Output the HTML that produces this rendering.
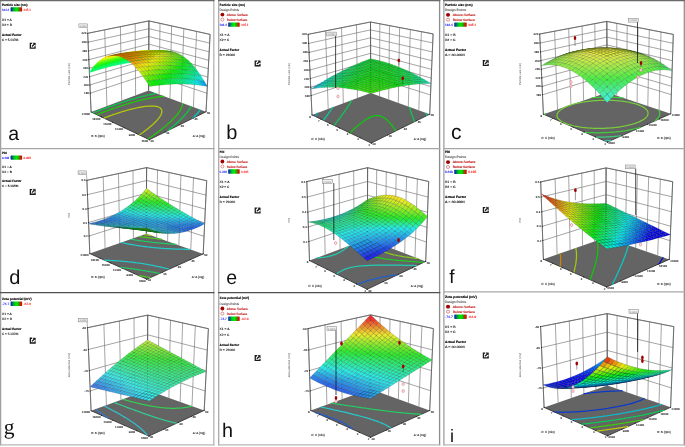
<!DOCTYPE html><html><head><meta charset="utf-8"><style>
html,body{margin:0;padding:0;background:#fff;}
body{width:685px;height:447px;overflow:hidden;font-family:"Liberation Sans",sans-serif;}
svg{display:block;font-family:"Liberation Sans",sans-serif;will-change:transform;text-rendering:geometricPrecision;}
</style></head><body>
<svg width="685" height="447" viewBox="0 0 685 447" font-family="Liberation Sans, sans-serif"><g><g stroke="#747474" stroke-width=".65" fill="none"><line x1="91.1" y1="112.0" x2="87.7" y2="33.3"/><line x1="106.9" y1="106.1" x2="104.7" y2="29.9"/><line x1="121.7" y1="100.6" x2="120.4" y2="26.7"/><line x1="135.6" y1="95.4" x2="135.2" y2="23.7"/><line x1="148.6" y1="90.6" x2="148.9" y2="20.9"/><line x1="206.0" y1="111.8" x2="210.1" y2="34.4"/><line x1="193.4" y1="107.2" x2="196.6" y2="31.4"/><line x1="181.4" y1="102.7" x2="183.8" y2="28.6"/><line x1="170.0" y1="98.5" x2="171.6" y2="25.9"/><line x1="159.1" y1="94.4" x2="160.0" y2="23.3"/><line x1="148.6" y1="90.6" x2="148.9" y2="20.9"/><line x1="90.3" y1="93.2" x2="148.7" y2="73.9"/><line x1="148.7" y1="73.9" x2="207.0" y2="93.3"/><line x1="89.9" y1="85.0" x2="148.7" y2="66.6"/><line x1="148.7" y1="66.6" x2="207.4" y2="85.3"/><line x1="89.6" y1="76.7" x2="148.7" y2="59.2"/><line x1="148.7" y1="59.2" x2="207.8" y2="77.1"/><line x1="89.2" y1="68.2" x2="148.8" y2="51.7"/><line x1="148.8" y1="51.7" x2="208.3" y2="68.7"/><line x1="88.8" y1="59.7" x2="148.8" y2="44.1"/><line x1="148.8" y1="44.1" x2="208.7" y2="60.3"/><line x1="88.5" y1="51.0" x2="148.9" y2="36.5"/><line x1="148.9" y1="36.5" x2="209.2" y2="51.8"/><line x1="88.1" y1="42.2" x2="148.9" y2="28.7"/><line x1="148.9" y1="28.7" x2="209.6" y2="43.1"/><line x1="87.7" y1="33.3" x2="148.9" y2="20.9"/><line x1="148.9" y1="20.9" x2="210.1" y2="34.4"/></g>
<polyline points="91.1,112.0 87.7,33.3 148.9,20.9 210.1,34.4 206.0,111.8" stroke="#555" stroke-width=".7" fill="none"/>
<line x1="148.6" y1="90.6" x2="148.9" y2="20.9" stroke="#555" stroke-width=".7"/>
<polygon points="91.1,112.0 149.4,139.7 206.0,111.8 148.6,90.6" fill="#646464"/>
<polyline points="91.1,112.0 149.4,139.7 206.0,111.8" stroke="#2a2a2a" stroke-width=".8" fill="none"/>
<polyline points="192.5,118.5 193.1,117.9 193.5,117.5 193.9,117.1 194.3,116.6 194.7,116.3 195.2,115.7 195.5,115.4 196.0,114.9 196.2,114.6 196.7,114.1 197.0,113.8 197.4,113.3 197.7,113.0 198.1,112.4 198.4,112.2 198.8,111.7 199.1,111.4 199.4,110.9 199.7,110.5 200.0,110.2 200.4,109.7 200.4,109.7" stroke="#06ccc9" stroke-width="1.25" stroke-linejoin="round" fill="none"/>
<polyline points="167.7,130.7 168.5,130.1 169.2,129.5 169.6,129.2 170.3,128.6 171.0,128.0 171.4,127.7 172.1,127.1 172.5,126.8 173.2,126.2 173.8,125.7 174.2,125.4 174.9,124.8 175.2,124.5 175.8,123.9 176.4,123.4 176.8,123.1 177.5,122.5 177.8,122.2 178.4,121.6 178.7,121.3 179.3,120.8 179.7,120.4 180.2,119.9 180.7,119.5 181.1,119.0 181.6,118.5 181.9,118.2 182.4,117.7 182.8,117.3 183.3,116.8 183.6,116.5 184.0,116.0 184.3,115.6 184.8,115.2 185.1,114.8 185.4,114.4 185.8,114.0 186.1,113.7 186.5,113.1 186.8,112.8 187.2,112.3 187.4,112.0 187.8,111.5 188.1,111.1 188.3,110.8 188.7,110.3 188.9,110.0 189.3,109.5 189.5,109.2 189.7,108.9 190.0,108.3 190.2,108.0 190.4,107.7 190.7,107.2 190.9,106.9 191.1,106.6 191.2,106.3" stroke="#06cc46" stroke-width="1.25" stroke-linejoin="round" fill="none"/>
<polyline points="156.2,93.4 155.4,93.5 154.5,93.7 153.6,93.9 152.8,94.0 151.7,94.3 151.1,94.4 150.0,94.6 149.5,94.7 148.4,95.0 147.5,95.2 146.8,95.4 145.7,95.6 145.2,95.8 144.1,96.0 143.1,96.3 142.5,96.4 141.5,96.7 140.4,97.0 139.8,97.1 138.8,97.4 137.8,97.7 136.8,98.0 136.2,98.1 135.2,98.4 134.1,98.7 133.2,99.0 132.6,99.1 131.6,99.4 130.5,99.7 129.5,100.1 129.0,100.2 127.9,100.5 126.9,100.8 125.9,101.2 124.8,101.5 123.9,101.8 123.3,102.0 122.3,102.3 121.2,102.6 120.2,103.0 119.2,103.3 118.1,103.7 117.1,104.0 116.6,104.2 115.5,104.5 114.5,104.9 113.5,105.3 112.4,105.6 111.4,106.0 110.3,106.4 109.3,106.7 108.3,107.1 107.2,107.5 106.2,107.9 105.1,108.2 104.1,108.6 103.0,109.0 102.0,109.4 100.9,109.8 99.9,110.2 98.8,110.6 97.8,111.0 96.7,111.4 95.7,111.8 94.6,112.2 93.5,112.7 93.0,112.9" stroke="#06cc46" stroke-width="1.25" stroke-linejoin="round" fill="none"/>
<polyline points="148.1,139.0 149.0,138.4 149.8,137.9 150.4,137.5 151.2,136.9 152.1,136.3 152.6,136.0 153.4,135.4 154.3,134.7 154.7,134.4 155.5,133.8 156.3,133.2 156.8,132.9 157.6,132.3 158.4,131.7 158.8,131.4 159.5,130.8 160.3,130.2 160.7,129.9 161.5,129.3 162.0,128.9 162.6,128.4 163.3,127.8 163.7,127.5 164.4,126.9 165.0,126.5 165.5,126.1 166.2,125.5 166.5,125.2 167.2,124.6 167.6,124.3 168.2,123.7 168.7,123.2 169.2,122.8 169.8,122.3 170.1,122.0 170.8,121.4 171.1,121.1 171.7,120.5 172.0,120.2 172.5,119.6 172.8,119.3 173.4,118.8 173.7,118.5 174.2,117.9 174.5,117.6 175.1,117.0 175.3,116.7 175.7,116.2 176.1,115.9 176.4,115.5 176.8,115.0 177.1,114.7 177.5,114.1 177.8,113.8 178.1,113.4 178.4,112.9 178.6,112.6 179.1,112.1 179.3,111.8 179.5,111.4 179.8,110.9 180.0,110.6 180.2,110.2 180.5,109.7 180.7,109.4 180.9,109.1 181.1,108.5 181.3,108.2 181.4,107.9 181.6,107.5 181.8,107.0 181.9,106.7 182.0,106.3 182.1,106.0 182.2,105.6 182.3,105.1 182.4,104.8 182.4,104.4 182.4,104.1 182.5,103.8 182.5,103.4 182.4,103.1" stroke="#1ccc06" stroke-width="1.25" stroke-linejoin="round" fill="none"/>
<polyline points="164.0,96.3 163.3,96.3 162.5,96.4 161.8,96.4 160.7,96.6 159.8,96.6 159.1,96.7 158.2,96.8 157.2,97.0 156.5,97.1 155.4,97.2 154.6,97.4 154.0,97.5 152.8,97.7 152.2,97.8 151.0,98.0 150.4,98.1 149.2,98.3 148.7,98.4 147.5,98.7 146.9,98.8 145.8,99.1 145.1,99.2 144.1,99.4 142.9,99.7 142.4,99.8 141.3,100.1 140.5,100.3 139.6,100.5 138.5,100.8 137.9,100.9 136.9,101.2 135.8,101.5 135.0,101.7 134.1,102.0 133.1,102.3 132.0,102.6 131.4,102.7 130.4,103.0 129.3,103.3 128.2,103.7 127.7,103.8 126.6,104.1 125.6,104.5 124.5,104.8 123.4,105.1 122.9,105.3 121.8,105.6 120.8,106.0 119.7,106.3 118.6,106.7 117.6,107.0 116.5,107.4 116.0,107.6 114.9,108.0 113.9,108.3 112.8,108.7 111.7,109.1 110.7,109.4 109.6,109.8 108.6,110.2 107.5,110.6 106.4,111.0 105.4,111.4 104.3,111.8 103.2,112.2 102.2,112.6 101.1,113.0 100.0,113.4 98.9,113.8 97.9,114.3 96.8,114.7 96.8,114.7" stroke="#1ccc06" stroke-width="1.25" stroke-linejoin="round" fill="none"/>
<polyline points="139.4,134.9 140.3,134.3 140.7,134.0 141.6,133.4 142.4,132.8 142.9,132.5 143.7,131.9 144.5,131.2 144.9,130.9 145.7,130.3 146.2,130.0 146.9,129.4 147.7,128.8 148.1,128.5 148.8,127.9 149.2,127.6 149.9,127.0 150.4,126.6 151.0,126.1 151.6,125.6 152.0,125.2 152.7,124.6 153.0,124.2 153.7,123.7 154.0,123.3 154.6,122.8 155.0,122.4 155.4,122.0 155.9,121.5 156.2,121.1 156.7,120.6 157.0,120.3 157.6,119.6 157.8,119.3 158.2,118.9 158.6,118.4 158.8,118.1 159.2,117.5 159.5,117.1 159.7,116.8 160.1,116.3 160.3,115.8 160.5,115.5 160.7,115.1 161.0,114.6 161.2,114.2 161.3,113.8 161.5,113.5 161.6,113.0 161.7,112.6 161.8,112.1 161.8,111.7 161.9,111.3 161.8,110.9 161.8,110.5 161.7,110.1 161.6,109.7 161.4,109.4 161.2,109.1 160.9,108.6 160.5,108.2 160.2,107.9 159.4,107.5 158.5,107.0 157.5,106.7 156.3,106.4 155.7,106.3 154.7,106.2 153.5,106.1 152.6,106.0 151.7,106.0 150.8,106.0 149.8,106.0 148.9,106.1 148.1,106.1 147.4,106.2 146.4,106.3 145.1,106.4 144.4,106.5 143.7,106.6 142.4,106.8 141.7,106.9 140.7,107.1 139.7,107.3 139.0,107.4 137.8,107.7 137.1,107.8 135.9,108.0 135.0,108.3 134.1,108.5 132.9,108.8 132.3,108.9 131.1,109.2 130.2,109.4 129.3,109.7 128.1,110.0 127.3,110.2 126.4,110.5 125.2,110.8 124.1,111.1 123.5,111.3 122.4,111.7 121.2,112.0 120.1,112.4 119.4,112.6 118.4,112.9 117.3,113.3 116.2,113.6 115.1,114.0 113.9,114.4 113.1,114.7 112.3,115.0 111.2,115.4 110.0,115.8 108.9,116.2 107.8,116.6 106.7,117.0 105.6,117.4 104.5,117.9 104.0,118.1" stroke="#b6cc06" stroke-width="1.25" stroke-linejoin="round" fill="none"/>
<g transform="scale(.1)" stroke="#000" stroke-opacity="0.2" stroke-width="5.5" stroke-linejoin="round"><path d="M1488 585l26-1-27 25-26 1z" fill="#07f7cd" stroke="#07f7cd" stroke-opacity="1"/><path d="M1462 586l26-1-27 25-26 1z" fill="#07f7c0" stroke="#07f7c0" stroke-opacity="1"/><path d="M1515 563l26 0-27 21-26 1z" fill="#07f793" stroke="#07f793" stroke-opacity="1"/><path d="M1435 587l27-1-27 25-27 2z" fill="#07f7b5" stroke="#07f7b5" stroke-opacity="1"/><path d="M1488 564l27-1-27 22-26 1z" fill="#07f787" stroke="#07f787" stroke-opacity="1"/><path d="M1542 545l26 0-27 18-26 0z" fill="#07f761" stroke="#07f761" stroke-opacity="1"/><path d="M1408 589l27-2-27 26-27 3z" fill="#07f7aa" stroke="#07f7aa" stroke-opacity="1"/><path d="M1462 565l26-1-26 22-27 1z" fill="#07f77a" stroke="#07f77a" stroke-opacity="1"/><path d="M1516 545l26 0-27 18-27 1z" fill="#07f754" stroke="#07f754" stroke-opacity="1"/><path d="M1570 531l26 1-28 13-26 0z" fill="#07f736" stroke="#07f736" stroke-opacity="1"/><path d="M1380 592l28-3-27 27-27 3z" fill="#07f7a0" stroke="#07f7a0" stroke-opacity="1"/><path d="M1434 566l28-1-27 22-27 2z" fill="#07f76f" stroke="#07f76f" stroke-opacity="1"/><path d="M1489 546l27-1-28 19-26 1z" fill="#07f747" stroke="#07f747" stroke-opacity="1"/><path d="M1544 530l26 1-28 14-26 0z" fill="#07f728" stroke="#07f728" stroke-opacity="1"/><path d="M1598 520l26 1-28 11-26-1z" fill="#07f712" stroke="#07f712" stroke-opacity="1"/><path d="M1352 595l28-3-26 27-28 3z" fill="#07f797" stroke="#07f797" stroke-opacity="1"/><path d="M1407 568l27-2-26 23-28 3z" fill="#07f764" stroke="#07f764" stroke-opacity="1"/><path d="M1462 547l27-1-27 19-28 1z" fill="#07f73b" stroke="#07f73b" stroke-opacity="1"/><path d="M1517 531l27-1-28 15-27 1z" fill="#07f71b" stroke="#07f71b" stroke-opacity="1"/><path d="M1627 513l26 2-29 6-26-1z" fill="#20f707" stroke="#20f707" stroke-opacity="1"/><path d="M1572 519l26 1-28 11-26-1z" fill="#0df707" stroke="#0df707" stroke-opacity="1"/><path d="M1324 598l28-3-26 27-28 4z" fill="#07f78f" stroke="#07f78f" stroke-opacity="1"/><path d="M1379 571l28-3-27 24-28 3z" fill="#07f75b" stroke="#07f75b" stroke-opacity="1"/><path d="M1434 548l28-1-28 19-27 2z" fill="#07f730" stroke="#07f730" stroke-opacity="1"/><path d="M1489 531l28 0-28 15-27 1z" fill="#07f70e" stroke="#07f70e" stroke-opacity="1"/><path d="M1655 511l26 2-28 2-26-2z" fill="#3ef707" stroke="#3ef707" stroke-opacity="1"/><path d="M1545 519l27 0-28 11-27 1z" fill="#20f707" stroke="#20f707" stroke-opacity="1"/><path d="M1600 512l27 1-29 7-26-1z" fill="#35f707" stroke="#35f707" stroke-opacity="1"/><path d="M1295 602l29-4-26 28-29 4z" fill="#07f787" stroke="#07f787" stroke-opacity="1"/><path d="M1351 573l28-2-27 24-28 3z" fill="#07f752" stroke="#07f752" stroke-opacity="1"/><path d="M1406 550l28-2-27 20-28 3z" fill="#07f725" stroke="#07f725" stroke-opacity="1"/><path d="M1684 512l26 2-29-1-26-2z" fill="#52f707" stroke="#52f707" stroke-opacity="1"/><path d="M1462 532l27-1-27 16-28 1z" fill="#0ff707" stroke="#0ff707" stroke-opacity="1"/><path d="M1629 509l26 2-28 2-27-1z" fill="#54f707" stroke="#54f707" stroke-opacity="1"/><path d="M1518 519l27 0-28 12-28 0z" fill="#32f707" stroke="#32f707" stroke-opacity="1"/><path d="M1573 511l27 1-28 7-27 0z" fill="#49f707" stroke="#49f707" stroke-opacity="1"/><path d="M1266 606l29-4-26 28-29 5z" fill="#07f780" stroke="#07f780" stroke-opacity="1"/><path d="M1322 577l29-4-27 25-29 4z" fill="#07f749" stroke="#07f749" stroke-opacity="1"/><path d="M1714 517l26 3-30-6-26-2z" fill="#58eb07"/><path d="M1378 553l28-3-27 21-28 2z" fill="#07f71c" stroke="#07f71c" stroke-opacity="1"/><path d="M1658 510l26 2-29-1-26-2z" fill="#69f707" stroke="#69f707" stroke-opacity="1"/><path d="M1434 533l28-1-28 16-28 2z" fill="#1ef707" stroke="#1ef707" stroke-opacity="1"/><path d="M1602 508l27 1-29 3-27-1z" fill="#69f707" stroke="#69f707" stroke-opacity="1"/><path d="M1490 520l28-1-29 12-27 1z" fill="#43f707" stroke="#43f707" stroke-opacity="1"/><path d="M1546 511l27 0-28 8-27 0z" fill="#5cf707" stroke="#5cf707" stroke-opacity="1"/><path d="M1237 611l29-5-26 29-29 6z" fill="#07f77a" stroke="#07f77a" stroke-opacity="1"/><path d="M1293 581l29-4-27 25-29 4z" fill="#07f742" stroke="#07f742" stroke-opacity="1"/><path d="M1743 526l26 4-29-10-26-3z" fill="#5aeb07"/><path d="M1349 555l29-2-27 20-29 4z" fill="#07f713" stroke="#07f713" stroke-opacity="1"/><path d="M1688 515l26 2-30-5-26-2z" fill="#6feb07"/><path d="M1405 535l29-2-28 17-28 3z" fill="#2cf707" stroke="#2cf707" stroke-opacity="1"/><path d="M1631 508l27 2-29-1-27-1z" fill="#7ff707" stroke="#7ff707" stroke-opacity="1"/><path d="M1462 521l28-1-28 12-28 1z" fill="#53f707" stroke="#53f707" stroke-opacity="1"/><path d="M1575 507l27 1-29 3-27 0z" fill="#7cf707" stroke="#7cf707" stroke-opacity="1"/><path d="M1519 511l27 0-28 8-28 1z" fill="#6ef707" stroke="#6ef707" stroke-opacity="1"/><path d="M1207 616l30-5-26 30-30 6z" fill="#07f775" stroke="#07f775" stroke-opacity="1"/><path d="M1773 540l26 3-30-13-26-4z" fill="#52eb07"/><path d="M1263 585l30-4-27 25-29 5z" fill="#07f73b" stroke="#07f73b" stroke-opacity="1"/><path d="M1717 524l26 2-29-9-26-2z" fill="#71eb07"/><path d="M1320 559l29-4-27 22-29 4z" fill="#07f70b" stroke="#07f70b" stroke-opacity="1"/><path d="M1661 513l27 2-30-5-27-2z" fill="#84eb07"/><path d="M1377 538l28-3-27 18-29 2z" fill="#39f707" stroke="#39f707" stroke-opacity="1"/><path d="M1604 507l27 1-29 0-27-1z" fill="#93f707" stroke="#93f707" stroke-opacity="1"/><path d="M1434 522l28-1-28 12-29 2z" fill="#62f707" stroke="#62f707" stroke-opacity="1"/><path d="M1547 507l28 0-29 4-27 0z" fill="#8ff707" stroke="#8ff707" stroke-opacity="1"/><path d="M1491 512l28-1-29 9-28 1z" fill="#7ef707" stroke="#7ef707" stroke-opacity="1"/><path d="M1804 558l25 4-30-19-26-3z" fill="#41eb07"/><path d="M1177 622l30-6-26 31-30 6z" fill="#07f770" stroke="#07f770" stroke-opacity="1"/><path d="M1747 537l26 3-30-14-26-2z" fill="#6aeb07"/><path d="M1233 590l30-5-26 26-30 5z" fill="#07f735" stroke="#07f735" stroke-opacity="1"/><path d="M1691 522l26 2-29-9-27-2z" fill="#87eb07"/><path d="M1290 563l30-4-27 22-30 4z" fill="#0df707" stroke="#0df707" stroke-opacity="1"/><path d="M1834 580l25 4-30-22-25-4z" fill="#27eb07"/><path d="M1634 511l27 2-30-5-27-1z" fill="#98eb07"/><path d="M1347 541l30-3-28 17-29 4z" fill="#44f707" stroke="#44f707" stroke-opacity="1"/><path d="M1577 506l27 1-29 0-28 0z" fill="#a7f707" stroke="#a7f707" stroke-opacity="1"/><path d="M1405 524l29-2-29 13-28 3z" fill="#6ff707" stroke="#6ff707" stroke-opacity="1"/><path d="M1519 507l28 0-28 4-28 1z" fill="#a1f707" stroke="#a1f707" stroke-opacity="1"/><path d="M1462 513l29-1-29 9-28 1z" fill="#8ef707" stroke="#8ef707" stroke-opacity="1"/><path d="M1778 555l26 3-31-18-26-3z" fill="#5aeb07"/><path d="M1146 629l31-7-26 31-31 7z" fill="#07f76c" stroke="#07f76c" stroke-opacity="1"/><path d="M1721 535l26 2-30-13-26-2z" fill="#81eb07"/><path d="M1203 595l30-5-26 26-30 6z" fill="#07f730" stroke="#07f730" stroke-opacity="1"/><path d="M1864 607l26 4-31-27-25-4z" fill="#07eb09"/><path d="M1664 520l27 2-30-9-27-2z" fill="#9ceb07"/><path d="M1260 567l30-4-27 22-30 5z" fill="#16f707" stroke="#16f707" stroke-opacity="1"/><path d="M1606 510l28 1-30-4-27-1z" fill="#aceb07"/><path d="M1318 544l29-3-27 18-30 4z" fill="#4ff707" stroke="#4ff707" stroke-opacity="1"/><path d="M1808 577l26 3-30-22-26-3z" fill="#41eb07"/><path d="M1549 506l28 0-30 1-28 0z" fill="#b9f707" stroke="#b9f707" stroke-opacity="1"/><path d="M1375 526l30-2-28 14-30 3z" fill="#7cf707" stroke="#7cf707" stroke-opacity="1"/><path d="M1491 507l28 0-28 5-29 1z" fill="#b1f707" stroke="#b1f707" stroke-opacity="1"/><path d="M1433 514l29-1-28 9-29 2z" fill="#9df707" stroke="#9df707" stroke-opacity="1"/><path d="M1895 638l25 4-30-31-26-4z" fill="#07eb2a"/><path d="M1115 636l31-7-26 31-31 8z" fill="#07f769" stroke="#07f769" stroke-opacity="1"/><path d="M1751 552l27 3-31-18-26-2z" fill="#71eb07"/><path d="M1172 601l31-6-26 27-31 7z" fill="#07f72b" stroke="#07f72b" stroke-opacity="1"/><path d="M1694 533l27 2-30-13-27-2z" fill="#97eb07"/><path d="M1839 603l25 4-30-27-26-3z" fill="#1feb07"/><path d="M1230 572l30-5-27 23-30 5z" fill="#1ef707" stroke="#1ef707" stroke-opacity="1"/><path d="M1926 674l25 4-31-36-25-4z" fill="#07eb51"/><path d="M1636 518l28 2-30-9-28-1z" fill="#b0eb07"/><path d="M1288 548l30-4-28 19-30 4z" fill="#59f707" stroke="#59f707" stroke-opacity="1"/><path d="M1578 510l28 0-29-4-28 0z" fill="#beeb07"/><path d="M1782 574l26 3-30-22-27-3z" fill="#59eb07"/><path d="M1346 529l29-3-28 15-29 3z" fill="#88f707" stroke="#88f707" stroke-opacity="1"/><path d="M1520 506l29 0-30 1-28 0z" fill="#cbf707" stroke="#cbf707" stroke-opacity="1"/><path d="M1404 516l29-2-28 10-30 2z" fill="#aaf707" stroke="#aaf707" stroke-opacity="1"/><path d="M1462 509l29-2-29 6-29 1z" fill="#c1f707" stroke="#c1f707" stroke-opacity="1"/><path d="M1083 643l32-7-26 32-31 8z" fill="#07f767" stroke="#07f767" stroke-opacity="1"/><path d="M1869 634l26 4-31-31-25-4z" fill="#07eb15"/><path d="M1957 714l24 4-30-40-25-4z" fill="#07eb7e"/><path d="M1724 550l27 2-30-17-27-2z" fill="#88eb07"/><path d="M1141 608l31-7-26 28-31 7z" fill="#07f728" stroke="#07f728" stroke-opacity="1"/><path d="M1667 531l27 2-30-13-28-2z" fill="#aceb07"/><path d="M1812 600l27 3-31-26-26-3z" fill="#38eb07"/><path d="M1199 577l31-5-27 23-31 6z" fill="#25f707" stroke="#25f707" stroke-opacity="1"/><path d="M1987 758l25 5-31-45-24-4z" fill="#07ebb3"/><path d="M1608 517l28 1-30-8-28 0z" fill="#c3eb07"/><path d="M1900 670l26 4-31-36-26-4z" fill="#07eb3c"/><path d="M1257 552l31-4-28 19-30 5z" fill="#62f707" stroke="#62f707" stroke-opacity="1"/><path d="M1550 510l28 0-29-4-29 0z" fill="#cfeb07"/><path d="M1316 533l30-4-28 15-30 4z" fill="#93f707" stroke="#93f707" stroke-opacity="1"/><path d="M1755 571l27 3-31-22-27-2z" fill="#71eb07"/><path d="M1492 507l28-1-29 1-29 2z" fill="#dbf707" stroke="#dbf707" stroke-opacity="1"/><path d="M1051 652l32-9-25 33-32 8z" fill="#07f765" stroke="#07f765" stroke-opacity="1"/><path d="M1374 519l30-3-29 10-29 3z" fill="#b7f707" stroke="#b7f707" stroke-opacity="1"/><path d="M1433 510l29-1-29 5-29 2z" fill="#cff707" stroke="#cff707" stroke-opacity="1"/><path d="M2018 807l25 5-31-49-25-5z" fill="#07e7eb"/><path d="M1843 631l26 3-30-31-27-3z" fill="#0eeb07"/><path d="M1931 710l26 4-31-40-26-4z" fill="#07eb69"/><path d="M1697 548l27 2-30-17-27-2z" fill="#9eeb07"/><path d="M1109 615l32-7-26 28-32 7z" fill="#07f725" stroke="#07f725" stroke-opacity="1"/><path d="M2049 861l24 4-30-53-25-5z" fill="#079beb"/><path d="M1639 530l28 1-31-13-28-1z" fill="#c0eb07"/><path d="M1167 583l32-6-27 24-31 7z" fill="#2bf707" stroke="#2bf707" stroke-opacity="1"/><path d="M1786 597l26 3-30-26-27-3z" fill="#50eb07"/><path d="M1580 517l28 0-30-7-28 0z" fill="#d5eb07"/><path d="M1226 557l31-5-27 20-31 5z" fill="#6af707" stroke="#6af707" stroke-opacity="1"/><path d="M1962 754l25 4-30-44-26-4z" fill="#07eb9d"/><path d="M1874 666l26 4-31-36-26-3z" fill="#07eb28"/><path d="M1521 510l29 0-30-4-28 1z" fill="#e0eb07"/><path d="M1285 537l31-4-28 15-31 4z" fill="#9cf707" stroke="#9cf707" stroke-opacity="1"/><path d="M1019 660l32-8-25 32-33 10z" fill="#07f765" stroke="#07f765" stroke-opacity="1"/><path d="M1462 508l30-1-30 2-29 1z" fill="#eaf707" stroke="#eaf707" stroke-opacity="1"/><path d="M1344 522l30-3-28 10-30 4z" fill="#c3f707" stroke="#c3f707" stroke-opacity="1"/><path d="M1728 569l27 2-31-21-27-2z" fill="#87eb07"/><path d="M1403 512l30-2-29 6-30 3z" fill="#ddf707" stroke="#ddf707" stroke-opacity="1"/><path d="M1993 803l25 4-31-49-25-4z" fill="#07ebd7"/><path d="M1077 622l32-7-26 28-32 9z" fill="#07f723" stroke="#07f723" stroke-opacity="1"/><path d="M1817 628l26 3-31-31-26-3z" fill="#27eb07"/><path d="M1669 546l28 2-30-17-28-1z" fill="#b3eb07"/><path d="M1906 706l25 4-31-40-26-4z" fill="#07eb54"/><path d="M1136 590l31-7-26 25-32 7z" fill="#30f707" stroke="#30f707" stroke-opacity="1"/><path d="M1611 529l28 1-31-13-28 0z" fill="#d3eb07"/><path d="M2024 857l25 4-31-54-25-4z" fill="#07b6eb"/><path d="M1759 595l27 2-31-26-27-2z" fill="#68eb07"/><path d="M1195 563l31-6-27 20-32 6z" fill="#70f707" stroke="#70f707" stroke-opacity="1"/><path d="M1551 517l29 0-30-7-29 0z" fill="#e7eb07"/><path d="M1937 751l25 3-31-44-25-4z" fill="#07eb88"/><path d="M1848 663l26 3-31-35-26-3z" fill="#07eb15"/><path d="M986 670l33-10-26 34-32 9z" fill="#07f765" stroke="#07f765" stroke-opacity="1"/><path d="M1254 541l31-4-28 15-31 5z" fill="#a5f707" stroke="#a5f707" stroke-opacity="1"/><path d="M1492 511l29-1-29-3-30 1z" fill="#ebe607"/><path d="M1313 525l31-3-28 11-31 4z" fill="#cdf707" stroke="#cdf707" stroke-opacity="1"/><path d="M1433 510l29-2-29 2-30 2z" fill="#f7f607" stroke="#f7f607" stroke-opacity="1"/><path d="M1373 515l30-3-29 7-30 3z" fill="#e9f707" stroke="#e9f707" stroke-opacity="1"/><path d="M1700 567l28 2-31-21-28-2z" fill="#9deb07"/><path d="M1044 631l33-9-26 30-32 8z" fill="#07f721" stroke="#07f721" stroke-opacity="1"/><path d="M1968 800l25 3-31-49-25-3z" fill="#07ebc2"/><path d="M1790 626l27 2-31-31-27-2z" fill="#3feb07"/><path d="M1641 545l28 1-30-16-28-1z" fill="#c7eb07"/><path d="M1879 703l27 3-32-40-26-3z" fill="#07eb41"/><path d="M1103 597l33-7-27 25-32 7z" fill="#33f707" stroke="#33f707" stroke-opacity="1"/><path d="M1582 529l29 0-31-12-29 0z" fill="#e5eb07"/><path d="M1163 569l32-6-28 20-31 7z" fill="#76f707" stroke="#76f707" stroke-opacity="1"/><path d="M1999 853l25 4-31-54-25-3z" fill="#07d0eb"/><path d="M1731 593l28 2-31-26-28-2z" fill="#7eeb07"/><path d="M1522 517l29 0-30-7-29 1z" fill="#ebde07"/><path d="M952 679l34-9-25 33-33 11z" fill="#07f766" stroke="#07f766" stroke-opacity="1"/><path d="M1222 546l32-5-28 16-31 6z" fill="#acf707" stroke="#acf707" stroke-opacity="1"/><path d="M1462 512l30-1-30-3-29 2z" fill="#ebd807"/><path d="M1911 747l26 4-31-45-27-3z" fill="#07eb73"/><path d="M1821 661l27 2-31-35-27-2z" fill="#0eeb07"/><path d="M1282 529l31-4-28 12-31 4z" fill="#d7f707" stroke="#d7f707" stroke-opacity="1"/><path d="M1402 512l31-2-30 2-30 3z" fill="#f7e907" stroke="#f7e907" stroke-opacity="1"/><path d="M1342 518l31-3-29 7-31 3z" fill="#f4f707" stroke="#f4f707" stroke-opacity="1"/><path d="M1672 566l28 1-31-21-28-1z" fill="#b2eb07"/><path d="M1011 639l33-8-25 29-33 10z" fill="#07f721" stroke="#07f721" stroke-opacity="1"/><path d="M1942 796l26 4-31-49-26-4z" fill="#07ebac"/><path d="M1613 545l28 0-30-16-29 0z" fill="#daeb07"/><path d="M1763 623l27 3-31-31-28-2z" fill="#57eb07"/><path d="M1071 605l32-8-26 25-33 9z" fill="#36f707" stroke="#36f707" stroke-opacity="1"/><path d="M1853 700l26 3-31-40-27-2z" fill="#07eb2d"/><path d="M1553 529l29 0-31-12-29 0z" fill="#ebe007"/><path d="M1130 575l33-6-27 21-33 7z" fill="#7bf707" stroke="#7bf707" stroke-opacity="1"/><path d="M918 690l34-11-24 35-34 11z" fill="#07f767" stroke="#07f767" stroke-opacity="1"/><path d="M1703 592l28 1-31-26-28-1z" fill="#94eb07"/><path d="M1974 850l25 3-31-53-26-4z" fill="#07e9eb"/><path d="M1493 518l29-1-30-6-30 1z" fill="#ebcf07"/><path d="M1191 552l31-6-27 17-32 6z" fill="#b3f707" stroke="#b3f707" stroke-opacity="1"/><path d="M1432 514l30-2-29-2-31 2z" fill="#ebca07"/><path d="M1251 534l31-5-28 12-32 5z" fill="#dff707" stroke="#dff707" stroke-opacity="1"/><path d="M1372 515l30-3-29 3-31 3z" fill="#f7dc07" stroke="#f7dc07" stroke-opacity="1"/><path d="M1311 521l31-3-29 7-31 4z" fill="#f7f007" stroke="#f7f007" stroke-opacity="1"/><path d="M1794 658l27 3-31-35-27-3z" fill="#26eb07"/><path d="M1884 745l27 2-32-44-26-3z" fill="#07eb5f"/><path d="M978 649l33-10-25 31-34 9z" fill="#07f721" stroke="#07f721" stroke-opacity="1"/><path d="M1644 565l28 1-31-21-28 0z" fill="#c5eb07"/><path d="M1037 613l34-8-27 26-33 8z" fill="#38f707" stroke="#38f707" stroke-opacity="1"/><path d="M1584 545l29 0-31-16-29 0z" fill="#ebea07"/><path d="M1735 622l28 1-32-30-28-1z" fill="#6deb07"/><path d="M1916 794l26 2-31-49-27-2z" fill="#07eb98"/><path d="M1826 698l27 2-32-39-27-3z" fill="#07eb1b"/><path d="M1098 583l32-8-27 22-32 8z" fill="#7ef707" stroke="#7ef707" stroke-opacity="1"/><path d="M1523 529l30 0-31-12-29 1z" fill="#ebd007"/><path d="M1158 558l33-6-28 17-33 6z" fill="#b8f707" stroke="#b8f707" stroke-opacity="1"/><path d="M1462 520l31-2-31-6-30 2z" fill="#ebc107"/><path d="M1675 591l28 1-31-26-28-1z" fill="#a8eb07"/><path d="M1948 847l26 3-32-54-26-2z" fill="#07ebd7"/><path d="M1219 539l32-5-29 12-31 6z" fill="#e6f707" stroke="#e6f707" stroke-opacity="1"/><path d="M1402 516l30-2-30-2-30 3z" fill="#ebbe07"/><path d="M1280 526l31-5-29 8-31 5z" fill="#f7e707" stroke="#f7e707" stroke-opacity="1"/><path d="M1341 518l31-3-30 3-31 3z" fill="#f7d107" stroke="#f7d107" stroke-opacity="1"/><path d="M944 659l34-10-26 30-34 11z" fill="#07f722" stroke="#07f722" stroke-opacity="1"/><path d="M1767 657l27 1-31-35-28-1z" fill="#3deb07"/><path d="M1858 742l26 3-31-45-27-2z" fill="#07eb4c"/><path d="M1615 565l29 0-31-20-29 0z" fill="#d8eb07"/><path d="M1004 622l33-9-26 26-33 10z" fill="#38f707" stroke="#38f707" stroke-opacity="1"/><path d="M1554 545l30 0-31-16-30 0z" fill="#ebd907"/><path d="M1707 621l28 1-32-30-28-1z" fill="#82eb07"/><path d="M1889 791l27 3-32-49-26-3z" fill="#07eb84"/><path d="M1064 590l34-7-27 22-34 8z" fill="#81f707" stroke="#81f707" stroke-opacity="1"/><path d="M1798 696l28 2-32-40-27-1z" fill="#07eb09"/><path d="M1493 530l30-1-30-11-31 2z" fill="#ebc007"/><path d="M1125 565l33-7-28 17-32 8z" fill="#bdf707" stroke="#bdf707" stroke-opacity="1"/><path d="M1432 522l30-2-30-6-30 2z" fill="#ebb407"/><path d="M1646 590l29 1-31-26-29 0z" fill="#bceb07"/><path d="M1186 545l33-6-28 13-33 6z" fill="#edf707" stroke="#edf707" stroke-opacity="1"/><path d="M1370 519l32-3-30-1-31 3z" fill="#ebb207"/><path d="M1248 530l32-4-29 8-32 5z" fill="#f7de07" stroke="#f7de07" stroke-opacity="1"/><path d="M1921 845l27 2-32-53-27-3z" fill="#07ebc3"/><path d="M1309 522l32-4-30 3-31 5z" fill="#f7c707" stroke="#f7c707" stroke-opacity="1"/><path d="M1738 655l29 2-32-35-28-1z" fill="#53eb07"/><path d="M1830 740l28 2-32-44-28-2z" fill="#07eb3a"/><path d="M1585 565l30 0-31-20-30 0z" fill="#eaeb07"/><path d="M970 631l34-9-26 27-34 10z" fill="#38f707" stroke="#38f707" stroke-opacity="1"/><path d="M1524 546l30-1-31-16-30 1z" fill="#ebc907"/><path d="M1031 599l33-9-27 23-33 9z" fill="#82f707" stroke="#82f707" stroke-opacity="1"/><path d="M1678 620l29 1-32-30-29-1z" fill="#97eb07"/><path d="M1862 790l27 1-31-49-28-2z" fill="#07eb71"/><path d="M1770 695l28 1-31-39-29-2z" fill="#1beb07"/><path d="M1463 532l30-2-31-10-30 2z" fill="#ebb207"/><path d="M1092 572l33-7-27 18-34 7z" fill="#c0f707" stroke="#c0f707" stroke-opacity="1"/><path d="M1401 524l31-2-30-6-32 3z" fill="#eba707"/><path d="M1153 551l33-6-28 13-33 7z" fill="#f2f707" stroke="#f2f707" stroke-opacity="1"/><path d="M1617 590l29 0-31-25-30 0z" fill="#ceeb07"/><path d="M1339 522l31-3-29-1-32 4z" fill="#eba807"/><path d="M1215 535l33-5-29 9-33 6z" fill="#f7d707" stroke="#f7d707" stroke-opacity="1"/><path d="M1277 526l32-4-29 4-32 4z" fill="#ebb407"/><path d="M1894 843l27 2-32-54-27-1z" fill="#07ebb0"/><path d="M1710 655l28 0-31-34-29-1z" fill="#68eb07"/><path d="M1802 739l28 1-32-44-28-1z" fill="#07eb28"/><path d="M1555 566l30-1-31-20-30 1z" fill="#ebdb07"/><path d="M996 608l35-9-27 23-34 9z" fill="#83f707" stroke="#83f707" stroke-opacity="1"/><path d="M1494 547l30-1-31-16-30 2z" fill="#ebba07"/><path d="M1649 620l29 0-32-30-29 0z" fill="#aaeb07"/><path d="M1058 580l34-8-28 18-33 9z" fill="#c3f707" stroke="#c3f707" stroke-opacity="1"/><path d="M1835 788l27 2-32-50-28-1z" fill="#07eb5f"/><path d="M1431 534l32-2-31-10-31 2z" fill="#eba507"/><path d="M1742 694l28 1-32-40-28 0z" fill="#31eb07"/><path d="M1120 558l33-7-28 14-33 7z" fill="#f6f707" stroke="#f6f707" stroke-opacity="1"/><path d="M1369 527l32-3-31-5-31 3z" fill="#eb9c07"/><path d="M1182 541l33-6-29 10-33 6z" fill="#f7d107" stroke="#f7d107" stroke-opacity="1"/><path d="M1307 526l32-4-30 0-32 4z" fill="#eb9e07"/><path d="M1244 531l33-5-29 4-33 5z" fill="#ebac07"/><path d="M1587 590l30 0-32-25-30 1z" fill="#e0eb07"/><path d="M1867 842l27 1-32-53-27-2z" fill="#07eb9d"/><path d="M1681 654l29 1-32-35-29 0z" fill="#7ceb07"/><path d="M1525 567l30-1-31-20-30 1z" fill="#ebcb07"/><path d="M1774 738l28 1-32-44-28-1z" fill="#07eb18"/><path d="M1463 549l31-2-31-15-32 2z" fill="#ebac07"/><path d="M1619 620l30 0-32-30-30 0z" fill="#bceb07"/><path d="M1023 588l35-8-27 19-35 9z" fill="#c4f707" stroke="#c4f707" stroke-opacity="1"/><path d="M1400 537l31-3-30-10-32 3z" fill="#eb9907"/><path d="M1807 787l28 1-33-49-28-1z" fill="#07eb4e"/><path d="M1713 693l29 1-32-39-29-1z" fill="#46eb07"/><path d="M1086 565l34-7-28 14-34 8z" fill="#f7f507" stroke="#f7f507" stroke-opacity="1"/><path d="M1337 531l32-4-30-5-32 4z" fill="#eb9207"/><path d="M1148 548l34-7-29 10-33 7z" fill="#f7cc07" stroke="#f7cc07" stroke-opacity="1"/><path d="M1274 531l33-5-30 0-33 5z" fill="#eb9607"/><path d="M1211 536l33-5-29 4-33 6z" fill="#eba607"/><path d="M1557 591l30-1-32-24-30 1z" fill="#ebe507"/><path d="M1839 841l28 1-32-54-28-1z" fill="#07eb8b"/><path d="M1651 654l30 0-32-34-30 0z" fill="#90eb07"/><path d="M1494 569l31-2-31-20-31 2z" fill="#ebbc07"/><path d="M1745 738l29 0-32-44-29-1z" fill="#07eb08"/><path d="M1431 551l32-2-32-15-31 3z" fill="#eb9f07"/><path d="M1589 621l30-1-32-30-30 1z" fill="#ceeb07"/><path d="M1368 540l32-3-31-10-32 4z" fill="#eb8e07"/><path d="M1051 573l35-8-28 15-35 8z" fill="#f7f307" stroke="#f7f307" stroke-opacity="1"/><path d="M1778 787l29 0-33-49-29 0z" fill="#07eb3d"/><path d="M1304 535l33-4-30-5-33 5z" fill="#eb8807"/><path d="M1684 694l29-1-32-39-30 0z" fill="#5aeb07"/><path d="M1114 555l34-7-28 10-34 7z" fill="#f7c807" stroke="#f7c807" stroke-opacity="1"/><path d="M1241 536l33-5-30 0-33 5z" fill="#eb8e07"/><path d="M1178 542l33-6-29 5-34 7z" fill="#eba007"/><path d="M1526 593l31-2-32-24-31 2z" fill="#ebd507"/><path d="M1811 841l28 0-32-54-29 0z" fill="#07eb79"/><path d="M1621 655l30-1-32-34-30 1z" fill="#a2eb07"/><path d="M1463 571l31-2-31-20-32 2z" fill="#ebae07"/><path d="M1716 738l29 0-32-45-29 1z" fill="#1beb07"/><path d="M1399 554l32-3-31-14-32 3z" fill="#eb9307"/><path d="M1558 622l31-1-32-30-31 2z" fill="#deeb07"/><path d="M1335 544l33-4-31-9-33 4z" fill="#eb8407"/><path d="M1080 562l34-7-28 10-35 8z" fill="#f7c507" stroke="#f7c507" stroke-opacity="1"/><path d="M1271 540l33-5-30-4-33 5z" fill="#eb8007"/><path d="M1749 787l29 0-33-49-29 0z" fill="#07eb2d"/><path d="M1144 549l34-7-30 6-34 7z" fill="#eb9b07"/><path d="M1654 694l30 0-33-40-30 1z" fill="#6deb07"/><path d="M1207 541l34-5-30 0-33 6z" fill="#eb8807"/><path d="M1495 595l31-2-32-24-31 2z" fill="#ebc707"/><path d="M1431 573l32-2-32-20-32 3z" fill="#eba207"/><path d="M1782 841l29 0-33-54-29 0z" fill="#07eb69"/><path d="M1590 656l31-1-32-34-31 1z" fill="#b3eb07"/><path d="M1686 738l30 0-32-44-30 0z" fill="#2feb07"/><path d="M1367 558l32-4-31-14-33 4z" fill="#eb8807"/><path d="M1302 548l33-4-31-9-33 5z" fill="#eb7b07"/><path d="M1527 624l31-2-32-29-31 2z" fill="#ebe807"/><path d="M1238 545l33-5-30-4-34 5z" fill="#eb7907"/><path d="M1109 556l35-7-30 6-34 7z" fill="#eb9807"/><path d="M1173 547l34-6-29 1-34 7z" fill="#eb8207"/><path d="M1623 695l31-1-33-39-31 1z" fill="#7feb07"/><path d="M1719 787l30 0-33-49-30 0z" fill="#07eb1e"/><path d="M1463 597l32-2-32-24-32 2z" fill="#ebb907"/><path d="M1398 577l33-4-32-19-32 4z" fill="#eb9607"/><path d="M1559 658l31-2-32-34-31 2z" fill="#c3eb07"/><path d="M1752 841l30 0-33-54-30 0z" fill="#07eb59"/><path d="M1656 739l30-1-32-44-31 1z" fill="#42eb07"/><path d="M1333 562l34-4-32-14-33 4z" fill="#eb7e07"/><path d="M1269 553l33-5-31-8-33 5z" fill="#eb7307"/><path d="M1495 626l32-2-32-29-32 2z" fill="#ebd907"/><path d="M1204 551l34-6-31-4-34 6z" fill="#eb7207"/><path d="M1139 554l34-7-29 2-35 7z" fill="#eb7e07"/><path d="M1592 697l31-2-33-39-31 2z" fill="#90eb07"/><path d="M1689 788l30-1-33-49-30 1z" fill="#07eb0f"/><path d="M1430 600l33-3-32-24-33 4z" fill="#ebac07"/><path d="M1365 581l33-4-31-19-34 4z" fill="#eb8b07"/><path d="M1528 660l31-2-32-34-32 2z" fill="#d2eb07"/><path d="M1722 842l30-1-33-54-30 1z" fill="#07eb4a"/><path d="M1625 741l31-2-33-44-31 2z" fill="#54eb07"/><path d="M1300 567l33-5-31-14-33 5z" fill="#eb7507"/><path d="M1234 559l35-6-31-8-34 6z" fill="#eb6b07"/><path d="M1463 629l32-3-32-29-33 3z" fill="#ebcc07"/><path d="M1169 557l35-6-31-4-34 7z" fill="#eb6d07"/><path d="M1561 699l31-2-33-39-31 2z" fill="#a0eb07"/><path d="M1658 790l31-2-33-49-31 2z" fill="#0eeb07"/><path d="M1397 604l33-4-32-23-33 4z" fill="#eba107"/><path d="M1332 585l33-4-32-19-33 5z" fill="#eb8107"/><path d="M1495 663l33-3-33-34-32 3z" fill="#e1eb07"/><path d="M1692 844l30-2-33-54-31 2z" fill="#07eb3b"/><path d="M1266 572l34-5-31-14-35 6z" fill="#eb6d07"/><path d="M1594 743l31-2-33-44-31 2z" fill="#65eb07"/><path d="M1200 565l34-6-30-8-35 6z" fill="#eb6507"/><path d="M1430 632l33-3-33-29-33 4z" fill="#ebc007"/><path d="M1528 701l33-2-33-39-33 3z" fill="#afeb07"/><path d="M1627 792l31-2-33-49-31 2z" fill="#20eb07"/><path d="M1364 608l33-4-32-23-33 4z" fill="#eb9607"/><path d="M1297 590l35-5-32-18-34 5z" fill="#eb7807"/><path d="M1463 666l32-3-32-34-33 3z" fill="#ebe707"/><path d="M1231 578l35-6-32-13-34 6z" fill="#eb6607"/><path d="M1661 846l31-2-34-54-31 2z" fill="#07eb2e"/><path d="M1562 745l32-2-33-44-33 2z" fill="#74eb07"/><path d="M1396 636l34-4-33-28-33 4z" fill="#ebb407"/><path d="M1496 705l32-4-33-38-32 3z" fill="#bdeb07"/><path d="M1330 613l34-5-32-23-35 5z" fill="#eb8d07"/><path d="M1595 794l32-2-33-49-32 2z" fill="#31eb07"/><path d="M1263 596l34-6-31-18-35 6z" fill="#eb7107"/><path d="M1429 670l34-4-33-34-34 4z" fill="#ebdb07"/><path d="M1629 849l32-3-34-54-32 2z" fill="#07eb21"/><path d="M1529 749l33-4-34-44-32 4z" fill="#83eb07"/><path d="M1362 641l34-5-32-28-34 5z" fill="#ebaa07"/><path d="M1463 709l33-4-33-39-34 4z" fill="#caeb07"/><path d="M1295 618l35-5-33-23-34 6z" fill="#eb8407"/><path d="M1563 798l32-4-33-49-33 4z" fill="#41eb07"/><path d="M1395 674l34-4-33-34-34 5z" fill="#ebd007"/><path d="M1597 852l32-3-34-55-32 4z" fill="#07eb15"/><path d="M1496 752l33-3-33-44-33 4z" fill="#91eb07"/><path d="M1328 646l34-5-32-28-35 5z" fill="#eba007"/><path d="M1429 713l34-4-34-39-34 4z" fill="#d6eb07"/><path d="M1530 801l33-3-34-49-33 3z" fill="#4feb07"/><path d="M1361 680l34-6-33-33-34 5z" fill="#ebc507"/><path d="M1564 856l33-4-34-54-33 3z" fill="#07eb09"/><path d="M1463 757l33-5-33-43-34 4z" fill="#9eeb07"/><path d="M1395 718l34-5-34-39-34 6z" fill="#e1eb07"/><path d="M1497 806l33-5-34-49-33 5z" fill="#5deb07"/><path d="M1531 860l33-4-34-55-33 5z" fill="#13eb07"/><path d="M1428 762l35-5-34-44-34 5z" fill="#aaeb07"/><path d="M1463 811l34-5-34-49-35 5z" fill="#6aeb07"/><path d="M1497 865l34-5-34-54-34 5z" fill="#21eb07"/></g><text x="89.9" y="114.6" font-size="2.90" fill="#333" text-anchor="end" stroke="#333" stroke-width=".12">21000</text>
<text x="100.3" y="119.5" font-size="2.90" fill="#333" text-anchor="end" stroke="#333" stroke-width=".12">18100</text>
<text x="111.4" y="124.8" font-size="2.90" fill="#333" text-anchor="end" stroke="#333" stroke-width=".12">15200</text>
<text x="123.0" y="130.3" font-size="2.90" fill="#333" text-anchor="end" stroke="#333" stroke-width=".12">12300</text>
<text x="135.2" y="136.1" font-size="2.90" fill="#333" text-anchor="end" stroke="#333" stroke-width=".12">9400</text>
<text x="148.2" y="142.3" font-size="2.90" fill="#333" text-anchor="end" stroke="#333" stroke-width=".12">6500</text>
<text x="150.4" y="141.9" font-size="2.90" fill="#333" stroke="#333" stroke-width=".12">30</text>
<text x="166.2" y="134.1" font-size="2.90" fill="#333" stroke="#333" stroke-width=".12">35</text>
<text x="180.8" y="126.9" font-size="2.90" fill="#333" stroke="#333" stroke-width=".12">40</text>
<text x="194.4" y="120.2" font-size="2.90" fill="#333" stroke="#333" stroke-width=".12">45</text>
<text x="207.0" y="114.0" font-size="2.90" fill="#333" stroke="#333" stroke-width=".12">50</text>
<circle cx="91.1" cy="112.0" r=".55" fill="#222"/>
<circle cx="101.5" cy="116.9" r=".55" fill="#222"/>
<circle cx="112.6" cy="122.2" r=".55" fill="#222"/>
<circle cx="124.2" cy="127.7" r=".55" fill="#222"/>
<circle cx="136.4" cy="133.5" r=".55" fill="#222"/>
<circle cx="149.4" cy="139.7" r=".55" fill="#222"/>
<circle cx="149.4" cy="139.7" r=".55" fill="#222"/>
<circle cx="165.2" cy="131.9" r=".55" fill="#222"/>
<circle cx="179.8" cy="124.7" r=".55" fill="#222"/>
<circle cx="193.4" cy="118.0" r=".55" fill="#222"/>
<circle cx="206.0" cy="111.8" r=".55" fill="#222"/>
<text x="98.0" y="137.2" font-size="3.00" fill="#333" text-anchor="middle" stroke="#333" stroke-width=".12">B: B (rpm)</text>
<text x="199.0" y="136.6" font-size="3.00" fill="#333" text-anchor="middle" stroke="#333" stroke-width=".12">A: A (mg)</text>
<text x="88.9" y="94.2" font-size="2.90" fill="#333" text-anchor="end" stroke="#333" stroke-width=".12">180</text>
<circle cx="90.3" cy="93.2" r=".6" fill="#222"/>
<text x="88.5" y="86.0" font-size="2.90" fill="#333" text-anchor="end" stroke="#333" stroke-width=".12">200</text>
<circle cx="89.9" cy="85.0" r=".6" fill="#222"/>
<text x="88.2" y="77.7" font-size="2.90" fill="#333" text-anchor="end" stroke="#333" stroke-width=".12">220</text>
<circle cx="89.6" cy="76.7" r=".6" fill="#222"/>
<text x="87.8" y="69.2" font-size="2.90" fill="#333" text-anchor="end" stroke="#333" stroke-width=".12">240</text>
<circle cx="89.2" cy="68.2" r=".6" fill="#222"/>
<text x="87.4" y="60.7" font-size="2.90" fill="#333" text-anchor="end" stroke="#333" stroke-width=".12">260</text>
<circle cx="88.8" cy="59.7" r=".6" fill="#222"/>
<text x="87.1" y="52.0" font-size="2.90" fill="#333" text-anchor="end" stroke="#333" stroke-width=".12">280</text>
<circle cx="88.5" cy="51.0" r=".6" fill="#222"/>
<text x="86.7" y="43.2" font-size="2.90" fill="#333" text-anchor="end" stroke="#333" stroke-width=".12">300</text>
<circle cx="88.1" cy="42.2" r=".6" fill="#222"/>
<text x="86.3" y="34.3" font-size="2.90" fill="#333" text-anchor="end" stroke="#333" stroke-width=".12">320</text>
<circle cx="87.7" cy="33.3" r=".6" fill="#222"/>
<text x="69.5" y="74.0" font-size="2.9" fill="#555" text-anchor="middle" transform="rotate(-90 69.5 74.0)">Particle size (nm)</text>
<rect x="78.9" y="23.9" width="8.6" height="3.6" fill="#f2f2f2" stroke="#6a6a6a" stroke-width=".45"/>
<text x="83.2" y="26.9" font-size="2.30" fill="#777" text-anchor="middle" textLength="6.6" lengthAdjust="spacingAndGlyphs">0.0000</text>
<line x1="87.3" y1="27.5" x2="87.7" y2="33.3" stroke="#666" stroke-width=".5"/></g>
<text x="2.0" y="5.5" font-size="3.20" fill="#000" font-weight="bold" textLength="25.5" lengthAdjust="spacingAndGlyphs" stroke-width=".14" stroke="#000">Particle size (nm)</text>
<text x="2.0" y="10.5" font-size="3.20" fill="#3030ff" textLength="7.2" lengthAdjust="spacingAndGlyphs" stroke-width=".14" stroke="#3030ff">184.4</text>
<defs><linearGradient id="gra"><stop offset="0" stop-color="#0010c0"/><stop offset=".3" stop-color="#00c020"/><stop offset=".55" stop-color="#00f000"/><stop offset=".72" stop-color="#20a000"/><stop offset=".85" stop-color="#d02000"/><stop offset="1" stop-color="#c01000"/></linearGradient></defs>
<rect x="10.60" y="7.20" width="11.50" height="4.40" rx="0.60" fill="url(#gra)"/>
<text x="23.5" y="10.5" font-size="3.20" fill="#ff3030" textLength="7.4" lengthAdjust="spacingAndGlyphs" stroke-width=".14" stroke="#ff3030">335.1</text>
<text x="2.0" y="20.5" font-size="3.20" fill="#222" textLength="9.8" lengthAdjust="spacingAndGlyphs" stroke-width=".14" stroke="#222">X1 = A</text>
<text x="2.0" y="25.5" font-size="3.20" fill="#222" textLength="9.8" lengthAdjust="spacingAndGlyphs" stroke-width=".14" stroke="#222">X2 = B</text>
<text x="2.0" y="35.5" font-size="3.20" fill="#000" font-weight="bold" textLength="19.5" lengthAdjust="spacingAndGlyphs" stroke-width=".14" stroke="#000">Actual Factor</text>
<text x="2.0" y="40.5" font-size="3.20" fill="#222" textLength="16.8" lengthAdjust="spacingAndGlyphs" stroke-width=".14" stroke="#222">C = 5.13761</text>
<g transform="translate(29.60 42.60) scale(0.620)" stroke="#1a1a1a" stroke-width="2.1" fill="none"><path d="M4 1.2H1.2V8.8H8.8V6"/><path d="M3.8 6.2L7.6 2.4"/><path d="M5.2 0.6H9.4V4.8Z" fill="#1a1a1a" stroke-width=".6"/></g>
<g><g stroke="#747474" stroke-width=".65" fill="none"><line x1="312.0" y1="114.9" x2="308.2" y2="34.3"/><line x1="328.2" y1="108.9" x2="325.5" y2="30.9"/><line x1="343.3" y1="103.2" x2="341.6" y2="27.7"/><line x1="357.4" y1="98.0" x2="356.5" y2="24.7"/><line x1="370.7" y1="93.1" x2="370.5" y2="22.0"/><line x1="429.7" y1="114.2" x2="433.1" y2="33.9"/><line x1="418.8" y1="110.3" x2="421.4" y2="31.6"/><line x1="408.3" y1="106.5" x2="410.3" y2="29.5"/><line x1="398.3" y1="102.9" x2="399.6" y2="27.5"/><line x1="388.7" y1="99.5" x2="389.5" y2="25.6"/><line x1="379.5" y1="96.2" x2="379.8" y2="23.7"/><line x1="370.7" y1="93.1" x2="370.5" y2="22.0"/><line x1="311.1" y1="95.6" x2="370.6" y2="76.0"/><line x1="370.6" y1="76.0" x2="430.5" y2="95.0"/><line x1="310.7" y1="87.2" x2="370.6" y2="68.5"/><line x1="370.6" y1="68.5" x2="430.9" y2="86.6"/><line x1="310.3" y1="78.6" x2="370.6" y2="61.0"/><line x1="370.6" y1="61.0" x2="431.2" y2="78.1"/><line x1="309.9" y1="70.0" x2="370.6" y2="53.3"/><line x1="370.6" y1="53.3" x2="431.6" y2="69.4"/><line x1="309.5" y1="61.2" x2="370.6" y2="45.6"/><line x1="370.6" y1="45.6" x2="432.0" y2="60.7"/><line x1="309.1" y1="52.4" x2="370.5" y2="37.8"/><line x1="370.5" y1="37.8" x2="432.3" y2="51.9"/><line x1="308.6" y1="43.4" x2="370.5" y2="29.9"/><line x1="370.5" y1="29.9" x2="432.7" y2="42.9"/><line x1="308.2" y1="34.3" x2="370.5" y2="22.0"/><line x1="370.5" y1="22.0" x2="433.1" y2="33.9"/></g>
<polyline points="312.0,114.9 308.2,34.3 370.5,22.0 433.1,33.9 429.7,114.2" stroke="#555" stroke-width=".7" fill="none"/>
<line x1="370.7" y1="93.1" x2="370.5" y2="22.0" stroke="#555" stroke-width=".7"/>
<polygon points="312.0,114.9 371.3,143.1 429.7,114.2 370.7,93.1" fill="#646464"/>
<polyline points="312.0,114.9 371.3,143.1 429.7,114.2" stroke="#2a2a2a" stroke-width=".8" fill="none"/>
<polyline points="317.8,112.7 317.5,113.2 317.2,113.6 316.9,113.9 316.7,114.3 316.4,114.7 316.0,115.2 315.7,115.7 315.4,116.0 315.1,116.4 315.1,116.4" stroke="#0aa5cc" stroke-width="1.25" stroke-linejoin="round" fill="none"/>
<polyline points="426.9,115.6 426.8,115.2 426.6,114.8 426.5,114.4 426.4,114.0 426.2,113.6 426.1,113.1 426.0,112.9" stroke="#0acca5" stroke-width="1.25" stroke-linejoin="round" fill="none"/>
<polyline points="332.8,107.2 332.5,107.6 332.2,108.1 331.9,108.4 331.7,108.7 331.5,109.1 331.2,109.5 330.9,110.0 330.6,110.4 330.4,110.7 330.2,111.0 329.9,111.4 329.5,111.9 329.2,112.3 329.0,112.7 328.8,113.0 328.5,113.4 328.1,113.9 327.8,114.4 327.6,114.7 327.3,115.1 327.1,115.4 326.7,115.9 326.3,116.4 326.1,116.8 325.8,117.1 325.5,117.5 325.1,118.1 324.8,118.5 324.5,118.9 324.3,119.3 323.9,119.7 323.5,120.2 323.5,120.3" stroke="#0acca5" stroke-width="1.25" stroke-linejoin="round" fill="none"/>
<polyline points="414.5,121.7 414.4,121.3 414.2,120.8 414.0,120.4 413.9,119.9 413.7,119.4 413.5,119.0 413.3,118.5 413.2,118.1 413.0,117.6 412.8,117.2 412.7,116.8 412.6,116.4 412.4,116.0 412.3,115.6 412.1,115.2 412.0,114.8 411.8,114.4 411.7,114.0 411.6,113.6 411.4,113.3 411.3,112.9 411.2,112.5 411.1,112.1 410.9,111.7 410.8,111.3 410.7,110.9 410.5,110.5 410.4,110.1 410.3,109.7 410.2,109.3 410.0,108.9 409.9,108.5 409.8,108.1 409.7,107.7 409.6,107.3 409.5,106.9 409.5,106.9" stroke="#0acc58" stroke-width="1.25" stroke-linejoin="round" fill="none"/>
<polyline points="352.0,100.0 351.8,100.4 351.6,100.7 351.4,101.0 351.2,101.3 351.0,101.7 350.7,102.1 350.5,102.4 350.4,102.7 350.2,103.0 349.9,103.5 349.6,103.9 349.4,104.2 349.2,104.5 349.0,104.9 348.7,105.3 348.4,105.7 348.2,106.0 348.0,106.3 347.8,106.7 347.5,107.2 347.2,107.6 347.0,107.9 346.8,108.2 346.5,108.7 346.1,109.1 345.9,109.5 345.7,109.8 345.4,110.2 345.1,110.7 344.8,111.0 344.6,111.4 344.4,111.7 344.0,112.2 343.7,112.6 343.5,113.0 343.2,113.3 342.9,113.8 342.5,114.3 342.3,114.6 342.0,114.9 341.7,115.4 341.3,115.9 341.0,116.3 340.8,116.6 340.5,117.1 340.1,117.6 339.8,118.0 339.5,118.3 339.2,118.8 338.8,119.3 338.5,119.7 338.2,120.0 337.9,120.5 337.4,121.1 337.2,121.4 336.9,121.8 336.5,122.3 336.1,122.9 335.8,123.2 335.5,123.6 335.1,124.1 334.7,124.7 334.4,125.0 334.1,125.4 334.1,125.4" stroke="#0acc58" stroke-width="1.25" stroke-linejoin="round" fill="none"/>
<polyline points="396.0,130.9 395.7,130.4 395.2,129.8 394.9,129.3 394.7,128.9 394.3,128.5 393.8,127.8 393.5,127.5 393.3,127.1 392.8,126.5 392.4,126.0 392.1,125.6 391.8,125.2 391.3,124.6 391.0,124.2 390.7,123.9 390.1,123.2 389.8,122.9 389.5,122.5 388.9,121.9 388.6,121.6 388.1,121.1 387.6,120.6 387.3,120.3 386.6,119.7 386.3,119.4 385.5,118.9 385.2,118.6 384.4,118.0 384.0,117.8 383.2,117.3 382.3,116.8 381.3,116.4 380.2,116.0 378.9,115.7 378.2,115.6 377.3,115.6 376.3,115.6 375.1,115.7 374.2,115.8 373.1,116.1 372.3,116.3 371.3,116.7 370.3,117.1 369.3,117.6 368.4,118.1 367.9,118.3 367.1,118.8 366.3,119.3 365.5,119.8 365.1,120.1 364.3,120.6 363.8,121.0 363.1,121.5 362.3,122.0 362.0,122.3 361.2,122.9 360.8,123.2 360.1,123.8 359.7,124.1 359.0,124.7 358.6,125.0 357.9,125.6 357.5,125.9 356.8,126.6 356.4,126.9 355.7,127.5 355.3,127.8 354.6,128.5 354.2,128.8 353.5,129.5 353.1,129.8 352.4,130.5 352.1,130.8 351.5,131.4 351.0,131.8 350.5,132.3 349.9,132.9 349.9,132.9" stroke="#0acc0a" stroke-width="1.25" stroke-linejoin="round" fill="none"/>
<g transform="scale(.1)" stroke="#000" stroke-opacity=".26" stroke-width="5.5" stroke-linejoin="round"><path d="M3706 602l27-9-27-5-27 10z" fill="#0ceb31"/><path d="M3679 612l27-10-27-4-26 10z" fill="#0ceb36"/><path d="M3733 607l27-8-27-6-27 9z" fill="#0ceb2c"/><path d="M3652 622l27-10-26-4-28 10z" fill="#0ceb3b"/><path d="M3706 617l27-10-27-5-27 10z" fill="#0ceb2f"/><path d="M3761 613l26-8-27-6-27 8z" fill="#0ceb28"/><path d="M3625 633l27-11-27-4-27 11z" fill="#0ceb41"/><path d="M3679 626l27-9-27-5-27 10z" fill="#0ceb33"/><path d="M3788 620l27-7-28-8-26 8z" fill="#0ceb26"/><path d="M3734 622l27-9-28-6-27 10z" fill="#0ceb2a"/><path d="M3597 644l28-11-27-4-28 12z" fill="#0ceb48"/><path d="M3652 636l27-10-27-4-27 11z" fill="#0ceb38"/><path d="M3817 628l26-8-28-7-27 7z" fill="#0ceb25"/><path d="M3707 631l27-9-28-5-27 9z" fill="#0ceb2c"/><path d="M3762 628l26-8-27-7-27 9z" fill="#0ceb26"/><path d="M3568 656l29-12-27-3-28 12z" fill="#0ceb50"/><path d="M3624 647l28-11-27-3-28 11z" fill="#0ceb3e"/><path d="M3845 636l27-7-29-9-26 8z" fill="#0ceb25"/><path d="M3679 641l28-10-28-5-27 10z" fill="#0ceb30"/><path d="M3790 635l27-7-29-8-26 8z" fill="#0ceb24"/><path d="M3734 637l28-9-28-6-27 9z" fill="#0ceb27"/><path d="M3540 668l28-12-26-3-29 13z" fill="#0ceb59"/><path d="M3595 659l29-12-27-3-29 12z" fill="#0ceb44"/><path d="M3874 645l26-7-28-9-27 7z" fill="#0ceb27"/><path d="M3651 651l28-10-27-5-28 11z" fill="#0ceb34"/><path d="M3818 643l27-7-28-8-27 7z" fill="#0ceb23"/><path d="M3707 646l27-9-27-6-28 10z" fill="#0ceb2a"/><path d="M3763 643l27-8-28-7-28 9z" fill="#0ceb24"/><path d="M3511 681l29-13-27-2-29 14z" fill="#0ceb63"/><path d="M3567 670l28-11-27-3-28 12z" fill="#0ceb4c"/><path d="M3903 654l27-5-30-11-26 7z" fill="#0ceb2a"/><path d="M3623 662l28-11-27-4-29 12z" fill="#0ceb3a"/><path d="M3847 651l27-6-29-9-27 7z" fill="#0ceb23"/><path d="M3679 656l28-10-28-5-28 10z" fill="#0ceb2d"/><path d="M3791 651l27-8-28-8-27 8z" fill="#0ceb21"/><path d="M3735 652l28-9-29-6-27 9z" fill="#0ceb25"/><path d="M3482 695l29-14-27-1-29 14z" fill="#0ceb6e"/><path d="M3538 683l29-13-27-2-29 13z" fill="#0ceb55"/><path d="M3933 665l26-6-29-10-27 5z" fill="#0ceb2f"/><path d="M3594 674l29-12-28-3-28 11z" fill="#0ceb40"/><path d="M3877 661l26-7-29-9-27 6z" fill="#0ceb25"/><path d="M3651 666l28-10-28-5-28 11z" fill="#0ceb31"/><path d="M3820 659l27-8-29-8-27 8z" fill="#0ceb21"/><path d="M3707 662l28-10-28-6-28 10z" fill="#0ceb26"/><path d="M3764 659l27-8-28-8-28 9z" fill="#0ceb21"/><path d="M3452 709l30-14-27-1-30 14z" fill="#0ceb7a"/><path d="M3508 696l30-13-27-2-29 14z" fill="#0ceb5e"/><path d="M3963 676l26-5-30-12-26 6z" fill="#0ceb35"/><path d="M3565 685l29-11-27-4-29 13z" fill="#0ceb47"/><path d="M3906 670l27-5-30-11-26 7z" fill="#0ceb28"/><path d="M3622 677l29-11-28-4-29 12z" fill="#0ceb36"/><path d="M3849 667l28-6-30-10-27 8z" fill="#0ceb21"/><path d="M3679 671l28-9-28-6-28 10z" fill="#0ceb29"/><path d="M3793 666l27-7-29-8-27 8z" fill="#0ceb1f"/><path d="M3736 668l28-9-29-7-28 10z" fill="#0ceb22"/><path d="M3422 723l30-14-27-1-30 16z" fill="#0ceb87"/><path d="M3479 710l29-14-26-1-30 14z" fill="#0ceb69"/><path d="M3993 688l27-4-31-13-26 5z" fill="#0ceb3c"/><path d="M3536 698l29-13-27-2-30 13z" fill="#0ceb50"/><path d="M3936 681l27-5-30-11-27 5z" fill="#0ceb2d"/><path d="M3593 689l29-12-28-3-29 11z" fill="#0ceb3c"/><path d="M3879 677l27-7-29-9-28 6z" fill="#0ceb23"/><path d="M3650 682l29-11-28-5-29 11z" fill="#0ceb2d"/><path d="M3822 675l27-8-29-8-27 7z" fill="#0ceb1e"/><path d="M3707 677l29-9-29-6-28 9z" fill="#0ceb23"/><path d="M3765 675l28-9-29-7-28 9z" fill="#0ceb1e"/><path d="M3391 739l31-16-27 1-30 15z" fill="#0ceb94"/><path d="M3449 724l30-14-27-1-30 14z" fill="#0ceb74"/><path d="M4024 701l26-4-30-13-27 4z" fill="#0ceb45"/><path d="M3506 711l30-13-28-2-29 14z" fill="#0ceb59"/><path d="M3967 693l26-5-30-12-27 5z" fill="#0ceb34"/><path d="M3563 701l30-12-28-4-29 13z" fill="#0ceb43"/><path d="M3909 687l27-6-30-11-27 7z" fill="#0ceb27"/><path d="M3621 693l29-11-28-5-29 12z" fill="#0ceb32"/><path d="M3852 684l27-7-30-10-27 8z" fill="#0ceb1f"/><path d="M3679 687l28-10-28-6-29 11z" fill="#0ceb25"/><path d="M3794 682l28-7-29-9-28 9z" fill="#0ceb1c"/><path d="M3736 684l29-9-29-7-29 9z" fill="#0ceb1e"/><path d="M3360 755l31-16-26 0-31 17z" fill="#0ceba3"/><path d="M4055 715l26-4-31-14-26 4z" fill="#0ceb50"/><path d="M3418 739l31-15-27-1-31 16z" fill="#0ceb80"/><path d="M3998 705l26-4-31-13-26 5z" fill="#0ceb3b"/><path d="M3476 725l30-14-27-1-30 14z" fill="#0ceb63"/><path d="M3940 698l27-5-31-12-27 6z" fill="#0ceb2c"/><path d="M3534 714l29-13-27-3-30 13z" fill="#0ceb4b"/><path d="M3882 693l27-6-30-10-27 7z" fill="#0ceb21"/><path d="M3592 704l29-11-28-4-30 12z" fill="#0ceb37"/><path d="M3824 691l28-7-30-9-28 7z" fill="#0ceb1b"/><path d="M3650 697l29-10-29-5-29 11z" fill="#0ceb29"/><path d="M3766 691l28-9-29-7-29 9z" fill="#0ceb1b"/><path d="M3708 693l28-9-29-7-28 10z" fill="#0ceb1f"/><path d="M3329 771l31-16-26 1-31 17z" fill="#0cebb2"/><path d="M4087 729l26-3-32-15-26 4z" fill="#0ceb5c"/><path d="M3387 754l31-15-27 0-31 16z" fill="#0ceb8e"/><path d="M4029 718l26-3-31-14-26 4z" fill="#0ceb44"/><path d="M3445 739l31-14-27-1-31 15z" fill="#0ceb6e"/><path d="M3971 710l27-5-31-12-27 5z" fill="#0ceb32"/><path d="M3503 727l31-13-28-3-30 14z" fill="#0ceb53"/><path d="M3912 704l28-6-31-11-27 6z" fill="#0ceb25"/><path d="M3562 717l30-13-29-3-29 13z" fill="#0ceb3e"/><path d="M3854 700l28-7-30-9-28 7z" fill="#0ceb1c"/><path d="M3620 709l30-12-29-4-29 11z" fill="#0ceb2d"/><path d="M3796 699l28-8-30-9-28 9z" fill="#0ceb19"/><path d="M3679 703l29-10-29-6-29 10z" fill="#0ceb21"/><path d="M3737 700l29-9-30-7-28 9z" fill="#0ceb1b"/><path d="M3298 789l31-18-26 2-31 18z" fill="#0cebc3"/><path d="M4119 745l26-3-32-16-26 3z" fill="#0ceb69"/><path d="M3356 770l31-16-27 1-31 16z" fill="#0ceb9c"/><path d="M4061 732l26-3-32-14-26 3z" fill="#0ceb4f"/><path d="M3414 754l31-15-27 0-31 15z" fill="#0ceb7a"/><path d="M4002 723l27-5-31-13-27 5z" fill="#0ceb3a"/><path d="M3473 741l30-14-27-2-31 14z" fill="#0ceb5d"/><path d="M3943 715l28-5-31-12-28 6z" fill="#0ceb2a"/><path d="M3531 729l31-12-28-3-31 13z" fill="#0ceb45"/><path d="M3885 710l27-6-30-11-28 7z" fill="#0ceb1f"/><path d="M3590 720l30-11-28-5-30 13z" fill="#0ceb32"/><path d="M3826 708l28-8-30-9-28 8z" fill="#0ceb19"/><path d="M3649 714l30-11-29-6-30 12z" fill="#0ceb24"/><path d="M3767 707l29-8-30-8-29 9z" fill="#0ceb17"/><path d="M3708 709l29-9-29-7-29 10z" fill="#0ceb1b"/><path d="M3266 807l32-18-26 2-32 18z" fill="#0cebd4"/><path d="M4151 761l26-2-32-17-26 3z" fill="#0ceb78"/><path d="M3324 787l32-17-27 1-31 18z" fill="#0cebab"/><path d="M4093 747l26-2-32-16-26 3z" fill="#0ceb5b"/><path d="M3383 770l31-16-27 0-31 16z" fill="#0ceb87"/><path d="M4034 736l27-4-32-14-27 5z" fill="#0ceb43"/><path d="M3442 755l31-14-28-2-31 15z" fill="#0ceb68"/><path d="M3975 728l27-5-31-13-28 5z" fill="#0ceb30"/><path d="M3501 743l30-14-28-2-30 14z" fill="#0ceb4e"/><path d="M3916 721l27-6-31-11-27 6z" fill="#0ceb22"/><path d="M3560 733l30-13-28-3-31 12z" fill="#0ceb38"/><path d="M3856 717l29-7-31-10-28 8z" fill="#0ceb1a"/><path d="M3619 725l30-11-29-5-30 11z" fill="#0ceb28"/><path d="M3797 715l29-7-30-9-29 8z" fill="#0ceb16"/><path d="M3678 719l30-10-29-6-30 11z" fill="#0ceb1d"/><path d="M3738 716l29-9-30-7-29 9z" fill="#0ceb17"/><path d="M3233 825l33-18-26 2-33 20z" fill="#0cebe6"/><path d="M4184 778l26-1-33-18-26 2z" fill="#0ceb88"/><path d="M3292 805l32-18-26 2-32 18z" fill="#0cebbb"/><path d="M4125 763l26-2-32-16-26 2z" fill="#0ceb68"/><path d="M3351 786l32-16-27 0-32 17z" fill="#0ceb95"/><path d="M4066 751l27-4-32-15-27 4z" fill="#0ceb4e"/><path d="M3410 770l32-15-28-1-31 16z" fill="#0ceb73"/><path d="M4007 741l27-5-32-13-27 5z" fill="#0ceb38"/><path d="M3470 757l31-14-28-2-31 14z" fill="#0ceb57"/><path d="M3947 733l28-5-32-13-27 6z" fill="#0ceb28"/><path d="M3529 745l31-12-29-4-30 14z" fill="#0ceb3f"/><path d="M3887 728l29-7-31-11-29 7z" fill="#0ceb1c"/><path d="M3589 736l30-11-29-5-30 13z" fill="#0ceb2d"/><path d="M3828 725l28-8-30-9-29 7z" fill="#0ceb15"/><path d="M3648 730l30-11-29-5-30 11z" fill="#0ceb20"/><path d="M3768 724l29-9-30-8-29 9z" fill="#0ceb14"/><path d="M3708 726l30-10-30-7-30 10z" fill="#0ceb17"/><path d="M3200 845l33-20-26 4-33 19z" fill="#0cdbeb"/><path d="M4217 796l26-1-33-18-26 1z" fill="#0ceb99"/><path d="M3259 823l33-18-26 2-33 18z" fill="#0cebcc"/><path d="M4158 780l26-2-33-17-26 2z" fill="#0ceb77"/><path d="M3319 803l32-17-27 1-32 18z" fill="#0ceba3"/><path d="M4098 766l27-3-32-16-27 4z" fill="#0ceb5a"/><path d="M3378 786l32-16-27 0-32 16z" fill="#0ceb80"/><path d="M4039 755l27-4-32-15-27 5z" fill="#0ceb41"/><path d="M3438 771l32-14-28-2-32 15z" fill="#0ceb61"/><path d="M3979 745l28-4-32-13-28 5z" fill="#0ceb2e"/><path d="M3498 759l31-14-28-2-31 14z" fill="#0ceb47"/><path d="M3919 739l28-6-31-12-29 7z" fill="#0ceb20"/><path d="M3558 749l31-13-29-3-31 12z" fill="#0ceb33"/><path d="M3859 734l28-6-31-11-28 8z" fill="#0ceb16"/><path d="M3618 741l30-11-29-5-30 11z" fill="#0ceb23"/><path d="M3799 733l29-8-31-10-29 9z" fill="#0ceb12"/><path d="M3678 736l30-10-30-7-30 11z" fill="#0ceb18"/><path d="M3167 865l33-20-26 3-33 21z" fill="#0cc7eb"/><path d="M3739 733l29-9-30-8-30 10z" fill="#0ceb13"/><path d="M4251 815l25 0-33-20-26 1z" fill="#0cebac"/><path d="M3226 842l33-19-26 2-33 20z" fill="#0cebde"/><path d="M4191 797l26-1-33-18-26 2z" fill="#0ceb87"/><path d="M3286 821l33-18-27 2-33 18z" fill="#0cebb3"/><path d="M4131 782l27-2-33-17-27 3z" fill="#0ceb67"/><path d="M3346 803l32-17-27 0-32 17z" fill="#0ceb8d"/><path d="M4071 769l27-3-32-15-27 4z" fill="#0ceb4c"/><path d="M3406 787l32-16-28-1-32 16z" fill="#0ceb6c"/><path d="M4011 759l28-4-32-14-28 4z" fill="#0ceb36"/><path d="M3466 773l32-14-28-2-32 14z" fill="#0ceb50"/><path d="M3951 751l28-6-32-12-28 6z" fill="#0ceb25"/><path d="M3527 762l31-13-29-4-31 14z" fill="#0ceb3a"/><path d="M3133 886l34-21-26 4-33 21z" fill="#0cb2eb"/><path d="M3890 745l29-6-32-11-28 6z" fill="#0ceb19"/><path d="M4285 835l25 0-34-20-25 0z" fill="#0cebc1"/><path d="M3587 753l31-12-29-5-31 13z" fill="#0ceb28"/><path d="M3830 742l29-8-31-9-29 8z" fill="#0ceb12"/><path d="M3648 747l30-11-30-6-30 11z" fill="#0ceb1b"/><path d="M3769 741l30-8-31-9-29 9z" fill="#0ceb10"/><path d="M3709 743l30-10-31-7-30 10z" fill="#0ceb13"/><path d="M3193 861l33-19-26 3-33 20z" fill="#0ce4eb"/><path d="M4225 816l26-1-34-19-26 1z" fill="#0ceb99"/><path d="M3253 839l33-18-27 2-33 19z" fill="#0cebc4"/><path d="M4165 799l26-2-33-17-27 2z" fill="#0ceb76"/><path d="M3313 820l33-17-27 0-33 18z" fill="#0ceb9c"/><path d="M4105 785l26-3-33-16-27 3z" fill="#0ceb58"/><path d="M3374 803l32-16-28-1-32 17z" fill="#0ceb78"/><path d="M4044 773l27-4-32-14-28 4z" fill="#0ceb40"/><path d="M3434 788l32-15-28-2-32 16z" fill="#0ceb5a"/><path d="M3983 764l28-5-32-14-28 6z" fill="#0ceb2c"/><path d="M3495 776l32-14-29-3-32 14z" fill="#0ceb41"/><path d="M3922 757l29-6-32-12-29 6z" fill="#0ceb1d"/><path d="M3556 766l31-13-29-4-31 13z" fill="#0ceb2d"/><path d="M3861 752l29-7-31-11-29 8z" fill="#0ceb13"/><path d="M3617 758l31-11-30-6-31 12z" fill="#0ceb1e"/><path d="M3800 750l30-8-31-9-30 8z" fill="#0ceb0e"/><path d="M3678 753l31-10-31-7-30 11z" fill="#0ceb14"/><path d="M3739 750l30-9-30-8-30 10z" fill="#0ceb0f"/><path d="M3159 882l34-21-26 4-34 21z" fill="#0cd0eb"/><path d="M4259 835l26 0-34-20-26 1z" fill="#0cebac"/><path d="M3219 859l34-20-27 3-33 19z" fill="#0cebd5"/><path d="M4199 817l26-1-34-19-26 2z" fill="#0ceb87"/><path d="M3280 838l33-18-27 1-33 18z" fill="#0cebab"/><path d="M4138 802l27-3-34-17-26 3z" fill="#0ceb66"/><path d="M3341 819l33-16-28 0-33 17z" fill="#0ceb86"/><path d="M4077 789l28-4-34-16-27 4z" fill="#0ceb4b"/><path d="M3402 803l32-15-28-1-32 16z" fill="#0ceb65"/><path d="M4016 778l28-5-33-14-28 5z" fill="#0ceb34"/><path d="M3463 790l32-14-29-3-32 15z" fill="#0ceb4a"/><path d="M3955 769l28-5-32-13-29 6z" fill="#0ceb22"/><path d="M3524 779l32-13-29-4-32 14z" fill="#0ceb33"/><path d="M3893 763l29-6-32-12-29 7z" fill="#0ceb16"/><path d="M3586 770l31-12-30-5-31 13z" fill="#0ceb22"/><path d="M3832 760l29-8-31-10-30 8z" fill="#0ceb0e"/><path d="M3647 764l31-11-30-6-31 11z" fill="#0ceb16"/><path d="M3770 759l30-9-31-9-30 9z" fill="#0ceb0c"/><path d="M3709 760l30-10-30-7-31 10z" fill="#0ceb0e"/><path d="M3185 878l34-19-26 2-34 21z" fill="#0cebe8"/><path d="M4233 836l26-1-34-19-26 1z" fill="#0ceb98"/><path d="M3246 856l34-18-27 1-34 20z" fill="#0cebbb"/><path d="M4172 819l27-2-34-18-27 3z" fill="#0ceb75"/><path d="M3308 837l33-18-28 1-33 18z" fill="#0ceb94"/><path d="M4111 805l27-3-33-17-28 4z" fill="#0ceb57"/><path d="M3369 820l33-17-28 0-33 16z" fill="#0ceb71"/><path d="M4049 792l28-3-33-16-28 5z" fill="#0ceb3e"/><path d="M3431 805l32-15-29-2-32 15z" fill="#0ceb53"/><path d="M3988 783l28-5-33-14-28 5z" fill="#0ceb29"/><path d="M3492 793l32-14-29-3-32 14z" fill="#0ceb3b"/><path d="M3926 775l29-6-33-12-29 6z" fill="#0ceb1a"/><path d="M3554 783l32-13-30-4-32 13z" fill="#0ceb27"/><path d="M3864 770l29-7-32-11-29 8z" fill="#0ceb10"/><path d="M3616 775l31-11-30-6-31 12z" fill="#0ceb18"/><path d="M3802 768l30-8-32-10-30 9z" fill="#0deb0c"/><path d="M3678 770l31-10-31-7-31 11z" fill="#0ceb0f"/><path d="M3740 768l30-9-31-9-30 10z" fill="#0deb0c"/><path d="M4206 838l27-2-34-19-27 2z" fill="#0ceb86"/><path d="M3212 876l34-20-27 3-34 19z" fill="#0cebcc"/><path d="M4145 822l27-3-34-17-27 3z" fill="#0ceb65"/><path d="M3274 855l34-18-28 1-34 18z" fill="#0ceba3"/><path d="M4083 808l28-3-34-16-28 3z" fill="#0ceb49"/><path d="M3336 836l33-16-28-1-33 18z" fill="#0ceb7e"/><path d="M4021 797l28-5-33-14-28 5z" fill="#0ceb32"/><path d="M3397 821l34-16-29-2-33 17z" fill="#0ceb5e"/><path d="M3959 788l29-5-33-14-29 6z" fill="#0ceb1f"/><path d="M3460 807l32-14-29-3-32 15z" fill="#0ceb43"/><path d="M3897 782l29-7-33-12-29 7z" fill="#0ceb12"/><path d="M3522 796l32-13-30-4-32 14z" fill="#0ceb2d"/><path d="M3834 778l30-8-32-10-30 8z" fill="#0deb0c"/><path d="M3584 787l32-12-30-5-32 13z" fill="#0ceb1c"/><path d="M3772 777l30-9-32-9-30 9z" fill="#10eb0c"/><path d="M3647 781l31-11-31-6-31 11z" fill="#0ceb10"/><path d="M3709 778l31-10-31-8-31 10z" fill="#0eeb0c"/><path d="M4179 840l27-2-34-19-27 3z" fill="#0ceb74"/><path d="M3240 874l34-19-28 1-34 20z" fill="#0cebb2"/><path d="M4117 825l28-3-34-17-28 3z" fill="#0ceb55"/><path d="M3302 854l34-18-28 1-34 18z" fill="#0ceb8b"/><path d="M4055 812l28-4-34-16-28 5z" fill="#0ceb3b"/><path d="M3364 837l33-16-28-1-33 16z" fill="#0ceb69"/><path d="M3992 802l29-5-33-14-29 5z" fill="#0ceb26"/><path d="M3427 822l33-15-29-2-34 16z" fill="#0ceb4c"/><path d="M3930 794l29-6-33-13-29 7z" fill="#0ceb17"/><path d="M3489 810l33-14-30-3-32 14z" fill="#0ceb34"/><path d="M3867 789l30-7-33-12-30 8z" fill="#0ceb0c"/><path d="M3552 800l32-13-30-4-32 13z" fill="#0ceb21"/><path d="M3804 786l30-8-32-10-30 9z" fill="#11eb0c"/><path d="M3615 793l32-12-31-6-32 12z" fill="#0ceb12"/><path d="M3741 786l31-9-32-9-31 10z" fill="#12eb0c"/><path d="M3678 788l31-10-31-8-31 11z" fill="#0eeb0c"/><path d="M4152 842l27-2-34-18-28 3z" fill="#0ceb63"/><path d="M3267 872l35-18-28 1-34 19z" fill="#0ceb9a"/><path d="M4089 828l28-3-34-17-28 4z" fill="#0ceb46"/><path d="M3330 854l34-17-28-1-34 18z" fill="#0ceb75"/><path d="M4026 816l29-4-34-15-29 5z" fill="#0ceb2f"/><path d="M3393 838l34-16-30-1-33 16z" fill="#0ceb56"/><path d="M3963 807l29-5-33-14-29 6z" fill="#0ceb1c"/><path d="M3456 825l33-15-29-3-33 15z" fill="#0ceb3c"/><path d="M3900 801l30-7-33-12-30 7z" fill="#0ceb0f"/><path d="M3519 814l33-14-30-4-33 14z" fill="#0ceb26"/><path d="M3836 797l31-8-33-11-30 8z" fill="#11eb0c"/><path d="M3583 805l32-12-31-6-32 13z" fill="#0ceb16"/><path d="M3773 795l31-9-32-9-31 9z" fill="#15eb0c"/><path d="M3646 799l32-11-31-7-32 12z" fill="#0deb0c"/><path d="M3710 796l31-10-32-8-31 10z" fill="#13eb0c"/><path d="M4124 845l28-3-35-17-28 3z" fill="#0ceb53"/><path d="M3296 872l34-18-28 0-35 18z" fill="#0ceb83"/><path d="M4060 832l29-4-34-16-29 4z" fill="#0ceb39"/><path d="M3359 855l34-17-29-1-34 17z" fill="#0ceb61"/><path d="M3997 821l29-5-34-14-29 5z" fill="#0ceb23"/><path d="M3422 840l34-15-29-3-34 16z" fill="#0ceb44"/><path d="M3933 813l30-6-33-13-30 7z" fill="#0ceb13"/><path d="M3486 828l33-14-30-4-33 15z" fill="#0ceb2d"/><path d="M3869 808l31-7-33-12-31 8z" fill="#10eb0c"/><path d="M3550 818l33-13-31-5-33 14z" fill="#0ceb1a"/><path d="M3806 805l30-8-32-11-31 9z" fill="#16eb0c"/><path d="M3614 811l32-12-31-6-32 12z" fill="#0ceb0c"/><path d="M3742 804l31-9-32-9-31 10z" fill="#17eb0c"/><path d="M3678 806l32-10-32-8-32 11z" fill="#14eb0c"/><path d="M4095 849l29-4-35-17-29 4z" fill="#0ceb44"/><path d="M3324 872l35-17-29-1-34 18z" fill="#0ceb6d"/><path d="M4031 837l29-5-34-16-29 5z" fill="#0ceb2c"/><path d="M3388 856l34-16-29-2-34 17z" fill="#0ceb4e"/><path d="M3967 827l30-6-34-14-30 6z" fill="#0ceb19"/><path d="M3452 843l34-15-30-3-34 15z" fill="#0ceb34"/><path d="M3903 820l30-7-33-12-31 7z" fill="#0deb0c"/><path d="M3517 832l33-14-31-4-33 14z" fill="#0ceb1f"/><path d="M3839 816l30-8-33-11-30 8z" fill="#16eb0c"/><path d="M3581 823l33-12-31-6-33 13z" fill="#0ceb0f"/><path d="M3774 814l32-9-33-10-31 9z" fill="#1aeb0c"/><path d="M3645 818l33-12-32-7-32 12z" fill="#13eb0c"/><path d="M3710 814l32-10-32-8-32 10z" fill="#19eb0c"/><path d="M4066 853l29-4-35-17-29 5z" fill="#0ceb36"/><path d="M3354 873l34-17-29-1-35 17z" fill="#0ceb59"/><path d="M4002 842l29-5-34-16-30 6z" fill="#0ceb20"/><path d="M3418 858l34-15-30-3-34 16z" fill="#0ceb3d"/><path d="M3937 833l30-6-34-14-30 7z" fill="#0ceb0f"/><path d="M3483 846l34-14-31-4-34 15z" fill="#0ceb25"/><path d="M3872 827l31-7-34-12-30 8z" fill="#14eb0c"/><path d="M3548 836l33-13-31-5-33 14z" fill="#0ceb13"/><path d="M3807 824l32-8-33-11-32 9z" fill="#1beb0c"/><path d="M3613 829l32-11-31-7-33 12z" fill="#11eb0c"/><path d="M3743 823l31-9-32-10-32 10z" fill="#1deb0c"/><path d="M3678 825l32-11-32-8-33 12z" fill="#1aeb0c"/><path d="M4037 857l29-4-35-16-29 5z" fill="#0ceb29"/><path d="M3384 874l34-16-30-2-34 17z" fill="#0ceb46"/><path d="M3972 847l30-5-35-15-30 6z" fill="#0ceb15"/><path d="M3449 861l34-15-31-3-34 15z" fill="#0ceb2d"/><path d="M3906 840l31-7-34-13-31 7z" fill="#11eb0c"/><path d="M3514 850l34-14-31-4-34 14z" fill="#0ceb18"/><path d="M3841 835l31-8-33-11-32 8z" fill="#1aeb0c"/><path d="M3579 842l34-13-32-6-33 13z" fill="#0feb0c"/><path d="M3776 833l31-9-33-10-31 9z" fill="#1feb0c"/><path d="M3645 836l33-11-33-7-32 11z" fill="#19eb0c"/><path d="M3710 833l33-10-33-9-32 11z" fill="#1feb0c"/><path d="M4007 862l30-5-35-15-30 5z" fill="#0ceb1c"/><path d="M3414 877l35-16-31-3-34 16z" fill="#0ceb35"/><path d="M3941 854l31-7-35-14-31 7z" fill="#0ceb0c"/><path d="M3480 865l34-15-31-4-34 15z" fill="#0ceb1e"/><path d="M3875 847l31-7-34-13-31 8z" fill="#19eb0c"/><path d="M3545 855l34-13-31-6-34 14z" fill="#0ceb0c"/><path d="M3809 844l32-9-34-11-31 9z" fill="#20eb0c"/><path d="M3611 848l34-12-32-7-34 13z" fill="#18eb0c"/><path d="M3743 843l33-10-33-10-33 10z" fill="#22eb0c"/><path d="M3677 844l33-11-32-8-33 11z" fill="#20eb0c"/><path d="M3976 868l31-6-35-15-31 7z" fill="#0ceb11"/><path d="M3445 880l35-15-31-4-35 16z" fill="#0ceb25"/><path d="M3910 860l31-6-35-14-31 7z" fill="#15eb0c"/><path d="M3511 869l34-14-31-5-34 15z" fill="#0ceb11"/><path d="M3844 855l31-8-34-12-32 9z" fill="#1feb0c"/><path d="M3578 861l33-13-32-6-34 13z" fill="#16eb0c"/><path d="M3777 853l32-9-33-11-33 10z" fill="#24eb0c"/><path d="M3644 856l33-12-32-8-34 12z" fill="#20eb0c"/><path d="M3711 853l32-10-33-10-33 11z" fill="#25eb0c"/><path d="M3945 874l31-6-35-14-31 6z" fill="#11eb0c"/><path d="M3476 884l35-15-31-4-35 15z" fill="#0ceb16"/><path d="M3878 868l32-8-35-13-31 8z" fill="#1deb0c"/><path d="M3543 875l35-14-33-6-34 14z" fill="#13eb0c"/><path d="M3811 864l33-9-35-11-32 9z" fill="#25eb0c"/><path d="M3610 868l34-12-33-8-33 13z" fill="#1feb0c"/><path d="M3744 863l33-10-34-10-32 10z" fill="#28eb0c"/><path d="M3677 864l34-11-34-9-33 12z" fill="#26eb0c"/><path d="M3914 881l31-7-35-14-32 8z" fill="#1aeb0c"/><path d="M3846 876l32-8-34-13-33 9z" fill="#25eb0c"/><path d="M3508 889l35-14-32-6-35 15z" fill="#0feb0c"/><path d="M3779 873l32-9-34-11-33 10z" fill="#2aeb0c"/><path d="M3576 881l34-13-32-7-35 14z" fill="#1deb0c"/><path d="M3711 873l33-10-33-10-34 11z" fill="#2beb0c"/><path d="M3643 875l34-11-33-8-34 12z" fill="#26eb0c"/><path d="M3881 889l33-8-36-13-32 8z" fill="#23eb0c"/><path d="M3813 884l33-8-35-12-32 9z" fill="#2beb0c"/><path d="M3541 894l35-13-33-6-35 14z" fill="#1aeb0c"/><path d="M3745 883l34-10-35-10-33 10z" fill="#2eeb0c"/><path d="M3609 888l34-13-33-7-34 13z" fill="#26eb0c"/><path d="M3677 884l34-11-34-9-34 11z" fill="#2deb0c"/><path d="M3849 897l32-8-35-13-33 8z" fill="#2aeb0c"/><path d="M3780 894l33-10-34-11-34 10z" fill="#30eb0c"/><path d="M3574 901l35-13-33-7-35 13z" fill="#24eb0c"/><path d="M3711 893l34-10-34-10-34 11z" fill="#31eb0c"/><path d="M3643 896l34-12-34-9-34 13z" fill="#2deb0c"/><path d="M3816 906l33-9-36-13-33 10z" fill="#31eb0c"/><path d="M3746 904l34-10-35-11-34 10z" fill="#35eb0c"/><path d="M3608 908l35-12-34-8-35 13z" fill="#2deb0c"/><path d="M3677 905l34-12-34-9-34 12z" fill="#33eb0c"/><path d="M3782 915l34-9-36-12-34 10z" fill="#36eb0c"/><path d="M3712 915l34-11-35-11-34 12z" fill="#38eb0c"/><path d="M3642 917l35-12-34-9-35 12z" fill="#35eb0c"/><path d="M3747 925l35-10-36-11-34 11z" fill="#3beb0c"/><path d="M3677 926l35-11-35-10-35 12z" fill="#3aeb0c"/><path d="M3712 936l35-11-35-10-35 11z" fill="#3feb0c"/></g><text x="310.8" y="117.5" font-size="2.90" fill="#333" text-anchor="end" stroke="#333" stroke-width=".12">8</text>
<text x="319.5" y="121.6" font-size="2.90" fill="#333" text-anchor="end" stroke="#333" stroke-width=".12">7</text>
<text x="328.6" y="126.0" font-size="2.90" fill="#333" text-anchor="end" stroke="#333" stroke-width=".12">6</text>
<text x="338.2" y="130.5" font-size="2.90" fill="#333" text-anchor="end" stroke="#333" stroke-width=".12">5</text>
<text x="348.3" y="135.3" font-size="2.90" fill="#333" text-anchor="end" stroke="#333" stroke-width=".12">4</text>
<text x="358.9" y="140.3" font-size="2.90" fill="#333" text-anchor="end" stroke="#333" stroke-width=".12">3</text>
<text x="370.1" y="145.7" font-size="2.90" fill="#333" text-anchor="end" stroke="#333" stroke-width=".12">2</text>
<text x="372.3" y="145.3" font-size="2.90" fill="#333" stroke="#333" stroke-width=".12">30</text>
<text x="388.7" y="137.2" font-size="2.90" fill="#333" stroke="#333" stroke-width=".12">35</text>
<text x="403.8" y="129.7" font-size="2.90" fill="#333" stroke="#333" stroke-width=".12">40</text>
<text x="417.7" y="122.8" font-size="2.90" fill="#333" stroke="#333" stroke-width=".12">45</text>
<text x="430.7" y="116.4" font-size="2.90" fill="#333" stroke="#333" stroke-width=".12">50</text>
<circle cx="312.0" cy="114.9" r=".55" fill="#222"/>
<circle cx="320.7" cy="119.0" r=".55" fill="#222"/>
<circle cx="329.8" cy="123.4" r=".55" fill="#222"/>
<circle cx="339.4" cy="127.9" r=".55" fill="#222"/>
<circle cx="349.5" cy="132.7" r=".55" fill="#222"/>
<circle cx="360.1" cy="137.7" r=".55" fill="#222"/>
<circle cx="371.3" cy="143.1" r=".55" fill="#222"/>
<circle cx="371.3" cy="143.1" r=".55" fill="#222"/>
<circle cx="387.7" cy="135.0" r=".55" fill="#222"/>
<circle cx="402.8" cy="127.5" r=".55" fill="#222"/>
<circle cx="416.7" cy="120.6" r=".55" fill="#222"/>
<circle cx="429.7" cy="114.2" r=".55" fill="#222"/>
<text x="318.0" y="140.0" font-size="3.00" fill="#333" text-anchor="middle" stroke="#333" stroke-width=".12">C: C (min)</text>
<text x="420.0" y="140.0" font-size="3.00" fill="#333" text-anchor="middle" stroke="#333" stroke-width=".12">A: A (mg)</text>
<text x="309.7" y="96.6" font-size="2.90" fill="#333" text-anchor="end" stroke="#333" stroke-width=".12">180</text>
<circle cx="311.1" cy="95.6" r=".6" fill="#222"/>
<text x="309.3" y="88.2" font-size="2.90" fill="#333" text-anchor="end" stroke="#333" stroke-width=".12">200</text>
<circle cx="310.7" cy="87.2" r=".6" fill="#222"/>
<text x="308.9" y="79.6" font-size="2.90" fill="#333" text-anchor="end" stroke="#333" stroke-width=".12">220</text>
<circle cx="310.3" cy="78.6" r=".6" fill="#222"/>
<text x="308.5" y="71.0" font-size="2.90" fill="#333" text-anchor="end" stroke="#333" stroke-width=".12">240</text>
<circle cx="309.9" cy="70.0" r=".6" fill="#222"/>
<text x="308.1" y="62.2" font-size="2.90" fill="#333" text-anchor="end" stroke="#333" stroke-width=".12">260</text>
<circle cx="309.5" cy="61.2" r=".6" fill="#222"/>
<text x="307.7" y="53.4" font-size="2.90" fill="#333" text-anchor="end" stroke="#333" stroke-width=".12">280</text>
<circle cx="309.1" cy="52.4" r=".6" fill="#222"/>
<text x="307.2" y="44.4" font-size="2.90" fill="#333" text-anchor="end" stroke="#333" stroke-width=".12">300</text>
<circle cx="308.6" cy="43.4" r=".6" fill="#222"/>
<text x="306.8" y="35.3" font-size="2.90" fill="#333" text-anchor="end" stroke="#333" stroke-width=".12">320</text>
<circle cx="308.2" cy="34.3" r=".6" fill="#222"/>
<text x="289.5" y="74.0" font-size="2.9" fill="#555" text-anchor="middle" transform="rotate(-90 289.5 74.0)">Particle size (nm)</text><line x1="335.6" y1="35.7" x2="335.6" y2="88.0" stroke="#111" stroke-width=".75"/>
<rect x="326.8" y="32.1" width="9.6" height="3.8" fill="#f2f2f2" stroke="#6a6a6a" stroke-width=".45"/>
<text x="331.6" y="35.1" font-size="2.30" fill="#777" text-anchor="middle" textLength="7.6" lengthAdjust="spacingAndGlyphs">0.00000</text>
<ellipse cx="338.0" cy="88.2" rx="1.2" ry="1.5" fill="#fde" stroke="#d07070" stroke-width=".5"/>
<ellipse cx="338.0" cy="96.4" rx="1.2" ry="1.5" fill="#fde" stroke="#d07070" stroke-width=".5"/>
<line x1="398.8" y1="60.3" x2="398.8" y2="65.3" stroke="#333" stroke-width=".5"/>
<ellipse cx="398.8" cy="60.3" rx="1.3" ry="1.9" fill="#a00000"/>
<line x1="402.8" y1="78.2" x2="402.8" y2="84.2" stroke="#333" stroke-width=".5"/>
<ellipse cx="402.8" cy="78.2" rx="1.3" ry="1.9" fill="#a00000"/></g>
<text x="219.6" y="5.7" font-size="3.20" fill="#000" font-weight="bold" textLength="25.5" lengthAdjust="spacingAndGlyphs" stroke-width=".14" stroke="#000">Particle size (nm)</text>
<text x="219.6" y="10.7" font-size="3.20" fill="#666" textLength="19.5" lengthAdjust="spacingAndGlyphs" stroke-width=".14" stroke="#666">Design Points</text>
<ellipse cx="222.40" cy="14.60" rx="1.90" ry="1.90" fill="#a00000"/>
<text x="226.8" y="15.7" font-size="3.20" fill="#c02020" textLength="21.0" lengthAdjust="spacingAndGlyphs" stroke-width=".14" stroke="#c02020">Above Surface</text>
<ellipse cx="222.40" cy="19.60" rx="1.50" ry="1.50" fill="#fff" stroke="#d06060" stroke-width=".7"/>
<text x="226.8" y="20.7" font-size="3.20" fill="#c02020" textLength="20.5" lengthAdjust="spacingAndGlyphs" stroke-width=".14" stroke="#c02020">Below Surface</text>
<text x="219.6" y="25.7" font-size="3.20" fill="#3030ff" textLength="7.2" lengthAdjust="spacingAndGlyphs" stroke-width=".14" stroke="#3030ff">184.4</text>
<defs><linearGradient id="grb"><stop offset="0" stop-color="#0010c0"/><stop offset=".3" stop-color="#00c020"/><stop offset=".55" stop-color="#00f000"/><stop offset=".72" stop-color="#20a000"/><stop offset=".85" stop-color="#d02000"/><stop offset="1" stop-color="#c01000"/></linearGradient></defs>
<rect x="228.20" y="22.40" width="11.50" height="4.40" rx="0.60" fill="url(#grb)"/>
<text x="241.1" y="25.7" font-size="3.20" fill="#ff3030" textLength="7.4" lengthAdjust="spacingAndGlyphs" stroke-width=".14" stroke="#ff3030">335.1</text>
<text x="219.6" y="36.2" font-size="3.20" fill="#222" textLength="9.8" lengthAdjust="spacingAndGlyphs" stroke-width=".14" stroke="#222">X1 = A</text>
<text x="219.6" y="41.2" font-size="3.20" fill="#222" textLength="9.8" lengthAdjust="spacingAndGlyphs" stroke-width=".14" stroke="#222">X2 = C</text>
<text x="219.6" y="51.2" font-size="3.20" fill="#000" font-weight="bold" textLength="19.5" lengthAdjust="spacingAndGlyphs" stroke-width=".14" stroke="#000">Actual Factor</text>
<text x="219.6" y="56.2" font-size="3.20" fill="#222" textLength="15.5" lengthAdjust="spacingAndGlyphs" stroke-width=".14" stroke="#222">B = 21000</text>
<g transform="translate(254.50 60.30) scale(0.620)" stroke="#1a1a1a" stroke-width="2.1" fill="none"><path d="M4 1.2H1.2V8.8H8.8V6"/><path d="M3.8 6.2L7.6 2.4"/><path d="M5.2 0.6H9.4V4.8Z" fill="#1a1a1a" stroke-width=".6"/></g>
<g><g stroke="#747474" stroke-width=".65" fill="none"><line x1="543.4" y1="114.2" x2="539.7" y2="34.0"/><line x1="557.5" y1="109.3" x2="554.6" y2="31.2"/><line x1="570.9" y1="104.8" x2="568.7" y2="28.6"/><line x1="583.6" y1="100.4" x2="582.1" y2="26.1"/><line x1="595.7" y1="96.3" x2="594.8" y2="23.7"/><line x1="607.2" y1="92.4" x2="606.8" y2="21.4"/><line x1="670.7" y1="113.8" x2="673.3" y2="34.4"/><line x1="659.1" y1="109.9" x2="661.0" y2="32.0"/><line x1="647.8" y1="106.1" x2="649.3" y2="29.7"/><line x1="637.1" y1="102.5" x2="638.0" y2="27.5"/><line x1="626.7" y1="99.0" x2="627.2" y2="25.4"/><line x1="616.8" y1="95.6" x2="616.8" y2="23.4"/><line x1="607.2" y1="92.4" x2="606.8" y2="21.4"/><line x1="542.5" y1="94.8" x2="607.1" y2="75.2"/><line x1="607.1" y1="75.2" x2="671.4" y2="94.7"/><line x1="542.1" y1="86.4" x2="607.1" y2="67.7"/><line x1="607.1" y1="67.7" x2="671.6" y2="86.3"/><line x1="541.7" y1="77.9" x2="607.0" y2="60.2"/><line x1="607.0" y1="60.2" x2="671.9" y2="77.9"/><line x1="541.3" y1="69.3" x2="607.0" y2="52.6"/><line x1="607.0" y1="52.6" x2="672.2" y2="69.4"/><line x1="540.9" y1="60.6" x2="606.9" y2="44.9"/><line x1="606.9" y1="44.9" x2="672.5" y2="60.7"/><line x1="540.5" y1="51.9" x2="606.9" y2="37.1"/><line x1="606.9" y1="37.1" x2="672.8" y2="52.0"/><line x1="540.1" y1="43.0" x2="606.9" y2="29.3"/><line x1="606.9" y1="29.3" x2="673.1" y2="43.3"/><line x1="539.7" y1="34.0" x2="606.8" y2="21.4"/><line x1="606.8" y1="21.4" x2="673.3" y2="34.4"/></g>
<polyline points="543.4,114.2 539.7,34.0 606.8,21.4 673.3,34.4 670.7,113.8" stroke="#555" stroke-width=".7" fill="none"/>
<line x1="607.2" y1="92.4" x2="606.8" y2="21.4" stroke="#555" stroke-width=".7"/>
<polygon points="543.4,114.2 607.4,142.1 670.7,113.8 607.2,92.4" fill="#646464"/>
<polyline points="543.4,114.2 607.4,142.1 670.7,113.8" stroke="#2a2a2a" stroke-width=".8" fill="none"/>
<polyline points="604.5,140.9 605.6,140.8 606.9,140.8 608.2,140.7 609.6,140.6 611.0,140.6 611.0,140.6" stroke="#3dccb8" stroke-width="1.25" stroke-linejoin="round" fill="none"/>
<polyline points="595.9,137.1 597.1,137.1 598.3,137.1 599.5,137.1 600.7,137.1 601.8,137.1 603.0,137.0 604.1,137.0 605.2,137.0 606.3,136.9 607.4,136.9 608.7,136.8 610.1,136.7 611.4,136.6 612.7,136.6 613.7,136.5 614.7,136.4 615.7,136.3 617.2,136.2 618.6,136.0 619.6,135.9 620.5,135.8 621.8,135.7 621.8,135.7" stroke="#3dcc78" stroke-width="1.25" stroke-linejoin="round" fill="none"/>
<polyline points="613.0,94.4 612.0,94.3 611.1,94.3 610.2,94.3 609.2,94.3 608.3,94.3 607.4,94.3 606.4,94.3 605.5,94.3 604.5,94.3 603.5,94.3 602.5,94.3 601.6,94.4 601.5,94.4" stroke="#3dcc78" stroke-width="1.25" stroke-linejoin="round" fill="none"/>
<polyline points="584.9,132.3 586.3,132.4 587.4,132.5 588.4,132.5 589.4,132.6 590.5,132.6 591.6,132.7 592.9,132.7 594.2,132.7 595.4,132.8 596.6,132.8 597.8,132.8 599.0,132.8 600.1,132.8 601.3,132.7 602.4,132.7 603.5,132.7 604.6,132.7 605.7,132.6 606.9,132.6 608.2,132.5 609.5,132.4 610.8,132.3 611.8,132.3 612.8,132.2 613.8,132.1 615.2,132.0 616.7,131.8 617.6,131.7 618.5,131.6 619.8,131.5 621.2,131.3 622.1,131.2 623.1,131.0 624.6,130.8 625.5,130.7 626.7,130.5 627.9,130.2 628.7,130.1 630.3,129.8 631.1,129.6 632.6,129.3 633.3,129.2 634.8,128.8 635.5,128.7 636.9,128.3 637.6,128.1 638.9,127.8 640.2,127.4 640.7,127.3" stroke="#42cc3d" stroke-width="1.25" stroke-linejoin="round" fill="none"/>
<polyline points="654.8,121.0 655.4,120.5 656.1,120.0 656.4,119.7 657.0,119.1 657.3,118.9 657.8,118.3 658.1,118.0 658.5,117.4 658.7,117.1 658.9,116.7 659.2,116.1 659.4,115.8 659.5,115.5 659.6,115.0 659.7,114.5 659.8,114.1 659.8,113.7 659.8,113.4 659.8,113.0 659.7,112.6 659.6,112.2 659.5,111.8 659.4,111.4 659.2,111.0 659.0,110.6 658.7,110.1 658.4,109.7 658.4,109.7" stroke="#42cc3d" stroke-width="1.25" stroke-linejoin="round" fill="none"/>
<polyline points="623.7,98.0 622.3,97.8 621.4,97.8 620.6,97.7 619.8,97.6 618.6,97.5 617.4,97.5 616.6,97.4 615.8,97.4 614.9,97.3 614.0,97.3 612.9,97.2 611.8,97.2 610.8,97.2 609.7,97.2 608.7,97.2 607.7,97.1 606.8,97.1 605.8,97.1 604.9,97.2 603.9,97.2 603.0,97.2 602.1,97.2 601.2,97.2 600.3,97.3 599.4,97.3 598.6,97.3 597.4,97.4 596.3,97.4 595.2,97.5 594.4,97.6 593.5,97.6 592.7,97.7 591.5,97.8 591.5,97.8" stroke="#42cc3d" stroke-width="1.25" stroke-linejoin="round" fill="none"/>
<polyline points="545.5,113.4 545.3,113.8 545.1,114.3 545.0,114.7 545.0,114.9" stroke="#42cc3d" stroke-width="1.25" stroke-linejoin="round" fill="none"/>
<polyline points="573.5,104.2 572.3,104.5 571.2,104.9 570.1,105.3 569.0,105.6 567.9,106.0 566.9,106.4 566.3,106.7 565.4,107.1 564.5,107.5 563.7,107.9 563.1,108.2 562.3,108.7 561.9,109.0 561.1,109.5 560.7,109.8 560.1,110.2 559.6,110.7 559.3,111.0 558.9,111.4 558.4,111.9 558.1,112.2 557.9,112.6 557.7,112.9 557.5,113.3 557.3,113.7 557.2,114.1 557.1,114.6 557.0,114.9 557.0,115.4 557.0,115.9 557.1,116.4 557.2,116.8 557.3,117.1 557.5,117.5 557.8,118.1 558.0,118.4 558.3,118.8 558.8,119.3 559.1,119.6 559.7,120.1 560.3,120.6 560.8,120.9 561.6,121.5 562.5,122.0 563.1,122.3 563.9,122.7 564.9,123.1 565.9,123.6 566.5,123.8 567.6,124.2 568.8,124.6 570.0,124.9 570.8,125.1 572.0,125.5 573.4,125.8 574.1,126.0 575.5,126.3 576.3,126.4 577.8,126.7 578.6,126.8 579.6,127.0 581.0,127.2 581.9,127.3 583.0,127.5 584.5,127.6 585.4,127.7 586.3,127.8 587.6,127.9 589.0,128.0 590.1,128.1 591.1,128.2 592.1,128.2 593.1,128.3 594.3,128.3 595.5,128.4 596.7,128.4 597.9,128.4 599.1,128.4 600.2,128.4 601.3,128.4 602.4,128.4 603.5,128.3 604.6,128.3 605.7,128.2 606.9,128.2 608.3,128.1 609.6,128.0 610.6,127.9 611.6,127.9 612.5,127.8 613.9,127.6 615.2,127.5 616.1,127.4 617.0,127.3 618.7,127.1 619.6,126.9 620.4,126.8 622.0,126.5 622.8,126.4 624.2,126.1 625.1,126.0 626.3,125.7 627.3,125.5 628.6,125.2 629.4,125.0 630.8,124.6 631.4,124.5 632.7,124.1 634.0,123.7 635.2,123.3 635.7,123.1 636.9,122.7 638.0,122.3 639.0,121.8 640.0,121.4 641.0,120.9 641.8,120.4 642.3,120.2 643.1,119.7 643.9,119.2 644.3,118.9 645.0,118.4 645.4,118.0 645.9,117.5 646.3,117.1 646.7,116.6 646.9,116.3 647.3,115.8 647.5,115.4 647.6,115.1 647.8,114.7 647.9,114.2 648.0,113.7 648.0,113.3 648.0,112.9 648.0,112.6 647.9,112.2 647.8,111.7 647.6,111.3 647.4,110.9 647.2,110.6 646.9,110.2 646.7,109.9 646.3,109.4 645.8,109.0 645.5,108.7 645.0,108.3 644.5,107.9 644.1,107.6 643.3,107.1 642.7,106.8 642.0,106.4 641.1,106.0 640.5,105.7 639.7,105.3 638.7,104.9 637.7,104.6 636.6,104.2 635.5,103.9 634.3,103.5 633.6,103.3 632.6,103.1 631.4,102.8 630.3,102.6 629.5,102.4 628.2,102.1 627.5,102.0 626.1,101.8 625.4,101.7 624.2,101.5 623.3,101.3 622.5,101.2 621.1,101.1 620.4,101.0 619.6,100.9 618.2,100.8 617.2,100.7 616.4,100.6 615.6,100.6 614.4,100.5 613.3,100.4 612.2,100.4 611.3,100.3 610.4,100.3 609.5,100.3 608.6,100.3 607.7,100.3 606.7,100.3 605.7,100.3 604.7,100.3 603.7,100.3 602.7,100.3 601.6,100.3 600.6,100.4 599.4,100.4 598.5,100.4 597.6,100.5 596.8,100.5 595.9,100.6 594.7,100.7 593.5,100.8 592.7,100.9 591.9,100.9 590.7,101.1 589.6,101.2 588.8,101.3 587.7,101.4 586.6,101.6 585.9,101.7 584.5,101.9 583.8,102.0 582.4,102.2 581.7,102.3 580.4,102.6 579.7,102.7 578.4,103.0 577.6,103.2 576.5,103.4 575.3,103.7 574.1,104.0 573.5,104.2 573.5,104.2" stroke="#78cc3d" stroke-width="1.25" stroke-linejoin="round" fill="none"/>
<g transform="scale(.1)" stroke="#000" stroke-opacity="0.22" stroke-width="5.5" stroke-linejoin="round"><path d="M6070 555l29 14-29 14-29-14z" fill="#227351" stroke="#227351" stroke-opacity="1"/><path d="M6099 543l29 14-29 12-29-14z" fill="#227344" stroke="#227344" stroke-opacity="1"/><path d="M6041 543l29 12-29 14-29-12z" fill="#227344" stroke="#227344" stroke-opacity="1"/><path d="M6129 534l29 13-30 10-29-14z" fill="#227337" stroke="#227337" stroke-opacity="1"/><path d="M6070 532l29 11-29 12-29-12z" fill="#227336" stroke="#227336" stroke-opacity="1"/><path d="M6011 533l30 10-29 14-30-11z" fill="#227337" stroke="#227337" stroke-opacity="1"/><path d="M6159 526l29 13-30 8-29-13z" fill="#22732c" stroke="#22732c" stroke-opacity="1"/><path d="M6100 522l29 12-30 9-29-11z" fill="#22732a" stroke="#22732a" stroke-opacity="1"/><path d="M6040 522l30 10-29 11-30-10z" fill="#22732a" stroke="#22732a" stroke-opacity="1"/><path d="M5980 524l31 9-29 13-30-9z" fill="#22732c" stroke="#22732c" stroke-opacity="1"/><path d="M6190 520l28 13-30 6-29-13z" fill="#227323" stroke="#227323" stroke-opacity="1"/><path d="M6130 514l29 12-30 8-29-12z" fill="#257322" stroke="#257322" stroke-opacity="1"/><path d="M6070 512l30 10-30 10-30-10z" fill="#277322" stroke="#277322" stroke-opacity="1"/><path d="M6010 513l30 9-29 11-31-9z" fill="#267322" stroke="#267322" stroke-opacity="1"/><path d="M5950 517l30 7-28 13-31-7z" fill="#237322" stroke="#237322" stroke-opacity="1"/><path d="M6220 516l29 12-31 5-28-13z" fill="#2a7322" stroke="#2a7322" stroke-opacity="1"/><path d="M6160 509l30 11-31 6-29-12z" fill="#2e7322" stroke="#2e7322" stroke-opacity="1"/><path d="M6100 505l30 9-30 8-30-10z" fill="#317322" stroke="#317322" stroke-opacity="1"/><path d="M6039 504l31 8-30 10-30-9z" fill="#317322" stroke="#317322" stroke-opacity="1"/><path d="M5979 507l31 6-30 11-30-7z" fill="#307322" stroke="#307322" stroke-opacity="1"/><path d="M5919 512l31 5-29 13-31-5z" fill="#2c7322" stroke="#2c7322" stroke-opacity="1"/><path d="M6252 514l29 12-32 2-29-12z" fill="#317322" stroke="#317322" stroke-opacity="1"/><path d="M6191 505l29 11-30 4-30-11z" fill="#367322" stroke="#367322" stroke-opacity="1"/><path d="M6130 500l30 9-30 5-30-9z" fill="#3a7322" stroke="#3a7322" stroke-opacity="1"/><path d="M6070 497l30 8-30 7-31-8z" fill="#3b7322" stroke="#3b7322" stroke-opacity="1"/><path d="M6009 498l30 6-29 9-31-6z" fill="#3b7322" stroke="#3b7322" stroke-opacity="1"/><path d="M5887 509l32 3-29 13-32-4z" fill="#337322" stroke="#337322" stroke-opacity="1"/><path d="M5948 502l31 5-29 10-31-5z" fill="#387322" stroke="#387322" stroke-opacity="1"/><path d="M6283 515l29 12-31-1-29-12z" fill="#367322" stroke="#367322" stroke-opacity="1"/><path d="M6222 504l30 10-32 2-29-11z" fill="#3d7322" stroke="#3d7322" stroke-opacity="1"/><path d="M6161 497l30 8-31 4-30-9z" fill="#417322" stroke="#417322" stroke-opacity="1"/><path d="M6100 492l30 8-30 5-30-8z" fill="#447322" stroke="#447322" stroke-opacity="1"/><path d="M6039 491l31 6-31 7-30-6z" fill="#457322" stroke="#457322" stroke-opacity="1"/><path d="M5855 508l32 1-29 12-32-2z" fill="#3a7322" stroke="#3a7322" stroke-opacity="1"/><path d="M5978 493l31 5-30 9-31-5z" fill="#437322" stroke="#437322" stroke-opacity="1"/><path d="M5916 499l32 3-29 10-32-3z" fill="#3f7322" stroke="#3f7322" stroke-opacity="1"/><path d="M6316 518l28 11-32-2-29-12z" fill="#3a7322" stroke="#3a7322" stroke-opacity="1"/><path d="M6254 505l29 10-31-1-30-10z" fill="#427322" stroke="#427322" stroke-opacity="1"/><path d="M6193 496l29 8-31 1-30-8z" fill="#487322" stroke="#487322" stroke-opacity="1"/><path d="M6131 490l30 7-31 3-30-8z" fill="#4b7322" stroke="#4b7322" stroke-opacity="1"/><path d="M6069 487l31 5-30 5-31-6z" fill="#4d7322" stroke="#4d7322" stroke-opacity="1"/><path d="M5823 508l32 0-29 11-32 1z" fill="#3f7322" stroke="#3f7322" stroke-opacity="1"/><path d="M6008 487l31 4-30 7-31-5z" fill="#4d7322" stroke="#4d7322" stroke-opacity="1"/><path d="M5884 498l32 1-29 10-32-1z" fill="#467322" stroke="#467322" stroke-opacity="1"/><path d="M5946 491l32 2-30 9-32-3z" fill="#4a7322" stroke="#4a7322" stroke-opacity="1"/><path d="M6348 522l29 11-33-4-28-11z" fill="#3d7322" stroke="#3d7322" stroke-opacity="1"/><path d="M6286 508l30 10-33-3-29-10z" fill="#467322" stroke="#467322" stroke-opacity="1"/><path d="M6225 497l29 8-32-1-29-8z" fill="#4d7322" stroke="#4d7322" stroke-opacity="1"/><path d="M6163 489l30 7-32 1-30-7z" fill="#517322" stroke="#517322" stroke-opacity="1"/><path d="M6100 484l31 6-31 2-31-5z" fill="#547322" stroke="#547322" stroke-opacity="1"/><path d="M5790 511l33-3-29 12-33 2z" fill="#437322" stroke="#437322" stroke-opacity="1"/><path d="M6038 483l31 4-30 4-31-4z" fill="#557322" stroke="#557322" stroke-opacity="1"/><path d="M5852 499l32-1-29 10-32 0z" fill="#4b7322" stroke="#4b7322" stroke-opacity="1"/><path d="M5976 485l32 2-30 6-32-2z" fill="#537322" stroke="#537322" stroke-opacity="1"/><path d="M5914 490l32 1-30 8-32-1z" fill="#507322" stroke="#507322" stroke-opacity="1"/><path d="M6381 530l29 10-33-7-29-11z" fill="#3e7322" stroke="#3e7322" stroke-opacity="1"/><path d="M6319 513l29 9-32-4-30-10z" fill="#487322" stroke="#487322" stroke-opacity="1"/><path d="M6257 500l29 8-32-3-29-8z" fill="#507322" stroke="#507322" stroke-opacity="1"/><path d="M6194 491l31 6-32-1-30-7z" fill="#567322" stroke="#567322" stroke-opacity="1"/><path d="M6132 484l31 5-32 1-31-6z" fill="#5a7322" stroke="#5a7322" stroke-opacity="1"/><path d="M5757 515l33-4-29 11-33 4z" fill="#467322" stroke="#467322" stroke-opacity="1"/><path d="M6069 481l31 3-31 3-31-4z" fill="#5b7322" stroke="#5b7322" stroke-opacity="1"/><path d="M5819 502l33-3-29 9-33 3z" fill="#4e7322" stroke="#4e7322" stroke-opacity="1"/><path d="M6007 481l31 2-30 4-32-2z" fill="#5b7322" stroke="#5b7322" stroke-opacity="1"/><path d="M5882 492l32-2-30 8-32 1z" fill="#557322" stroke="#557322" stroke-opacity="1"/><path d="M5944 485l32 0-30 6-32-1z" fill="#597322" stroke="#597322" stroke-opacity="1"/><path d="M6414 539l29 10-33-9-29-10z" fill="#3e7322" stroke="#3e7322" stroke-opacity="1"/><path d="M6352 521l29 9-33-8-29-9z" fill="#497322" stroke="#497322" stroke-opacity="1"/><path d="M6289 506l30 7-33-5-29-8z" fill="#527322" stroke="#527322" stroke-opacity="1"/><path d="M6227 495l30 5-32-3-31-6z" fill="#597322" stroke="#597322" stroke-opacity="1"/><path d="M6164 486l30 5-31-2-31-5z" fill="#5e7322" stroke="#5e7322" stroke-opacity="1"/><path d="M5723 522l34-7-29 11-34 6z" fill="#477322" stroke="#477322" stroke-opacity="1"/><path d="M6101 481l31 3-32 0-31-3z" fill="#617322" stroke="#617322" stroke-opacity="1"/><path d="M5786 507l33-5-29 9-33 4z" fill="#517322" stroke="#517322" stroke-opacity="1"/><path d="M6038 480l31 1-31 2-31-2z" fill="#627322" stroke="#627322" stroke-opacity="1"/><path d="M5849 495l33-3-30 7-33 3z" fill="#587322" stroke="#587322" stroke-opacity="1"/><path d="M5975 482l32-1-31 4-32 0z" fill="#617322" stroke="#617322" stroke-opacity="1"/><path d="M6448 551l28 10-33-12-29-10z" fill="#7ceb46"/><path d="M5912 487l32-2-30 5-32 2z" fill="#5d7322" stroke="#5d7322" stroke-opacity="1"/><path d="M6385 531l29 8-33-9-29-9z" fill="#95eb46"/><path d="M6322 514l30 7-33-8-30-7z" fill="#aaeb46"/><path d="M6259 501l30 5-32-6-30-5z" fill="#5b7322" stroke="#5b7322" stroke-opacity="1"/><path d="M6196 491l31 4-33-4-30-5z" fill="#617322" stroke="#617322" stroke-opacity="1"/><path d="M5689 531l34-9-29 10-34 8z" fill="#487322" stroke="#487322" stroke-opacity="1"/><path d="M6133 484l31 2-32-2-31-3z" fill="#657322" stroke="#657322" stroke-opacity="1"/><path d="M6482 565l28 9-34-13-28-10z" fill="#77eb46"/><path d="M5752 514l34-7-29 8-34 7z" fill="#527322" stroke="#527322" stroke-opacity="1"/><path d="M6069 480l32 1-32 0-31-1z" fill="#677322" stroke="#677322" stroke-opacity="1"/><path d="M5815 500l34-5-30 7-33 5z" fill="#5a7322" stroke="#5a7322" stroke-opacity="1"/><path d="M6006 480l32 0-31 1-32 1z" fill="#677322" stroke="#677322" stroke-opacity="1"/><path d="M5879 490l33-3-30 5-33 3z" fill="#607322" stroke="#607322" stroke-opacity="1"/><path d="M5942 484l33-2-31 3-32 2z" fill="#657322" stroke="#657322" stroke-opacity="1"/><path d="M6419 543l29 8-34-12-29-8z" fill="#92eb46"/><path d="M6356 525l29 6-33-10-30-7z" fill="#a8eb46"/><path d="M6292 509l30 5-33-8-30-5z" fill="#bbeb46"/><path d="M6229 497l30 4-32-6-31-4z" fill="#caeb46"/><path d="M6516 582l29 9-35-17-28-9z" fill="#6eeb46"/><path d="M6165 489l31 2-32-5-31-2z" fill="#d4eb46"/><path d="M5655 541l34-10-29 9-34 11z" fill="#477322" stroke="#477322" stroke-opacity="1"/><path d="M6101 483l32 1-32-3-32-1z" fill="#daeb46"/><path d="M5718 523l34-9-29 8-34 9z" fill="#527322" stroke="#527322" stroke-opacity="1"/><path d="M6037 482l32-2-31 0-32 0z" fill="#dceb46"/><path d="M5782 508l33-8-29 7-34 7z" fill="#bbeb46"/><path d="M6453 558l29 7-34-14-29-8z" fill="#8beb46"/><path d="M5973 483l33-3-31 2-33 2z" fill="#daeb46"/><path d="M5845 496l34-6-30 5-34 5z" fill="#c9eb46"/><path d="M5909 488l33-4-30 3-33 3z" fill="#d4eb46"/><path d="M6390 538l29 5-34-12-29-6z" fill="#a4eb46"/><path d="M6326 520l30 5-34-11-30-5z" fill="#b9eb46"/><path d="M6551 601l28 8-34-18-29-9z" fill="#63eb46"/><path d="M6262 506l30 3-33-8-30-4z" fill="#caeb46"/><path d="M6198 496l31 1-33-6-31-2z" fill="#d7eb46"/><path d="M5620 554l35-13-29 10-35 12z" fill="#8deb46"/><path d="M6488 575l28 7-34-17-29-7z" fill="#82eb46"/><path d="M6134 489l31 0-32-5-32-1z" fill="#dfeb46"/><path d="M5684 534l34-11-29 8-34 10z" fill="#a6eb46"/><path d="M6069 485l32-2-32-3-32 2z" fill="#e3eb46"/><path d="M5748 518l34-10-30 6-34 9z" fill="#baeb46"/><path d="M6005 485l32-3-31-2-33 3z" fill="#e3eb46"/><path d="M5812 504l33-8-30 4-33 8z" fill="#cbeb46"/><path d="M5940 488l33-5-31 1-33 4z" fill="#dfeb46"/><path d="M5876 494l33-6-30 2-34 6z" fill="#d7eb46"/><path d="M6424 553l29 5-34-15-29-5z" fill="#9eeb46"/><path d="M6360 534l30 4-34-13-30-5z" fill="#b5eb46"/><path d="M6586 623l28 7-35-21-28-8z" fill="#55eb46"/><path d="M6295 518l31 2-34-11-30-3z" fill="#c8eb46"/><path d="M6231 506l31 0-33-9-31-1z" fill="#d7eb46"/><path d="M6523 595l28 6-35-19-28-7z" fill="#77eb46"/><path d="M5584 569l36-15-29 9-35 15z" fill="#86eb46"/><path d="M6166 497l32-1-33-7-31 0z" fill="#e1eb46"/><path d="M5649 548l35-14-29 7-35 13z" fill="#a1eb46"/><path d="M6102 491l32-2-33-6-32 2z" fill="#e8eb46"/><path d="M5713 529l35-11-30 5-34 11z" fill="#b8eb46"/><path d="M6458 571l30 4-35-17-29-5z" fill="#94eb46"/><path d="M6037 489l32-4-32-3-32 3z" fill="#eaeb46"/><path d="M5778 514l34-10-30 4-34 10z" fill="#caeb46"/><path d="M5972 490l33-5-32-2-33 5z" fill="#e8eb46"/><path d="M5842 503l34-9-31 2-33 8z" fill="#d8eb46"/><path d="M5907 495l33-7-31 0-33 6z" fill="#e2eb46"/><path d="M6394 550l30 3-34-15-30-4z" fill="#adeb46"/><path d="M6622 647l28 7-36-24-28-7z" fill="#46eb49"/><path d="M6329 532l31 2-34-14-31-2z" fill="#c3eb46"/><path d="M6558 617l28 6-35-22-28-6z" fill="#68eb46"/><path d="M6265 518l30 0-33-12-31 0z" fill="#d4eb46"/><path d="M5549 587l35-18-28 9-35 17z" fill="#7deb46"/><path d="M6200 507l31-1-33-10-32 1z" fill="#e1eb46"/><path d="M5613 563l36-15-29 6-36 15z" fill="#9aeb46"/><path d="M6493 591l30 4-35-20-30-4z" fill="#88eb46"/><path d="M6134 499l32-2-32-8-32 2z" fill="#e9eb46"/><path d="M5678 543l35-14-29 5-35 14z" fill="#b2eb46"/><path d="M6069 495l33-4-33-6-32 4z" fill="#ebe746"/><path d="M5743 527l35-13-30 4-35 11z" fill="#c7eb46"/><path d="M6004 495l33-6-32-4-33 5z" fill="#ebe746"/><path d="M6658 674l27 6-35-26-28-7z" fill="#46eb5c"/><path d="M5808 513l34-10-30 1-34 10z" fill="#d7eb46"/><path d="M5939 497l33-7-32-2-33 7z" fill="#ebeb46"/><path d="M5873 504l34-9-31-1-34 9z" fill="#e3eb46"/><path d="M6429 568l29 3-34-18-30-3z" fill="#a3eb46"/><path d="M6364 548l30 2-34-16-31-2z" fill="#bbeb46"/><path d="M6593 642l29 5-36-24-28-6z" fill="#56eb46"/><path d="M6299 532l30 0-34-14-30 0z" fill="#ceeb46"/><path d="M5513 607l36-20-28 8-36 19z" fill="#71eb46"/><path d="M6529 614l29 3-35-22-30-4z" fill="#78eb46"/><path d="M6233 519l32-1-34-12-31 1z" fill="#ddeb46"/><path d="M5578 581l35-18-29 6-35 18z" fill="#90eb46"/><path d="M6168 510l32-3-34-10-32 2z" fill="#e8eb46"/><path d="M6694 703l27 6-36-29-27-6z" fill="#46eb73"/><path d="M5643 560l35-17-29 5-36 15z" fill="#aaeb46"/><path d="M6102 504l32-5-32-8-33 4z" fill="#ebe646"/><path d="M6464 589l29 2-35-20-29-3z" fill="#96eb46"/><path d="M5708 541l35-14-30 2-35 14z" fill="#c1eb46"/><path d="M6036 501l33-6-32-6-33 6z" fill="#ebe446"/><path d="M5774 526l34-13-30 1-35 13z" fill="#d3eb46"/><path d="M5971 502l33-7-32-5-33 7z" fill="#ebe546"/><path d="M5839 515l34-11-31-1-34 10z" fill="#e1eb46"/><path d="M5905 507l34-10-32-2-34 9z" fill="#eaeb46"/><path d="M6629 670l29 4-36-27-29-5z" fill="#46eb4a"/><path d="M6399 567l30 1-35-18-30-2z" fill="#b0eb46"/><path d="M6333 549l31-1-35-16-30 0z" fill="#c5eb46"/><path d="M5476 629l37-22-28 7-37 21z" fill="#63eb46"/><path d="M6564 639l29 3-35-25-29-3z" fill="#66eb46"/><path d="M6267 534l32-2-34-14-32 1z" fill="#d7eb46"/><path d="M5542 602l36-21-29 6-36 20z" fill="#84eb46"/><path d="M6201 523l32-4-33-12-32 3z" fill="#e4eb46"/><path d="M6499 613l30 1-36-23-29-2z" fill="#87eb46"/><path d="M5607 578l36-18-30 3-35 18z" fill="#a0eb46"/><path d="M6135 515l33-5-34-11-32 5z" fill="#ebe846"/><path d="M5673 558l35-17-30 2-35 17z" fill="#b8eb46"/><path d="M6069 511l33-7-33-9-33 6z" fill="#ebe346"/><path d="M6666 700l28 3-36-29-29-4z" fill="#46eb61"/><path d="M5739 541l35-15-31 1-35 14z" fill="#cceb46"/><path d="M6003 510l33-9-32-6-33 7z" fill="#ebe246"/><path d="M6434 589l30 0-35-21-30-1z" fill="#a2eb46"/><path d="M5805 528l34-13-31-2-34 13z" fill="#dceb46"/><path d="M5937 513l34-11-32-5-34 10z" fill="#ebe646"/><path d="M5871 519l34-12-32-3-34 11z" fill="#e8eb46"/><path d="M6368 569l31-2-35-19-31 1z" fill="#baeb46"/><path d="M6600 668l29 2-36-28-29-3z" fill="#52eb46"/><path d="M5440 653l36-24-28 6-36 24z" fill="#53eb46"/><path d="M6302 552l31-3-34-17-32 2z" fill="#ceeb46"/><path d="M5505 624l37-22-29 5-37 22z" fill="#75eb46"/><path d="M6535 639l29 0-35-25-30-1z" fill="#74eb46"/><path d="M6235 539l32-5-34-15-32 4z" fill="#ddeb46"/><path d="M5571 599l36-21-29 3-36 21z" fill="#93eb46"/><path d="M6169 529l32-6-33-13-33 5z" fill="#e9eb46"/><path d="M5637 577l36-19-30 2-36 18z" fill="#aeeb46"/><path d="M6469 613l30 0-35-24-30 0z" fill="#92eb46"/><path d="M6103 523l32-8-33-11-33 7z" fill="#ebe546"/><path d="M5703 559l36-18-31 0-35 17z" fill="#c3eb46"/><path d="M6036 520l33-9-33-10-33 9z" fill="#ebe246"/><path d="M5770 544l35-16-31-2-35 15z" fill="#d5eb46"/><path d="M5969 521l34-11-32-8-34 11z" fill="#ebe446"/><path d="M5836 533l35-14-32-4-34 13z" fill="#e3eb46"/><path d="M5903 525l34-12-32-6-34 12z" fill="#ebe946"/><path d="M6637 698l29 2-37-30-29-2z" fill="#46eb53"/><path d="M6403 591l31-2-35-22-31 2z" fill="#aceb46"/><path d="M6337 572l31-3-35-20-31 3z" fill="#c2eb46"/><path d="M6571 667l29 1-36-29-29 0z" fill="#5feb46"/><path d="M5468 649l37-25-29 5-36 24z" fill="#64eb46"/><path d="M6270 557l32-5-35-18-32 5z" fill="#d4eb46"/><path d="M5534 622l37-23-29 3-37 22z" fill="#84eb46"/><path d="M6203 545l32-6-34-16-32 6z" fill="#e1eb46"/><path d="M6505 640l30-1-36-26-30 0z" fill="#7feb46"/><path d="M5601 599l36-22-30 1-36 21z" fill="#a0eb46"/><path d="M6136 537l33-8-34-14-32 8z" fill="#ebeb46"/><path d="M5667 579l36-20-30-1-36 19z" fill="#b8eb46"/><path d="M6069 532l34-9-34-12-33 9z" fill="#ebe546"/><path d="M5734 562l36-18-31-3-36 18z" fill="#cceb46"/><path d="M6439 616l30-3-35-24-31 2z" fill="#9beb46"/><path d="M6002 531l34-11-33-10-34 11z" fill="#ebe446"/><path d="M5801 549l35-16-31-5-35 16z" fill="#dbeb46"/><path d="M5935 534l34-13-32-8-34 12z" fill="#ebe746"/><path d="M5868 540l35-15-32-6-35 14z" fill="#e7eb46"/><path d="M6608 699l29-1-37-30-29-1z" fill="#47eb46"/><path d="M6372 595l31-4-35-22-31 3z" fill="#b3eb46"/><path d="M6305 578l32-6-35-20-32 5z" fill="#c7eb46"/><path d="M6541 669l30-2-36-28-30 1z" fill="#69eb46"/><path d="M5498 648l36-26-29 2-37 25z" fill="#73eb46"/><path d="M6238 564l32-7-35-18-32 6z" fill="#d7eb46"/><path d="M5564 623l37-24-30 0-37 23z" fill="#91eb46"/><path d="M6170 554l33-9-34-16-33 8z" fill="#e3eb46"/><path d="M6475 643l30-3-36-27-30 3z" fill="#88eb46"/><path d="M5631 601l36-22-30-2-36 22z" fill="#aaeb46"/><path d="M6103 547l33-10-33-14-34 9z" fill="#eaeb46"/><path d="M5698 582l36-20-31-3-36 20z" fill="#c0eb46"/><path d="M6036 544l33-12-33-12-34 11z" fill="#ebe846"/><path d="M5765 568l36-19-31-5-36 18z" fill="#d1eb46"/><path d="M5968 545l34-14-33-10-34 13z" fill="#ebe946"/><path d="M5833 557l35-17-32-7-35 16z" fill="#dfeb46"/><path d="M5900 549l35-15-32-9-35 15z" fill="#e8eb46"/><path d="M6408 621l31-5-36-25-31 4z" fill="#a2eb46"/><path d="M6340 601l32-6-35-23-32 6z" fill="#b8eb46"/><path d="M6578 702l30-3-37-32-30 2z" fill="#51eb46"/><path d="M6273 586l32-8-35-21-32 7z" fill="#caeb46"/><path d="M5527 649l37-26-30-1-36 26z" fill="#7eeb46"/><path d="M6511 674l30-5-36-29-30 3z" fill="#71eb46"/><path d="M6205 574l33-10-35-19-33 9z" fill="#d8eb46"/><path d="M5594 625l37-24-30-2-37 24z" fill="#9aeb46"/><path d="M6137 565l33-11-34-17-33 10z" fill="#e2eb46"/><path d="M5662 605l36-23-31-3-36 22z" fill="#b1eb46"/><path d="M6069 560l34-13-34-15-33 12z" fill="#e7eb46"/><path d="M6444 649l31-6-36-27-31 5z" fill="#8eeb46"/><path d="M5730 589l35-21-31-6-36 20z" fill="#c5eb46"/><path d="M6001 559l35-15-34-13-34 14z" fill="#e9eb46"/><path d="M5797 576l36-19-32-8-36 19z" fill="#d4eb46"/><path d="M5933 561l35-16-33-11-35 15z" fill="#e6eb46"/><path d="M5865 567l35-18-32-9-35 17z" fill="#dfeb46"/><path d="M6376 628l32-7-36-26-32 6z" fill="#a6eb46"/><path d="M6308 610l32-9-35-23-32 8z" fill="#baeb46"/><path d="M6548 706l30-4-37-33-30 5z" fill="#58eb46"/><path d="M6240 596l33-10-35-22-33 10z" fill="#cbeb46"/><path d="M5557 652l37-27-30-2-37 26z" fill="#87eb46"/><path d="M6172 585l33-11-35-20-33 11z" fill="#d6eb46"/><path d="M6480 680l31-6-36-31-31 6z" fill="#77eb46"/><path d="M5625 630l37-25-31-4-37 24z" fill="#a1eb46"/><path d="M6104 578l33-13-34-18-34 13z" fill="#deeb46"/><path d="M5693 612l37-23-32-7-36 23z" fill="#b6eb46"/><path d="M6035 575l34-15-33-16-35 15z" fill="#e2eb46"/><path d="M5761 598l36-22-32-8-35 21z" fill="#c7eb46"/><path d="M5967 575l34-16-33-14-35 16z" fill="#e1eb46"/><path d="M6412 657l32-8-36-28-32 7z" fill="#91eb46"/><path d="M5830 587l35-20-32-10-36 19z" fill="#d4eb46"/><path d="M5898 579l35-18-33-12-35 18z" fill="#ddeb46"/><path d="M6344 637l32-9-36-27-32 9z" fill="#a8eb46"/><path d="M6276 621l32-11-35-24-33 10z" fill="#baeb46"/><path d="M6517 714l31-8-37-32-31 6z" fill="#5deb46"/><path d="M6207 608l33-12-35-22-33 11z" fill="#c8eb46"/><path d="M5588 658l37-28-31-5-37 27z" fill="#8deb46"/><path d="M6138 599l34-14-35-20-33 13z" fill="#d2eb46"/><path d="M6449 688l31-8-36-31-32 8z" fill="#7aeb46"/><path d="M5657 638l36-26-31-7-37 25z" fill="#a4eb46"/><path d="M6069 594l35-16-35-18-34 15z" fill="#d8eb46"/><path d="M5725 622l36-24-31-9-37 23z" fill="#b7eb46"/><path d="M6001 592l34-17-34-16-34 16z" fill="#daeb46"/><path d="M5794 609l36-22-33-11-36 22z" fill="#c6eb46"/><path d="M5932 594l35-19-34-14-35 18z" fill="#d8eb46"/><path d="M5863 600l35-21-33-12-35 20z" fill="#d1eb46"/><path d="M6380 667l32-10-36-29-32 9z" fill="#93eb46"/><path d="M6312 649l32-12-36-27-32 11z" fill="#a7eb46"/><path d="M6243 634l33-13-36-25-33 12z" fill="#b8eb46"/><path d="M6486 723l31-9-37-34-31 8z" fill="#60eb46"/><path d="M6173 623l34-15-35-23-34 14z" fill="#c4eb46"/><path d="M5619 667l38-29-32-8-37 28z" fill="#91eb46"/><path d="M6104 616l34-17-34-21-35 16z" fill="#cceb46"/><path d="M5688 648l37-26-32-10-36 26z" fill="#a6eb46"/><path d="M6035 612l34-18-34-19-34 17z" fill="#d0eb46"/><path d="M6417 699l32-11-37-31-32 10z" fill="#7aeb46"/><path d="M5758 634l36-25-33-11-36 24z" fill="#b6eb46"/><path d="M5965 612l36-20-34-17-35 19z" fill="#d0eb46"/><path d="M5827 623l36-23-33-13-36 22z" fill="#c3eb46"/><path d="M5896 616l36-22-34-15-35 21z" fill="#cbeb46"/><path d="M6348 679l32-12-36-30-32 12z" fill="#91eb46"/><path d="M6279 663l33-14-36-28-33 13z" fill="#a4eb46"/><path d="M6209 650l34-16-36-26-34 15z" fill="#b2eb46"/><path d="M6139 640l34-17-35-24-34 17z" fill="#bdeb46"/><path d="M6454 735l32-12-37-35-32 11z" fill="#60eb46"/><path d="M6070 635l34-19-35-22-34 18z" fill="#c3eb46"/><path d="M5651 678l37-30-31-10-38 29z" fill="#91eb46"/><path d="M6000 633l35-21-34-20-36 20z" fill="#c5eb46"/><path d="M5721 661l37-27-33-12-37 26z" fill="#a4eb46"/><path d="M5930 634l35-22-33-18-36 22z" fill="#c3eb46"/><path d="M5790 649l37-26-33-14-36 25z" fill="#b2eb46"/><path d="M5860 640l36-24-33-16-36 23z" fill="#bdeb46"/><path d="M6384 712l33-13-37-32-32 12z" fill="#79eb46"/><path d="M6315 694l33-15-36-30-33 14z" fill="#8eeb46"/><path d="M6245 679l34-16-36-29-34 16z" fill="#9eeb46"/><path d="M6175 668l34-18-36-27-34 17z" fill="#abeb46"/><path d="M6105 660l34-20-35-24-34 19z" fill="#b3eb46"/><path d="M6035 656l35-21-35-23-35 21z" fill="#b8eb46"/><path d="M6421 749l33-14-37-36-33 13z" fill="#5deb46"/><path d="M5684 691l37-30-33-13-37 30z" fill="#8feb46"/><path d="M5964 656l36-23-35-21-35 22z" fill="#b8eb46"/><path d="M5754 677l36-28-32-15-37 27z" fill="#9feb46"/><path d="M5894 659l36-25-34-18-36 24z" fill="#b4eb46"/><path d="M5824 666l36-26-33-17-37 26z" fill="#aceb46"/><path d="M6352 728l32-16-36-33-33 15z" fill="#74eb46"/><path d="M6281 711l34-17-36-31-34 16z" fill="#87eb46"/><path d="M6211 698l34-19-36-29-34 18z" fill="#96eb46"/><path d="M6141 688l34-20-36-28-34 20z" fill="#a1eb46"/><path d="M6070 682l35-22-35-25-35 21z" fill="#a7eb46"/><path d="M5999 680l36-24-35-23-36 23z" fill="#aaeb46"/><path d="M5716 708l38-31-33-16-37 30z" fill="#8aeb46"/><path d="M5928 681l36-25-34-22-36 25z" fill="#a8eb46"/><path d="M5787 695l37-29-34-17-36 28z" fill="#98eb46"/><path d="M5858 686l36-27-34-19-36 26z" fill="#a2eb46"/><path d="M6389 765l32-16-37-37-32 16z" fill="#58eb46"/><path d="M6318 746l34-18-37-34-34 17z" fill="#6eeb46"/><path d="M6247 731l34-20-36-32-34 19z" fill="#7feb46"/><path d="M6177 719l34-21-36-30-34 20z" fill="#8beb46"/><path d="M6106 711l35-23-36-28-35 22z" fill="#94eb46"/><path d="M6034 707l36-25-35-26-36 24z" fill="#99eb46"/><path d="M5963 706l36-26-35-24-36 25z" fill="#99eb46"/><path d="M5750 727l37-32-33-18-38 31z" fill="#82eb46"/><path d="M5892 709l36-28-34-22-36 27z" fill="#96eb46"/><path d="M5821 716l37-30-34-20-37 29z" fill="#8eeb46"/><path d="M6355 784l34-19-37-37-34 18z" fill="#51eb46"/><path d="M6284 766l34-20-37-35-34 20z" fill="#64eb46"/><path d="M6213 753l34-22-36-33-34 21z" fill="#73eb46"/><path d="M6142 743l35-24-36-31-35 23z" fill="#7eeb46"/><path d="M6070 736l36-25-36-29-36 25z" fill="#85eb46"/><path d="M5998 734l36-27-35-27-36 26z" fill="#88eb46"/><path d="M5927 735l36-29-35-25-36 28z" fill="#86eb46"/><path d="M5784 748l37-32-34-21-37 32z" fill="#77eb46"/><path d="M5855 740l37-31-34-23-37 30z" fill="#81eb46"/><path d="M6322 805l33-21-37-38-34 20z" fill="#47eb46"/><path d="M6250 789l34-23-37-35-34 22z" fill="#58eb46"/><path d="M6178 777l35-24-36-34-35 24z" fill="#66eb46"/><path d="M6106 769l36-26-36-32-36 25z" fill="#6feb46"/><path d="M6034 764l36-28-36-29-36 27z" fill="#74eb46"/><path d="M5962 763l36-29-35-28-36 29z" fill="#75eb46"/><path d="M5890 766l37-31-35-26-37 31z" fill="#71eb46"/><path d="M5818 773l37-33-34-24-37 32z" fill="#6aeb46"/><path d="M6287 829l35-24-38-39-34 23z" fill="#46eb52"/><path d="M6215 815l35-26-37-36-35 24z" fill="#4aeb46"/><path d="M6143 804l35-27-36-34-36 26z" fill="#56eb46"/><path d="M6070 798l36-29-36-33-36 28z" fill="#5deb46"/><path d="M5998 795l36-31-36-30-36 29z" fill="#60eb46"/><path d="M5925 796l37-33-35-28-37 31z" fill="#5feb46"/><path d="M5853 801l37-35-35-26-37 33z" fill="#59eb46"/><path d="M6253 855l34-26-37-40-35 26z" fill="#46eb61"/><path d="M6180 843l35-28-37-38-35 27z" fill="#46eb53"/><path d="M6107 834l36-30-37-35-36 29z" fill="#46eb4a"/><path d="M6034 829l36-31-36-34-36 31z" fill="#48eb46"/><path d="M5961 828l37-33-36-32-37 33z" fill="#49eb46"/><path d="M5888 831l37-35-35-30-37 35z" fill="#46eb46"/><path d="M6217 884l36-29-38-40-35 28z" fill="#46eb72"/><path d="M6144 874l36-31-37-39-36 30z" fill="#46eb66"/><path d="M6071 867l36-33-37-36-36 31z" fill="#46eb5f"/><path d="M5997 864l37-35-36-34-37 33z" fill="#46eb5b"/><path d="M5924 864l37-36-36-32-37 35z" fill="#46eb5c"/><path d="M6182 916l35-32-37-41-36 31z" fill="#46eb86"/><path d="M6108 907l36-33-37-40-36 33z" fill="#46eb7c"/><path d="M6034 902l37-35-37-38-37 35z" fill="#46eb76"/><path d="M5960 901l37-37-36-36-37 36z" fill="#46eb75"/><path d="M6145 951l37-35-38-42-36 33z" fill="#46eb9c"/><path d="M6071 943l37-36-37-40-37 35z" fill="#46eb94"/><path d="M5997 940l37-38-37-38-37 37z" fill="#46eb90"/><path d="M6109 988l36-37-37-44-37 36z" fill="#46ebb5"/><path d="M6034 982l37-39-37-41-37 38z" fill="#46ebaf"/><path d="M6072 1028l37-40-38-45-37 39z" fill="#46ebd0"/></g><text x="542.2" y="116.8" font-size="2.90" fill="#333" text-anchor="end" stroke="#333" stroke-width=".12">8</text>
<text x="551.7" y="120.9" font-size="2.90" fill="#333" text-anchor="end" stroke="#333" stroke-width=".12">7</text>
<text x="561.6" y="125.3" font-size="2.90" fill="#333" text-anchor="end" stroke="#333" stroke-width=".12">6</text>
<text x="572.0" y="129.8" font-size="2.90" fill="#333" text-anchor="end" stroke="#333" stroke-width=".12">5</text>
<text x="582.8" y="134.5" font-size="2.90" fill="#333" text-anchor="end" stroke="#333" stroke-width=".12">4</text>
<text x="594.2" y="139.5" font-size="2.90" fill="#333" text-anchor="end" stroke="#333" stroke-width=".12">3</text>
<text x="606.2" y="144.7" font-size="2.90" fill="#333" text-anchor="end" stroke="#333" stroke-width=".12">2</text>
<text x="608.4" y="144.3" font-size="2.90" fill="#333" stroke="#333" stroke-width=".12">6500</text>
<text x="622.6" y="138.0" font-size="2.90" fill="#333" stroke="#333" stroke-width=".12">9400</text>
<text x="636.0" y="132.0" font-size="2.90" fill="#333" stroke="#333" stroke-width=".12">12300</text>
<text x="648.6" y="126.4" font-size="2.90" fill="#333" stroke="#333" stroke-width=".12">15200</text>
<text x="660.5" y="121.1" font-size="2.90" fill="#333" stroke="#333" stroke-width=".12">18100</text>
<text x="671.7" y="116.0" font-size="2.90" fill="#333" stroke="#333" stroke-width=".12">21000</text>
<circle cx="543.4" cy="114.2" r=".55" fill="#222"/>
<circle cx="552.9" cy="118.3" r=".55" fill="#222"/>
<circle cx="562.8" cy="122.7" r=".55" fill="#222"/>
<circle cx="573.2" cy="127.2" r=".55" fill="#222"/>
<circle cx="584.0" cy="131.9" r=".55" fill="#222"/>
<circle cx="595.4" cy="136.9" r=".55" fill="#222"/>
<circle cx="607.4" cy="142.1" r=".55" fill="#222"/>
<circle cx="607.4" cy="142.1" r=".55" fill="#222"/>
<circle cx="621.6" cy="135.8" r=".55" fill="#222"/>
<circle cx="635.0" cy="129.8" r=".55" fill="#222"/>
<circle cx="647.6" cy="124.2" r=".55" fill="#222"/>
<circle cx="659.5" cy="118.9" r=".55" fill="#222"/>
<circle cx="670.7" cy="113.8" r=".55" fill="#222"/>
<text x="548.0" y="139.0" font-size="3.00" fill="#333" text-anchor="middle" stroke="#333" stroke-width=".12">C: C (min)</text>
<text x="664.0" y="139.0" font-size="3.00" fill="#333" text-anchor="middle" stroke="#333" stroke-width=".12">B: B (rpm)</text>
<text x="541.1" y="95.8" font-size="2.90" fill="#333" text-anchor="end" stroke="#333" stroke-width=".12">180</text>
<circle cx="542.5" cy="94.8" r=".6" fill="#222"/>
<text x="540.7" y="87.4" font-size="2.90" fill="#333" text-anchor="end" stroke="#333" stroke-width=".12">200</text>
<circle cx="542.1" cy="86.4" r=".6" fill="#222"/>
<text x="540.3" y="78.9" font-size="2.90" fill="#333" text-anchor="end" stroke="#333" stroke-width=".12">220</text>
<circle cx="541.7" cy="77.9" r=".6" fill="#222"/>
<text x="539.9" y="70.3" font-size="2.90" fill="#333" text-anchor="end" stroke="#333" stroke-width=".12">240</text>
<circle cx="541.3" cy="69.3" r=".6" fill="#222"/>
<text x="539.5" y="61.6" font-size="2.90" fill="#333" text-anchor="end" stroke="#333" stroke-width=".12">260</text>
<circle cx="540.9" cy="60.6" r=".6" fill="#222"/>
<text x="539.1" y="52.9" font-size="2.90" fill="#333" text-anchor="end" stroke="#333" stroke-width=".12">280</text>
<circle cx="540.5" cy="51.9" r=".6" fill="#222"/>
<text x="538.7" y="44.0" font-size="2.90" fill="#333" text-anchor="end" stroke="#333" stroke-width=".12">300</text>
<circle cx="540.1" cy="43.0" r=".6" fill="#222"/>
<text x="538.3" y="35.0" font-size="2.90" fill="#333" text-anchor="end" stroke="#333" stroke-width=".12">320</text>
<circle cx="539.7" cy="34.0" r=".6" fill="#222"/>
<text x="521.0" y="74.0" font-size="2.9" fill="#555" text-anchor="middle" transform="rotate(-90 521.0 74.0)">Particle size (nm)</text><line x1="637.5" y1="21.9" x2="637.5" y2="63.0" stroke="#111" stroke-width=".75"/>
<rect x="628.6" y="18.3" width="9.6" height="3.8" fill="#f2f2f2" stroke="#6a6a6a" stroke-width=".45"/>
<text x="633.4" y="21.3" font-size="2.30" fill="#777" text-anchor="middle" textLength="7.6" lengthAdjust="spacingAndGlyphs">0.00000</text>
<line x1="575.0" y1="38.0" x2="575.0" y2="46.0" stroke="#333" stroke-width=".5"/>
<ellipse cx="575.0" cy="38.0" rx="1.3" ry="1.9" fill="#a00000"/>
<line x1="641.0" y1="63.0" x2="641.0" y2="67.0" stroke="#333" stroke-width=".5"/>
<ellipse cx="641.0" cy="63.0" rx="1.3" ry="1.9" fill="#a00000"/>
<ellipse cx="641.0" cy="70.0" rx="1.2" ry="1.5" fill="#fde" stroke="#d07070" stroke-width=".5"/>
<ellipse cx="638.0" cy="77.0" rx="1.2" ry="1.5" fill="#fde" stroke="#d07070" stroke-width=".5"/>
<ellipse cx="571.0" cy="82.0" rx="1.2" ry="1.5" fill="#fde" stroke="#d07070" stroke-width=".5"/>
<ellipse cx="571.0" cy="86.0" rx="1.2" ry="1.5" fill="#fde" stroke="#d07070" stroke-width=".5"/></g>
<text x="445.0" y="5.9" font-size="3.17" fill="#000" font-weight="bold" textLength="27.5" lengthAdjust="spacingAndGlyphs" stroke-width=".14" stroke="#000">Particle size (nm)</text>
<text x="445.0" y="10.9" font-size="3.17" fill="#666" textLength="21.1" lengthAdjust="spacingAndGlyphs" stroke-width=".14" stroke="#666">Design Points</text>
<ellipse cx="448.02" cy="14.76" rx="2.05" ry="1.88" fill="#a00000"/>
<text x="452.8" y="15.8" font-size="3.17" fill="#c02020" textLength="22.7" lengthAdjust="spacingAndGlyphs" stroke-width=".14" stroke="#c02020">Above Surface</text>
<ellipse cx="448.02" cy="19.71" rx="1.62" ry="1.48" fill="#fff" stroke="#d06060" stroke-width=".7"/>
<text x="452.8" y="20.8" font-size="3.17" fill="#c02020" textLength="22.1" lengthAdjust="spacingAndGlyphs" stroke-width=".14" stroke="#c02020">Below Surface</text>
<text x="445.0" y="25.7" font-size="3.17" fill="#3030ff" textLength="7.8" lengthAdjust="spacingAndGlyphs" stroke-width=".14" stroke="#3030ff">184.4</text>
<defs><linearGradient id="grc"><stop offset="0" stop-color="#0010c0"/><stop offset=".3" stop-color="#00c020"/><stop offset=".55" stop-color="#00f000"/><stop offset=".72" stop-color="#20a000"/><stop offset=".85" stop-color="#d02000"/><stop offset="1" stop-color="#c01000"/></linearGradient></defs>
<rect x="454.29" y="22.48" width="12.42" height="4.36" rx="0.60" fill="url(#grc)"/>
<text x="468.2" y="25.7" font-size="3.17" fill="#ff3030" textLength="8.0" lengthAdjust="spacingAndGlyphs" stroke-width=".14" stroke="#ff3030">335.1</text>
<text x="445.0" y="36.1" font-size="3.17" fill="#222" textLength="10.6" lengthAdjust="spacingAndGlyphs" stroke-width=".14" stroke="#222">X1 = B</text>
<text x="445.0" y="41.1" font-size="3.17" fill="#222" textLength="10.6" lengthAdjust="spacingAndGlyphs" stroke-width=".14" stroke="#222">X2 = C</text>
<text x="445.0" y="51.0" font-size="3.17" fill="#000" font-weight="bold" textLength="21.1" lengthAdjust="spacingAndGlyphs" stroke-width=".14" stroke="#000">Actual Factor</text>
<text x="445.0" y="55.9" font-size="3.17" fill="#222" textLength="20.0" lengthAdjust="spacingAndGlyphs" stroke-width=".14" stroke="#222">A = 30.0001</text>
<g transform="translate(482.69 60.00) scale(0.620)" stroke="#1a1a1a" stroke-width="2.1" fill="none"><path d="M4 1.2H1.2V8.8H8.8V6"/><path d="M3.8 6.2L7.6 2.4"/><path d="M5.2 0.6H9.4V4.8Z" fill="#1a1a1a" stroke-width=".6"/></g>
<g><g stroke="#747474" stroke-width=".65" fill="none"><line x1="89.8" y1="253.6" x2="86.9" y2="180.3"/><line x1="105.1" y1="248.2" x2="103.2" y2="176.8"/><line x1="119.7" y1="243.1" x2="118.5" y2="173.6"/><line x1="133.4" y1="238.3" x2="133.0" y2="170.5"/><line x1="146.3" y1="233.7" x2="146.6" y2="167.6"/><line x1="203.2" y1="253.9" x2="206.7" y2="180.7"/><line x1="190.8" y1="249.5" x2="193.5" y2="177.8"/><line x1="178.9" y1="245.3" x2="180.9" y2="175.1"/><line x1="167.6" y1="241.3" x2="169.0" y2="172.5"/><line x1="156.7" y1="237.4" x2="157.5" y2="170.0"/><line x1="146.3" y1="233.7" x2="146.6" y2="167.6"/><line x1="89.1" y1="236.0" x2="146.4" y2="217.8"/><line x1="146.4" y1="217.8" x2="204.0" y2="236.3"/><line x1="88.5" y1="222.5" x2="146.5" y2="205.6"/><line x1="146.5" y1="205.6" x2="204.7" y2="222.9"/><line x1="88.0" y1="208.7" x2="146.5" y2="193.2"/><line x1="146.5" y1="193.2" x2="205.3" y2="209.1"/><line x1="87.4" y1="194.7" x2="146.6" y2="180.5"/><line x1="146.6" y1="180.5" x2="206.0" y2="195.1"/><line x1="86.9" y1="180.3" x2="146.6" y2="167.6"/><line x1="146.6" y1="167.6" x2="206.7" y2="180.7"/></g>
<polyline points="89.8,253.6 86.9,180.3 146.6,167.6 206.7,180.7 203.2,253.9" stroke="#555" stroke-width=".7" fill="none"/>
<line x1="146.3" y1="233.7" x2="146.6" y2="167.6" stroke="#555" stroke-width=".7"/>
<polygon points="89.8,253.6 146.8,279.2 203.2,253.9 146.3,233.7" fill="#646464"/>
<polyline points="89.8,253.6 146.8,279.2 203.2,253.9" stroke="#2a2a2a" stroke-width=".8" fill="none"/>
<polyline points="169.3,269.1 168.6,269.0 167.3,268.6 166.2,268.4 165.3,268.2 163.9,267.8 163.3,267.7 161.9,267.4 161.3,267.2 159.9,266.9 159.2,266.8 157.9,266.5 157.2,266.4 155.8,266.1 155.2,265.9 153.8,265.7 153.1,265.5 151.7,265.2 151.0,265.1 149.6,264.9 148.9,264.7 147.9,264.5 146.8,264.3 146.1,264.2 144.7,264.0 144.0,263.9 142.9,263.7 141.8,263.5 141.1,263.4 139.8,263.2 138.9,263.1 138.2,263.0 136.8,262.8 135.9,262.7 135.2,262.6 134.0,262.4 132.9,262.3 132.1,262.2 131.2,262.1 129.9,262.0 129.0,261.9 128.2,261.8 127.3,261.7 126.0,261.6 125.1,261.5 124.3,261.4 123.4,261.3 122.3,261.2 121.1,261.1 120.2,261.1 119.3,261.0 118.5,260.9 117.6,260.9 116.4,260.8 115.3,260.7 114.3,260.7 113.4,260.6 112.6,260.6 111.7,260.5 110.8,260.5 109.7,260.4 108.6,260.4 107.6,260.3 106.5,260.3 105.6,260.2 104.7,260.2 104.3,260.2" stroke="#1fccca" stroke-width="1.25" stroke-linejoin="round" fill="none"/>
<polyline points="121.4,242.5 122.0,242.6 123.1,242.9 123.8,243.0 124.8,243.2 125.6,243.4 126.5,243.6 127.4,243.8 128.3,243.9 129.2,244.1 130.0,244.3 130.9,244.4 131.9,244.6 132.6,244.7 133.7,244.9 134.3,245.0 135.5,245.2 136.2,245.3 137.4,245.5 138.1,245.6 138.9,245.8 140.0,245.9 140.7,246.0 141.8,246.2 142.7,246.3 143.3,246.4 144.6,246.6 145.4,246.7 146.0,246.7 147.3,246.9 148.1,247.0 148.8,247.1 149.9,247.2 151.0,247.3 151.7,247.4 152.4,247.5 153.6,247.6 154.6,247.7 155.4,247.8 156.1,247.8 157.2,247.9 158.4,248.0 159.1,248.1 159.9,248.1 160.7,248.2 161.8,248.3 162.9,248.4 163.8,248.4 164.6,248.5 165.4,248.5 166.2,248.6 167.3,248.6 168.4,248.7 169.5,248.7 170.3,248.8 171.1,248.8 171.9,248.9 172.8,248.9 173.6,248.9 174.7,249.0 175.7,249.0 176.7,249.0 177.7,249.1 178.7,249.1 179.6,249.1 180.5,249.2 181.3,249.2 182.2,249.2 183.1,249.2 183.9,249.2 184.8,249.3 185.7,249.3 186.6,249.3 187.5,249.3 188.5,249.3 189.4,249.3 190.4,249.4 190.4,249.4" stroke="#1fccca" stroke-width="1.25" stroke-linejoin="round" fill="none"/>
<polyline points="159.6,273.4 158.2,273.2 157.4,273.0 156.3,272.8 155.3,272.6 154.4,272.4 153.1,272.2 152.3,272.0 150.9,271.8 150.1,271.6 149.0,271.4 147.9,271.3 147.2,271.1 145.7,270.9 144.9,270.7 143.9,270.6 142.7,270.4 142.0,270.3 140.7,270.1 139.7,269.9 138.9,269.8 137.5,269.6 136.7,269.4 135.9,269.3 134.5,269.1 133.6,269.0 132.8,268.9 131.5,268.7 130.5,268.6 129.8,268.5 128.6,268.3 127.4,268.2 126.6,268.1 125.8,268.0 124.4,267.8 123.5,267.7 122.7,267.6 121.6,267.5 120.3,267.3 120.3,267.3" stroke="#1fcc61" stroke-width="1.25" stroke-linejoin="round" fill="none"/>
<polyline points="130.7,239.3 131.3,239.4 132.2,239.5 133.1,239.6 133.7,239.7 134.9,239.9 135.6,240.0 136.7,240.2 137.4,240.3 138.1,240.4 139.3,240.6 139.9,240.7 140.9,240.8 141.9,240.9 142.5,241.0 143.7,241.2 144.5,241.3 145.1,241.4 146.4,241.5 147.1,241.6 147.8,241.7 149.0,241.9 149.8,242.0 150.4,242.0 151.6,242.2 152.5,242.3 153.2,242.4 154.2,242.5 155.3,242.6 156.0,242.7 156.7,242.7 157.9,242.9 158.8,242.9 159.5,243.0 160.3,243.1 161.5,243.2 162.4,243.3 163.1,243.4 163.9,243.4 165.1,243.5 166.0,243.6 166.7,243.7 167.5,243.7 168.5,243.8 169.7,243.9 170.5,244.0 171.2,244.0 172.0,244.1 173.1,244.2 174.2,244.2 175.0,244.3 175.8,244.4 176.4,244.4" stroke="#1fcc61" stroke-width="1.25" stroke-linejoin="round" fill="none"/>
<polyline points="150.4,277.6 148.9,277.3 148.1,277.2 147.2,277.0 145.8,276.8 145.0,276.6 143.8,276.4 142.7,276.3 141.9,276.1 140.4,275.9 139.6,275.8 138.8,275.6 138.8,275.6" stroke="#4fcc1f" stroke-width="1.25" stroke-linejoin="round" fill="none"/>
<polyline points="138.8,236.4 139.8,236.6 140.6,236.7 141.2,236.8 142.5,236.9 143.1,237.0 143.8,237.1 145.0,237.3 145.7,237.3 146.5,237.4 147.6,237.6 148.3,237.7 149.1,237.8 150.2,237.9 150.9,238.0 151.7,238.1 152.9,238.2 153.5,238.3 154.2,238.4 155.5,238.5 156.2,238.6 156.9,238.7 158.0,238.8 158.9,238.9 159.6,239.0 160.4,239.0 161.6,239.2 161.6,239.2" stroke="#4fcc1f" stroke-width="1.25" stroke-linejoin="round" fill="none"/>
<polyline points="144.0,234.6 144.8,234.7 145.8,234.8 146.5,234.9 147.4,235.0 148.4,235.1 149.0,235.2 150.0,235.3 150.9,235.5 151.3,235.5" stroke="#a1cc1f" stroke-width="1.25" stroke-linejoin="round" fill="none"/>
<g transform="scale(.1)" stroke="#000" stroke-opacity=".26" stroke-width="5.5" stroke-linejoin="round"><path d="M1465 1933l27-31-27-19-26 32z" fill="#c3eb23"/><path d="M1439 1962l26-29-26-18-27 30z" fill="#94eb23"/><path d="M1492 1952l26-30-26-20-27 31z" fill="#aceb23"/><path d="M1412 1989l27-27-27-17-26 28z" fill="#66eb23"/><path d="M1465 1979l27-27-27-19-26 29z" fill="#7eeb23"/><path d="M1519 1970l26-29-27-19-26 30z" fill="#95eb23"/><path d="M1385 2014l27-25-26-16-27 26z" fill="#39eb23"/><path d="M1439 2005l26-26-26-17-27 27z" fill="#51eb23"/><path d="M1492 1996l27-26-27-18-27 27z" fill="#67eb23"/><path d="M1546 1987l26-27-27-19-26 29z" fill="#7deb23"/><path d="M1358 2037l27-23-26-15-27 24z" fill="#23eb39"/><path d="M1412 2029l27-24-27-16-27 25z" fill="#25eb23"/><path d="M1465 2021l27-25-27-17-26 26z" fill="#3ceb23"/><path d="M1519 2013l27-26-27-17-27 26z" fill="#51eb23"/><path d="M1573 2005l27-26-28-19-26 27z" fill="#66eb23"/><path d="M1330 2059l28-22-26-14-28 22z" fill="#23eb63"/><path d="M1384 2051l28-22-27-15-27 23z" fill="#23eb4b"/><path d="M1438 2044l27-23-26-16-27 24z" fill="#23eb35"/><path d="M1493 2037l26-24-27-17-27 25z" fill="#26eb23"/><path d="M1547 2029l26-24-27-18-27 26z" fill="#3beb23"/><path d="M1601 2022l26-25-27-18-27 26z" fill="#4eeb23"/><path d="M1303 2079l27-20-26-14-28 22z" fill="#23eb8a"/><path d="M1357 2072l27-21-26-14-28 22z" fill="#23eb73"/><path d="M1411 2065l27-21-26-15-28 22z" fill="#23eb5d"/><path d="M1466 2059l27-22-28-16-27 23z" fill="#23eb49"/><path d="M1520 2052l27-23-28-16-26 24z" fill="#23eb35"/><path d="M1574 2046l27-24-28-17-26 24z" fill="#24eb23"/><path d="M1629 2039l26-24-28-18-26 25z" fill="#36eb23"/><path d="M1275 2098l28-19-27-12-28 19z" fill="#23ebaf"/><path d="M1329 2092l28-20-27-13-27 20z" fill="#23eb99"/><path d="M1384 2085l27-20-27-14-27 21z" fill="#23eb83"/><path d="M1438 2079l28-20-28-15-27 21z" fill="#23eb6f"/><path d="M1493 2073l27-21-27-15-27 22z" fill="#23eb5c"/><path d="M1548 2068l26-22-27-17-27 23z" fill="#23eb4a"/><path d="M1602 2062l27-23-28-17-27 24z" fill="#23eb39"/><path d="M1657 2056l26-23-28-18-26 24z" fill="#23eb29"/><path d="M1246 2116l29-18-27-12-28 19z" fill="#23ebd1"/><path d="M1301 2110l28-18-26-13-28 19z" fill="#23ebbb"/><path d="M1356 2104l28-19-27-13-28 20z" fill="#23eba7"/><path d="M1411 2099l27-20-27-14-27 20z" fill="#23eb94"/><path d="M1466 2093l27-20-27-14-28 20z" fill="#23eb81"/><path d="M1521 2088l27-20-28-16-27 21z" fill="#23eb70"/><path d="M1576 2083l26-21-28-16-26 22z" fill="#23eb5f"/><path d="M1631 2078l26-22-28-17-27 23z" fill="#23eb50"/><path d="M1686 2073l26-22-29-18-26 23z" fill="#23eb41"/><path d="M1218 2132l28-16-26-11-28 17z" fill="#23e5eb"/><path d="M1273 2127l28-17-26-12-29 18z" fill="#23ebdb"/><path d="M1328 2122l28-18-27-12-28 18z" fill="#23ebc8"/><path d="M1383 2117l28-18-27-14-28 19z" fill="#23ebb5"/><path d="M1438 2112l28-19-28-14-27 20z" fill="#23eba3"/><path d="M1493 2107l28-19-28-15-27 20z" fill="#23eb93"/><path d="M1549 2103l27-20-28-15-27 20z" fill="#23eb83"/><path d="M1604 2098l27-20-29-16-26 21z" fill="#23eb74"/><path d="M1659 2094l27-21-29-17-26 22z" fill="#23eb66"/><path d="M1714 2090l27-21-29-18-26 22z" fill="#23eb59"/><path d="M1189 2148l29-16-26-10-29 16z" fill="#23caeb"/><path d="M1244 2143l29-16-27-11-28 16z" fill="#23ddeb"/><path d="M1299 2138l29-16-27-12-28 17z" fill="#23ebe5"/><path d="M1355 2134l28-17-27-13-28 18z" fill="#23ebd4"/><path d="M1410 2129l28-17-27-13-28 18z" fill="#23ebc3"/><path d="M1466 2125l27-18-27-14-28 19z" fill="#23ebb3"/><path d="M1521 2121l28-18-28-15-28 19z" fill="#23eba4"/><path d="M1577 2117l27-19-28-15-27 20z" fill="#23eb96"/><path d="M1632 2113l27-19-28-16-27 20z" fill="#23eb89"/><path d="M1688 2110l26-20-28-17-27 21z" fill="#23eb7d"/><path d="M1744 2107l26-21-29-17-27 21z" fill="#23eb71"/><path d="M1159 2162l30-14-26-10-30 15z" fill="#23b2eb"/><path d="M1215 2158l29-15-26-11-29 16z" fill="#23c4eb"/><path d="M1271 2154l28-16-26-11-29 16z" fill="#23d6eb"/><path d="M1327 2149l28-15-27-12-29 16z" fill="#23e6eb"/><path d="M1382 2145l28-16-27-12-28 17z" fill="#23ebdf"/><path d="M1438 2142l28-17-28-13-28 17z" fill="#23ebd0"/><path d="M1494 2138l27-17-28-14-27 18z" fill="#23ebc2"/><path d="M1550 2135l27-18-28-14-28 18z" fill="#23ebb5"/><path d="M1605 2132l27-19-28-15-27 19z" fill="#23eba9"/><path d="M1661 2129l27-19-29-16-27 19z" fill="#23eb9e"/><path d="M1717 2126l27-19-30-17-26 20z" fill="#23eb93"/><path d="M1773 2123l26-19-29-18-26 21z" fill="#23eb8a"/><path d="M1130 2176l29-14-26-9-29 14z" fill="#239deb"/><path d="M1186 2172l29-14-26-10-30 14z" fill="#23afeb"/><path d="M1242 2168l29-14-27-11-29 15z" fill="#23bfeb"/><path d="M1298 2164l29-15-28-11-28 16z" fill="#23cfeb"/><path d="M1354 2161l28-16-27-11-28 15z" fill="#23ddeb"/><path d="M1410 2157l28-15-28-13-28 16z" fill="#23ebea"/><path d="M1466 2154l28-16-28-13-28 17z" fill="#23ebde"/><path d="M1522 2151l28-16-29-14-27 17z" fill="#23ebd2"/><path d="M1578 2148l27-16-28-15-27 18z" fill="#23ebc6"/><path d="M1634 2146l27-17-29-16-27 19z" fill="#23ebbc"/><path d="M1691 2144l26-18-29-16-27 19z" fill="#23ebb3"/><path d="M1747 2141l26-18-29-16-27 19z" fill="#23ebaa"/><path d="M1803 2140l26-19-30-17-26 19z" fill="#23eba2"/><path d="M1100 2188l30-12-26-9-30 13z" fill="#238ceb"/><path d="M1156 2184l30-12-27-10-29 14z" fill="#239deb"/><path d="M1212 2181l30-13-27-10-29 14z" fill="#23aceb"/><path d="M1269 2178l29-14-27-10-29 14z" fill="#23baeb"/><path d="M1325 2175l29-14-27-12-29 15z" fill="#23c8eb"/><path d="M1382 2172l28-15-28-12-28 16z" fill="#23d4eb"/><path d="M1438 2169l28-15-28-12-28 15z" fill="#23e0eb"/><path d="M1494 2166l28-15-28-13-28 16z" fill="#23ebea"/><path d="M1551 2164l27-16-28-13-28 16z" fill="#23ebe0"/><path d="M1607 2162l27-16-29-14-27 16z" fill="#23ebd7"/><path d="M1664 2160l27-16-30-15-27 17z" fill="#23ebcf"/><path d="M1720 2159l27-18-30-15-26 18z" fill="#23ebc7"/><path d="M1776 2157l27-17-30-17-26 18z" fill="#23ebc1"/><path d="M1833 2156l26-18-30-17-26 19z" fill="#23ebbb"/><path d="M1069 2200l31-12-26-8-31 12z" fill="#2380eb"/><path d="M1126 2196l30-12-26-8-30 12z" fill="#238feb"/><path d="M1183 2193l29-12-26-9-30 12z" fill="#239deb"/><path d="M1239 2190l30-12-27-10-30 13z" fill="#23aaeb"/><path d="M1296 2188l29-13-27-11-29 14z" fill="#23b6eb"/><path d="M1353 2185l29-13-28-11-29 14z" fill="#23c1eb"/><path d="M1409 2183l29-14-28-12-28 15z" fill="#23cceb"/><path d="M1466 2181l28-15-28-12-28 15z" fill="#23d5eb"/><path d="M1523 2179l28-15-29-13-28 15z" fill="#23deeb"/><path d="M1580 2177l27-15-29-14-27 16z" fill="#23e6eb"/><path d="M1636 2176l28-16-30-14-27 16z" fill="#23ebe8"/><path d="M1863 2172l26-17-30-17-26 18z" fill="#23ebd3"/><path d="M1693 2174l27-15-29-15-27 16z" fill="#23ebe1"/><path d="M1807 2173l26-17-30-16-27 17z" fill="#23ebd7"/><path d="M1750 2173l26-16-29-16-27 18z" fill="#23ebdc"/><path d="M1039 2210l30-10-26-8-30 11z" fill="#2377eb"/><path d="M1096 2207l30-11-26-8-31 12z" fill="#2385eb"/><path d="M1153 2204l30-11-27-9-30 12z" fill="#2392eb"/><path d="M1210 2202l29-12-27-9-29 12z" fill="#239deb"/><path d="M1267 2200l29-12-27-10-30 12z" fill="#23a8eb"/><path d="M1324 2197l29-12-28-10-29 13z" fill="#23b2eb"/><path d="M1894 2188l26-16-31-17-26 17z" fill="#23eaeb"/><path d="M1381 2196l28-13-27-11-29 13z" fill="#23bceb"/><path d="M1837 2188l26-16-30-16-26 17z" fill="#23e8eb"/><path d="M1438 2194l28-13-28-12-29 14z" fill="#23c4eb"/><path d="M1495 2192l28-13-29-13-28 15z" fill="#23cbeb"/><path d="M1780 2188l27-15-31-16-26 16z" fill="#23e5eb"/><path d="M1552 2191l28-14-29-13-28 15z" fill="#23d2eb"/><path d="M1723 2189l27-16-30-14-27 15z" fill="#23e1eb"/><path d="M1609 2190l27-14-29-14-27 15z" fill="#23d8eb"/><path d="M1666 2189l27-15-29-14-28 16z" fill="#23ddeb"/><path d="M1007 2220l32-10-26-7-31 10z" fill="#2373eb"/><path d="M1925 2204l26-15-31-17-26 16z" fill="#23d1eb"/><path d="M1065 2217l31-10-27-7-30 10z" fill="#237feb"/><path d="M1122 2215l31-11-27-8-30 11z" fill="#238beb"/><path d="M1868 2204l26-16-31-16-26 16z" fill="#23d1eb"/><path d="M1180 2213l30-11-27-9-30 11z" fill="#2395eb"/><path d="M1811 2203l26-15-30-15-27 15z" fill="#23d1eb"/><path d="M1237 2211l30-11-28-10-29 12z" fill="#239feb"/><path d="M1753 2203l27-15-30-15-27 16z" fill="#23cfeb"/><path d="M1294 2209l30-12-28-9-29 12z" fill="#23a7eb"/><path d="M1696 2203l27-14-30-15-27 15z" fill="#23cdeb"/><path d="M1352 2207l29-11-28-11-29 12z" fill="#23afeb"/><path d="M1639 2203l27-14-30-13-27 14z" fill="#23caeb"/><path d="M1409 2206l29-12-29-11-28 13z" fill="#23b6eb"/><path d="M1581 2203l28-13-29-13-28 14z" fill="#23c6eb"/><path d="M1466 2205l29-13-29-11-28 13z" fill="#23bceb"/><path d="M1524 2204l28-13-29-12-28 13z" fill="#23c2eb"/><path d="M1956 2220l26-15-31-16-26 15z" fill="#23b9eb"/><path d="M1899 2219l26-15-31-16-26 16z" fill="#23bbeb"/><path d="M1841 2218l27-14-31-16-26 15z" fill="#23bdeb"/><path d="M1784 2217l27-14-31-15-27 15z" fill="#23bdeb"/><path d="M976 2228l31-8-25-7-32 9z" fill="#2373eb"/><path d="M1726 2216l27-13-30-14-27 14z" fill="#23bdeb"/><path d="M1034 2226l31-9-26-7-32 10z" fill="#237eeb"/><path d="M1668 2216l28-13-30-14-27 14z" fill="#23bceb"/><path d="M1091 2224l31-9-26-8-31 10z" fill="#2388eb"/><path d="M1611 2216l28-13-30-13-28 13z" fill="#23bbeb"/><path d="M1149 2222l31-9-27-9-31 11z" fill="#2391eb"/><path d="M1553 2216l28-13-29-12-28 13z" fill="#23b8eb"/><path d="M1207 2221l30-10-27-9-30 11z" fill="#2399eb"/><path d="M1495 2216l29-12-29-12-29 13z" fill="#23b5eb"/><path d="M1264 2219l30-10-27-9-30 11z" fill="#23a0eb"/><path d="M1438 2217l28-12-28-11-29 12z" fill="#23b1eb"/><path d="M1322 2218l30-11-28-10-30 12z" fill="#23a7eb"/><path d="M1380 2217l29-11-28-10-29 11z" fill="#23aceb"/><path d="M1988 2236l26-14-32-17-26 15z" fill="#23a1eb"/><path d="M1930 2234l26-14-31-16-26 15z" fill="#23a5eb"/><path d="M1873 2233l26-14-31-15-27 14z" fill="#23a9eb"/><path d="M1815 2231l26-13-30-15-27 14z" fill="#23aceb"/><path d="M1757 2230l27-13-31-14-27 13z" fill="#23aeeb"/><path d="M1699 2229l27-13-30-13-28 13z" fill="#23afeb"/><path d="M1641 2228l27-12-29-13-28 13z" fill="#23b0eb"/><path d="M1583 2227l28-11-30-13-28 13z" fill="#23afeb"/><path d="M1525 2227l28-11-29-12-29 12z" fill="#23aeeb"/><path d="M944 2236l32-8-26-6-32 8z" fill="#2377eb"/><path d="M1467 2227l28-11-29-11-28 12z" fill="#23aceb"/><path d="M1002 2234l32-8-27-6-31 8z" fill="#2381eb"/><path d="M1409 2227l29-10-29-11-29 11z" fill="#23aaeb"/><path d="M1060 2232l31-8-26-7-31 9z" fill="#2389eb"/><path d="M1350 2227l30-10-28-10-30 11z" fill="#23a6eb"/><path d="M1118 2231l31-9-27-7-31 9z" fill="#2391eb"/><path d="M1292 2228l30-10-28-9-30 10z" fill="#23a2eb"/><path d="M1176 2230l31-9-27-8-31 9z" fill="#2397eb"/><path d="M1234 2229l30-10-27-8-30 10z" fill="#239deb"/><path d="M2020 2252l26-14-32-16-26 14z" fill="#2388eb"/><path d="M1962 2250l26-14-32-16-26 14z" fill="#238feb"/><path d="M1904 2247l26-13-31-15-26 14z" fill="#2395eb"/><path d="M1846 2245l27-12-32-15-26 13z" fill="#239aeb"/><path d="M1788 2243l27-12-31-14-27 13z" fill="#239feb"/><path d="M1729 2242l28-12-31-14-27 13z" fill="#23a2eb"/><path d="M1671 2240l28-11-31-13-27 12z" fill="#23a5eb"/><path d="M1613 2239l28-11-30-12-28 11z" fill="#23a7eb"/><path d="M1554 2238l29-11-30-11-28 11z" fill="#23a8eb"/><path d="M1496 2237l29-10-30-11-28 11z" fill="#23a8eb"/><path d="M1438 2237l29-10-29-10-29 10z" fill="#23a8eb"/><path d="M1379 2237l30-10-29-10-30 10z" fill="#23a7eb"/><path d="M1321 2236l29-9-28-9-30 10z" fill="#23a5eb"/><path d="M911 2242l33-6-26-6-32 8z" fill="#2380eb"/><path d="M1262 2237l30-9-28-9-30 10z" fill="#23a2eb"/><path d="M970 2241l32-7-26-6-32 8z" fill="#2387eb"/><path d="M1204 2237l30-8-27-8-31 9z" fill="#239eeb"/><path d="M1028 2239l32-7-26-6-32 8z" fill="#238eeb"/><path d="M1145 2237l31-7-27-8-31 9z" fill="#239aeb"/><path d="M1087 2238l31-7-27-7-31 8z" fill="#2394eb"/><path d="M1995 2265l25-13-32-16-26 14z" fill="#2379eb"/><path d="M1936 2262l26-12-32-16-26 13z" fill="#2382eb"/><path d="M1878 2259l26-12-31-14-27 12z" fill="#2389eb"/><path d="M1819 2257l27-12-31-14-27 12z" fill="#2390eb"/><path d="M1760 2255l28-12-31-13-28 12z" fill="#2396eb"/><path d="M1702 2253l27-11-30-13-28 11z" fill="#239beb"/><path d="M1643 2251l28-11-30-12-28 11z" fill="#239feb"/><path d="M1584 2249l29-10-30-12-29 11z" fill="#23a2eb"/><path d="M1526 2248l28-10-29-11-29 10z" fill="#23a5eb"/><path d="M1467 2247l29-10-29-10-29 10z" fill="#23a6eb"/><path d="M1408 2246l30-9-29-10-30 10z" fill="#23a7eb"/><path d="M1349 2245l30-8-29-10-29 9z" fill="#23a8eb"/><path d="M1290 2244l31-8-29-8-30 9z" fill="#23a7eb"/><path d="M1232 2244l30-7-28-8-30 8z" fill="#23a6eb"/><path d="M1173 2244l31-7-28-7-31 7z" fill="#23a3eb"/><path d="M1114 2244l31-7-27-6-31 7z" fill="#23a0eb"/><path d="M1055 2245l32-7-27-6-32 7z" fill="#239deb"/><path d="M996 2245l32-6-26-5-32 7z" fill="#2398eb"/><path d="M937 2246l33-5-26-5-33 6z" fill="#2392eb"/><path d="M1968 2277l27-12-33-15-26 12z" fill="#236eeb"/><path d="M1910 2274l26-12-32-15-26 12z" fill="#2378eb"/><path d="M1851 2271l27-12-32-14-27 12z" fill="#2381eb"/><path d="M1792 2268l27-11-31-14-28 12z" fill="#2389eb"/><path d="M1733 2265l27-10-31-13-27 11z" fill="#2391eb"/><path d="M1674 2263l28-10-31-13-28 11z" fill="#2397eb"/><path d="M1615 2260l28-9-30-12-29 10z" fill="#239deb"/><path d="M1556 2258l28-9-30-11-28 10z" fill="#23a1eb"/><path d="M1497 2256l29-8-30-11-29 10z" fill="#23a5eb"/><path d="M1437 2255l30-8-29-10-30 9z" fill="#23a9eb"/><path d="M1378 2254l30-8-29-9-30 8z" fill="#23abeb"/><path d="M1319 2252l30-7-28-9-31 8z" fill="#23adeb"/><path d="M1260 2251l30-7-28-7-30 7z" fill="#23adeb"/><path d="M1201 2251l31-7-28-7-31 7z" fill="#23adeb"/><path d="M1141 2250l32-6-28-7-31 7z" fill="#23adeb"/><path d="M1082 2250l32-6-27-6-32 7z" fill="#23abeb"/><path d="M1023 2250l32-5-27-6-32 6z" fill="#23a9eb"/><path d="M964 2250l32-5-26-4-33 5z" fill="#23a5eb"/><path d="M1942 2288l26-11-32-15-26 12z" fill="#2368eb"/><path d="M1883 2284l27-10-32-15-27 12z" fill="#2373eb"/><path d="M1823 2281l28-10-32-14-27 11z" fill="#237deb"/><path d="M1764 2277l28-9-32-13-27 10z" fill="#2387eb"/><path d="M1705 2274l28-9-31-12-28 10z" fill="#2390eb"/><path d="M1645 2271l29-8-31-12-28 9z" fill="#2398eb"/><path d="M1586 2269l29-9-31-11-28 9z" fill="#239feb"/><path d="M1527 2266l29-8-30-10-29 8z" fill="#23a5eb"/><path d="M1467 2264l30-8-30-9-30 8z" fill="#23aaeb"/><path d="M1408 2262l29-7-29-9-30 8z" fill="#23afeb"/><path d="M1348 2260l30-6-29-9-30 7z" fill="#23b3eb"/><path d="M1288 2259l31-7-29-8-30 7z" fill="#23b6eb"/><path d="M1229 2257l31-6-28-7-31 7z" fill="#23b8eb"/><path d="M1169 2256l32-5-28-7-32 6z" fill="#23b9eb"/><path d="M1110 2255l31-5-27-6-32 6z" fill="#23baeb"/><path d="M1050 2255l32-5-27-5-32 5z" fill="#23baeb"/><path d="M990 2254l33-4-27-5-32 5z" fill="#23b9eb"/><path d="M1915 2298l27-10-32-14-27 10z" fill="#2365eb"/><path d="M1856 2293l27-9-32-13-28 10z" fill="#2372eb"/><path d="M1796 2290l27-9-31-13-28 9z" fill="#237eeb"/><path d="M1736 2286l28-9-31-12-28 9z" fill="#2389eb"/><path d="M1677 2282l28-8-31-11-29 8z" fill="#2393eb"/><path d="M1617 2279l28-8-30-11-29 9z" fill="#239ceb"/><path d="M1557 2276l29-7-30-11-29 8z" fill="#23a5eb"/><path d="M1497 2273l30-7-30-10-30 8z" fill="#23aceb"/><path d="M1437 2270l30-6-30-9-29 7z" fill="#23b3eb"/><path d="M1377 2268l31-6-30-8-30 6z" fill="#23b9eb"/><path d="M1317 2266l31-6-29-8-31 7z" fill="#23beeb"/><path d="M1257 2264l31-5-28-8-31 6z" fill="#23c3eb"/><path d="M1197 2262l32-5-28-6-32 5z" fill="#23c6eb"/><path d="M1137 2260l32-4-28-6-31 5z" fill="#23c9eb"/><path d="M1077 2259l33-4-28-5-32 5z" fill="#23cbeb"/><path d="M1017 2258l33-3-27-5-33 4z" fill="#23cceb"/><path d="M1888 2306l27-8-32-14-27 9z" fill="#2367eb"/><path d="M1828 2302l28-9-33-12-27 9z" fill="#2375eb"/><path d="M1768 2298l28-8-32-13-28 9z" fill="#2383eb"/><path d="M1708 2294l28-8-31-12-28 8z" fill="#238feb"/><path d="M1648 2290l29-8-32-11-28 8z" fill="#239beb"/><path d="M1588 2286l29-7-31-10-29 7z" fill="#23a5eb"/><path d="M1528 2282l29-6-30-10-30 7z" fill="#23afeb"/><path d="M1467 2279l30-6-30-9-30 6z" fill="#23b8eb"/><path d="M1407 2276l30-6-29-8-31 6z" fill="#23c0eb"/><path d="M1347 2273l30-5-29-8-31 6z" fill="#23c7eb"/><path d="M1286 2270l31-4-29-7-31 5z" fill="#23ceeb"/><path d="M1226 2268l31-4-28-7-32 5z" fill="#23d3eb"/><path d="M1166 2265l31-3-28-6-32 4z" fill="#23d8eb"/><path d="M1105 2263l32-3-27-5-33 4z" fill="#23dceb"/><path d="M1045 2262l32-3-27-4-33 3z" fill="#23e0eb"/><path d="M1861 2314l27-8-32-13-28 9z" fill="#236deb"/><path d="M1800 2309l28-7-32-12-28 8z" fill="#237deb"/><path d="M1740 2305l28-7-32-12-28 8z" fill="#238beb"/><path d="M1680 2300l28-6-31-12-29 8z" fill="#2399eb"/><path d="M1619 2296l29-6-31-11-29 7z" fill="#23a6eb"/><path d="M1558 2291l30-5-31-10-29 6z" fill="#23b2eb"/><path d="M1498 2287l30-5-31-9-30 6z" fill="#23bdeb"/><path d="M1437 2283l30-4-30-9-30 6z" fill="#23c7eb"/><path d="M1376 2280l31-4-30-8-30 5z" fill="#23d1eb"/><path d="M1316 2276l31-3-30-7-31 4z" fill="#23d9eb"/><path d="M1255 2273l31-3-29-6-31 4z" fill="#23e1eb"/><path d="M1194 2270l32-2-29-6-31 3z" fill="#23e8eb"/><path d="M1133 2268l33-3-29-5-32 3z" fill="#23ebe7"/><path d="M1072 2265l33-2-28-4-32 3z" fill="#23ebe2"/><path d="M1833 2321l28-7-33-12-28 7z" fill="#2377eb"/><path d="M1772 2316l28-7-32-11-28 7z" fill="#2388eb"/><path d="M1712 2310l28-5-32-11-28 6z" fill="#2398eb"/><path d="M1651 2305l29-5-32-10-29 6z" fill="#23a7eb"/><path d="M1590 2300l29-4-31-10-30 5z" fill="#23b6eb"/><path d="M1529 2296l29-5-30-9-30 5z" fill="#23c3eb"/><path d="M1468 2291l30-4-31-8-30 4z" fill="#23cfeb"/><path d="M1407 2287l30-4-30-7-31 4z" fill="#23dbeb"/><path d="M1345 2283l31-3-29-7-31 3z" fill="#23e5eb"/><path d="M1284 2279l32-3-30-6-31 3z" fill="#23ebe6"/><path d="M1223 2275l32-2-29-5-32 2z" fill="#23ebdd"/><path d="M1162 2271l32-1-28-5-33 3z" fill="#23ebd5"/><path d="M1100 2268l33 0-28-5-33 2z" fill="#23ebce"/><path d="M1805 2327l28-6-33-12-28 7z" fill="#2386eb"/><path d="M1744 2321l28-5-32-11-28 5z" fill="#2398eb"/><path d="M1683 2315l29-5-32-10-29 5z" fill="#23a9eb"/><path d="M1621 2309l30-4-32-9-29 4z" fill="#23b9eb"/><path d="M1560 2304l30-4-32-9-29 5z" fill="#23c9eb"/><path d="M1499 2299l30-3-31-9-30 4z" fill="#23d7eb"/><path d="M1437 2294l31-3-31-8-30 4z" fill="#23e5eb"/><path d="M1376 2289l31-2-31-7-31 3z" fill="#23ebe4"/><path d="M1314 2284l31-1-29-7-32 3z" fill="#23ebd8"/><path d="M1252 2280l32-1-29-6-32 2z" fill="#23ebcd"/><path d="M1190 2275l33 0-29-5-32 1z" fill="#23ebc3"/><path d="M1129 2271l33 0-29-3-33 0z" fill="#23ebba"/><path d="M1777 2331l28-4-33-11-28 5z" fill="#2398eb"/><path d="M1715 2325l29-4-32-11-29 5z" fill="#23abeb"/><path d="M1653 2318l30-3-32-10-30 4z" fill="#23beeb"/><path d="M1592 2312l29-3-31-9-30 4z" fill="#23cfeb"/><path d="M1530 2306l30-2-31-8-30 3z" fill="#23e0eb"/><path d="M1468 2300l31-1-31-8-31 3z" fill="#23ebe6"/><path d="M1406 2295l31-1-30-7-31 2z" fill="#23ebd7"/><path d="M1344 2289l32 0-31-6-31 1z" fill="#23ebca"/><path d="M1282 2284l32 0-30-5-32 1z" fill="#23ebbd"/><path d="M1220 2279l32 1-29-5-33 0z" fill="#23ebb1"/><path d="M1158 2274l32 1-28-4-33 0z" fill="#23eba6"/><path d="M1748 2334l29-3-33-10-29 4z" fill="#23aeeb"/><path d="M1686 2327l29-2-32-10-30 3z" fill="#23c3eb"/><path d="M1624 2320l29-2-32-9-29 3z" fill="#23d6eb"/><path d="M1562 2314l30-2-32-8-30 2z" fill="#23e9eb"/><path d="M1499 2307l31-1-31-7-31 1z" fill="#23ebdb"/><path d="M1437 2300l31 0-31-6-31 1z" fill="#23ebca"/><path d="M1375 2294l31 1-30-6-32 0z" fill="#23ebbb"/><path d="M1312 2288l32 1-30-5-32 0z" fill="#23ebac"/><path d="M1249 2282l33 2-30-4-32-1z" fill="#23eb9e"/><path d="M1187 2276l33 3-30-4-32-1z" fill="#23eb91"/><path d="M1719 2336l29-2-33-9-29 2z" fill="#23c8eb"/><path d="M1656 2329l30-2-33-9-29 2z" fill="#23deeb"/><path d="M1594 2321l30-1-32-8-30 2z" fill="#23ebe3"/><path d="M1531 2314l31 0-32-8-31 1z" fill="#23ebd0"/><path d="M1468 2306l31 1-31-7-31 0z" fill="#23ebbd"/><path d="M1405 2299l32 1-31-5-31-1z" fill="#23ebac"/><path d="M1343 2292l32 2-31-5-32-1z" fill="#23eb9b"/><path d="M1280 2285l32 3-30-4-33-2z" fill="#23eb8c"/><path d="M1216 2279l33 3-29-3-33-3z" fill="#23eb7d"/><path d="M1689 2337l30-1-33-9-30 2z" fill="#23e5eb"/><path d="M1626 2328l30 1-32-9-30 1z" fill="#23ebd9"/><path d="M1563 2320l31 1-32-7-31 0z" fill="#23ebc4"/><path d="M1500 2312l31 2-32-7-31-1z" fill="#23ebb0"/><path d="M1437 2304l31 2-31-6-32-1z" fill="#23eb9c"/><path d="M1373 2296l32 3-30-5-32-2z" fill="#23eb8a"/><path d="M1310 2288l33 4-31-4-32-3z" fill="#23eb79"/><path d="M1247 2280l33 5-31-3-33-3z" fill="#117333" stroke="#117333" stroke-opacity="1"/><path d="M1659 2335l30 2-33-8-30-1z" fill="#23ebcf"/><path d="M1596 2326l30 2-32-7-31-1z" fill="#23ebb8"/><path d="M1532 2317l31 3-32-6-31-2z" fill="#23eba2"/><path d="M1469 2308l31 4-32-6-31-2z" fill="#23eb8d"/><path d="M1405 2299l32 5-32-5-32-3z" fill="#23eb79"/><path d="M1341 2291l32 5-30-4-33-4z" fill="#117332" stroke="#117332" stroke-opacity="1"/><path d="M1277 2282l33 6-30-3-33-5z" fill="#117329" stroke="#117329" stroke-opacity="1"/><path d="M1629 2332l30 3-33-7-30-2z" fill="#23ebac"/><path d="M1565 2322l31 4-33-6-31-3z" fill="#23eb94"/><path d="M1501 2313l31 4-32-5-31-4z" fill="#23eb7d"/><path d="M1437 2303l32 5-32-4-32-5z" fill="#117333" stroke="#117333" stroke-opacity="1"/><path d="M1372 2293l33 6-32-3-32-5z" fill="#117328" stroke="#117328" stroke-opacity="1"/><path d="M1308 2283l33 8-31-3-33-6z" fill="#11731f" stroke="#11731f" stroke-opacity="1"/><path d="M1598 2328l31 4-33-6-31-4z" fill="#23eb86"/><path d="M1534 2317l31 5-33-5-31-4z" fill="#117335" stroke="#117335" stroke-opacity="1"/><path d="M1469 2306l32 7-32-5-32-5z" fill="#11732a" stroke="#11732a" stroke-opacity="1"/><path d="M1404 2295l33 8-32-4-33-6z" fill="#11731f" stroke="#11731f" stroke-opacity="1"/><path d="M1339 2284l33 9-31-2-33-8z" fill="#117315" stroke="#117315" stroke-opacity="1"/><path d="M1567 2321l31 7-33-6-31-5z" fill="#11732d" stroke="#11732d" stroke-opacity="1"/><path d="M1502 2309l32 8-33-4-32-7z" fill="#117321" stroke="#117321" stroke-opacity="1"/><path d="M1437 2297l32 9-32-3-33-8z" fill="#117316" stroke="#117316" stroke-opacity="1"/><path d="M1371 2285l33 10-32-2-33-9z" fill="#187311" stroke="#187311" stroke-opacity="1"/><path d="M1535 2311l32 10-33-4-32-8z" fill="#117319" stroke="#117319" stroke-opacity="1"/><path d="M1470 2298l32 11-33-3-32-9z" fill="#167311" stroke="#167311" stroke-opacity="1"/><path d="M1404 2285l33 12-33-2-33-10z" fill="#227311" stroke="#227311" stroke-opacity="1"/><path d="M1503 2299l32 12-33-2-32-11z" fill="#207311" stroke="#207311" stroke-opacity="1"/><path d="M1437 2285l33 13-33-1-33-12z" fill="#2c7311" stroke="#2c7311" stroke-opacity="1"/><path d="M1470 2284l33 15-33-1-33-13z" fill="#367311" stroke="#367311" stroke-opacity="1"/></g><text x="88.6" y="256.2" font-size="2.90" fill="#333" text-anchor="end" stroke="#333" stroke-width=".12">21000</text>
<text x="98.9" y="260.9" font-size="2.90" fill="#333" text-anchor="end" stroke="#333" stroke-width=".12">18100</text>
<text x="109.7" y="265.7" font-size="2.90" fill="#333" text-anchor="end" stroke="#333" stroke-width=".12">15200</text>
<text x="121.0" y="270.8" font-size="2.90" fill="#333" text-anchor="end" stroke="#333" stroke-width=".12">12300</text>
<text x="133.0" y="276.2" font-size="2.90" fill="#333" text-anchor="end" stroke="#333" stroke-width=".12">9400</text>
<text x="145.6" y="281.8" font-size="2.90" fill="#333" text-anchor="end" stroke="#333" stroke-width=".12">6500</text>
<text x="147.8" y="281.4" font-size="2.90" fill="#333" stroke="#333" stroke-width=".12">30</text>
<text x="163.3" y="274.5" font-size="2.90" fill="#333" stroke="#333" stroke-width=".12">35</text>
<text x="177.8" y="267.9" font-size="2.90" fill="#333" stroke="#333" stroke-width=".12">40</text>
<text x="191.4" y="261.8" font-size="2.90" fill="#333" stroke="#333" stroke-width=".12">45</text>
<text x="204.2" y="256.1" font-size="2.90" fill="#333" stroke="#333" stroke-width=".12">50</text>
<circle cx="89.8" cy="253.6" r=".55" fill="#222"/>
<circle cx="100.1" cy="258.3" r=".55" fill="#222"/>
<circle cx="110.9" cy="263.1" r=".55" fill="#222"/>
<circle cx="122.2" cy="268.2" r=".55" fill="#222"/>
<circle cx="134.2" cy="273.6" r=".55" fill="#222"/>
<circle cx="146.8" cy="279.2" r=".55" fill="#222"/>
<circle cx="146.8" cy="279.2" r=".55" fill="#222"/>
<circle cx="162.3" cy="272.3" r=".55" fill="#222"/>
<circle cx="176.8" cy="265.7" r=".55" fill="#222"/>
<circle cx="190.4" cy="259.6" r=".55" fill="#222"/>
<circle cx="203.2" cy="253.9" r=".55" fill="#222"/>
<text x="98.0" y="278.0" font-size="3.00" fill="#333" text-anchor="middle" stroke="#333" stroke-width=".12">B: B (rpm)</text>
<text x="198.0" y="278.0" font-size="3.00" fill="#333" text-anchor="middle" stroke="#333" stroke-width=".12">A: A (mg)</text>
<text x="87.7" y="237.0" font-size="2.90" fill="#333" text-anchor="end" stroke="#333" stroke-width=".12">0.2</text>
<circle cx="89.1" cy="236.0" r=".6" fill="#222"/>
<text x="87.1" y="223.5" font-size="2.90" fill="#333" text-anchor="end" stroke="#333" stroke-width=".12">0.3</text>
<circle cx="88.5" cy="222.5" r=".6" fill="#222"/>
<text x="86.6" y="209.7" font-size="2.90" fill="#333" text-anchor="end" stroke="#333" stroke-width=".12">0.4</text>
<circle cx="88.0" cy="208.7" r=".6" fill="#222"/>
<text x="86.0" y="195.7" font-size="2.90" fill="#333" text-anchor="end" stroke="#333" stroke-width=".12">0.5</text>
<circle cx="87.4" cy="194.7" r=".6" fill="#222"/>
<text x="85.5" y="181.3" font-size="2.90" fill="#333" text-anchor="end" stroke="#333" stroke-width=".12">0.6</text>
<circle cx="86.9" cy="180.3" r=".6" fill="#222"/>
<text x="69.5" y="215.0" font-size="2.9" fill="#555" text-anchor="middle" transform="rotate(-90 69.5 215.0)">PDI</text>
<rect x="78.1" y="170.9" width="8.6" height="3.6" fill="#f2f2f2" stroke="#6a6a6a" stroke-width=".45"/>
<text x="82.4" y="173.9" font-size="2.30" fill="#777" text-anchor="middle" textLength="6.6" lengthAdjust="spacingAndGlyphs">0.0000</text>
<line x1="86.5" y1="174.5" x2="86.9" y2="180.3" stroke="#666" stroke-width=".5"/></g>
<text x="2.0" y="153.9" font-size="3.01" fill="#000" font-weight="bold" textLength="4.8" lengthAdjust="spacingAndGlyphs" stroke-width=".14" stroke="#000">PDI</text>
<text x="2.0" y="158.6" font-size="3.01" fill="#3030ff" textLength="7.2" lengthAdjust="spacingAndGlyphs" stroke-width=".14" stroke="#3030ff">0.248</text>
<defs><linearGradient id="grd"><stop offset="0" stop-color="#0010c0"/><stop offset=".3" stop-color="#00c020"/><stop offset=".55" stop-color="#00f000"/><stop offset=".72" stop-color="#20a000"/><stop offset=".85" stop-color="#d02000"/><stop offset="1" stop-color="#c01000"/></linearGradient></defs>
<rect x="10.60" y="155.53" width="11.50" height="4.14" rx="0.60" fill="url(#grd)"/>
<text x="23.5" y="158.6" font-size="3.01" fill="#ff3030" textLength="7.4" lengthAdjust="spacingAndGlyphs" stroke-width=".14" stroke="#ff3030">0.495</text>
<text x="2.0" y="168.0" font-size="3.01" fill="#222" textLength="9.8" lengthAdjust="spacingAndGlyphs" stroke-width=".14" stroke="#222">X1 = A</text>
<text x="2.0" y="172.7" font-size="3.01" fill="#222" textLength="9.8" lengthAdjust="spacingAndGlyphs" stroke-width=".14" stroke="#222">X2 = B</text>
<text x="2.0" y="182.1" font-size="3.01" fill="#000" font-weight="bold" textLength="19.5" lengthAdjust="spacingAndGlyphs" stroke-width=".14" stroke="#000">Actual Factor</text>
<text x="2.0" y="186.8" font-size="3.01" fill="#222" textLength="16.8" lengthAdjust="spacingAndGlyphs" stroke-width=".14" stroke="#222">C = 5.13761</text>
<g transform="translate(29.60 188.80) scale(0.620)" stroke="#1a1a1a" stroke-width="2.1" fill="none"><path d="M4 1.2H1.2V8.8H8.8V6"/><path d="M3.8 6.2L7.6 2.4"/><path d="M5.2 0.6H9.4V4.8Z" fill="#1a1a1a" stroke-width=".6"/></g>
<g><g stroke="#747474" stroke-width=".65" fill="none"><line x1="309.5" y1="260.6" x2="306.8" y2="181.6"/><line x1="325.2" y1="254.7" x2="323.4" y2="177.8"/><line x1="340.1" y1="249.2" x2="339.0" y2="174.2"/><line x1="354.1" y1="243.9" x2="353.7" y2="170.9"/><line x1="367.4" y1="239.0" x2="367.6" y2="167.7"/><line x1="425.7" y1="261.4" x2="428.7" y2="181.5"/><line x1="415.0" y1="257.2" x2="417.4" y2="179.0"/><line x1="404.7" y1="253.3" x2="406.6" y2="176.5"/><line x1="394.8" y1="249.5" x2="396.2" y2="174.2"/><line x1="385.3" y1="245.8" x2="386.3" y2="171.9"/><line x1="376.2" y1="242.3" x2="376.7" y2="169.8"/><line x1="367.4" y1="239.0" x2="367.6" y2="167.7"/><line x1="308.8" y1="241.6" x2="367.4" y2="221.7"/><line x1="367.4" y1="221.7" x2="426.5" y2="242.1"/><line x1="308.3" y1="227.0" x2="367.5" y2="208.5"/><line x1="367.5" y1="208.5" x2="427.0" y2="227.4"/><line x1="307.8" y1="212.1" x2="367.5" y2="195.1"/><line x1="367.5" y1="195.1" x2="427.6" y2="212.4"/><line x1="307.3" y1="197.0" x2="367.5" y2="181.5"/><line x1="367.5" y1="181.5" x2="428.2" y2="197.1"/><line x1="306.8" y1="181.6" x2="367.6" y2="167.7"/><line x1="367.6" y1="167.7" x2="428.7" y2="181.5"/></g>
<polyline points="309.5,260.6 306.8,181.6 367.6,167.7 428.7,181.5 425.7,261.4" stroke="#555" stroke-width=".7" fill="none"/>
<line x1="367.4" y1="239.0" x2="367.6" y2="167.7" stroke="#555" stroke-width=".7"/>
<polygon points="309.5,260.6 367.2,289.3 425.7,261.4 367.4,239.0" fill="#646464"/>
<polyline points="309.5,260.6 367.2,289.3 425.7,261.4" stroke="#2a2a2a" stroke-width=".8" fill="none"/>
<polyline points="357.5,284.5 358.6,284.0 359.8,283.5 361.0,283.1 362.2,282.6 363.4,282.2 364.0,282.0 365.2,281.6 366.5,281.1 367.7,280.7 368.4,280.6 369.7,280.2 370.8,279.9 371.6,279.6 372.9,279.3 373.6,279.1 375.0,278.7 375.7,278.6 377.0,278.3 377.9,278.1 379.1,277.8 379.9,277.6 381.2,277.3 381.9,277.2 383.4,276.9 384.1,276.8 385.4,276.6 386.3,276.4 387.1,276.3 388.6,276.0 389.3,275.9 390.2,275.8 391.7,275.6 392.4,275.4 393.3,275.3 394.8,275.1 395.6,275.0 396.4,274.9 397.6,274.8 397.6,274.8" stroke="#1f5ecc" stroke-width="1.25" stroke-linejoin="round" fill="none"/>
<polyline points="336.3,274.0 337.2,273.4 338.0,272.8 338.5,272.6 339.4,272.0 340.3,271.5 340.8,271.2 341.7,270.7 342.7,270.2 343.7,269.8 344.8,269.3 345.9,268.9 347.1,268.5 348.1,268.2 348.8,268.0 350.1,267.6 350.9,267.5 352.1,267.2 352.9,267.0 354.2,266.8 354.9,266.7 356.3,266.5 357.1,266.4 357.9,266.3 359.2,266.1 360.2,266.0 361.0,265.9 361.9,265.8 363.0,265.8 364.2,265.7 365.2,265.6 366.1,265.5 366.9,265.5 367.8,265.5 368.9,265.4 370.0,265.4 371.1,265.3 372.2,265.3 373.2,265.3 374.1,265.2 375.1,265.2 376.0,265.2 376.9,265.2 377.9,265.2 378.8,265.1 379.8,265.1 380.7,265.1 381.7,265.1 382.6,265.1 383.6,265.1 384.6,265.1 385.7,265.1 386.7,265.1 387.7,265.1 388.7,265.1 389.7,265.1 390.7,265.1 391.7,265.1 392.6,265.1 393.6,265.1 394.6,265.1 395.6,265.2 396.6,265.2 397.6,265.2 398.6,265.2 399.5,265.2 400.5,265.2 401.5,265.2 402.5,265.2 403.5,265.3 404.5,265.3 405.5,265.3 406.6,265.3 407.6,265.3 408.6,265.3 409.6,265.4 410.7,265.4 411.7,265.4 412.7,265.4 413.7,265.4 414.8,265.5 415.8,265.5 416.8,265.5 417.1,265.5" stroke="#1fccb3" stroke-width="1.25" stroke-linejoin="round" fill="none"/>
<polyline points="348.6,246.0 348.3,246.3 347.9,246.6 347.4,247.0 347.1,247.2 346.5,247.7 346.2,248.0 345.5,248.5 345.2,248.7 344.6,249.2 344.2,249.4 343.5,249.9 343.2,250.2 342.5,250.6 342.1,250.9 341.4,251.3 340.6,251.8 340.2,252.0 339.4,252.5 338.6,252.9 338.1,253.1 337.3,253.5 336.3,254.0 335.4,254.4 334.4,254.7 333.3,255.1 332.3,255.4 331.1,255.8 330.5,255.9 329.3,256.2 328.2,256.5 327.4,256.6 326.2,256.9 325.4,257.0 324.5,257.2 323.3,257.3 322.6,257.4 321.6,257.5 320.3,257.7 319.5,257.8 318.8,257.8 317.7,257.9 316.5,258.0 316.5,258.0" stroke="#1fccb3" stroke-width="1.25" stroke-linejoin="round" fill="none"/>
<polyline points="365.1,239.8 365.0,240.2 364.8,240.6 364.7,240.9 364.5,241.2 364.4,241.5 364.3,241.8 364.1,242.2 364.0,242.6 363.8,242.9 363.7,243.2 363.6,243.6 363.6,243.9 363.5,244.2 363.4,244.5 363.3,244.9 363.2,245.3 363.1,245.6 363.1,246.0 363.0,246.4 363.0,246.7 363.0,247.1 363.0,247.4 363.0,247.8 363.0,248.1 363.1,248.5 363.1,248.8 363.2,249.2 363.3,249.5 363.4,249.9 363.6,250.4 363.8,250.7 364.0,251.0 364.2,251.4 364.6,251.9 364.8,252.2 365.2,252.5 365.7,253.0 366.0,253.3 366.7,253.7 367.4,254.2 367.8,254.4 368.7,254.8 369.6,255.3 370.5,255.6 371.6,256.0 372.1,256.2 373.2,256.5 374.4,256.8 375.0,257.0 376.2,257.3 376.9,257.4 378.1,257.7 378.8,257.8 380.1,258.1 380.8,258.2 382.1,258.4 382.9,258.5 383.6,258.7 385.1,258.9 385.8,259.0 386.5,259.1 387.9,259.3 388.8,259.4 389.5,259.5 390.6,259.6 391.9,259.7 392.6,259.8 393.4,259.9 394.6,260.0 395.8,260.2 396.6,260.2 397.4,260.3 398.3,260.4 399.6,260.5 400.7,260.6 401.5,260.7 402.3,260.8 403.3,260.8 404.5,260.9 405.7,261.0 406.5,261.1 407.4,261.2 408.2,261.2 409.3,261.3 410.4,261.4 411.6,261.5 412.5,261.6 413.3,261.6 414.2,261.7 415.1,261.7 416.3,261.8 417.5,261.9 418.5,262.0 419.4,262.0 420.3,262.1 421.1,262.1 422.1,262.2 423.3,262.3 423.8,262.3" stroke="#21cc1f" stroke-width="1.25" stroke-linejoin="round" fill="none"/>
<polyline points="374.1,241.5 374.2,241.9 374.2,242.2 374.3,242.6 374.4,243.0 374.5,243.3 374.6,243.6 374.7,243.9 374.9,244.2 375.0,244.6 375.2,245.0 375.5,245.4 375.7,245.7 375.8,246.0 376.2,246.4 376.5,246.8 376.7,247.1 377.1,247.5 377.5,247.9 377.8,248.1 378.4,248.6 378.7,248.9 379.4,249.3 379.8,249.6 380.5,250.0 381.2,250.5 381.9,250.8 382.5,251.1 383.4,251.5 384.3,251.9 385.3,252.3 386.3,252.7 387.3,253.0 387.9,253.2 389.0,253.5 390.1,253.8 391.1,254.1 391.9,254.3 393.1,254.6 393.7,254.8 394.9,255.0 395.7,255.2 396.9,255.4 397.7,255.6 398.8,255.8 399.5,256.0 400.9,256.2 401.6,256.3 402.8,256.5 403.7,256.7 404.4,256.8 405.8,257.0 406.6,257.1 407.5,257.2 408.8,257.4 409.5,257.5 410.4,257.7 411.8,257.8 412.5,257.9 413.3,258.0 414.6,258.2 415.6,258.3 416.4,258.4 417.3,258.5 418.7,258.7 418.7,258.7" stroke="#85cc1f" stroke-width="1.25" stroke-linejoin="round" fill="none"/>
<g transform="scale(.1)" stroke="#000" stroke-opacity=".26" stroke-width="5.5" stroke-linejoin="round"><path d="M3675 2006l27-21-27 9-27 20z" fill="#44eb23"/><path d="M3648 2026l27-20-27 8-27 19z" fill="#28eb23"/><path d="M3702 1999l27-23-27 9-27 21z" fill="#68eb23"/><path d="M3621 2045l27-19-27 7-27 18z" fill="#23eb40"/><path d="M3675 2020l27-21-27 7-27 20z" fill="#4beb23"/><path d="M3729 1992l27-25-27 9-27 23z" fill="#87eb23"/><path d="M3593 2062l28-17-27 6-27 16z" fill="#23eb61"/><path d="M3647 2040l28-20-27 6-27 19z" fill="#30eb23"/><path d="M3702 2015l27-23-27 7-27 21z" fill="#69eb23"/><path d="M3565 2079l28-17-26 5-28 15z" fill="#23eb7e"/><path d="M3757 1987l27-27-28 7-27 25z" fill="#a3eb23"/><path d="M3620 2059l27-19-26 5-28 17z" fill="#23eb33"/><path d="M3675 2036l27-21-27 5-28 20z" fill="#4deb23"/><path d="M3537 2094l28-15-26 3-28 15z" fill="#23eb98"/><path d="M3730 2011l27-24-28 5-27 23z" fill="#84eb23"/><path d="M3592 2076l28-17-27 3-28 17z" fill="#23eb52"/><path d="M3785 1983l27-28-28 5-27 27z" fill="#bbeb23"/><path d="M3647 2056l28-20-28 4-27 19z" fill="#34eb23"/><path d="M3702 2034l28-23-28 4-27 21z" fill="#67eb23"/><path d="M3509 2109l28-15-26 3-28 14z" fill="#23ebae"/><path d="M3564 2092l28-16-27 3-28 15z" fill="#23eb6e"/><path d="M3758 2009l27-26-28 4-27 24z" fill="#9aeb23"/><path d="M3619 2074l28-18-27 3-28 17z" fill="#23eb2c"/><path d="M3813 1981l27-30-28 4-27 28z" fill="#cfeb23"/><path d="M3675 2055l27-21-27 2-28 20z" fill="#4ceb23"/><path d="M3480 2122l29-13-26 2-29 12z" fill="#23ebc1"/><path d="M3730 2033l28-24-28 2-28 23z" fill="#7ceb23"/><path d="M3535 2108l29-16-27 2-28 15z" fill="#23eb86"/><path d="M3591 2092l28-18-27 2-28 16z" fill="#23eb49"/><path d="M3786 2009l27-28-28 2-27 26z" fill="#adeb23"/><path d="M3647 2074l28-19-28 1-28 18z" fill="#34eb23"/><path d="M3451 2135l29-13-26 1-29 13z" fill="#23ebd1"/><path d="M3842 1981l27-31-29 1-27 30z" fill="#dfeb23"/><path d="M3702 2055l28-22-28 1-27 21z" fill="#60eb23"/><path d="M3507 2122l28-14-26 1-29 13z" fill="#23eb9b"/><path d="M3759 2034l27-25-28 0-28 24z" fill="#8deb23"/><path d="M3562 2108l29-16-27 0-29 16z" fill="#23eb63"/><path d="M3618 2092l29-18-28 0-28 18z" fill="#23eb2b"/><path d="M3815 2010l27-29-29 0-27 28z" fill="#bceb23"/><path d="M3422 2147l29-12-26 1-29 11z" fill="#23ebdd"/><path d="M3674 2075l28-20-27 0-28 19z" fill="#47eb23"/><path d="M3478 2135l29-13-27 0-29 13z" fill="#23ebac"/><path d="M3871 1984l28-33-30-1-27 31z" fill="#ebeb23"/><path d="M3731 2057l28-23-29-1-28 22z" fill="#70eb23"/><path d="M3534 2123l28-15-27 0-28 14z" fill="#23eb7a"/><path d="M3787 2036l28-26-29-1-27 25z" fill="#9beb23"/><path d="M3590 2109l28-17-27 0-29 16z" fill="#23eb46"/><path d="M3646 2094l28-19-27-1-29 18z" fill="#30eb23"/><path d="M3392 2158l30-11-26 0-30 11z" fill="#23ebe6"/><path d="M3844 2014l27-30-29-3-27 29z" fill="#c6eb23"/><path d="M3448 2148l30-13-27 0-29 12z" fill="#23ebba"/><path d="M3703 2078l28-21-29-2-28 20z" fill="#56eb23"/><path d="M3901 1988l27-34-29-3-28 33z" fill="#ebe323"/><path d="M3505 2137l29-14-27-1-29 13z" fill="#23eb8d"/><path d="M3759 2061l28-25-28-2-28 23z" fill="#7deb23"/><path d="M3561 2125l29-16-28-1-28 15z" fill="#23eb5e"/><path d="M3816 2041l28-27-29-4-28 26z" fill="#a5eb23"/><path d="M3618 2112l28-18-28-2-28 17z" fill="#23eb2f"/><path d="M3362 2169l30-11-26 0-30 10z" fill="#23eaeb"/><path d="M3674 2098l29-20-29-3-28 19z" fill="#3eeb23"/><path d="M3873 2020l28-32-30-4-27 30z" fill="#cdeb23"/><path d="M3418 2160l30-12-26-1-30 11z" fill="#23ebc5"/><path d="M3475 2150l30-13-27-2-30 13z" fill="#23eb9c"/><path d="M3731 2083l28-22-28-4-28 21z" fill="#61eb23"/><path d="M3931 1996l27-36-30-6-27 34z" fill="#ebde23"/><path d="M3532 2140l29-15-27-2-29 14z" fill="#23eb73"/><path d="M3788 2066l28-25-29-5-28 25z" fill="#85eb23"/><path d="M3589 2129l29-17-28-3-29 16z" fill="#23eb49"/><path d="M3846 2048l27-28-29-6-28 27z" fill="#aaeb23"/><path d="M3332 2178l30-9-26-1-30 9z" fill="#23e9eb"/><path d="M3646 2117l28-19-28-4-28 18z" fill="#28eb23"/><path d="M3388 2171l30-11-26-2-30 11z" fill="#23ebcc"/><path d="M3703 2104l28-21-28-5-29 20z" fill="#47eb23"/><path d="M3903 2028l28-32-30-8-28 32z" fill="#d0eb23"/><path d="M3445 2163l30-13-27-2-30 12z" fill="#23eba9"/><path d="M3760 2090l28-24-29-5-28 22z" fill="#68eb23"/><path d="M3502 2154l30-14-27-3-30 13z" fill="#23eb84"/><path d="M3961 2006l27-37-30-9-27 36z" fill="#ebde23"/><path d="M3560 2145l29-16-28-4-29 15z" fill="#23eb5f"/><path d="M3818 2074l28-26-30-7-28 25z" fill="#8aeb23"/><path d="M3617 2135l29-18-28-5-29 17z" fill="#23eb38"/><path d="M3301 2187l31-9-26-1-31 8z" fill="#23eaeb"/><path d="M3875 2057l28-29-30-8-27 28z" fill="#aceb23"/><path d="M3674 2123l29-19-29-6-28 19z" fill="#30eb23"/><path d="M3358 2181l30-10-26-2-30 9z" fill="#23ebd0"/><path d="M3415 2175l30-12-27-3-30 11z" fill="#23ebb2"/><path d="M3933 2039l28-33-30-10-28 32z" fill="#cfeb23"/><path d="M3732 2112l28-22-29-7-28 21z" fill="#4eeb23"/><path d="M3473 2167l29-13-27-4-30 13z" fill="#23eb92"/><path d="M3790 2099l28-25-30-8-28 24z" fill="#6beb23"/><path d="M3991 2019l28-38-31-12-27 37z" fill="#ebe223"/><path d="M3530 2159l30-14-28-5-30 14z" fill="#23eb72"/><path d="M3847 2084l28-27-29-9-28 26z" fill="#8aeb23"/><path d="M3588 2151l29-16-28-6-29 16z" fill="#23eb50"/><path d="M3270 2196l31-9-26-2-31 8z" fill="#23ebe8"/><path d="M3645 2142l29-19-28-6-29 18z" fill="#23eb2e"/><path d="M3905 2069l28-30-30-11-28 29z" fill="#aaeb23"/><path d="M3327 2191l31-10-26-3-31 9z" fill="#23ebd0"/><path d="M3703 2132l29-20-29-8-29 19z" fill="#35eb23"/><path d="M3385 2185l30-10-27-4-30 10z" fill="#23ebb7"/><path d="M3964 2052l27-33-30-13-28 33z" fill="#caeb23"/><path d="M3442 2180l31-13-28-4-30 12z" fill="#23eb9d"/><path d="M3761 2121l29-22-30-9-28 22z" fill="#50eb23"/><path d="M3500 2173l30-14-28-5-29 13z" fill="#23eb82"/><path d="M3819 2109l28-25-29-10-28 25z" fill="#6beb23"/><path d="M4022 2034l28-38-31-15-28 38z" fill="#ebea23"/><path d="M3558 2166l30-15-28-6-30 14z" fill="#23eb65"/><path d="M3877 2097l28-28-30-12-28 27z" fill="#87eb23"/><path d="M3616 2159l29-17-28-7-29 16z" fill="#23eb47"/><path d="M3238 2203l32-7-26-3-32 7z" fill="#23ebe0"/><path d="M3674 2151l29-19-29-9-29 19z" fill="#23eb29"/><path d="M3296 2200l31-9-26-4-31 9z" fill="#23ebcd"/><path d="M3936 2083l28-31-31-13-28 30z" fill="#a4eb23"/><path d="M3354 2195l31-10-27-4-31 10z" fill="#23ebb9"/><path d="M3732 2142l29-21-29-9-29 20z" fill="#36eb23"/><path d="M3994 2068l28-34-31-15-27 33z" fill="#c1eb23"/><path d="M3412 2191l30-11-27-5-30 10z" fill="#23eba4"/><path d="M3791 2133l28-24-29-10-29 22z" fill="#4eeb23"/><path d="M3470 2186l30-13-27-6-31 13z" fill="#23eb8e"/><path d="M4053 2052l28-38-31-18-28 38z" fill="#e0eb23"/><path d="M3528 2181l30-15-28-7-30 14z" fill="#23eb77"/><path d="M3849 2122l28-25-30-13-28 25z" fill="#66eb23"/><path d="M3586 2175l30-16-28-8-30 15z" fill="#23eb5e"/><path d="M3908 2111l28-28-31-14-28 28z" fill="#7feb23"/><path d="M3206 2210l32-7-26-3-32 6z" fill="#23ebd5"/><path d="M3645 2169l29-18-29-9-29 17z" fill="#23eb44"/><path d="M3264 2207l32-7-26-4-32 7z" fill="#23ebc7"/><path d="M3967 2099l27-31-30-16-28 31z" fill="#9aeb23"/><path d="M3703 2162l29-20-29-10-29 19z" fill="#23eb29"/><path d="M3322 2205l32-10-27-4-31 9z" fill="#23ebb8"/><path d="M3762 2154l29-21-30-12-29 21z" fill="#33eb23"/><path d="M3381 2202l31-11-27-6-31 10z" fill="#23eba8"/><path d="M4026 2086l27-34-31-18-28 34z" fill="#b4eb23"/><path d="M3439 2198l31-12-28-6-30 11z" fill="#23eb97"/><path d="M3821 2146l28-24-30-13-28 24z" fill="#48eb23"/><path d="M4085 2072l27-38-31-20-28 38z" fill="#d0eb23"/><path d="M3498 2194l30-13-28-8-30 13z" fill="#23eb85"/><path d="M3880 2137l28-26-31-14-28 25z" fill="#5eeb23"/><path d="M3556 2190l30-15-28-9-30 15z" fill="#23eb71"/><path d="M3615 2185l30-16-29-10-30 16z" fill="#23eb5c"/><path d="M3939 2128l28-29-31-16-28 28z" fill="#74eb23"/><path d="M3174 2215l32-5-26-4-32 6z" fill="#23ebc6"/><path d="M3674 2180l29-18-29-11-29 18z" fill="#23eb46"/><path d="M3232 2214l32-7-26-4-32 7z" fill="#23ebbe"/><path d="M3998 2118l28-32-32-18-27 31z" fill="#8beb23"/><path d="M3733 2175l29-21-30-12-29 20z" fill="#23eb2f"/><path d="M3291 2213l31-8-26-5-32 7z" fill="#23ebb4"/><path d="M4057 2106l28-34-32-20-27 34z" fill="#a4eb23"/><path d="M3350 2211l31-9-27-7-32 10z" fill="#23eba9"/><path d="M3792 2169l29-23-30-13-29 21z" fill="#2ceb23"/><path d="M3408 2209l31-11-27-7-31 11z" fill="#23eb9d"/><path d="M3851 2162l29-25-31-15-28 24z" fill="#3eeb23"/><path d="M4116 2094l28-38-32-22-27 38z" fill="#bdeb23"/><path d="M3467 2207l31-13-28-8-31 12z" fill="#23eb8f"/><path d="M3526 2204l30-14-28-9-30 13z" fill="#23eb81"/><path d="M3910 2155l29-27-31-17-28 26z" fill="#51eb23"/><path d="M3585 2201l30-16-29-10-30 15z" fill="#23eb71"/><path d="M3970 2147l28-29-31-19-28 29z" fill="#65eb23"/><path d="M3644 2198l30-18-29-11-30 16z" fill="#23eb60"/><path d="M3141 2220l33-5-26-3-33 4z" fill="#23ebb4"/><path d="M4029 2138l28-32-31-20-28 32z" fill="#7aeb23"/><path d="M3704 2194l29-19-30-13-29 18z" fill="#23eb4e"/><path d="M3200 2221l32-7-26-4-32 5z" fill="#23ebb1"/><path d="M3259 2221l32-8-27-6-32 7z" fill="#23ebac"/><path d="M3763 2189l29-20-30-15-29 21z" fill="#23eb3b"/><path d="M4089 2129l27-35-31-22-28 34z" fill="#8feb23"/><path d="M3318 2220l32-9-28-6-31 8z" fill="#23eba6"/><path d="M3822 2185l29-23-30-16-29 23z" fill="#23eb26"/><path d="M3377 2220l31-11-27-7-31 9z" fill="#23eb9f"/><path d="M4149 2118l27-37-32-25-28 38z" fill="#a5eb23"/><path d="M3436 2219l31-12-28-9-31 11z" fill="#23eb96"/><path d="M3882 2179l28-24-30-18-29 25z" fill="#31eb23"/><path d="M3496 2218l30-14-28-10-31 13z" fill="#23eb8d"/><path d="M3941 2173l29-26-31-19-29 27z" fill="#41eb23"/><path d="M3555 2216l30-15-29-11-30 14z" fill="#23eb82"/><path d="M4001 2167l28-29-31-20-28 29z" fill="#52eb23"/><path d="M3614 2214l30-16-29-13-30 16z" fill="#23eb76"/><path d="M3674 2212l30-18-30-14-30 18z" fill="#23eb69"/><path d="M4061 2160l28-31-32-23-28 32z" fill="#64eb23"/><path d="M3107 2224l34-4-26-4-33 3z" fill="#23eb9f"/><path d="M3733 2209l30-20-30-14-29 19z" fill="#23eb5b"/><path d="M3167 2226l33-5-26-6-33 5z" fill="#23eba0"/><path d="M4121 2153l28-35-33-24-27 35z" fill="#76eb23"/><path d="M3226 2227l33-6-27-7-32 7z" fill="#23eba1"/><path d="M3793 2206l29-21-30-16-29 20z" fill="#23eb4c"/><path d="M3286 2229l32-9-27-7-32 8z" fill="#23eba0"/><path d="M3853 2202l29-23-31-17-29 23z" fill="#23eb3b"/><path d="M4181 2144l28-37-33-26-27 37z" fill="#8aeb23"/><path d="M3345 2229l32-9-27-9-32 9z" fill="#23eb9e"/><path d="M3405 2230l31-11-28-10-31 11z" fill="#23eb9a"/><path d="M3913 2198l28-25-31-18-28 24z" fill="#23eb29"/><path d="M3465 2230l31-12-29-11-31 12z" fill="#23eb96"/><path d="M3973 2194l28-27-31-20-29 26z" fill="#2ceb23"/><path d="M3524 2230l31-14-29-12-30 14z" fill="#23eb90"/><path d="M3584 2230l30-16-29-13-30 15z" fill="#23eb89"/><path d="M4033 2189l28-29-32-22-28 29z" fill="#3beb23"/><path d="M3644 2229l30-17-30-14-30 16z" fill="#23eb81"/><path d="M4093 2184l28-31-32-24-28 31z" fill="#4aeb23"/><path d="M3704 2228l29-19-29-15-30 18z" fill="#23eb78"/><path d="M3764 2226l29-20-30-17-30 20z" fill="#23eb6e"/><path d="M4153 2178l28-34-32-26-28 35z" fill="#5aeb23"/><path d="M3133 2230l34-4-26-6-34 4z" fill="#23eb8c"/><path d="M3824 2224l29-22-31-17-29 21z" fill="#23eb62"/><path d="M3193 2233l33-6-26-6-33 5z" fill="#23eb92"/><path d="M4214 2171l27-36-32-28-28 37z" fill="#6beb23"/><path d="M3253 2236l33-7-27-8-33 6z" fill="#23eb96"/><path d="M3884 2222l29-24-31-19-29 23z" fill="#23eb56"/><path d="M3313 2238l32-9-27-9-32 9z" fill="#23eb99"/><path d="M3373 2240l32-10-28-10-32 9z" fill="#23eb9b"/><path d="M3944 2219l29-25-32-21-28 25z" fill="#23eb48"/><path d="M3433 2242l32-12-29-11-31 11z" fill="#23eb9b"/><path d="M4005 2216l28-27-32-22-28 27z" fill="#23eb39"/><path d="M3493 2243l31-13-28-12-31 12z" fill="#23eb9b"/><path d="M3553 2244l31-14-29-14-31 14z" fill="#23eb99"/><path d="M4065 2213l28-29-32-24-28 29z" fill="#23eb28"/><path d="M3613 2245l31-16-30-15-30 16z" fill="#23eb96"/><path d="M4125 2209l28-31-32-25-28 31z" fill="#2ceb23"/><path d="M3674 2245l30-17-30-16-30 17z" fill="#23eb92"/><path d="M3734 2245l30-19-31-17-29 19z" fill="#23eb8d"/><path d="M4186 2205l28-34-33-27-28 34z" fill="#39eb23"/><path d="M3794 2245l30-21-31-18-29 20z" fill="#23eb86"/><path d="M4247 2200l27-36-33-29-27 36z" fill="#47eb23"/><path d="M3855 2244l29-22-31-20-29 22z" fill="#23eb7f"/><path d="M3160 2238l33-5-26-7-34 4z" fill="#23eb80"/><path d="M3915 2243l29-24-31-21-29 24z" fill="#23eb76"/><path d="M3220 2242l33-6-27-9-33 6z" fill="#23eb89"/><path d="M3281 2246l32-8-27-9-33 7z" fill="#23eb91"/><path d="M3976 2242l29-26-32-22-29 25z" fill="#23eb6c"/><path d="M3341 2250l32-10-28-11-32 9z" fill="#23eb98"/><path d="M3401 2253l32-11-28-12-32 10z" fill="#23eb9e"/><path d="M4037 2240l28-27-32-24-28 27z" fill="#23eb60"/><path d="M3462 2255l31-12-28-13-32 12z" fill="#23eba2"/><path d="M3522 2258l31-14-29-14-31 13z" fill="#23eba5"/><path d="M4097 2238l28-29-32-25-28 29z" fill="#23eb54"/><path d="M3583 2260l30-15-29-15-31 14z" fill="#23eba7"/><path d="M4158 2235l28-30-33-27-28 31z" fill="#23eb46"/><path d="M3643 2262l31-17-30-16-31 16z" fill="#23eba8"/><path d="M3704 2263l30-18-30-17-30 17z" fill="#23eba8"/><path d="M4219 2232l28-32-33-29-28 34z" fill="#23eb38"/><path d="M3765 2264l29-19-30-19-30 19z" fill="#23eba7"/><path d="M3825 2265l30-21-31-20-30 21z" fill="#23eba4"/><path d="M3886 2265l29-22-31-21-29 22z" fill="#23eba0"/><path d="M3947 2265l29-23-32-23-29 24z" fill="#23eb9b"/><path d="M3187 2247l33-5-27-9-33 5z" fill="#23eb79"/><path d="M4008 2265l29-25-32-24-29 26z" fill="#23eb95"/><path d="M3248 2253l33-7-28-10-33 6z" fill="#23eb86"/><path d="M3308 2258l33-8-28-12-32 8z" fill="#23eb92"/><path d="M4069 2265l28-27-32-25-28 27z" fill="#23eb8e"/><path d="M3369 2263l32-10-28-13-32 10z" fill="#23eb9c"/><path d="M3430 2267l32-12-29-13-32 11z" fill="#23eba6"/><path d="M4130 2264l28-29-33-26-28 29z" fill="#23eb85"/><path d="M3491 2271l31-13-29-15-31 12z" fill="#23ebae"/><path d="M3552 2274l31-14-30-16-31 14z" fill="#23ebb5"/><path d="M4191 2262l28-30-33-27-28 30z" fill="#23eb7c"/><path d="M3613 2277l30-15-30-17-30 15z" fill="#23ebbb"/><path d="M3674 2280l30-17-30-18-31 17z" fill="#23ebc0"/><path d="M3735 2282l30-18-31-19-30 18z" fill="#23ebc4"/><path d="M3796 2285l29-20-31-20-29 19z" fill="#23ebc6"/><path d="M3857 2286l29-21-31-21-30 21z" fill="#23ebc8"/><path d="M3918 2288l29-23-32-22-29 22z" fill="#23ebc8"/><path d="M3979 2289l29-24-32-23-29 23z" fill="#23ebc7"/><path d="M4041 2290l28-25-32-25-29 25z" fill="#23ebc4"/><path d="M4102 2290l28-26-33-26-28 27z" fill="#23ebc1"/><path d="M3214 2259l34-6-28-11-33 5z" fill="#23eb77"/><path d="M3275 2266l33-8-27-12-33 7z" fill="#23eb88"/><path d="M3336 2272l33-9-28-13-33 8z" fill="#23eb98"/><path d="M4163 2290l28-28-33-27-28 29z" fill="#23ebbc"/><path d="M3398 2277l32-10-29-14-32 10z" fill="#23eba6"/><path d="M3459 2283l32-12-29-16-32 12z" fill="#23ebb4"/><path d="M3520 2288l32-14-30-16-31 13z" fill="#23ebc0"/><path d="M3581 2292l32-15-30-17-31 14z" fill="#23ebcb"/><path d="M3643 2296l31-16-31-18-30 15z" fill="#23ebd5"/><path d="M3704 2300l31-18-31-19-30 17z" fill="#23ebde"/><path d="M3766 2303l30-18-31-21-30 18z" fill="#23ebe5"/><path d="M3827 2306l30-20-32-21-29 20z" fill="#23eaeb"/><path d="M3889 2309l29-21-32-23-29 21z" fill="#23e8eb"/><path d="M3950 2312l29-23-32-24-29 23z" fill="#23e7eb"/><path d="M4012 2314l29-24-33-25-29 24z" fill="#23e6eb"/><path d="M4073 2315l29-25-33-25-28 25z" fill="#23e5eb"/><path d="M4135 2317l28-27-33-26-28 26z" fill="#23e5eb"/><path d="M3242 2272l33-6-27-13-34 6z" fill="#23eb7b"/><path d="M3303 2280l33-8-28-14-33 8z" fill="#23eb90"/><path d="M3365 2287l33-10-29-14-33 9z" fill="#23eba4"/><path d="M3427 2294l32-11-29-16-32 10z" fill="#23ebb6"/><path d="M3488 2300l32-12-29-17-32 12z" fill="#23ebc7"/><path d="M3550 2306l31-14-29-18-32 14z" fill="#23ebd7"/><path d="M3612 2312l31-16-30-19-32 15z" fill="#23ebe6"/><path d="M3673 2317l31-17-30-20-31 16z" fill="#23e7eb"/><path d="M3735 2321l31-18-31-21-31 18z" fill="#23e2eb"/><path d="M3797 2326l30-20-31-21-30 18z" fill="#23deeb"/><path d="M3859 2329l30-20-32-23-30 20z" fill="#23daeb"/><path d="M3921 2333l29-21-32-24-29 21z" fill="#23d7eb"/><path d="M3983 2336l29-22-33-25-29 23z" fill="#23d4eb"/><path d="M4045 2339l28-24-32-25-29 24z" fill="#23d1eb"/><path d="M4107 2342l28-25-33-27-29 25z" fill="#23cfeb"/><path d="M3270 2287l33-7-28-14-33 6z" fill="#23eb85"/><path d="M3332 2296l33-9-29-15-33 8z" fill="#23eb9d"/><path d="M3394 2305l33-11-29-17-33 10z" fill="#23ebb5"/><path d="M3456 2312l32-12-29-17-32 11z" fill="#23ebcb"/><path d="M3518 2320l32-14-30-18-32 12z" fill="#23ebe0"/><path d="M3580 2326l32-14-31-20-31 14z" fill="#23e7eb"/><path d="M3642 2333l31-16-30-21-31 16z" fill="#23e0eb"/><path d="M3704 2338l31-17-31-21-31 17z" fill="#23d9eb"/><path d="M3767 2344l30-18-31-23-31 18z" fill="#23d3eb"/><path d="M3829 2349l30-20-32-23-30 20z" fill="#23cdeb"/><path d="M3891 2353l30-20-32-24-30 20z" fill="#23c8eb"/><path d="M3953 2358l30-22-33-24-29 21z" fill="#23c3eb"/><path d="M4016 2362l29-23-33-25-29 22z" fill="#23bfeb"/><path d="M4078 2365l29-23-34-27-28 24z" fill="#23bbeb"/><path d="M3298 2304l34-8-29-16-33 7z" fill="#23eb94"/><path d="M3361 2314l33-9-29-18-33 9z" fill="#23ebb0"/><path d="M3423 2323l33-11-29-18-33 11z" fill="#23ebcc"/><path d="M3486 2332l32-12-30-20-32 12z" fill="#23ebe6"/><path d="M3548 2340l32-14-30-20-32 14z" fill="#23e3eb"/><path d="M3611 2348l31-15-30-21-32 14z" fill="#23daeb"/><path d="M3673 2355l31-17-31-21-31 16z" fill="#23d1eb"/><path d="M3736 2361l31-17-32-23-31 17z" fill="#23c9eb"/><path d="M3798 2367l31-18-32-23-30 18z" fill="#23c2eb"/><path d="M3861 2373l30-20-32-24-30 20z" fill="#23baeb"/><path d="M3924 2378l29-20-32-25-30 20z" fill="#23b4eb"/><path d="M3986 2383l30-21-33-26-30 22z" fill="#23adeb"/><path d="M4049 2388l29-23-33-26-29 23z" fill="#23a7eb"/><path d="M3390 2334l33-11-29-18-33 9z" fill="#23ebc9"/><path d="M3327 2323l34-9-29-18-34 8z" fill="#23eba8"/><path d="M3453 2344l33-12-30-20-33 11z" fill="#23ebe8"/><path d="M3516 2353l32-13-30-20-32 12z" fill="#23e0eb"/><path d="M3579 2362l32-14-31-22-32 14z" fill="#23d5eb"/><path d="M3642 2370l31-15-31-22-31 15z" fill="#23cbeb"/><path d="M3705 2378l31-17-32-23-31 17z" fill="#23c1eb"/><path d="M3768 2385l30-18-31-23-31 17z" fill="#23b7eb"/><path d="M3830 2392l31-19-32-24-31 18z" fill="#23aeeb"/><path d="M3893 2398l31-20-33-25-30 20z" fill="#23a5eb"/><path d="M3956 2404l30-21-33-25-29 20z" fill="#239deb"/><path d="M4019 2410l30-22-33-26-30 21z" fill="#2395eb"/><path d="M3483 2366l33-13-30-21-33 12z" fill="#23dfeb"/><path d="M3420 2355l33-11-30-21-33 11z" fill="#23ebe7"/><path d="M3547 2376l32-14-31-22-32 13z" fill="#23d2eb"/><path d="M3357 2343l33-9-29-20-34 9z" fill="#23ebc2"/><path d="M3610 2385l32-15-31-22-32 14z" fill="#23c6eb"/><path d="M3673 2394l32-16-32-23-31 15z" fill="#23baeb"/><path d="M3736 2402l32-17-32-24-31 17z" fill="#23aeeb"/><path d="M3800 2410l30-18-32-25-30 18z" fill="#23a3eb"/><path d="M3863 2417l30-19-32-25-31 19z" fill="#2398eb"/><path d="M3926 2424l30-20-32-26-31 20z" fill="#238eeb"/><path d="M3990 2430l29-20-33-27-30 21z" fill="#2385eb"/><path d="M3577 2399l33-14-31-23-32 14z" fill="#23c2eb"/><path d="M3514 2389l33-13-31-23-33 13z" fill="#23d0eb"/><path d="M3641 2409l32-15-31-24-32 15z" fill="#23b4eb"/><path d="M3450 2377l33-11-30-22-33 11z" fill="#23dfeb"/><path d="M3705 2419l31-17-31-24-32 16z" fill="#23a6eb"/><path d="M3386 2365l34-10-30-21-33 9z" fill="#23ebe2"/><path d="M3769 2427l31-17-32-25-32 17z" fill="#2399eb"/><path d="M3832 2436l31-19-33-25-30 18z" fill="#238deb"/><path d="M3896 2443l30-19-33-26-30 19z" fill="#2381eb"/><path d="M3960 2450l30-20-34-26-30 20z" fill="#2375eb"/><path d="M3673 2435l32-16-32-25-32 15z" fill="#23a0eb"/><path d="M3609 2424l32-15-31-24-33 14z" fill="#23afeb"/><path d="M3737 2444l32-17-33-25-31 17z" fill="#2391eb"/><path d="M3545 2413l32-14-30-23-33 13z" fill="#23bfeb"/><path d="M3801 2453l31-17-32-26-31 17z" fill="#2382eb"/><path d="M3481 2401l33-12-31-23-33 11z" fill="#23cfeb"/><path d="M3865 2462l31-19-33-26-31 19z" fill="#2374eb"/><path d="M3416 2388l34-11-30-22-34 10z" fill="#23e0eb"/><path d="M3929 2470l31-20-34-26-30 19z" fill="#2367eb"/><path d="M3705 2460l32-16-32-25-32 16z" fill="#238aeb"/><path d="M3770 2470l31-17-32-26-32 17z" fill="#2379eb"/><path d="M3641 2450l32-15-32-26-32 15z" fill="#239aeb"/><path d="M3834 2480l31-18-33-26-31 17z" fill="#2369eb"/><path d="M3576 2438l33-14-32-25-32 14z" fill="#23aceb"/><path d="M3899 2489l30-19-33-27-31 19z" fill="#235aeb"/><path d="M3512 2426l33-13-31-24-33 12z" fill="#23bdeb"/><path d="M3447 2413l34-12-31-24-34 11z" fill="#23cfeb"/><path d="M3738 2487l32-17-33-26-32 16z" fill="#2371eb"/><path d="M3803 2497l31-17-33-27-31 17z" fill="#2360eb"/><path d="M3673 2476l32-16-32-25-32 15z" fill="#2384eb"/><path d="M3867 2507l32-18-34-27-31 18z" fill="#234eeb"/><path d="M3608 2464l33-14-32-26-33 14z" fill="#2396eb"/><path d="M3543 2452l33-14-31-25-33 13z" fill="#23aaeb"/><path d="M3478 2438l34-12-31-25-34 12z" fill="#23bdeb"/><path d="M3836 2524l31-17-33-27-31 17z" fill="#2344eb"/><path d="M3771 2514l32-17-33-27-32 17z" fill="#2357eb"/><path d="M3705 2503l33-16-33-27-32 16z" fill="#236beb"/><path d="M3640 2491l33-15-32-26-33 14z" fill="#237feb"/><path d="M3575 2479l33-15-32-26-33 14z" fill="#2394eb"/><path d="M3509 2465l34-13-31-26-34 12z" fill="#23a9eb"/><path d="M3804 2542l32-18-33-27-32 17z" fill="#233beb"/><path d="M3738 2531l33-17-33-27-33 16z" fill="#2350eb"/><path d="M3673 2519l32-16-32-27-33 15z" fill="#2366eb"/><path d="M3607 2506l33-15-32-27-33 15z" fill="#237ceb"/><path d="M3541 2492l34-13-32-27-34 13z" fill="#2392eb"/><path d="M3772 2559l32-17-33-28-33 17z" fill="#2333eb"/><path d="M3706 2547l32-16-33-28-32 16z" fill="#234aeb"/><path d="M3639 2534l34-15-33-28-33 15z" fill="#2362eb"/><path d="M3573 2520l34-14-32-27-34 13z" fill="#237aeb"/><path d="M3739 2575l33-16-34-28-32 16z" fill="#232ceb"/><path d="M3672 2562l34-15-33-28-34 15z" fill="#2345eb"/><path d="M3606 2549l33-15-32-28-34 14z" fill="#235feb"/><path d="M3706 2591l33-16-33-28-34 15z" fill="#2327eb"/><path d="M3639 2578l33-16-33-28-33 15z" fill="#2342eb"/><path d="M3672 2607l34-16-34-29-33 16z" fill="#2323eb"/></g><text x="308.3" y="263.2" font-size="2.90" fill="#333" text-anchor="end" stroke="#333" stroke-width=".12">8</text>
<text x="316.8" y="267.5" font-size="2.90" fill="#333" text-anchor="end" stroke="#333" stroke-width=".12">7</text>
<text x="325.8" y="271.9" font-size="2.90" fill="#333" text-anchor="end" stroke="#333" stroke-width=".12">6</text>
<text x="335.1" y="276.6" font-size="2.90" fill="#333" text-anchor="end" stroke="#333" stroke-width=".12">5</text>
<text x="344.9" y="281.4" font-size="2.90" fill="#333" text-anchor="end" stroke="#333" stroke-width=".12">4</text>
<text x="355.2" y="286.5" font-size="2.90" fill="#333" text-anchor="end" stroke="#333" stroke-width=".12">3</text>
<text x="366.0" y="291.9" font-size="2.90" fill="#333" text-anchor="end" stroke="#333" stroke-width=".12">2</text>
<text x="368.2" y="291.5" font-size="2.90" fill="#333" stroke="#333" stroke-width=".12">30</text>
<text x="384.3" y="283.8" font-size="2.90" fill="#333" stroke="#333" stroke-width=".12">35</text>
<text x="399.3" y="276.6" font-size="2.90" fill="#333" stroke="#333" stroke-width=".12">40</text>
<text x="413.5" y="269.9" font-size="2.90" fill="#333" stroke="#333" stroke-width=".12">45</text>
<text x="426.7" y="263.6" font-size="2.90" fill="#333" stroke="#333" stroke-width=".12">50</text>
<circle cx="309.5" cy="260.6" r=".55" fill="#222"/>
<circle cx="318.0" cy="264.9" r=".55" fill="#222"/>
<circle cx="327.0" cy="269.3" r=".55" fill="#222"/>
<circle cx="336.3" cy="274.0" r=".55" fill="#222"/>
<circle cx="346.1" cy="278.8" r=".55" fill="#222"/>
<circle cx="356.4" cy="283.9" r=".55" fill="#222"/>
<circle cx="367.2" cy="289.3" r=".55" fill="#222"/>
<circle cx="367.2" cy="289.3" r=".55" fill="#222"/>
<circle cx="383.3" cy="281.6" r=".55" fill="#222"/>
<circle cx="398.3" cy="274.4" r=".55" fill="#222"/>
<circle cx="412.5" cy="267.7" r=".55" fill="#222"/>
<circle cx="425.7" cy="261.4" r=".55" fill="#222"/>
<text x="315.0" y="287.0" font-size="3.00" fill="#333" text-anchor="middle" stroke="#333" stroke-width=".12">C: C (min)</text>
<text x="417.0" y="287.0" font-size="3.00" fill="#333" text-anchor="middle" stroke="#333" stroke-width=".12">A: A (mg)</text>
<text x="307.4" y="242.6" font-size="2.90" fill="#333" text-anchor="end" stroke="#333" stroke-width=".12">0.2</text>
<circle cx="308.8" cy="241.6" r=".6" fill="#222"/>
<text x="306.9" y="228.0" font-size="2.90" fill="#333" text-anchor="end" stroke="#333" stroke-width=".12">0.3</text>
<circle cx="308.3" cy="227.0" r=".6" fill="#222"/>
<text x="306.4" y="213.1" font-size="2.90" fill="#333" text-anchor="end" stroke="#333" stroke-width=".12">0.4</text>
<circle cx="307.8" cy="212.1" r=".6" fill="#222"/>
<text x="305.9" y="198.0" font-size="2.90" fill="#333" text-anchor="end" stroke="#333" stroke-width=".12">0.5</text>
<circle cx="307.3" cy="197.0" r=".6" fill="#222"/>
<text x="305.4" y="182.6" font-size="2.90" fill="#333" text-anchor="end" stroke="#333" stroke-width=".12">0.6</text>
<circle cx="306.8" cy="181.6" r=".6" fill="#222"/>
<text x="289.5" y="220.0" font-size="2.9" fill="#555" text-anchor="middle" transform="rotate(-90 289.5 220.0)">PDI</text><line x1="333.8" y1="183.1" x2="333.8" y2="240.0" stroke="#111" stroke-width=".75"/>
<rect x="322.6" y="179.5" width="9.6" height="3.8" fill="#f2f2f2" stroke="#6a6a6a" stroke-width=".45"/>
<text x="327.4" y="182.5" font-size="2.30" fill="#777" text-anchor="middle" textLength="7.6" lengthAdjust="spacingAndGlyphs">0.00000</text>
<ellipse cx="335.6" cy="243.0" rx="1.2" ry="1.5" fill="#fde" stroke="#d07070" stroke-width=".5"/>
<line x1="398.6" y1="240.0" x2="398.6" y2="243.0" stroke="#333" stroke-width=".5"/>
<ellipse cx="398.6" cy="240.0" rx="1.3" ry="1.9" fill="#a00000"/></g>
<text x="219.6" y="152.5" font-size="3.22" fill="#000" font-weight="bold" textLength="4.8" lengthAdjust="spacingAndGlyphs" stroke-width=".14" stroke="#000">PDI</text>
<text x="219.6" y="157.6" font-size="3.22" fill="#666" textLength="19.5" lengthAdjust="spacingAndGlyphs" stroke-width=".14" stroke="#666">Design Points</text>
<ellipse cx="222.40" cy="161.49" rx="1.90" ry="1.91" fill="#a00000"/>
<text x="226.8" y="162.6" font-size="3.22" fill="#c02020" textLength="21.0" lengthAdjust="spacingAndGlyphs" stroke-width=".14" stroke="#c02020">Above Surface</text>
<ellipse cx="222.40" cy="166.52" rx="1.50" ry="1.51" fill="#fff" stroke="#d06060" stroke-width=".7"/>
<text x="226.8" y="167.6" font-size="3.22" fill="#c02020" textLength="20.5" lengthAdjust="spacingAndGlyphs" stroke-width=".14" stroke="#c02020">Below Surface</text>
<text x="219.6" y="172.7" font-size="3.22" fill="#3030ff" textLength="7.2" lengthAdjust="spacingAndGlyphs" stroke-width=".14" stroke="#3030ff">0.248</text>
<defs><linearGradient id="gre"><stop offset="0" stop-color="#0010c0"/><stop offset=".3" stop-color="#00c020"/><stop offset=".55" stop-color="#00f000"/><stop offset=".72" stop-color="#20a000"/><stop offset=".85" stop-color="#d02000"/><stop offset="1" stop-color="#c01000"/></linearGradient></defs>
<rect x="228.20" y="169.33" width="11.50" height="4.43" rx="0.60" fill="url(#gre)"/>
<text x="241.1" y="172.7" font-size="3.22" fill="#ff3030" textLength="7.4" lengthAdjust="spacingAndGlyphs" stroke-width=".14" stroke="#ff3030">0.495</text>
<text x="219.6" y="183.2" font-size="3.22" fill="#222" textLength="9.8" lengthAdjust="spacingAndGlyphs" stroke-width=".14" stroke="#222">X1 = A</text>
<text x="219.6" y="188.2" font-size="3.22" fill="#222" textLength="9.8" lengthAdjust="spacingAndGlyphs" stroke-width=".14" stroke="#222">X2 = C</text>
<text x="219.6" y="198.3" font-size="3.22" fill="#000" font-weight="bold" textLength="19.5" lengthAdjust="spacingAndGlyphs" stroke-width=".14" stroke="#000">Actual Factor</text>
<text x="219.6" y="203.3" font-size="3.22" fill="#222" textLength="15.5" lengthAdjust="spacingAndGlyphs" stroke-width=".14" stroke="#222">B = 21000</text>
<g transform="translate(254.50 207.46) scale(0.620)" stroke="#1a1a1a" stroke-width="2.1" fill="none"><path d="M4 1.2H1.2V8.8H8.8V6"/><path d="M3.8 6.2L7.6 2.4"/><path d="M5.2 0.6H9.4V4.8Z" fill="#1a1a1a" stroke-width=".6"/></g>
<g><g stroke="#747474" stroke-width=".65" fill="none"><line x1="543.4" y1="259.2" x2="540.7" y2="181.9"/><line x1="557.1" y1="254.5" x2="555.1" y2="178.9"/><line x1="570.1" y1="250.0" x2="568.7" y2="175.9"/><line x1="582.5" y1="245.7" x2="581.8" y2="173.1"/><line x1="594.4" y1="241.5" x2="594.2" y2="170.5"/><line x1="605.9" y1="237.6" x2="606.1" y2="167.9"/><line x1="669.3" y1="259.4" x2="672.7" y2="181.7"/><line x1="657.7" y1="255.4" x2="660.4" y2="179.1"/><line x1="646.5" y1="251.6" x2="648.7" y2="176.7"/><line x1="635.7" y1="247.9" x2="637.4" y2="174.4"/><line x1="625.4" y1="244.3" x2="626.6" y2="172.1"/><line x1="615.4" y1="240.9" x2="616.1" y2="170.0"/><line x1="605.9" y1="237.6" x2="606.1" y2="167.9"/><line x1="542.8" y1="240.5" x2="605.9" y2="220.7"/><line x1="605.9" y1="220.7" x2="670.1" y2="240.7"/><line x1="542.3" y1="226.3" x2="606.0" y2="207.8"/><line x1="606.0" y1="207.8" x2="670.8" y2="226.3"/><line x1="541.8" y1="211.8" x2="606.0" y2="194.7"/><line x1="606.0" y1="194.7" x2="671.4" y2="211.7"/><line x1="541.2" y1="197.0" x2="606.1" y2="181.4"/><line x1="606.1" y1="181.4" x2="672.1" y2="196.8"/><line x1="540.7" y1="181.9" x2="606.1" y2="167.9"/><line x1="606.1" y1="167.9" x2="672.7" y2="181.7"/></g>
<polyline points="543.4,259.2 540.7,181.9 606.1,167.9 672.7,181.7 669.3,259.4" stroke="#555" stroke-width=".7" fill="none"/>
<line x1="605.9" y1="237.6" x2="606.1" y2="167.9" stroke="#555" stroke-width=".7"/>
<polygon points="543.4,259.2 606.6,287.0 669.3,259.4 605.9,237.6" fill="#646464"/>
<polyline points="543.4,259.2 606.6,287.0 669.3,259.4" stroke="#2a2a2a" stroke-width=".8" fill="none"/>
<polyline points="659.0,264.0 659.4,263.4 659.6,263.1 659.9,262.6 660.2,262.1 660.4,261.8 660.7,261.3 661.0,260.9 661.2,260.6 661.5,260.0 661.7,259.7 661.9,259.4 662.3,258.8 662.5,258.5 662.8,258.1 663.1,257.6 663.3,257.4 663.3,257.4" stroke="#0606cc" stroke-width="1.25" stroke-linejoin="round" fill="none"/>
<polyline points="612.2,284.5 612.5,284.0 612.7,283.5 612.9,283.1 613.2,282.5 613.5,281.9 613.7,281.5 613.9,281.1 614.2,280.6 614.5,279.9 614.7,279.5 614.9,279.1 615.1,278.7 615.4,278.0 615.7,277.5 615.9,277.1 616.0,276.7 616.3,276.2 616.6,275.6 616.8,275.2 617.0,274.8 617.1,274.4 617.4,273.8 617.7,273.2 617.8,272.9 618.0,272.5 618.2,272.0 618.5,271.4 618.7,271.0 618.9,270.6 619.0,270.2 619.3,269.7 619.5,269.1 619.7,268.8 619.9,268.4 620.1,268.0 620.3,267.4 620.5,266.9 620.7,266.6 620.8,266.2 621.0,265.8 621.3,265.2 621.4,264.8 621.6,264.4 621.7,264.1 621.9,263.6 622.2,263.1 622.3,262.7 622.5,262.3 622.6,262.0 622.8,261.5 623.0,261.0 623.2,260.6 623.3,260.3 623.5,259.9 623.6,259.5 623.8,259.0 624.0,258.6 624.1,258.2 624.3,257.9 624.4,257.5 624.6,257.0 624.8,256.5 624.9,256.2 625.0,255.9 625.2,255.5 625.3,255.1 625.5,254.6 625.6,254.2 625.7,253.9 625.9,253.6 626.0,253.2 626.1,252.8 626.3,252.3 626.4,252.0 626.5,251.6 626.6,251.3 626.8,250.9 626.9,250.5 627.0,250.1 627.1,249.7 627.2,249.4 627.3,249.1 627.4,248.8 627.6,248.3 627.7,247.9 627.8,247.5 627.9,247.2 628.0,246.9 628.1,246.6 628.2,246.2 628.3,245.8 628.4,245.4 628.4,245.3" stroke="#06ccc8" stroke-width="1.25" stroke-linejoin="round" fill="none"/>
<polyline points="590.0,279.7 590.2,279.3 590.3,278.8 590.5,278.3 590.8,277.7 591.0,277.2 591.2,276.7 591.3,276.3 591.5,275.9 591.6,275.5 591.8,275.0 592.0,274.4 592.2,273.9 592.4,273.4 592.5,273.0 592.7,272.6 592.8,272.2 593.0,271.8 593.1,271.3 593.3,270.7 593.5,270.2 593.7,269.7 593.8,269.3 593.9,268.9 594.0,268.5 594.2,268.1 594.3,267.7 594.5,267.2 594.6,266.7 594.8,266.2 594.9,265.8 595.0,265.4 595.1,265.0 595.2,264.6 595.3,264.2 595.5,263.8 595.6,263.4 595.7,262.9 595.8,262.5 595.9,262.0 596.0,261.6 596.2,261.1 596.2,260.7 596.3,260.4 596.4,260.0 596.5,259.6 596.6,259.2 596.7,258.8 596.7,258.5 596.8,258.1 596.9,257.6 597.0,257.2 597.1,256.8 597.1,256.4 597.2,255.9 597.3,255.5 597.3,255.1 597.4,254.7 597.5,254.4 597.5,254.0 597.6,253.6 597.6,253.3 597.6,252.9 597.7,252.5 597.7,252.1 597.8,251.8 597.8,251.4 597.8,251.0 597.8,250.7 597.9,250.3 597.9,249.9 597.9,249.6 597.9,249.2 597.9,248.9 597.9,248.5 597.9,248.1 597.9,247.8 597.9,247.4 597.9,247.0 597.9,246.7 597.9,246.3 597.9,245.9 597.9,245.6 597.8,245.2 597.8,244.8 597.8,244.5 597.7,244.1 597.7,243.8 597.7,243.4 597.6,243.1 597.6,242.8 597.5,242.5 597.5,242.2 597.4,241.8 597.4,241.5 597.3,241.2 597.2,240.8 597.1,240.6" stroke="#0bcc06" stroke-width="1.25" stroke-linejoin="round" fill="none"/>
<polyline points="573.8,272.6 573.9,272.1 574.0,271.7 574.2,271.3 574.3,270.8 574.4,270.3 574.5,269.8 574.6,269.4 574.7,268.9 574.8,268.4 575.0,268.0 575.1,267.5 575.1,267.1 575.2,266.6 575.3,266.2 575.4,265.7 575.5,265.3 575.6,264.9 575.7,264.4 575.7,264.0 575.8,263.6 575.9,263.2 575.9,262.8 576.0,262.4 576.0,261.9 576.1,261.5 576.1,261.1 576.2,260.7 576.2,260.3 576.3,259.9 576.3,259.5 576.3,259.0 576.4,258.6 576.4,258.3 576.4,257.9 576.5,257.5 576.5,257.1 576.5,256.7 576.5,256.3 576.5,256.0 576.5,255.6 576.5,255.2 576.5,254.8 576.5,254.5 576.5,254.1 576.5,253.7 576.5,253.3 576.4,252.9 576.4,252.5 576.4,252.1 576.3,251.6 576.3,251.3 576.3,251.0 576.2,250.6 576.2,250.3 576.1,249.9 576.1,249.6 576.0,249.2 576.0,248.8 575.9,248.4 575.8,248.0 575.8,248.0" stroke="#a1cc06" stroke-width="1.25" stroke-linejoin="round" fill="none"/>
<polyline points="560.2,266.6 560.3,266.1 560.3,265.7 560.4,265.3 560.4,264.9 560.4,264.5 560.5,264.1 560.5,263.7 560.5,263.3 560.6,262.9 560.6,262.5 560.6,262.1 560.6,261.7 560.6,261.2 560.7,260.8 560.7,260.3 560.7,259.9 560.7,259.4 560.6,259.0 560.6,258.7 560.6,258.3 560.6,257.9 560.6,257.6 560.6,257.2 560.5,256.8 560.5,256.3 560.5,255.9 560.4,255.4 560.4,255.1 560.3,254.8 560.3,254.4 560.2,254.1 560.2,253.6 560.1,253.4" stroke="#cc8306" stroke-width="1.25" stroke-linejoin="round" fill="none"/>
<g transform="scale(.1)" stroke="#000" stroke-opacity=".26" stroke-width="5.5" stroke-linejoin="round"><path d="M6060 2049l29-2-29-13-29 2z" fill="#07eb41"/><path d="M6090 2063l28-2-29-14-29 2z" fill="#07eb54"/><path d="M6031 2051l29-2-29-13-29 1z" fill="#07eb2c"/><path d="M6119 2078l29-3-30-14-28 2z" fill="#07eb68"/><path d="M6061 2065l29-2-30-14-29 2z" fill="#07eb3f"/><path d="M6002 2052l29-1-29-14-29 1z" fill="#07eb17"/><path d="M6149 2092l29-3-30-14-29 3z" fill="#07eb7c"/><path d="M6090 2080l29-2-29-15-29 2z" fill="#07eb53"/><path d="M6031 2067l30-2-30-14-29 1z" fill="#07eb2a"/><path d="M5972 2053l30-1-29-14-30 0z" fill="#0eeb07"/><path d="M6179 2107l29-3-30-15-29 3z" fill="#07eb92"/><path d="M6120 2095l29-3-30-14-29 2z" fill="#07eb68"/><path d="M6061 2082l29-2-29-15-30 2z" fill="#07eb3e"/><path d="M6002 2068l29-1-29-15-30 1z" fill="#07eb14"/><path d="M5942 2053l30 0-29-15-30 0z" fill="#24eb07"/><path d="M6210 2122l28-3-30-15-29 3z" fill="#07eba8"/><path d="M6150 2110l29-3-30-15-29 3z" fill="#07eb7e"/><path d="M6091 2097l29-2-30-15-29 2z" fill="#07eb53"/><path d="M6031 2084l30-2-30-15-29 1z" fill="#07eb28"/><path d="M5972 2069l30-1-30-15-30 0z" fill="#11eb07"/><path d="M5912 2053l30 0-29-15-30 0z" fill="#3beb07"/><path d="M6241 2138l28-4-31-15-28 3z" fill="#07ebc0"/><path d="M6181 2126l29-4-31-15-29 3z" fill="#07eb95"/><path d="M6121 2113l29-3-30-15-29 2z" fill="#07eb69"/><path d="M6061 2099l30-2-30-15-30 2z" fill="#07eb3e"/><path d="M6001 2085l30-1-29-16-30 1z" fill="#07eb12"/><path d="M5941 2069l31 0-30-16-30 0z" fill="#27eb07"/><path d="M5881 2053l31 0-29-15-31-1z" fill="#53eb07"/><path d="M6272 2153l29-4-32-15-28 4z" fill="#07ebd8"/><path d="M6212 2141l29-3-31-16-29 4z" fill="#07ebac"/><path d="M6152 2129l29-3-31-16-29 3z" fill="#07eb80"/><path d="M6092 2115l29-2-30-16-30 2z" fill="#07eb54"/><path d="M6031 2101l30-2-30-15-30 1z" fill="#07eb28"/><path d="M5971 2086l30-1-29-16-31 0z" fill="#13eb07"/><path d="M5910 2069l31 0-29-16-31 0z" fill="#3feb07"/><path d="M5850 2052l31 1-29-16-31-2z" fill="#6beb07"/><path d="M6304 2169l28-4-31-16-29 4z" fill="#07e3eb"/><path d="M6243 2157l29-4-31-15-29 3z" fill="#07ebc5"/><path d="M6183 2145l29-4-31-15-29 3z" fill="#07eb98"/><path d="M6122 2132l30-3-31-16-29 2z" fill="#07eb6b"/><path d="M6062 2117l30-2-31-16-30 2z" fill="#07eb3e"/><path d="M6001 2102l30-1-30-16-30 1z" fill="#07eb11"/><path d="M5940 2086l31 0-30-17-31 0z" fill="#2aeb07"/><path d="M5879 2069l31 0-29-16-31-1z" fill="#57eb07"/><path d="M5818 2050l32 2-29-17-32-2z" fill="#84eb07"/><path d="M6336 2185l28-5-32-15-28 4z" fill="#07c9eb"/><path d="M6275 2174l29-5-32-16-29 4z" fill="#07ebdf"/><path d="M6214 2161l29-4-31-16-29 4z" fill="#07ebb1"/><path d="M6153 2148l30-3-31-16-30 3z" fill="#07eb83"/><path d="M6092 2134l30-2-30-17-30 2z" fill="#07eb56"/><path d="M6031 2119l31-2-31-16-30 1z" fill="#07eb28"/><path d="M5970 2103l31-1-30-16-31 0z" fill="#14eb07"/><path d="M5909 2086l31 0-30-17-31 0z" fill="#42eb07"/><path d="M5848 2067l31 2-29-17-32-2z" fill="#6feb07"/><path d="M5786 2048l32 2-29-17-32-3z" fill="#9deb07"/><path d="M6368 2201l28-5-32-16-28 5z" fill="#07aeeb"/><path d="M6307 2190l29-5-32-16-29 5z" fill="#07dceb"/><path d="M6246 2178l29-4-32-17-29 4z" fill="#07ebcb"/><path d="M6184 2165l30-4-31-16-30 3z" fill="#07eb9d"/><path d="M6123 2151l30-3-31-16-30 2z" fill="#07eb6e"/><path d="M6062 2136l30-2-30-17-31 2z" fill="#07eb40"/><path d="M6001 2120l30-1-30-17-31 1z" fill="#07eb11"/><path d="M5939 2103l31 0-30-17-31 0z" fill="#2beb07"/><path d="M5878 2085l31 1-30-17-31-2z" fill="#5aeb07"/><path d="M5816 2066l32 1-30-17-32-2z" fill="#88eb07"/><path d="M6401 2218l28-6-33-16-28 5z" fill="#0791eb"/><path d="M6339 2206l29-5-32-16-29 5z" fill="#07c0eb"/><path d="M5754 2044l32 4-29-18-32-4z" fill="#b7eb07"/><path d="M6278 2194l29-4-32-16-29 4z" fill="#07ebe6"/><path d="M6216 2182l30-4-32-17-30 4z" fill="#07ebb7"/><path d="M6155 2168l29-3-31-17-30 3z" fill="#07eb88"/><path d="M6093 2153l30-2-31-17-30 2z" fill="#07eb59"/><path d="M6031 2138l31-2-31-17-30 1z" fill="#07eb29"/><path d="M5969 2121l32-1-31-17-31 0z" fill="#14eb07"/><path d="M5908 2103l31 0-30-17-31-1z" fill="#43eb07"/><path d="M5846 2084l32 1-30-18-32-1z" fill="#73eb07"/><path d="M6434 2234l28-6-33-16-28 6z" fill="#0774eb"/><path d="M6372 2223l29-5-33-17-29 5z" fill="#07a4eb"/><path d="M5783 2063l33 3-30-18-32-4z" fill="#a2eb07"/><path d="M6310 2211l29-5-32-16-29 4z" fill="#07d3eb"/><path d="M6248 2199l30-5-32-16-30 4z" fill="#07ebd2"/><path d="M5721 2040l33 4-29-18-33-5z" fill="#d1eb07"/><path d="M6186 2185l30-3-32-17-29 3z" fill="#07eba2"/><path d="M6124 2171l31-3-32-17-30 2z" fill="#07eb72"/><path d="M6062 2156l31-3-31-17-31 2z" fill="#07eb42"/><path d="M6000 2139l31-1-30-18-32 1z" fill="#07eb12"/><path d="M5938 2122l31-1-30-18-31 0z" fill="#2ceb07"/><path d="M5876 2103l32 0-30-18-32-1z" fill="#5ceb07"/><path d="M6467 2251l28-6-33-17-28 6z" fill="#0756eb"/><path d="M5813 2082l33 2-30-18-33-3z" fill="#8ceb07"/><path d="M6405 2240l29-6-33-16-29 5z" fill="#0786eb"/><path d="M6343 2228l29-5-33-17-29 5z" fill="#07b7eb"/><path d="M6281 2216l29-5-32-17-30 5z" fill="#07e7eb"/><path d="M5751 2060l32 3-29-19-33-4z" fill="#bceb07"/><path d="M6218 2203l30-4-32-17-30 3z" fill="#07ebbd"/><path d="M6156 2189l30-4-31-17-31 3z" fill="#07eb8d"/><path d="M5688 2035l33 5-29-19-33-5z" fill="#ebe907"/><path d="M6094 2174l30-3-31-18-31 3z" fill="#07eb5c"/><path d="M6031 2157l31-1-31-18-31 1z" fill="#07eb2b"/><path d="M5969 2140l31-1-31-18-31 1z" fill="#13eb07"/><path d="M5906 2121l32 1-30-19-32 0z" fill="#44eb07"/><path d="M6501 2268l28-7-34-16-28 6z" fill="#0736eb"/><path d="M5843 2101l33 2-30-19-33-2z" fill="#75eb07"/><path d="M6438 2257l29-6-33-17-29 6z" fill="#0768eb"/><path d="M6376 2246l29-6-33-17-29 5z" fill="#0799eb"/><path d="M5780 2079l33 3-30-19-32-3z" fill="#a6eb07"/><path d="M6313 2233l30-5-33-17-29 5z" fill="#07caeb"/><path d="M6251 2220l30-4-33-17-30 4z" fill="#07ebda"/><path d="M6188 2207l30-4-32-18-30 4z" fill="#07eba8"/><path d="M5717 2056l34 4-30-20-33-5z" fill="#d7eb07"/><path d="M6125 2192l31-3-32-18-30 3z" fill="#07eb77"/><path d="M6063 2176l31-2-32-18-31 1z" fill="#07eb46"/><path d="M5654 2030l34 5-29-19-34-7z" fill="#ebce07"/><path d="M6000 2159l31-2-31-18-31 1z" fill="#07eb14"/><path d="M5937 2141l32-1-31-18-32-1z" fill="#2beb07"/><path d="M5874 2121l32 0-30-18-33-2z" fill="#5deb07"/><path d="M6535 2285l28-7-34-17-28 7z" fill="#0716eb"/><path d="M6472 2274l29-6-34-17-29 6z" fill="#0748eb"/><path d="M6409 2263l29-6-33-17-29 6z" fill="#077aeb"/><path d="M5811 2099l32 2-30-19-33-3z" fill="#8feb07"/><path d="M6346 2251l30-5-33-18-30 5z" fill="#07aceb"/><path d="M6283 2238l30-5-32-17-30 4z" fill="#07deeb"/><path d="M5747 2076l33 3-29-19-34-4z" fill="#c0eb07"/><path d="M6221 2225l30-5-33-17-30 4z" fill="#07ebc5"/><path d="M6157 2210l31-3-32-18-31 3z" fill="#07eb93"/><path d="M5684 2050l33 6-29-21-34-5z" fill="#ebe307"/><path d="M6094 2195l31-3-31-18-31 2z" fill="#07eb61"/><path d="M6031 2178l32-2-32-19-31 2z" fill="#07eb2e"/><path d="M5620 2022l34 8-29-21-34-8z" fill="#ebb207"/><path d="M5968 2160l32-1-31-19-32 1z" fill="#12eb07"/><path d="M5905 2140l32 1-31-20-32 0z" fill="#44eb07"/><path d="M6570 2302l28-7-35-17-28 7z" fill="#0707eb"/><path d="M6506 2292l29-7-34-17-29 6z" fill="#0728eb"/><path d="M5841 2119l33 2-31-20-32-2z" fill="#76eb07"/><path d="M6443 2281l29-7-34-17-29 6z" fill="#075aeb"/><path d="M6380 2269l29-6-33-17-30 5z" fill="#078deb"/><path d="M6317 2256l29-5-33-18-30 5z" fill="#07c0eb"/><path d="M5777 2096l34 3-31-20-33-3z" fill="#a9eb07"/><path d="M6253 2243l30-5-32-18-30 5z" fill="#07ebe2"/><path d="M6190 2229l31-4-33-18-31 3z" fill="#07ebb0"/><path d="M5714 2072l33 4-30-20-33-6z" fill="#dbeb07"/><path d="M6126 2213l31-3-32-18-31 3z" fill="#07eb7d"/><path d="M6063 2197l31-2-31-19-32 2z" fill="#07eb4a"/><path d="M5650 2044l34 6-30-20-34-8z" fill="#ebc807"/><path d="M5999 2179l32-1-31-19-32 1z" fill="#07eb17"/><path d="M5936 2160l32 0-31-19-32-1z" fill="#2aeb07"/><path d="M5585 2014l35 8-29-21-35-9z" fill="#eb9507"/><path d="M6605 2319l28-7-35-17-28 7z" fill="#0707eb"/><path d="M6541 2309l29-7-35-17-29 7z" fill="#0707eb"/><path d="M5872 2140l33 0-31-19-33-2z" fill="#5deb07"/><path d="M6478 2298l28-6-34-18-29 7z" fill="#073aeb"/><path d="M6414 2287l29-6-34-18-29 6z" fill="#076deb"/><path d="M5808 2117l33 2-30-20-34-3z" fill="#90eb07"/><path d="M6350 2274l30-5-34-18-29 5z" fill="#07a1eb"/><path d="M6287 2261l30-5-34-18-30 5z" fill="#07d4eb"/><path d="M6223 2247l30-4-32-18-31 4z" fill="#07ebcd"/><path d="M5744 2093l33 3-30-20-33-4z" fill="#c3eb07"/><path d="M6159 2232l31-3-33-19-31 3z" fill="#07eb9a"/><path d="M6095 2216l31-3-32-18-31 2z" fill="#07eb66"/><path d="M5679 2066l35 6-30-22-34-6z" fill="#ebdf07"/><path d="M6031 2199l32-2-32-19-32 1z" fill="#07eb32"/><path d="M5967 2180l32-1-31-19-32 0z" fill="#0feb07"/><path d="M5615 2037l35 7-30-22-35-8z" fill="#ebab07"/><path d="M6640 2337l28-8-35-17-28 7z" fill="#0707eb"/><path d="M5903 2160l33 0-31-20-33 0z" fill="#43eb07"/><path d="M6576 2327l29-8-35-17-29 7z" fill="#0707eb"/><path d="M6512 2316l29-7-35-17-28 6z" fill="#0718eb"/><path d="M5550 2004l35 10-29-22-35-11z" fill="#eb7807"/><path d="M6448 2305l30-7-35-17-29 6z" fill="#074ceb"/><path d="M5839 2138l33 2-31-21-33-2z" fill="#77eb07"/><path d="M6384 2293l30-6-34-18-30 5z" fill="#0781eb"/><path d="M6320 2280l30-6-33-18-30 5z" fill="#07b5eb"/><path d="M5774 2114l34 3-31-21-33-3z" fill="#abeb07"/><path d="M6256 2266l31-5-34-18-30 4z" fill="#07e9eb"/><path d="M6192 2251l31-4-33-18-31 3z" fill="#07ebb8"/><path d="M5710 2088l34 5-30-21-35-6z" fill="#dfeb07"/><path d="M6128 2236l31-4-33-19-31 3z" fill="#07eb83"/><path d="M6063 2219l32-3-32-19-32 2z" fill="#07eb4f"/><path d="M5645 2060l34 6-29-22-35-7z" fill="#ebc307"/><path d="M5999 2201l32-2-32-20-32 1z" fill="#07eb1b"/><path d="M5934 2181l33-1-31-20-33 0z" fill="#28eb07"/><path d="M6676 2354l28-8-36-17-28 8z" fill="#0707eb"/><path d="M6612 2344l28-7-35-18-29 8z" fill="#0707eb"/><path d="M5580 2028l35 9-30-23-35-10z" fill="#eb8f07"/><path d="M6547 2334l29-7-35-18-29 7z" fill="#0707eb"/><path d="M5870 2160l33 0-31-20-33-2z" fill="#5deb07"/><path d="M6483 2323l29-7-34-18-30 7z" fill="#072beb"/><path d="M6419 2311l29-6-34-18-30 6z" fill="#075feb"/><path d="M6354 2298l30-5-34-19-30 6z" fill="#0794eb"/><path d="M5805 2136l34 2-31-21-34-3z" fill="#91eb07"/><path d="M5514 1993l36 11-29-23-36-13z" fill="#eb5b07"/><path d="M6290 2285l30-5-33-19-31 5z" fill="#07c9eb"/><path d="M6225 2271l31-5-33-19-31 4z" fill="#07ebd7"/><path d="M5740 2111l34 3-30-21-34-5z" fill="#c6eb07"/><path d="M6161 2255l31-4-33-19-31 4z" fill="#07eba2"/><path d="M6096 2239l32-3-33-20-32 3z" fill="#07eb6c"/><path d="M5675 2083l35 5-31-22-34-6z" fill="#ebdb07"/><path d="M6031 2221l32-2-32-20-32 2z" fill="#07eb37"/><path d="M5966 2202l33-1-32-21-33 1z" fill="#0ceb07"/><path d="M5610 2052l35 8-30-23-35-9z" fill="#eba607"/><path d="M6648 2362l28-8-36-17-28 7z" fill="#0707eb"/><path d="M6583 2352l29-8-36-17-29 7z" fill="#0707eb"/><path d="M5901 2181l33 0-31-21-33 0z" fill="#41eb07"/><path d="M6518 2341l29-7-35-18-29 7z" fill="#0708eb"/><path d="M6453 2330l30-7-35-18-29 6z" fill="#073deb"/><path d="M5836 2158l34 2-31-22-34-2z" fill="#77eb07"/><path d="M5544 2018l36 10-30-24-36-11z" fill="#eb7107"/><path d="M6389 2317l30-6-35-18-30 5z" fill="#0773eb"/><path d="M6324 2304l30-6-34-18-30 5z" fill="#07a9eb"/><path d="M6259 2290l31-5-34-19-31 5z" fill="#07dfeb"/><path d="M5771 2133l34 3-31-22-34-3z" fill="#aceb07"/><path d="M6194 2275l31-4-33-20-31 4z" fill="#07ebc1"/><path d="M5478 1980l36 13-29-25-37-14z" fill="#eb3d07"/><path d="M6129 2259l32-4-33-19-32 3z" fill="#07eb8b"/><path d="M5705 2106l35 5-30-23-35-5z" fill="#e1eb07"/><path d="M6064 2242l32-3-33-20-32 2z" fill="#07eb55"/><path d="M5998 2223l33-2-32-20-33 1z" fill="#07eb1f"/><path d="M5640 2076l35 7-30-23-35-8z" fill="#ebbf07"/><path d="M5933 2202l33 0-32-21-33 0z" fill="#25eb07"/><path d="M6619 2370l29-8-36-18-29 8z" fill="#0707eb"/><path d="M6554 2360l29-8-36-18-29 7z" fill="#0707eb"/><path d="M5574 2043l36 9-30-24-36-10z" fill="#eb8907"/><path d="M6489 2348l29-7-35-18-30 7z" fill="#071aeb"/><path d="M5868 2180l33 1-31-21-34-2z" fill="#5beb07"/><path d="M6423 2336l30-6-34-19-30 6z" fill="#0751eb"/><path d="M6358 2323l31-6-35-19-30 6z" fill="#0787eb"/><path d="M5802 2156l34 2-31-22-34-3z" fill="#91eb07"/><path d="M6293 2310l31-6-34-19-31 5z" fill="#07beeb"/><path d="M5507 2006l37 12-30-25-36-13z" fill="#eb5407"/><path d="M6227 2295l32-5-34-19-31 4z" fill="#07ebe1"/><path d="M5736 2130l35 3-31-22-35-5z" fill="#c7eb07"/><path d="M6162 2279l32-4-33-20-32 4z" fill="#07ebaa"/><path d="M6097 2262l32-3-33-20-32 3z" fill="#07eb74"/><path d="M5670 2100l35 6-30-23-35-7z" fill="#ebd807"/><path d="M5441 1965l37 15-30-26-37-17z" fill="#eb1e07"/><path d="M6031 2244l33-2-33-21-33 2z" fill="#07eb3d"/><path d="M5965 2224l33-1-32-21-33 0z" fill="#08eb07"/><path d="M5604 2068l36 8-30-24-36-9z" fill="#eba207"/><path d="M6590 2378l29-8-36-18-29 8z" fill="#0707eb"/><path d="M5900 2202l33 0-32-21-33-1z" fill="#3eeb07"/><path d="M6524 2367l30-7-36-19-29 7z" fill="#0707eb"/><path d="M6459 2355l30-7-36-18-30 6z" fill="#072eeb"/><path d="M6393 2343l30-7-34-19-31 6z" fill="#0765eb"/><path d="M5834 2179l34 1-32-22-34-2z" fill="#75eb07"/><path d="M5538 2032l36 11-30-25-37-12z" fill="#eb6c07"/><path d="M6327 2329l31-6-34-19-31 6z" fill="#079ceb"/><path d="M6262 2315l31-5-34-20-32 5z" fill="#07d3eb"/><path d="M5768 2153l34 3-31-23-35-3z" fill="#aceb07"/><path d="M6196 2300l31-5-33-20-32 4z" fill="#07ebcb"/><path d="M6130 2283l32-4-33-20-32 3z" fill="#07eb93"/><path d="M5471 1992l36 14-29-26-37-15z" fill="#eb3507"/><path d="M5701 2125l35 5-31-24-35-6z" fill="#e3eb07"/><path d="M6064 2265l33-3-33-20-33 2z" fill="#07eb5c"/><path d="M5998 2246l33-2-33-21-33 1z" fill="#07eb25"/><path d="M5635 2094l35 6-30-24-36-8z" fill="#ebbb07"/><path d="M5932 2225l33-1-32-22-33 0z" fill="#21eb07"/><path d="M6560 2386l30-8-36-18-30 7z" fill="#0707eb"/><path d="M6494 2375l30-8-35-19-30 7z" fill="#0709eb"/><path d="M5866 2202l34 0-32-22-34-1z" fill="#59eb07"/><path d="M5568 2059l36 9-30-25-36-11z" fill="#eb8407"/><path d="M6428 2362l31-7-36-19-30 7z" fill="#0741eb"/><path d="M6362 2349l31-6-35-20-31 6z" fill="#0779eb"/><path d="M6296 2335l31-6-34-19-31 5z" fill="#07b1eb"/><path d="M5799 2177l35 2-32-23-34-3z" fill="#90eb07"/><path d="M6230 2320l32-5-35-20-31 5z" fill="#07e9eb"/><path d="M5501 2020l37 12-31-26-36-14z" fill="#eb4d07"/><path d="M6164 2304l32-4-34-21-32 4z" fill="#07ebb4"/><path d="M5733 2149l35 4-32-23-35-5z" fill="#c8eb07"/><path d="M6097 2286l33-3-33-21-33 3z" fill="#07eb7c"/><path d="M6031 2268l33-3-33-21-33 2z" fill="#07eb44"/><path d="M5666 2119l35 6-31-25-35-6z" fill="#ebd607"/><path d="M5965 2247l33-1-33-22-33 1z" fill="#07eb0b"/><path d="M5599 2085l36 9-31-26-36-9z" fill="#eb9e07"/><path d="M5898 2225l34 0-32-23-34 0z" fill="#3beb07"/><path d="M6530 2394l30-8-36-19-30 8z" fill="#0707eb"/><path d="M6464 2382l30-7-35-20-31 7z" fill="#071deb"/><path d="M6397 2369l31-7-35-19-31 6z" fill="#0755eb"/><path d="M5831 2201l35 1-32-23-35-2z" fill="#73eb07"/><path d="M6331 2355l31-6-35-20-31 6z" fill="#078eeb"/><path d="M5531 2048l37 11-30-27-37-12z" fill="#eb6707"/><path d="M6264 2341l32-6-34-20-32 5z" fill="#07c7eb"/><path d="M5764 2174l35 3-31-24-35-4z" fill="#abeb07"/><path d="M6198 2325l32-5-34-20-32 4z" fill="#07ebd6"/><path d="M6131 2308l33-4-34-21-33 3z" fill="#07eb9d"/><path d="M5697 2144l36 5-32-24-35-6z" fill="#e4eb07"/><path d="M6064 2289l33-3-33-21-33 3z" fill="#07eb64"/><path d="M5998 2270l33-2-33-22-33 1z" fill="#07eb2b"/><path d="M5630 2112l36 7-31-25-36-9z" fill="#ebb907"/><path d="M5931 2248l34-1-33-22-34 0z" fill="#1ceb07"/><path d="M6500 2402l30-8-36-19-30 7z" fill="#0707eb"/><path d="M5863 2224l35 1-32-23-35-1z" fill="#55eb07"/><path d="M6433 2389l31-7-36-20-31 7z" fill="#0731eb"/><path d="M5562 2076l37 9-31-26-37-11z" fill="#eb8107"/><path d="M6366 2376l31-7-35-20-31 6z" fill="#076aeb"/><path d="M6299 2361l32-6-35-20-32 6z" fill="#07a4eb"/><path d="M5796 2198l35 3-32-24-35-3z" fill="#8eeb07"/><path d="M6232 2346l32-5-34-21-32 5z" fill="#07ddeb"/><path d="M6165 2329l33-4-34-21-33 4z" fill="#07ebbe"/><path d="M5729 2170l35 4-31-25-36-5z" fill="#c7eb07"/><path d="M6098 2311l33-3-34-22-33 3z" fill="#07eb85"/><path d="M6031 2292l33-3-33-21-33 2z" fill="#07eb4b"/><path d="M5661 2138l36 6-31-25-36-7z" fill="#ebd507"/><path d="M5964 2271l34-1-33-23-34 1z" fill="#07eb12"/><path d="M5896 2248l35 0-33-23-35-1z" fill="#36eb07"/><path d="M5593 2103l37 9-31-27-37-9z" fill="#eb9c07"/><path d="M6469 2409l31-7-36-20-31 7z" fill="#070beb"/><path d="M6402 2396l31-7-36-20-31 7z" fill="#0745eb"/><path d="M5829 2223l34 1-32-23-35-3z" fill="#70eb07"/><path d="M6335 2382l31-6-35-21-32 6z" fill="#077feb"/><path d="M6267 2367l32-6-35-20-32 5z" fill="#07baeb"/><path d="M6200 2351l32-5-34-21-33 4z" fill="#07ebe1"/><path d="M5761 2196l35 2-32-24-35-4z" fill="#aaeb07"/><path d="M6132 2334l33-5-34-21-33 3z" fill="#07eba7"/><path d="M5693 2165l36 5-32-26-36-6z" fill="#e4eb07"/><path d="M6065 2315l33-4-34-22-33 3z" fill="#07eb6d"/><path d="M5997 2294l34-2-33-22-34 1z" fill="#07eb32"/><path d="M5624 2131l37 7-31-26-37-9z" fill="#ebb807"/><path d="M5929 2272l35-1-33-23-35 0z" fill="#16eb07"/><path d="M6438 2417l31-8-36-20-31 7z" fill="#071feb"/><path d="M5861 2248l35 0-33-24-34-1z" fill="#51eb07"/><path d="M6371 2403l31-7-36-20-31 6z" fill="#075aeb"/><path d="M6303 2388l32-6-36-21-32 6z" fill="#0795eb"/><path d="M5793 2221l36 2-33-25-35-2z" fill="#8beb07"/><path d="M6235 2373l32-6-35-21-32 5z" fill="#07d0eb"/><path d="M6167 2356l33-5-35-22-33 5z" fill="#07ebca"/><path d="M5725 2192l36 4-32-26-36-5z" fill="#c6eb07"/><path d="M6099 2337l33-3-34-23-33 4z" fill="#07eb8f"/><path d="M6031 2318l34-3-34-23-34 2z" fill="#07eb54"/><path d="M5656 2159l37 6-32-27-37-7z" fill="#ebd507"/><path d="M5963 2296l34-2-33-23-35 1z" fill="#07eb19"/><path d="M5894 2273l35-1-33-24-35 0z" fill="#31eb07"/><path d="M6407 2424l31-7-36-21-31 7z" fill="#0734eb"/><path d="M6339 2410l32-7-36-21-32 6z" fill="#0770eb"/><path d="M5826 2247l35 1-32-25-36-2z" fill="#6ceb07"/><path d="M6270 2394l33-6-36-21-32 6z" fill="#07aceb"/><path d="M6202 2378l33-5-35-22-33 5z" fill="#07e7eb"/><path d="M5757 2218l36 3-32-25-36-4z" fill="#a7eb07"/><path d="M6134 2360l33-4-35-22-33 3z" fill="#07ebb2"/><path d="M6065 2341l34-4-34-22-34 3z" fill="#07eb76"/><path d="M5688 2187l37 5-32-27-37-6z" fill="#e3eb07"/><path d="M5997 2320l34-2-34-24-34 2z" fill="#07eb3a"/><path d="M5928 2297l35-1-34-24-35 1z" fill="#10eb07"/><path d="M5859 2272l35 1-33-25-35-1z" fill="#4ceb07"/><path d="M6375 2431l32-7-36-21-32 7z" fill="#0749eb"/><path d="M6306 2416l33-6-36-22-33 6z" fill="#0786eb"/><path d="M5790 2245l36 2-33-26-36-3z" fill="#88eb07"/><path d="M6238 2400l32-6-35-21-33 5z" fill="#07c2eb"/><path d="M6169 2383l33-5-35-22-33 4z" fill="#07ebd6"/><path d="M5721 2214l36 4-32-26-37-5z" fill="#c4eb07"/><path d="M6100 2364l34-4-35-23-34 4z" fill="#07eb9a"/><path d="M6031 2344l34-3-34-23-34 2z" fill="#07eb5d"/><path d="M5962 2322l35-2-34-24-35 1z" fill="#07eb20"/><path d="M5893 2298l35-1-34-24-35-1z" fill="#2aeb07"/><path d="M6343 2438l32-7-36-21-33 6z" fill="#075feb"/><path d="M5823 2271l36 1-33-25-36-2z" fill="#67eb07"/><path d="M6274 2423l32-7-36-22-32 6z" fill="#079deb"/><path d="M6204 2406l34-6-36-22-33 5z" fill="#07daeb"/><path d="M5753 2242l37 3-33-27-36-4z" fill="#a4eb07"/><path d="M6135 2388l34-5-35-23-34 4z" fill="#07ebbe"/><path d="M6066 2368l34-4-35-23-34 3z" fill="#07eb81"/><path d="M5996 2347l35-3-34-24-35 2z" fill="#07eb43"/><path d="M5927 2323l35-1-34-25-35 1z" fill="#08eb07"/><path d="M5857 2298l36 0-34-26-36-1z" fill="#46eb07"/><path d="M6310 2445l33-7-37-22-32 7z" fill="#0776eb"/><path d="M5787 2270l36 1-33-26-37-3z" fill="#83eb07"/><path d="M6240 2429l34-6-36-23-34 6z" fill="#07b4eb"/><path d="M6171 2411l33-5-35-23-34 5z" fill="#07ebe4"/><path d="M6101 2392l34-4-35-24-34 4z" fill="#07eba5"/><path d="M6031 2372l35-4-35-24-35 3z" fill="#07eb67"/><path d="M5961 2349l35-2-34-25-35 1z" fill="#07eb29"/><path d="M5891 2324l36-1-34-25-36 0z" fill="#23eb07"/><path d="M5820 2297l37 1-34-27-36-1z" fill="#61eb07"/><path d="M6277 2452l33-7-36-22-34 6z" fill="#078deb"/><path d="M6207 2435l33-6-36-23-33 5z" fill="#07cbeb"/><path d="M6136 2416l35-5-36-23-34 4z" fill="#07ebcb"/><path d="M6066 2396l35-4-35-24-35 4z" fill="#07eb8c"/><path d="M5996 2374l35-2-35-25-35 2z" fill="#07eb4d"/><path d="M5925 2351l36-2-34-26-36 1z" fill="#07eb0e"/><path d="M5854 2324l37 0-34-26-37-1z" fill="#3feb07"/><path d="M6243 2458l34-6-37-23-33 6z" fill="#07a4eb"/><path d="M6172 2440l35-5-36-24-35 5z" fill="#07e4eb"/><path d="M6102 2421l34-5-35-24-35 4z" fill="#07ebb2"/><path d="M6031 2400l35-4-35-24-35 2z" fill="#07eb72"/><path d="M5960 2377l36-3-35-25-36 2z" fill="#07eb33"/><path d="M5889 2352l36-1-34-27-37 0z" fill="#1beb07"/><path d="M6209 2465l34-7-36-23-35 5z" fill="#07bceb"/><path d="M6138 2446l34-6-36-24-34 5z" fill="#07ebd9"/><path d="M6067 2425l35-4-36-25-35 4z" fill="#07eb99"/><path d="M5995 2403l36-3-35-26-36 3z" fill="#07eb58"/><path d="M5924 2379l36-2-35-26-36 1z" fill="#07eb18"/><path d="M6174 2471l35-6-37-25-34 6z" fill="#07d4eb"/><path d="M6103 2451l35-5-36-25-35 4z" fill="#07ebc0"/><path d="M6031 2429l36-4-36-25-36 3z" fill="#07eb7f"/><path d="M5959 2406l36-3-35-26-36 2z" fill="#07eb3d"/><path d="M6139 2476l35-5-36-25-35 5z" fill="#07ebe8"/><path d="M6067 2456l36-5-36-26-36 4z" fill="#07eba6"/><path d="M5995 2433l36-4-36-26-36 3z" fill="#07eb64"/><path d="M6104 2482l35-6-36-25-36 5z" fill="#07ebce"/><path d="M6031 2460l36-4-36-27-36 4z" fill="#07eb8c"/><path d="M6067 2487l37-5-37-26-36 4z" fill="#07ebb4"/></g><text x="542.2" y="261.8" font-size="2.90" fill="#333" text-anchor="end" stroke="#333" stroke-width=".12">8</text>
<text x="551.6" y="265.9" font-size="2.90" fill="#333" text-anchor="end" stroke="#333" stroke-width=".12">7</text>
<text x="561.5" y="270.3" font-size="2.90" fill="#333" text-anchor="end" stroke="#333" stroke-width=".12">6</text>
<text x="571.7" y="274.8" font-size="2.90" fill="#333" text-anchor="end" stroke="#333" stroke-width=".12">5</text>
<text x="582.4" y="279.5" font-size="2.90" fill="#333" text-anchor="end" stroke="#333" stroke-width=".12">4</text>
<text x="593.6" y="284.4" font-size="2.90" fill="#333" text-anchor="end" stroke="#333" stroke-width=".12">3</text>
<text x="605.4" y="289.6" font-size="2.90" fill="#333" text-anchor="end" stroke="#333" stroke-width=".12">2</text>
<text x="607.6" y="289.2" font-size="2.90" fill="#333" stroke="#333" stroke-width=".12">6500</text>
<text x="621.4" y="283.1" font-size="2.90" fill="#333" stroke="#333" stroke-width=".12">9400</text>
<text x="634.6" y="277.3" font-size="2.90" fill="#333" stroke="#333" stroke-width=".12">12300</text>
<text x="647.1" y="271.8" font-size="2.90" fill="#333" stroke="#333" stroke-width=".12">15200</text>
<text x="659.0" y="266.6" font-size="2.90" fill="#333" stroke="#333" stroke-width=".12">18100</text>
<text x="670.3" y="261.6" font-size="2.90" fill="#333" stroke="#333" stroke-width=".12">21000</text>
<circle cx="543.4" cy="259.2" r=".55" fill="#222"/>
<circle cx="552.8" cy="263.3" r=".55" fill="#222"/>
<circle cx="562.7" cy="267.7" r=".55" fill="#222"/>
<circle cx="572.9" cy="272.2" r=".55" fill="#222"/>
<circle cx="583.6" cy="276.9" r=".55" fill="#222"/>
<circle cx="594.8" cy="281.8" r=".55" fill="#222"/>
<circle cx="606.6" cy="287.0" r=".55" fill="#222"/>
<circle cx="606.6" cy="287.0" r=".55" fill="#222"/>
<circle cx="620.4" cy="280.9" r=".55" fill="#222"/>
<circle cx="633.6" cy="275.1" r=".55" fill="#222"/>
<circle cx="646.1" cy="269.6" r=".55" fill="#222"/>
<circle cx="658.0" cy="264.4" r=".55" fill="#222"/>
<circle cx="669.3" cy="259.4" r=".55" fill="#222"/>
<text x="548.0" y="285.0" font-size="3.00" fill="#333" text-anchor="middle" stroke="#333" stroke-width=".12">C: C (min)</text>
<text x="664.0" y="285.0" font-size="3.00" fill="#333" text-anchor="middle" stroke="#333" stroke-width=".12">B: B (rpm)</text>
<text x="541.4" y="241.5" font-size="2.90" fill="#333" text-anchor="end" stroke="#333" stroke-width=".12">0.2</text>
<circle cx="542.8" cy="240.5" r=".6" fill="#222"/>
<text x="540.9" y="227.3" font-size="2.90" fill="#333" text-anchor="end" stroke="#333" stroke-width=".12">0.3</text>
<circle cx="542.3" cy="226.3" r=".6" fill="#222"/>
<text x="540.4" y="212.8" font-size="2.90" fill="#333" text-anchor="end" stroke="#333" stroke-width=".12">0.4</text>
<circle cx="541.8" cy="211.8" r=".6" fill="#222"/>
<text x="539.8" y="198.0" font-size="2.90" fill="#333" text-anchor="end" stroke="#333" stroke-width=".12">0.5</text>
<circle cx="541.2" cy="197.0" r=".6" fill="#222"/>
<text x="539.3" y="182.9" font-size="2.90" fill="#333" text-anchor="end" stroke="#333" stroke-width=".12">0.6</text>
<circle cx="540.7" cy="181.9" r=".6" fill="#222"/>
<text x="521.0" y="220.0" font-size="2.9" fill="#555" text-anchor="middle" transform="rotate(-90 521.0 220.0)">PDI</text><line x1="635.7" y1="168.6" x2="635.7" y2="215.0" stroke="#111" stroke-width=".75"/>
<rect x="625.5" y="165.0" width="9.6" height="3.8" fill="#f2f2f2" stroke="#6a6a6a" stroke-width=".45"/>
<text x="630.3" y="168.0" font-size="2.30" fill="#777" text-anchor="middle" textLength="7.6" lengthAdjust="spacingAndGlyphs">0.00000</text>
<line x1="575.4" y1="190.2" x2="575.4" y2="200.2" stroke="#333" stroke-width=".5"/>
<ellipse cx="575.4" cy="190.2" rx="1.3" ry="1.9" fill="#a00000"/>
<ellipse cx="571.6" cy="225.0" rx="1.2" ry="1.5" fill="#fde" stroke="#d07070" stroke-width=".5"/>
<ellipse cx="640.5" cy="244.5" rx="1.2" ry="1.5" fill="#fde" stroke="#d07070" stroke-width=".5"/></g>
<text x="445.0" y="153.4" font-size="3.14" fill="#000" font-weight="bold" textLength="5.2" lengthAdjust="spacingAndGlyphs" stroke-width=".14" stroke="#000">PDI</text>
<text x="445.0" y="158.3" font-size="3.14" fill="#666" textLength="21.1" lengthAdjust="spacingAndGlyphs" stroke-width=".14" stroke="#666">Design Points</text>
<ellipse cx="448.02" cy="162.11" rx="2.05" ry="1.86" fill="#a00000"/>
<text x="452.8" y="163.2" font-size="3.14" fill="#c02020" textLength="22.7" lengthAdjust="spacingAndGlyphs" stroke-width=".14" stroke="#c02020">Above Surface</text>
<ellipse cx="448.02" cy="167.01" rx="1.62" ry="1.47" fill="#fff" stroke="#d06060" stroke-width=".7"/>
<text x="452.8" y="168.1" font-size="3.14" fill="#c02020" textLength="22.1" lengthAdjust="spacingAndGlyphs" stroke-width=".14" stroke="#c02020">Below Surface</text>
<text x="445.0" y="173.0" font-size="3.14" fill="#3030ff" textLength="7.8" lengthAdjust="spacingAndGlyphs" stroke-width=".14" stroke="#3030ff">0.248</text>
<defs><linearGradient id="grf"><stop offset="0" stop-color="#0010c0"/><stop offset=".3" stop-color="#00c020"/><stop offset=".55" stop-color="#00f000"/><stop offset=".72" stop-color="#20a000"/><stop offset=".85" stop-color="#d02000"/><stop offset="1" stop-color="#c01000"/></linearGradient></defs>
<rect x="454.29" y="169.76" width="12.42" height="4.31" rx="0.60" fill="url(#grf)"/>
<text x="468.2" y="173.0" font-size="3.14" fill="#ff3030" textLength="8.0" lengthAdjust="spacingAndGlyphs" stroke-width=".14" stroke="#ff3030">0.495</text>
<text x="445.0" y="183.3" font-size="3.14" fill="#222" textLength="10.6" lengthAdjust="spacingAndGlyphs" stroke-width=".14" stroke="#222">X1 = B</text>
<text x="445.0" y="188.2" font-size="3.14" fill="#222" textLength="10.6" lengthAdjust="spacingAndGlyphs" stroke-width=".14" stroke="#222">X2 = C</text>
<text x="445.0" y="198.0" font-size="3.14" fill="#000" font-weight="bold" textLength="21.1" lengthAdjust="spacingAndGlyphs" stroke-width=".14" stroke="#000">Actual Factor</text>
<text x="445.0" y="202.9" font-size="3.14" fill="#222" textLength="20.0" lengthAdjust="spacingAndGlyphs" stroke-width=".14" stroke="#222">A = 30.0001</text>
<g transform="translate(482.69 206.90) scale(0.620)" stroke="#1a1a1a" stroke-width="2.1" fill="none"><path d="M4 1.2H1.2V8.8H8.8V6"/><path d="M3.8 6.2L7.6 2.4"/><path d="M5.2 0.6H9.4V4.8Z" fill="#1a1a1a" stroke-width=".6"/></g>
<g><g stroke="#747474" stroke-width=".65" fill="none"><line x1="91.1" y1="410.8" x2="87.5" y2="327.7"/><line x1="106.4" y1="405.2" x2="103.9" y2="324.2"/><line x1="120.9" y1="399.9" x2="119.4" y2="321.0"/><line x1="134.5" y1="394.9" x2="134.0" y2="318.0"/><line x1="147.4" y1="390.2" x2="147.7" y2="315.1"/><line x1="204.2" y1="410.4" x2="208.4" y2="328.7"/><line x1="192.0" y1="406.0" x2="195.3" y2="325.7"/><line x1="180.2" y1="401.8" x2="182.6" y2="322.9"/><line x1="168.9" y1="397.8" x2="170.5" y2="320.2"/><line x1="158.0" y1="393.9" x2="158.9" y2="317.6"/><line x1="147.4" y1="390.2" x2="147.7" y2="315.1"/><line x1="90.2" y1="391.0" x2="147.5" y2="372.2"/><line x1="147.5" y1="372.2" x2="205.2" y2="391.0"/><line x1="89.3" y1="370.6" x2="147.6" y2="353.8"/><line x1="147.6" y1="353.8" x2="206.3" y2="370.9"/><line x1="88.4" y1="349.5" x2="147.6" y2="334.8"/><line x1="147.6" y1="334.8" x2="207.3" y2="350.1"/><line x1="87.5" y1="327.7" x2="147.7" y2="315.1"/><line x1="147.7" y1="315.1" x2="208.4" y2="328.7"/></g>
<polyline points="91.1,410.8 87.5,327.7 147.7,315.1 208.4,328.7 204.2,410.4" stroke="#555" stroke-width=".7" fill="none"/>
<line x1="147.4" y1="390.2" x2="147.7" y2="315.1" stroke="#555" stroke-width=".7"/>
<polygon points="91.1,410.8 149.0,436.1 204.2,410.4 147.4,390.2" fill="#646464"/>
<polyline points="91.1,410.8 149.0,436.1 204.2,410.4" stroke="#2a2a2a" stroke-width=".8" fill="none"/>
<polyline points="95.4,409.2 95.9,409.5 96.4,409.9 97.1,410.3 97.8,410.8 98.2,411.0 98.8,411.4 99.5,411.9 99.9,412.1 100.5,412.6 101.2,413.0 101.6,413.3 102.2,413.8 102.9,414.2 103.3,414.5 103.9,414.9 104.5,415.3 104.9,415.7 105.6,416.2 105.9,416.4 106.6,416.9 107.3,417.4 107.6,417.7 108.2,418.2 108.6,418.4" stroke="#337ccc" stroke-width="1.25" stroke-linejoin="round" fill="none"/>
<polyline points="104.2,406.0 105.0,406.4 105.7,406.8 106.4,407.1 106.9,407.4 107.7,407.8 108.5,408.2 109.3,408.6 110.0,409.0 110.4,409.2 111.2,409.6 112.0,410.0 112.8,410.5 113.6,410.9 114.0,411.1 114.8,411.5 115.5,411.9 116.3,412.4 117.1,412.8 117.5,413.0 118.3,413.5 119.1,413.9 119.9,414.3 120.3,414.6 121.0,415.0 121.8,415.5 122.6,415.9 123.0,416.2 123.8,416.6 124.6,417.1 125.1,417.4 125.7,417.8 126.5,418.3 127.3,418.7 127.7,419.0 128.4,419.5 129.2,420.0 129.6,420.2 130.3,420.7 131.1,421.2 131.5,421.5 132.2,422.0 132.8,422.4 133.4,422.7 134.1,423.3 134.5,423.5 135.2,424.1 135.8,424.5 136.3,424.9 137.0,425.4 137.4,425.7 138.1,426.3 138.5,426.5 139.2,427.1 139.6,427.4 140.2,428.0 140.6,428.3 141.2,428.9 141.6,429.2 142.2,429.8 142.6,430.1 143.2,430.7 143.5,431.0 144.2,431.7 144.5,432.0 144.9,432.5 145.4,433.0 145.7,433.3 146.2,434.0 146.6,434.3 146.8,434.7 147.4,435.4 147.4,435.4" stroke="#33bfcc" stroke-width="1.25" stroke-linejoin="round" fill="none"/>
<polyline points="114.0,402.4 114.9,402.8 115.8,403.1 116.6,403.4 117.6,403.8 118.5,404.1 119.4,404.5 120.3,404.8 121.2,405.2 122.1,405.5 122.8,405.8 123.5,406.0 124.4,406.4 125.4,406.7 126.3,407.1 127.2,407.4 128.2,407.8 129.1,408.1 130.1,408.5 131.0,408.8 132.0,409.2 133.0,409.5 133.9,409.9 134.9,410.3 135.4,410.4 136.4,410.8 137.4,411.2 138.4,411.5 139.4,411.9 140.4,412.2 141.4,412.6 142.4,413.0 143.4,413.3 144.3,413.6 144.9,413.9 146.0,414.2 147.0,414.6 148.0,414.9 149.1,415.3 150.2,415.7 151.2,416.0 151.8,416.2 152.8,416.6 153.9,416.9 155.0,417.3 156.1,417.6 156.8,417.8 157.8,418.2 158.9,418.5 160.0,418.9 161.2,419.2 161.7,419.4 162.9,419.7 164.1,420.1 165.0,420.3 165.9,420.6 167.1,420.9 168.2,421.2 168.9,421.4 170.2,421.7 170.9,421.9 172.1,422.2 173.3,422.4 174.1,422.6 175.4,422.9 176.1,423.0 176.9,423.1" stroke="#33cc90" stroke-width="1.25" stroke-linejoin="round" fill="none"/>
<polyline points="122.7,399.2 123.2,399.4 124.2,399.6 125.2,399.9 126.1,400.2 126.8,400.4 127.8,400.6 128.8,400.9 129.4,401.1 130.4,401.3 131.5,401.6 132.0,401.8 133.1,402.0 134.2,402.3 134.8,402.5 135.8,402.7 136.9,403.0 137.4,403.1 138.6,403.4 139.7,403.7 140.3,403.8 141.4,404.1 142.0,404.2 143.1,404.5 144.1,404.7 144.9,404.8 146.1,405.1 146.7,405.2 147.9,405.5 148.5,405.6 149.8,405.8 150.4,405.9 151.6,406.2 152.3,406.3 153.5,406.5 154.2,406.6 155.1,406.7 156.2,406.9 156.9,407.0 158.1,407.2 158.9,407.3 159.6,407.4 160.9,407.5 161.8,407.6 162.5,407.7 163.5,407.8 164.7,407.9 165.5,408.0 166.3,408.0 167.1,408.1 168.2,408.2 169.3,408.2 170.3,408.3 171.3,408.3 172.2,408.3 173.1,408.3 174.0,408.3 174.9,408.3 175.9,408.3 176.8,408.2 177.7,408.2 178.5,408.2 179.3,408.1 180.0,408.1 181.2,408.0 182.3,407.9 183.0,407.8 183.7,407.7 185.0,407.5 185.7,407.4 186.4,407.3 187.6,407.1 188.2,407.0 189.4,406.7 189.9,406.6 191.1,406.4 191.6,406.2 192.1,406.1" stroke="#33cc52" stroke-width="1.25" stroke-linejoin="round" fill="none"/>
<g transform="scale(.1)" stroke="#000" stroke-opacity=".26" stroke-width="5.5" stroke-linejoin="round"><path d="M1477 3431l26-17-27-15-26 18z" fill="#bfeb3b"/><path d="M1504 3446l26-17-27-15-26 17z" fill="#b4eb3b"/><path d="M1450 3449l27-18-27-14-27 19z" fill="#aeeb3b"/><path d="M1531 3460l27-17-28-14-26 17z" fill="#a9eb3b"/><path d="M1477 3463l27-17-27-15-27 18z" fill="#a4eb3b"/><path d="M1423 3468l27-19-27-13-27 19z" fill="#9deb3b"/><path d="M1559 3474l26-16-27-15-27 17z" fill="#9eeb3b"/><path d="M1505 3477l26-17-27-14-27 17z" fill="#9aeb3b"/><path d="M1451 3481l26-18-27-14-27 19z" fill="#93eb3b"/><path d="M1396 3487l27-19-27-13-27 19z" fill="#8aeb3b"/><path d="M1587 3489l26-16-28-15-26 16z" fill="#93eb3b"/><path d="M1533 3491l26-17-28-14-26 17z" fill="#90eb3b"/><path d="M1478 3495l27-18-28-14-26 18z" fill="#8aeb3b"/><path d="M1423 3500l28-19-28-13-27 19z" fill="#82eb3b"/><path d="M1369 3507l27-20-27-13-27 20z" fill="#78eb3b"/><path d="M1615 3504l26-16-28-15-26 16z" fill="#88eb3b"/><path d="M1561 3505l26-16-28-15-26 17z" fill="#86eb3b"/><path d="M1506 3508l27-17-28-14-27 18z" fill="#81eb3b"/><path d="M1451 3513l27-18-27-14-28 19z" fill="#7aeb3b"/><path d="M1396 3519l27-19-27-13-27 20z" fill="#70eb3b"/><path d="M1341 3527l28-20-27-13-28 21z" fill="#65eb3b"/><path d="M1644 3519l26-15-29-16-26 16z" fill="#7deb3b"/><path d="M1589 3520l26-16-28-15-26 16z" fill="#7ceb3b"/><path d="M1534 3522l27-17-28-14-27 17z" fill="#78eb3b"/><path d="M1479 3526l27-18-28-13-27 18z" fill="#72eb3b"/><path d="M1424 3532l27-19-28-13-27 19z" fill="#69eb3b"/><path d="M1369 3539l27-20-27-12-28 20z" fill="#5eeb3b"/><path d="M1313 3548l28-21-27-12-28 21z" fill="#51eb3b"/><path d="M1672 3534l26-15-28-15-26 15z" fill="#73eb3b"/><path d="M1617 3534l27-15-29-15-26 16z" fill="#72eb3b"/><path d="M1562 3536l27-16-28-15-27 17z" fill="#6feb3b"/><path d="M1507 3540l27-18-28-14-27 18z" fill="#69eb3b"/><path d="M1451 3545l28-19-28-13-27 19z" fill="#61eb3b"/><path d="M1396 3551l28-19-28-13-27 20z" fill="#57eb3b"/><path d="M1341 3559l28-20-28-12-28 21z" fill="#4beb3b"/><path d="M1285 3569l28-21-27-12-28 22z" fill="#3ceb3b"/><path d="M1701 3549l26-14-29-16-26 15z" fill="#68eb3b"/><path d="M1646 3549l26-15-28-15-27 15z" fill="#68eb3b"/><path d="M1590 3550l27-16-28-14-27 16z" fill="#65eb3b"/><path d="M1535 3553l27-17-28-14-27 18z" fill="#61eb3b"/><path d="M1479 3557l28-17-28-14-28 19z" fill="#5aeb3b"/><path d="M1424 3564l27-19-27-13-28 19z" fill="#51eb3b"/><path d="M1257 3591l28-22-27-11-28 22z" fill="#3beb4e"/><path d="M1368 3571l28-20-27-12-28 20z" fill="#45eb3b"/><path d="M1312 3580l29-21-28-11-28 21z" fill="#3beb3e"/><path d="M1730 3564l26-14-29-15-26 14z" fill="#5deb3b"/><path d="M1675 3563l26-14-29-15-26 15z" fill="#5eeb3b"/><path d="M1619 3564l27-15-29-15-27 16z" fill="#5ceb3b"/><path d="M1563 3567l27-17-28-14-27 17z" fill="#59eb3b"/><path d="M1508 3570l27-17-28-13-28 17z" fill="#53eb3b"/><path d="M1452 3576l27-19-28-12-27 19z" fill="#4aeb3b"/><path d="M1228 3614l29-23-27-11-29 23z" fill="#3beb64"/><path d="M1396 3583l28-19-28-13-28 20z" fill="#40eb3b"/><path d="M1284 3602l28-22-27-11-28 22z" fill="#3beb52"/><path d="M1340 3592l28-21-27-12-29 21z" fill="#3beb43"/><path d="M1760 3579l26-13-30-16-26 14z" fill="#52eb3b"/><path d="M1704 3578l26-14-29-15-26 14z" fill="#54eb3b"/><path d="M1648 3578l27-15-29-14-27 15z" fill="#53eb3b"/><path d="M1592 3580l27-16-29-14-27 17z" fill="#50eb3b"/><path d="M1536 3584l27-17-28-14-27 17z" fill="#4beb3b"/><path d="M1480 3589l28-19-29-13-27 19z" fill="#44eb3b"/><path d="M1199 3637l29-23-27-11-29 24z" fill="#3beb7a"/><path d="M1424 3595l28-19-28-12-28 19z" fill="#3beb3b"/><path d="M1255 3624l29-22-27-11-29 23z" fill="#3beb67"/><path d="M1368 3603l28-20-28-12-28 21z" fill="#3beb48"/><path d="M1312 3613l28-21-28-12-28 22z" fill="#3beb56"/><path d="M1790 3595l25-13-29-16-26 13z" fill="#47eb3b"/><path d="M1734 3593l26-14-30-15-26 14z" fill="#4aeb3b"/><path d="M1677 3593l27-15-29-15-27 15z" fill="#4aeb3b"/><path d="M1621 3594l27-16-29-14-27 16z" fill="#48eb3b"/><path d="M1565 3597l27-17-29-13-27 17z" fill="#44eb3b"/><path d="M1509 3601l27-17-28-14-28 19z" fill="#3deb3b"/><path d="M1170 3661l29-24-27-10-29 24z" fill="#3beb91"/><path d="M1452 3607l28-18-28-13-28 19z" fill="#3beb41"/><path d="M1226 3647l29-23-27-10-29 23z" fill="#3beb7c"/><path d="M1396 3615l28-20-28-12-28 20z" fill="#3beb4c"/><path d="M1283 3635l29-22-28-11-29 22z" fill="#3beb6a"/><path d="M1339 3624l29-21-28-11-28 21z" fill="#3beb5a"/><path d="M1820 3610l25-12-30-16-25 13z" fill="#3ceb3b"/><path d="M1763 3608l27-13-30-16-26 14z" fill="#40eb3b"/><path d="M1707 3607l27-14-30-15-27 15z" fill="#41eb3b"/><path d="M1651 3608l26-15-29-15-27 16z" fill="#40eb3b"/><path d="M1594 3610l27-16-29-14-27 17z" fill="#3ceb3b"/><path d="M1141 3685l29-24-27-10-29 25z" fill="#3beba8"/><path d="M1537 3614l28-17-29-13-27 17z" fill="#3beb3f"/><path d="M1197 3670l29-23-27-10-29 24z" fill="#3beb92"/><path d="M1481 3620l28-19-29-12-28 18z" fill="#3beb47"/><path d="M1254 3657l29-22-28-11-29 23z" fill="#3beb7e"/><path d="M1424 3627l28-20-28-12-28 20z" fill="#3beb51"/><path d="M1311 3645l28-21-27-11-29 22z" fill="#3beb6d"/><path d="M1367 3635l29-20-28-12-29 21z" fill="#3beb5e"/><path d="M1850 3626l25-12-30-16-25 12z" fill="#3beb44"/><path d="M1793 3623l27-13-30-15-27 13z" fill="#3beb40"/><path d="M1737 3622l26-14-29-15-27 14z" fill="#3beb3e"/><path d="M1680 3622l27-15-30-14-26 15z" fill="#3beb3e"/><path d="M1623 3624l28-16-30-14-27 16z" fill="#3beb40"/><path d="M1111 3710l30-25-27-9-30 26z" fill="#3bebc0"/><path d="M1567 3627l27-17-29-13-28 17z" fill="#3beb45"/><path d="M1168 3694l29-24-27-9-29 24z" fill="#3beba9"/><path d="M1510 3632l27-18-28-13-28 19z" fill="#3beb4d"/><path d="M1880 3642l26-11-31-17-25 12z" fill="#3beb4f"/><path d="M1225 3680l29-23-28-10-29 23z" fill="#3beb94"/><path d="M1453 3638l28-18-29-13-28 20z" fill="#3beb56"/><path d="M1282 3667l29-22-28-10-29 22z" fill="#3beb81"/><path d="M1396 3647l28-20-28-12-29 20z" fill="#3beb62"/><path d="M1339 3656l28-21-28-11-28 21z" fill="#3beb70"/><path d="M1824 3639l26-13-30-16-27 13z" fill="#3beb4a"/><path d="M1767 3637l26-14-30-15-26 14z" fill="#3beb47"/><path d="M1710 3636l27-14-30-15-27 15z" fill="#3beb46"/><path d="M1653 3637l27-15-29-14-28 16z" fill="#3beb48"/><path d="M1081 3736l30-26-27-8-30 26z" fill="#3bebd9"/><path d="M1596 3640l27-16-29-14-27 17z" fill="#3beb4c"/><path d="M1138 3719l30-25-27-9-30 25z" fill="#3bebc0"/><path d="M1911 3658l26-11-31-16-26 11z" fill="#3beb5a"/><path d="M1539 3645l28-18-30-13-27 18z" fill="#3beb52"/><path d="M1195 3704l30-24-28-10-29 24z" fill="#3beba9"/><path d="M1481 3650l29-18-29-12-28 18z" fill="#3beb5b"/><path d="M1252 3690l30-23-28-10-29 23z" fill="#3beb95"/><path d="M1424 3658l29-20-29-11-28 20z" fill="#3beb66"/><path d="M1310 3678l29-22-28-11-29 22z" fill="#3beb83"/><path d="M1367 3667l29-20-29-12-28 21z" fill="#3beb73"/><path d="M1854 3654l26-12-30-16-26 13z" fill="#3beb54"/><path d="M1797 3652l27-13-31-16-26 14z" fill="#3beb50"/><path d="M1740 3651l27-14-30-15-27 14z" fill="#3beb4f"/><path d="M1683 3651l27-15-30-14-27 15z" fill="#3beb4f"/><path d="M1051 3762l30-26-27-8-30 26z" fill="#3be3eb"/><path d="M1626 3653l27-16-30-13-27 16z" fill="#3beb53"/><path d="M1942 3675l26-11-31-17-26 11z" fill="#3beb65"/><path d="M1108 3744l30-25-27-9-30 26z" fill="#3bebd8"/><path d="M1568 3657l28-17-29-13-28 18z" fill="#3beb58"/><path d="M1165 3728l30-24-27-10-30 25z" fill="#3bebc0"/><path d="M1511 3663l28-18-29-13-29 18z" fill="#3beb60"/><path d="M1223 3713l29-23-27-10-30 24z" fill="#3bebaa"/><path d="M1453 3669l28-19-28-12-29 20z" fill="#3beb6a"/><path d="M1280 3700l30-22-28-11-30 23z" fill="#3beb96"/><path d="M1885 3670l26-12-31-16-26 12z" fill="#3beb5e"/><path d="M1395 3678l29-20-28-11-29 20z" fill="#3beb76"/><path d="M1338 3688l29-21-28-11-29 22z" fill="#3beb85"/><path d="M1828 3667l26-13-30-15-27 13z" fill="#3beb59"/><path d="M1771 3665l26-13-30-15-27 14z" fill="#3beb57"/><path d="M1020 3789l31-27-27-8-30 28z" fill="#3bc9eb"/><path d="M1713 3665l27-14-30-15-27 15z" fill="#3beb57"/><path d="M1974 3691l25-10-31-17-26 11z" fill="#3beb70"/><path d="M1078 3770l30-26-27-8-30 26z" fill="#3be5eb"/><path d="M1656 3667l27-16-30-14-27 16z" fill="#3beb59"/><path d="M1135 3753l30-25-27-9-30 25z" fill="#3bebd6"/><path d="M1598 3670l28-17-30-13-28 17z" fill="#3beb5e"/><path d="M1193 3737l30-24-28-9-30 24z" fill="#3bebbf"/><path d="M1540 3675l28-18-29-12-28 18z" fill="#3beb65"/><path d="M1916 3686l26-11-31-17-26 12z" fill="#3beb68"/><path d="M1251 3723l29-23-28-10-29 23z" fill="#3bebaa"/><path d="M1482 3681l29-18-30-13-28 19z" fill="#3beb6e"/><path d="M1309 3710l29-22-28-10-30 22z" fill="#3beb98"/><path d="M1424 3689l29-20-29-11-29 20z" fill="#3beb7a"/><path d="M1366 3699l29-21-28-11-29 21z" fill="#3beb87"/><path d="M1859 3682l26-12-31-16-26 13z" fill="#3beb62"/><path d="M1801 3680l27-13-31-15-26 13z" fill="#3beb5f"/><path d="M989 3817l31-28-26-7-31 28z" fill="#3bafeb"/><path d="M1744 3679l27-14-31-14-27 14z" fill="#3beb5e"/><path d="M2005 3707l26-9-32-17-25 10z" fill="#3beb7b"/><path d="M1047 3797l31-27-27-8-31 27z" fill="#3bcceb"/><path d="M1686 3680l27-15-30-14-27 16z" fill="#3beb60"/><path d="M1105 3778l30-25-27-9-30 26z" fill="#3be7eb"/><path d="M1628 3683l28-16-30-14-28 17z" fill="#3beb63"/><path d="M1948 3702l26-11-32-16-26 11z" fill="#3beb72"/><path d="M1163 3761l30-24-28-9-30 25z" fill="#3bebd5"/><path d="M1570 3687l28-17-30-13-28 18z" fill="#3beb6a"/><path d="M1221 3746l30-23-28-10-30 24z" fill="#3bebbf"/><path d="M1512 3693l28-18-29-12-29 18z" fill="#3beb72"/><path d="M1279 3732l30-22-29-10-29 23z" fill="#3bebab"/><path d="M1453 3700l29-19-29-12-29 20z" fill="#3beb7d"/><path d="M1337 3720l29-21-28-11-29 22z" fill="#3beb99"/><path d="M1395 3709l29-20-29-11-29 21z" fill="#3beb8a"/><path d="M1890 3697l26-11-31-16-26 12z" fill="#3beb6c"/><path d="M1832 3694l27-12-31-15-27 13z" fill="#3beb67"/><path d="M958 3845l31-28-26-7-31 29z" fill="#3b94eb"/><path d="M1774 3693l27-13-30-15-27 14z" fill="#3beb66"/><path d="M2037 3724l25-9-31-17-26 9z" fill="#3beb86"/><path d="M1016 3824l31-27-27-8-31 28z" fill="#3bb3eb"/><path d="M1716 3694l28-15-31-14-27 15z" fill="#3beb66"/><path d="M1074 3805l31-27-27-8-31 27z" fill="#3bcfeb"/><path d="M1658 3696l28-16-30-13-28 16z" fill="#3beb69"/><path d="M1980 3718l25-11-31-16-26 11z" fill="#3beb7c"/><path d="M1132 3787l31-26-28-8-30 25z" fill="#3be9eb"/><path d="M1600 3700l28-17-30-13-28 17z" fill="#3beb6e"/><path d="M1191 3770l30-24-28-9-30 24z" fill="#3bebd4"/><path d="M1541 3705l29-18-30-12-28 18z" fill="#3beb76"/><path d="M1249 3755l30-23-28-9-30 23z" fill="#3bebbf"/><path d="M1483 3712l29-19-30-12-29 19z" fill="#3beb80"/><path d="M1922 3713l26-11-32-16-26 11z" fill="#3beb75"/><path d="M1308 3742l29-22-28-10-30 22z" fill="#3bebab"/><path d="M1424 3720l29-20-29-11-29 20z" fill="#3beb8c"/><path d="M1366 3730l29-21-29-10-29 21z" fill="#3beb9a"/><path d="M1864 3709l26-12-31-15-27 12z" fill="#3beb70"/><path d="M927 3874l31-29-26-6-31 29z" fill="#3b78eb"/><path d="M1806 3708l26-14-31-14-27 13z" fill="#3beb6d"/><path d="M985 3852l31-28-27-7-31 28z" fill="#3b99eb"/><path d="M1747 3708l27-15-30-14-28 15z" fill="#3beb6d"/><path d="M1043 3831l31-26-27-8-31 27z" fill="#3bb7eb"/><path d="M2012 3734l25-10-32-17-25 11z" fill="#3beb86"/><path d="M1689 3709l27-15-30-14-28 16z" fill="#3beb6f"/><path d="M1102 3812l30-25-27-9-31 27z" fill="#3bd2eb"/><path d="M1630 3712l28-16-30-13-28 17z" fill="#3beb73"/><path d="M1160 3795l31-25-28-9-31 26z" fill="#3bebea"/><path d="M1571 3717l29-17-30-13-29 18z" fill="#3beb7a"/><path d="M1954 3728l26-10-32-16-26 11z" fill="#3beb7e"/><path d="M1219 3779l30-24-28-9-30 24z" fill="#3bebd3"/><path d="M1513 3723l28-18-29-12-29 19z" fill="#3beb83"/><path d="M1278 3765l30-23-29-10-30 23z" fill="#3bebbe"/><path d="M1454 3731l29-19-30-12-29 20z" fill="#3beb8e"/><path d="M1336 3752l30-22-29-10-29 22z" fill="#3bebac"/><path d="M1395 3741l29-21-29-11-29 21z" fill="#3beb9c"/><path d="M1895 3724l27-11-32-16-26 12z" fill="#3beb78"/><path d="M954 3881l31-29-27-7-31 29z" fill="#3b7eeb"/><path d="M1837 3722l27-13-32-15-26 14z" fill="#3beb75"/><path d="M1012 3859l31-28-27-7-31 28z" fill="#3b9deb"/><path d="M1778 3721l28-13-32-15-27 15z" fill="#3beb73"/><path d="M1071 3839l31-27-28-7-31 26z" fill="#3bbaeb"/><path d="M1720 3722l27-14-31-14-27 15z" fill="#3beb75"/><path d="M1130 3820l30-25-28-8-30 25z" fill="#3bd5eb"/><path d="M1661 3725l28-16-31-13-28 16z" fill="#3beb78"/><path d="M1986 3744l26-10-32-16-26 10z" fill="#3beb87"/><path d="M1188 3803l31-24-28-9-31 25z" fill="#3bebe8"/><path d="M1602 3729l28-17-30-12-29 17z" fill="#3beb7e"/><path d="M1247 3788l31-23-29-10-30 24z" fill="#3bebd2"/><path d="M1543 3735l28-18-30-12-28 18z" fill="#3beb86"/><path d="M1306 3774l30-22-28-10-30 23z" fill="#3bebbe"/><path d="M1484 3742l29-19-30-11-29 19z" fill="#3beb90"/><path d="M1366 3762l29-21-29-11-30 22z" fill="#3bebac"/><path d="M1425 3751l29-20-30-11-29 21z" fill="#3beb9d"/><path d="M1927 3740l27-12-32-15-27 11z" fill="#3beb80"/><path d="M1869 3737l26-13-31-15-27 13z" fill="#3beb7c"/><path d="M981 3887l31-28-27-7-31 29z" fill="#3b83eb"/><path d="M1810 3735l27-13-31-14-28 13z" fill="#3beb7a"/><path d="M1040 3866l31-27-28-8-31 28z" fill="#3ba2eb"/><path d="M1751 3736l27-15-31-13-27 14z" fill="#3beb7a"/><path d="M1099 3846l31-26-28-8-31 27z" fill="#3bbeeb"/><path d="M1692 3738l28-16-31-13-28 16z" fill="#3beb7d"/><path d="M1158 3828l30-25-28-8-30 25z" fill="#3bd8eb"/><path d="M1632 3741l29-16-31-13-28 17z" fill="#3beb82"/><path d="M1217 3812l30-24-28-9-31 24z" fill="#3bebe6"/><path d="M1573 3746l29-17-31-12-28 18z" fill="#3beb89"/><path d="M1276 3797l30-23-28-9-31 23z" fill="#3bebd0"/><path d="M1960 3755l26-11-32-16-27 12z" fill="#3beb89"/><path d="M1514 3753l29-18-30-12-29 19z" fill="#3beb93"/><path d="M1336 3783l30-21-30-10-30 22z" fill="#3bebbd"/><path d="M1454 3762l30-20-30-11-29 20z" fill="#3beb9f"/><path d="M1395 3772l30-21-30-10-29 21z" fill="#3bebad"/><path d="M1901 3751l26-11-32-16-26 13z" fill="#3beb83"/><path d="M1842 3750l27-13-32-15-27 13z" fill="#3beb81"/><path d="M1008 3894l32-28-28-7-31 28z" fill="#3b89eb"/><path d="M1782 3749l28-14-32-14-27 15z" fill="#3beb80"/><path d="M1067 3873l32-27-28-7-31 27z" fill="#3ba7eb"/><path d="M1723 3751l28-15-31-14-28 16z" fill="#3beb82"/><path d="M1127 3854l31-26-28-8-31 26z" fill="#3bc2eb"/><path d="M1663 3754l29-16-31-13-29 16z" fill="#3beb86"/><path d="M1186 3836l31-24-29-9-30 25z" fill="#3bdbeb"/><path d="M1604 3758l28-17-30-12-29 17z" fill="#3beb8c"/><path d="M1246 3820l30-23-29-9-30 24z" fill="#3bebe4"/><path d="M1544 3764l29-18-30-11-29 18z" fill="#3beb95"/><path d="M1305 3806l31-23-30-9-30 23z" fill="#3bebcf"/><path d="M1485 3772l29-19-30-11-30 20z" fill="#3beba0"/><path d="M1365 3793l30-21-29-10-30 21z" fill="#3bebbd"/><path d="M1425 3782l29-20-29-11-30 21z" fill="#3bebad"/><path d="M1933 3766l27-11-33-15-26 11z" fill="#3beb8b"/><path d="M1874 3764l27-13-32-14-27 13z" fill="#3beb87"/><path d="M1814 3763l28-13-32-15-28 14z" fill="#3beb86"/><path d="M1036 3900l31-27-27-7-32 28z" fill="#3b8eeb"/><path d="M1755 3764l27-15-31-13-28 15z" fill="#3beb87"/><path d="M1095 3880l32-26-28-8-32 27z" fill="#3babeb"/><path d="M1695 3766l28-15-31-13-29 16z" fill="#3beb8a"/><path d="M1155 3861l31-25-28-8-31 26z" fill="#3bc6eb"/><path d="M1635 3770l28-16-31-13-28 17z" fill="#3beb8f"/><path d="M1215 3844l31-24-29-8-31 24z" fill="#3bdeeb"/><path d="M1575 3776l29-18-31-12-29 18z" fill="#3beb97"/><path d="M1275 3829l30-23-29-9-30 23z" fill="#3bebe1"/><path d="M1515 3783l29-19-30-11-29 19z" fill="#3beba1"/><path d="M1335 3815l30-22-29-10-31 23z" fill="#3bebce"/><path d="M1455 3792l30-20-31-10-29 20z" fill="#3bebae"/><path d="M1395 3803l30-21-30-10-30 21z" fill="#3bebbd"/><path d="M1906 3778l27-12-32-15-27 13z" fill="#3beb8e"/><path d="M1846 3777l28-13-32-14-28 13z" fill="#3beb8b"/><path d="M1064 3907l31-27-28-7-31 27z" fill="#3b94eb"/><path d="M1786 3777l28-14-32-14-27 15z" fill="#3beb8b"/><path d="M1124 3887l31-26-28-7-32 26z" fill="#3bb0eb"/><path d="M1726 3779l29-15-32-13-28 15z" fill="#3beb8e"/><path d="M1184 3869l31-25-29-8-31 25z" fill="#3bcaeb"/><path d="M1666 3782l29-16-32-12-28 16z" fill="#3beb92"/><path d="M1244 3852l31-23-29-9-31 24z" fill="#3be1eb"/><path d="M1606 3787l29-17-31-12-29 18z" fill="#3beb99"/><path d="M1304 3838l31-23-30-9-30 23z" fill="#3bebdf"/><path d="M1546 3794l29-18-31-12-29 19z" fill="#3beba3"/><path d="M1365 3824l30-21-30-10-30 22z" fill="#3bebcd"/><path d="M1485 3802l30-19-30-11-30 20z" fill="#3bebae"/><path d="M1425 3812l30-20-30-10-30 21z" fill="#3bebbc"/><path d="M1879 3791l27-13-32-14-28 13z" fill="#3beb91"/><path d="M1819 3790l27-13-32-14-28 14z" fill="#3beb90"/><path d="M1092 3914l32-27-29-7-31 27z" fill="#3b9aeb"/><path d="M1758 3792l28-15-31-13-29 15z" fill="#3beb92"/><path d="M1152 3894l32-25-29-8-31 26z" fill="#3bb5eb"/><path d="M1698 3794l28-15-31-13-29 16z" fill="#3beb96"/><path d="M1213 3877l31-25-29-8-31 25z" fill="#3bcdeb"/><path d="M1637 3799l29-17-31-12-29 17z" fill="#3beb9c"/><path d="M1273 3861l31-23-29-9-31 23z" fill="#3be4eb"/><path d="M1577 3805l29-18-31-11-29 18z" fill="#3beba4"/><path d="M1334 3846l31-22-30-9-31 23z" fill="#3bebdd"/><path d="M1516 3813l30-19-31-11-30 19z" fill="#3bebaf"/><path d="M1395 3834l30-22-30-9-30 21z" fill="#3bebcc"/><path d="M1455 3822l30-20-30-10-30 20z" fill="#3bebbc"/><path d="M1851 3804l28-13-33-14-27 13z" fill="#3beb95"/><path d="M1791 3804l28-14-33-13-28 15z" fill="#3beb96"/><path d="M1120 3921l32-27-28-7-32 27z" fill="#3b9feb"/><path d="M1730 3807l28-15-32-13-28 15z" fill="#3beb99"/><path d="M1181 3902l32-25-29-8-32 25z" fill="#3bb9eb"/><path d="M1669 3811l29-17-32-12-29 17z" fill="#3beb9e"/><path d="M1242 3885l31-24-29-9-31 25z" fill="#3bd1eb"/><path d="M1608 3816l29-17-31-12-29 18z" fill="#3beba6"/><path d="M1303 3869l31-23-30-8-31 23z" fill="#3be7eb"/><path d="M1547 3823l30-18-31-11-30 19z" fill="#3bebb0"/><path d="M1364 3855l31-21-30-10-31 22z" fill="#3bebdb"/><path d="M1486 3832l30-19-31-11-30 20z" fill="#3bebbc"/><path d="M1425 3843l30-21-30-10-30 22z" fill="#3bebca"/><path d="M1823 3817l28-13-32-14-28 14z" fill="#3beb9a"/><path d="M1762 3819l29-15-33-12-28 15z" fill="#3beb9c"/><path d="M1149 3928l32-26-29-8-32 27z" fill="#3ba5eb"/><path d="M1701 3822l29-15-32-13-29 17z" fill="#3beba0"/><path d="M1211 3909l31-24-29-8-32 25z" fill="#3bbeeb"/><path d="M1640 3828l29-17-32-12-29 17z" fill="#3beba7"/><path d="M1272 3893l31-24-30-8-31 24z" fill="#3bd5eb"/><path d="M1579 3834l29-18-31-11-30 18z" fill="#3bebb0"/><path d="M1333 3878l31-23-30-9-31 23z" fill="#3beaeb"/><path d="M1517 3843l30-20-31-10-30 19z" fill="#3bebbb"/><path d="M1394 3864l31-21-30-9-31 21z" fill="#3bebd9"/><path d="M1456 3853l30-21-31-10-30 21z" fill="#3bebc9"/><path d="M1795 3832l28-15-32-13-29 15z" fill="#3beb9f"/><path d="M1179 3935l32-26-30-7-32 26z" fill="#3baaeb"/><path d="M1734 3834l28-15-32-12-29 15z" fill="#3beba2"/><path d="M1240 3917l32-24-30-8-31 24z" fill="#3bc3eb"/><path d="M1672 3839l29-17-32-11-29 17z" fill="#3beba8"/><path d="M1302 3901l31-23-30-9-31 24z" fill="#3bd9eb"/><path d="M1610 3845l30-17-32-12-29 18z" fill="#3bebb1"/><path d="M1364 3886l30-22-30-9-31 23z" fill="#3bebe9"/><path d="M1549 3853l30-19-32-11-30 20z" fill="#3bebbb"/><path d="M1425 3873l31-20-31-10-31 21z" fill="#3bebd7"/><path d="M1487 3862l30-19-31-11-30 21z" fill="#3bebc8"/><path d="M1766 3847l29-15-33-13-28 15z" fill="#3beba5"/><path d="M1208 3942l32-25-29-8-32 26z" fill="#3bb0eb"/><path d="M1705 3850l29-16-33-12-29 17z" fill="#3bebaa"/><path d="M1270 3924l32-23-30-8-32 24z" fill="#3bc7eb"/><path d="M1643 3856l29-17-32-11-30 17z" fill="#3bebb1"/><path d="M1332 3909l32-23-31-8-31 23z" fill="#3bddeb"/><path d="M1581 3863l29-18-31-11-30 19z" fill="#3bebbb"/><path d="M1394 3895l31-22-31-9-30 22z" fill="#3bebe6"/><path d="M1518 3872l31-19-32-10-30 19z" fill="#3bebc7"/><path d="M1456 3883l31-21-31-9-31 20z" fill="#3bebd5"/><path d="M1737 3862l29-15-32-13-29 16z" fill="#3bebab"/><path d="M1238 3949l32-25-30-7-32 25z" fill="#3bb5eb"/><path d="M1675 3867l30-17-33-11-29 17z" fill="#3bebb2"/><path d="M1301 3932l31-23-30-8-32 23z" fill="#3bcceb"/><path d="M1613 3874l30-18-33-11-29 18z" fill="#3bebba"/><path d="M1363 3917l31-22-30-9-32 23z" fill="#3be0eb"/><path d="M1550 3882l31-19-32-10-31 19z" fill="#3bebc6"/><path d="M1425 3904l31-21-31-10-31 22z" fill="#3bebe3"/><path d="M1488 3892l30-20-31-10-31 21z" fill="#3bebd3"/><path d="M1708 3878l29-16-32-12-30 17z" fill="#3bebb2"/><path d="M1269 3956l32-24-31-8-32 25z" fill="#3bbbeb"/><path d="M1645 3884l30-17-32-11-30 18z" fill="#3bebba"/><path d="M1331 3940l32-23-31-8-31 23z" fill="#3bd1eb"/><path d="M1583 3892l30-18-32-11-31 19z" fill="#3bebc4"/><path d="M1394 3925l31-21-31-9-31 22z" fill="#3be4eb"/><path d="M1520 3901l30-19-32-10-30 20z" fill="#3bebd1"/><path d="M1457 3913l31-21-32-9-31 21z" fill="#3bebe0"/><path d="M1299 3963l32-23-30-8-32 24z" fill="#3bc0eb"/><path d="M1678 3895l30-17-33-11-30 17z" fill="#3bebba"/><path d="M1362 3948l32-23-31-8-32 23z" fill="#3bd5eb"/><path d="M1615 3902l30-18-32-10-30 18z" fill="#3bebc3"/><path d="M1426 3934l31-21-32-9-31 21z" fill="#3be8eb"/><path d="M1552 3911l31-19-33-10-30 19z" fill="#3bebcf"/><path d="M1489 3921l31-20-32-9-31 21z" fill="#3bebdd"/><path d="M1330 3971l32-23-31-8-32 23z" fill="#3bc6eb"/><path d="M1648 3912l30-17-33-11-30 18z" fill="#3bebc2"/><path d="M1394 3956l32-22-32-9-32 23z" fill="#3bdaeb"/><path d="M1585 3921l30-19-32-10-31 19z" fill="#3bebcd"/><path d="M1457 3942l32-21-32-8-31 21z" fill="#3bebe9"/><path d="M1521 3931l31-20-32-10-31 20z" fill="#3bebda"/><path d="M1362 3978l32-22-32-8-32 23z" fill="#3bcbeb"/><path d="M1618 3930l30-18-33-10-30 19z" fill="#3bebcb"/><path d="M1426 3964l31-22-31-8-32 22z" fill="#3bdfeb"/><path d="M1554 3940l31-19-33-10-31 20z" fill="#3bebd7"/><path d="M1490 3951l31-20-32-10-32 21z" fill="#3bebe6"/><path d="M1394 3986l32-22-32-8-32 22z" fill="#3bd1eb"/><path d="M1458 3972l32-21-33-9-31 22z" fill="#3be3eb"/><path d="M1587 3949l31-19-33-9-31 19z" fill="#3bebd4"/><path d="M1522 3960l32-20-33-9-31 20z" fill="#3bebe2"/><path d="M1426 3994l32-22-32-8-32 22z" fill="#3bd6eb"/><path d="M1491 3980l31-20-32-9-32 21z" fill="#3be8eb"/><path d="M1555 3968l32-19-33-9-32 20z" fill="#3bebde"/><path d="M1459 4001l32-21-33-8-32 22z" fill="#3bdceb"/><path d="M1524 3989l31-21-33-8-31 20z" fill="#3bebe9"/><path d="M1492 4009l32-20-33-9-32 21z" fill="#3be1eb"/></g><text x="89.9" y="413.4" font-size="2.90" fill="#333" text-anchor="end" stroke="#333" stroke-width=".12">21000</text>
<text x="100.5" y="418.0" font-size="2.90" fill="#333" text-anchor="end" stroke="#333" stroke-width=".12">18100</text>
<text x="111.6" y="422.9" font-size="2.90" fill="#333" text-anchor="end" stroke="#333" stroke-width=".12">15200</text>
<text x="123.1" y="427.9" font-size="2.90" fill="#333" text-anchor="end" stroke="#333" stroke-width=".12">12300</text>
<text x="135.2" y="433.2" font-size="2.90" fill="#333" text-anchor="end" stroke="#333" stroke-width=".12">9400</text>
<text x="147.8" y="438.7" font-size="2.90" fill="#333" text-anchor="end" stroke="#333" stroke-width=".12">6500</text>
<text x="150.0" y="438.3" font-size="2.90" fill="#333" stroke="#333" stroke-width=".12">30</text>
<text x="165.1" y="431.2" font-size="2.90" fill="#333" stroke="#333" stroke-width=".12">35</text>
<text x="179.3" y="424.6" font-size="2.90" fill="#333" stroke="#333" stroke-width=".12">40</text>
<text x="192.7" y="418.4" font-size="2.90" fill="#333" stroke="#333" stroke-width=".12">45</text>
<text x="205.2" y="412.6" font-size="2.90" fill="#333" stroke="#333" stroke-width=".12">50</text>
<circle cx="91.1" cy="410.8" r=".55" fill="#222"/>
<circle cx="101.7" cy="415.4" r=".55" fill="#222"/>
<circle cx="112.8" cy="420.3" r=".55" fill="#222"/>
<circle cx="124.3" cy="425.3" r=".55" fill="#222"/>
<circle cx="136.4" cy="430.6" r=".55" fill="#222"/>
<circle cx="149.0" cy="436.1" r=".55" fill="#222"/>
<circle cx="149.0" cy="436.1" r=".55" fill="#222"/>
<circle cx="164.1" cy="429.0" r=".55" fill="#222"/>
<circle cx="178.3" cy="422.4" r=".55" fill="#222"/>
<circle cx="191.7" cy="416.2" r=".55" fill="#222"/>
<circle cx="204.2" cy="410.4" r=".55" fill="#222"/>
<text x="98.0" y="434.0" font-size="3.00" fill="#333" text-anchor="middle" stroke="#333" stroke-width=".12">B: B (rpm)</text>
<text x="199.0" y="434.0" font-size="3.00" fill="#333" text-anchor="middle" stroke="#333" stroke-width=".12">A: A (mg)</text>
<text x="88.8" y="392.0" font-size="2.90" fill="#333" text-anchor="end" stroke="#333" stroke-width=".12">-75</text>
<circle cx="90.2" cy="391.0" r=".6" fill="#222"/>
<text x="87.9" y="371.6" font-size="2.90" fill="#333" text-anchor="end" stroke="#333" stroke-width=".12">-70</text>
<circle cx="89.3" cy="370.6" r=".6" fill="#222"/>
<text x="87.0" y="350.5" font-size="2.90" fill="#333" text-anchor="end" stroke="#333" stroke-width=".12">-65</text>
<circle cx="88.4" cy="349.5" r=".6" fill="#222"/>
<text x="86.1" y="328.7" font-size="2.90" fill="#333" text-anchor="end" stroke="#333" stroke-width=".12">-60</text>
<circle cx="87.5" cy="327.7" r=".6" fill="#222"/>
<text x="69.5" y="365.0" font-size="2.9" fill="#555" text-anchor="middle" transform="rotate(-90 69.5 365.0)">Zeta potential (mV)</text>
<rect x="78.7" y="318.3" width="8.6" height="3.6" fill="#f2f2f2" stroke="#6a6a6a" stroke-width=".45"/>
<text x="83.0" y="321.3" font-size="2.30" fill="#777" text-anchor="middle" textLength="6.6" lengthAdjust="spacingAndGlyphs">0.0000</text>
<line x1="87.1" y1="321.9" x2="87.5" y2="327.7" stroke="#666" stroke-width=".5"/></g>
<text x="2.0" y="299.8" font-size="3.25" fill="#000" font-weight="bold" textLength="29.5" lengthAdjust="spacingAndGlyphs" stroke-width=".14" stroke="#000">Zeta potential (mV)</text>
<text x="2.0" y="304.9" font-size="3.25" fill="#3030ff" textLength="7.2" lengthAdjust="spacingAndGlyphs" stroke-width=".14" stroke="#3030ff">-74.7</text>
<defs><linearGradient id="grg"><stop offset="0" stop-color="#0010c0"/><stop offset=".3" stop-color="#00c020"/><stop offset=".55" stop-color="#00f000"/><stop offset=".72" stop-color="#20a000"/><stop offset=".85" stop-color="#d02000"/><stop offset="1" stop-color="#c01000"/></linearGradient></defs>
<rect x="10.60" y="301.52" width="11.50" height="4.47" rx="0.60" fill="url(#grg)"/>
<text x="23.5" y="304.9" font-size="3.25" fill="#ff3030" textLength="7.4" lengthAdjust="spacingAndGlyphs" stroke-width=".14" stroke="#ff3030">-62.9</text>
<text x="2.0" y="315.0" font-size="3.25" fill="#222" textLength="9.8" lengthAdjust="spacingAndGlyphs" stroke-width=".14" stroke="#222">X1 = A</text>
<text x="2.0" y="320.1" font-size="3.25" fill="#222" textLength="9.8" lengthAdjust="spacingAndGlyphs" stroke-width=".14" stroke="#222">X2 = B</text>
<text x="2.0" y="330.3" font-size="3.25" fill="#000" font-weight="bold" textLength="19.5" lengthAdjust="spacingAndGlyphs" stroke-width=".14" stroke="#000">Actual Factor</text>
<text x="2.0" y="335.4" font-size="3.25" fill="#222" textLength="16.8" lengthAdjust="spacingAndGlyphs" stroke-width=".14" stroke="#222">C = 5.13761</text>
<g transform="translate(29.60 337.52) scale(0.620)" stroke="#1a1a1a" stroke-width="2.1" fill="none"><path d="M4 1.2H1.2V8.8H8.8V6"/><path d="M3.8 6.2L7.6 2.4"/><path d="M5.2 0.6H9.4V4.8Z" fill="#1a1a1a" stroke-width=".6"/></g>
<g><g stroke="#747474" stroke-width=".65" fill="none"><line x1="310.8" y1="410.5" x2="308.0" y2="328.6"/><line x1="326.9" y1="404.7" x2="325.0" y2="324.8"/><line x1="342.1" y1="399.3" x2="341.1" y2="321.3"/><line x1="356.5" y1="394.1" x2="356.2" y2="318.0"/><line x1="370.2" y1="389.1" x2="370.6" y2="314.9"/><line x1="429.7" y1="410.5" x2="433.4" y2="328.6"/><line x1="418.9" y1="406.6" x2="421.9" y2="326.1"/><line x1="408.4" y1="402.8" x2="410.9" y2="323.7"/><line x1="398.4" y1="399.2" x2="400.2" y2="321.4"/><line x1="388.6" y1="395.8" x2="390.0" y2="319.1"/><line x1="379.2" y1="392.4" x2="380.1" y2="317.0"/><line x1="370.2" y1="389.1" x2="370.6" y2="314.9"/><line x1="310.2" y1="390.9" x2="370.3" y2="371.2"/><line x1="370.3" y1="371.2" x2="430.6" y2="390.8"/><line x1="309.5" y1="370.6" x2="370.3" y2="352.9"/><line x1="370.3" y1="352.9" x2="431.5" y2="370.6"/><line x1="308.8" y1="349.9" x2="370.5" y2="334.1"/><line x1="370.5" y1="334.1" x2="432.5" y2="349.9"/><line x1="308.0" y1="328.6" x2="370.6" y2="314.9"/><line x1="370.6" y1="314.9" x2="433.4" y2="328.6"/></g>
<polyline points="310.8,410.5 308.0,328.6 370.6,314.9 433.4,328.6 429.7,410.5" stroke="#555" stroke-width=".7" fill="none"/>
<line x1="370.2" y1="389.1" x2="370.6" y2="314.9" stroke="#555" stroke-width=".7"/>
<polygon points="310.8,410.5 370.5,437.3 429.7,410.5 370.2,389.1" fill="#646464"/>
<polyline points="310.8,410.5 370.5,437.3 429.7,410.5" stroke="#2a2a2a" stroke-width=".8" fill="none"/>
<polyline points="315.4,412.6 316.4,412.9 317.5,413.2 318.5,413.5 319.1,413.7 320.2,414.1 321.3,414.4 322.0,414.6 322.9,414.9 324.0,415.3 325.1,415.6 325.9,415.9 326.7,416.2 327.8,416.6 328.8,416.9 329.9,417.3 330.9,417.7 331.4,417.9 332.5,418.3 333.5,418.7 334.5,419.1 335.6,419.5 336.6,419.9 337.6,420.3 338.6,420.8 339.5,421.2 340.5,421.6 341.5,422.1 342.4,422.6 343.3,423.0 344.3,423.5 345.2,424.0 345.6,424.2 346.5,424.8 347.3,425.3 348.2,425.8 348.6,426.1 349.4,426.6 350.2,427.2 350.6,427.5 351.3,428.1 351.7,428.4 352.4,429.0 352.8,429.3 352.8,429.3" stroke="#255ccc" stroke-width="1.25" stroke-linejoin="round" fill="none"/>
<polyline points="320.7,407.0 322.0,407.2 322.6,407.4 323.8,407.6 324.4,407.7 325.7,408.0 326.3,408.1 327.5,408.4 328.1,408.5 329.4,408.8 330.0,408.9 331.2,409.2 331.9,409.4 333.1,409.6 333.9,409.8 335.0,410.0 336.0,410.3 336.8,410.4 338.1,410.7 338.7,410.9 339.9,411.1 340.5,411.3 341.8,411.6 342.5,411.7 343.7,412.0 344.7,412.2 345.5,412.4 346.8,412.7 347.4,412.9 348.6,413.2 349.3,413.4 350.5,413.6 351.7,413.9 352.3,414.1 353.6,414.4 354.2,414.6 355.4,414.9 356.7,415.2 357.3,415.3 358.5,415.7 359.6,416.0 360.3,416.2 361.6,416.5 362.5,416.7 363.4,417.0 364.6,417.3 365.7,417.6 366.4,417.8 367.6,418.2 368.8,418.5 369.4,418.7 370.6,419.1 371.7,419.5 372.9,419.8 373.7,420.1 374.6,420.4 375.8,420.8 376.9,421.2 378.0,421.6 379.2,422.0 380.2,422.5 381.3,422.9 382.4,423.4 383.4,423.8 384.5,424.3 385.5,424.8 386.4,425.3 386.9,425.6 387.8,426.1 388.7,426.6 389.2,427.0 390.0,427.5 390.7,428.0 390.8,428.1" stroke="#25c9cc" stroke-width="1.25" stroke-linejoin="round" fill="none"/>
<polyline points="331.4,403.1 332.0,403.2 333.4,403.4 334.0,403.5 335.0,403.7 336.1,403.9 336.7,404.0 338.0,404.2 338.8,404.3 339.5,404.4 340.8,404.6 341.5,404.7 342.6,404.8 343.6,405.0 344.2,405.1 345.6,405.3 346.3,405.4 347.2,405.5 348.4,405.7 349.1,405.8 350.3,406.0 351.2,406.1 351.9,406.2 353.3,406.4 354.0,406.5 354.9,406.7 356.1,406.8 356.8,407.0 357.9,407.1 358.9,407.3 359.6,407.4 361.0,407.6 361.8,407.7 362.5,407.8 363.9,408.0 364.6,408.1 365.5,408.2 366.8,408.4 367.5,408.5 368.6,408.6 369.7,408.8 370.4,408.9 371.6,409.0 372.6,409.2 373.3,409.3 374.6,409.5 375.6,409.6 376.3,409.7 377.6,409.9 378.5,410.0 379.3,410.1 380.6,410.2 381.5,410.4 382.3,410.5 383.6,410.6 384.6,410.8 385.3,410.8 386.5,411.0 387.6,411.1 388.4,411.2 389.4,411.4 390.7,411.5 391.5,411.6 392.3,411.7 393.7,411.9 394.6,412.0 395.4,412.0 396.5,412.2 397.7,412.3 398.5,412.4 399.3,412.5 400.7,412.6 401.7,412.7 402.6,412.8 403.5,412.9 404.8,413.0 405.8,413.1 406.6,413.2 407.5,413.3 408.8,413.4 410.0,413.5 410.8,413.6 411.7,413.6 412.7,413.7 413.9,413.8 415.1,413.9 416.0,414.0 416.8,414.0 417.7,414.1 418.9,414.2 420.1,414.2 421.2,414.3 421.3,414.3" stroke="#25cc61" stroke-width="1.25" stroke-linejoin="round" fill="none"/>
<g transform="scale(.1)" stroke="#000" stroke-opacity=".26" stroke-width="5.5" stroke-linejoin="round"><path d="M3706 3204l28-28-28-27-29 29z" fill="#eb2a2a"/><path d="M3677 3233l29-29-29-26-28 30z" fill="#eb3f2a"/><path d="M3734 3230l28-28-28-26-28 28z" fill="#eb3a2a"/><path d="M3649 3262l28-29-28-25-29 29z" fill="#eb642a"/><path d="M3706 3258l28-28-28-26-29 29z" fill="#eb5e2a"/><path d="M3762 3255l29-28-29-25-28 28z" fill="#eb592a"/><path d="M3620 3291l29-29-29-25-28 30z" fill="#eb882a"/><path d="M3677 3287l29-29-29-25-28 29z" fill="#eb812a"/><path d="M3734 3283l28-28-28-25-28 28z" fill="#eb7b2a"/><path d="M3791 3280l28-27-28-26-29 28z" fill="#eb772a"/><path d="M3591 3321l29-30-28-24-29 30z" fill="#ebad2a"/><path d="M3648 3315l29-28-28-25-29 29z" fill="#eba42a"/><path d="M3706 3311l28-28-28-25-29 29z" fill="#eb9d2a"/><path d="M3763 3307l28-27-29-25-28 28z" fill="#eb982a"/><path d="M3820 3304l29-26-30-25-28 27z" fill="#eb942a"/><path d="M3561 3351l30-30-28-24-30 31z" fill="#ebd12a"/><path d="M3619 3344l29-29-28-24-29 30z" fill="#ebc82a"/><path d="M3677 3339l29-28-29-24-29 28z" fill="#ebbf2a"/><path d="M3734 3334l29-27-29-24-28 28z" fill="#ebb82a"/><path d="M3792 3331l28-27-29-24-28 27z" fill="#ebb32a"/><path d="M3850 3328l28-26-29-24-29 26z" fill="#ebaf2a"/><path d="M3532 3381l29-30-28-23-29 30z" fill="#dfeb2a"/><path d="M3590 3374l29-30-28-23-30 30z" fill="#eaeb2a"/><path d="M3648 3367l29-28-29-24-29 29z" fill="#ebe12a"/><path d="M3706 3362l28-28-28-23-29 28z" fill="#ebd92a"/><path d="M3763 3357l29-26-29-24-29 27z" fill="#ebd32a"/><path d="M3821 3354l29-26-30-24-28 27z" fill="#ebce2a"/><path d="M3879 3351l28-25-29-24-28 26z" fill="#ebca2a"/><path d="M3502 3411l30-30-28-23-30 31z" fill="#bbeb2a"/><path d="M3560 3403l30-29-29-23-29 30z" fill="#c7eb2a"/><path d="M3618 3396l30-29-29-23-29 30z" fill="#d2eb2a"/><path d="M3676 3390l30-28-29-23-29 28z" fill="#dbeb2a"/><path d="M3735 3385l28-28-29-23-28 28z" fill="#e3eb2a"/><path d="M3793 3380l28-26-29-23-29 26z" fill="#e9eb2a"/><path d="M3851 3377l28-26-29-23-29 26z" fill="#ebe72a"/><path d="M3909 3375l28-25-30-24-28 25z" fill="#ebe42a"/><path d="M3472 3442l30-31-28-22-30 31z" fill="#96eb2a"/><path d="M3530 3433l30-30-28-22-30 30z" fill="#a4eb2a"/><path d="M3589 3425l29-29-28-22-30 29z" fill="#b0eb2a"/><path d="M3647 3418l29-28-28-23-30 29z" fill="#baeb2a"/><path d="M3706 3412l29-27-29-23-30 28z" fill="#c3eb2a"/><path d="M3764 3407l29-27-30-23-28 28z" fill="#cbeb2a"/><path d="M3823 3403l28-26-30-23-28 26z" fill="#d1eb2a"/><path d="M3881 3399l28-24-30-24-28 26z" fill="#d6eb2a"/><path d="M3940 3397l28-24-31-23-28 25z" fill="#d9eb2a"/><path d="M3442 3472l30-30-28-22-30 32z" fill="#71eb2a"/><path d="M3500 3463l30-30-28-22-30 31z" fill="#80eb2a"/><path d="M3559 3454l30-29-29-22-30 30z" fill="#8eeb2a"/><path d="M3617 3446l30-28-29-22-29 29z" fill="#9aeb2a"/><path d="M3676 3439l30-27-30-22-29 28z" fill="#a4eb2a"/><path d="M3735 3433l29-26-29-22-29 27z" fill="#adeb2a"/><path d="M3794 3428l29-25-30-23-29 27z" fill="#b4eb2a"/><path d="M3852 3424l29-25-30-22-28 26z" fill="#baeb2a"/><path d="M3911 3421l29-24-31-22-28 24z" fill="#beeb2a"/><path d="M3970 3419l28-23-30-23-28 24z" fill="#c1eb2a"/><path d="M3411 3504l31-32-28-20-31 31z" fill="#4deb2a"/><path d="M3470 3493l30-30-28-21-30 30z" fill="#5deb2a"/><path d="M3529 3483l30-29-29-21-30 30z" fill="#6ceb2a"/><path d="M3588 3475l29-29-28-21-30 29z" fill="#79eb2a"/><path d="M3647 3467l29-28-29-21-30 28z" fill="#84eb2a"/><path d="M3706 3460l29-27-29-21-30 27z" fill="#8eeb2a"/><path d="M3765 3455l29-27-30-21-29 26z" fill="#97eb2a"/><path d="M3824 3450l28-26-29-21-29 25z" fill="#9eeb2a"/><path d="M3883 3446l28-25-30-22-29 25z" fill="#a4eb2a"/><path d="M3942 3443l28-24-30-22-29 24z" fill="#a8eb2a"/><path d="M4001 3441l28-23-31-22-28 23z" fill="#aaeb2a"/><path d="M3380 3535l31-31-28-21-31 32z" fill="#2aeb2c"/><path d="M3439 3523l31-30-28-21-31 32z" fill="#3aeb2a"/><path d="M3498 3513l31-30-29-20-30 30z" fill="#4aeb2a"/><path d="M3558 3504l30-29-29-21-30 29z" fill="#58eb2a"/><path d="M3617 3495l30-28-30-21-29 29z" fill="#65eb2a"/><path d="M3676 3488l30-28-30-21-29 28z" fill="#70eb2a"/><path d="M3735 3481l30-26-30-22-29 27z" fill="#7aeb2a"/><path d="M3795 3475l29-25-30-22-29 27z" fill="#82eb2a"/><path d="M3854 3471l29-25-31-22-28 26z" fill="#89eb2a"/><path d="M3913 3467l29-24-31-22-28 25z" fill="#8eeb2a"/><path d="M3973 3464l28-23-31-22-28 24z" fill="#92eb2a"/><path d="M4032 3462l28-22-31-22-28 23z" fill="#95eb2a"/><path d="M3349 3566l31-31-28-20-31 32z" fill="#2aeb51"/><path d="M3409 3554l30-31-28-19-31 31z" fill="#2aeb3e"/><path d="M3468 3543l30-30-28-20-31 30z" fill="#2aeb2d"/><path d="M3527 3533l31-29-29-21-31 30z" fill="#37eb2a"/><path d="M3587 3523l30-28-29-20-30 29z" fill="#45eb2a"/><path d="M3646 3515l30-27-29-21-30 28z" fill="#52eb2a"/><path d="M3706 3508l29-27-29-21-30 28z" fill="#5deb2a"/><path d="M3765 3501l30-26-30-20-30 26z" fill="#67eb2a"/><path d="M3825 3496l29-25-30-21-29 25z" fill="#6feb2a"/><path d="M3884 3491l29-24-30-21-29 25z" fill="#75eb2a"/><path d="M3944 3488l29-24-31-21-29 24z" fill="#7aeb2a"/><path d="M4063 3483l28-21-31-22-28 22z" fill="#80eb2a"/><path d="M4004 3485l28-23-31-21-28 23z" fill="#7eeb2a"/><path d="M3318 3598l31-32-28-19-31 33z" fill="#2aeb75"/><path d="M3377 3585l32-31-29-19-31 31z" fill="#2aeb61"/><path d="M3437 3573l31-30-29-20-30 31z" fill="#2aeb4f"/><path d="M3497 3562l30-29-29-20-30 30z" fill="#2aeb3e"/><path d="M3556 3552l31-29-29-19-31 29z" fill="#2aeb2f"/><path d="M3616 3543l30-28-29-20-30 28z" fill="#34eb2a"/><path d="M3676 3534l30-26-30-20-30 27z" fill="#40eb2a"/><path d="M3736 3527l29-26-30-20-29 27z" fill="#4beb2a"/><path d="M3795 3521l30-25-30-21-30 26z" fill="#54eb2a"/><path d="M3286 3630l32-32-28-18-31 32z" fill="#2aeb9a"/><path d="M3855 3515l29-24-30-20-29 25z" fill="#5ceb2a"/><path d="M3915 3511l29-23-31-21-29 24z" fill="#62eb2a"/><path d="M3975 3508l29-23-31-21-29 24z" fill="#67eb2a"/><path d="M4095 3504l28-21-32-21-28 21z" fill="#6ceb2a"/><path d="M4035 3505l28-22-31-21-28 23z" fill="#6aeb2a"/><path d="M3346 3616l31-31-28-19-31 32z" fill="#2aeb85"/><path d="M3406 3604l31-31-28-19-32 31z" fill="#2aeb71"/><path d="M3466 3592l31-30-29-19-31 30z" fill="#2aeb5f"/><path d="M3526 3581l30-29-29-19-30 29z" fill="#2aeb4e"/><path d="M3586 3571l30-28-29-20-31 29z" fill="#2aeb3f"/><path d="M3646 3561l30-27-30-19-30 28z" fill="#2aeb31"/><path d="M3706 3553l30-26-30-19-30 26z" fill="#2feb2a"/><path d="M3255 3663l31-33-27-18-32 33z" fill="#2aebbf"/><path d="M3766 3546l29-25-30-20-29 26z" fill="#3aeb2a"/><path d="M3826 3540l29-25-30-19-30 25z" fill="#43eb2a"/><path d="M3314 3648l32-32-28-18-32 32z" fill="#2aeba8"/><path d="M3886 3535l29-24-31-20-29 24z" fill="#4aeb2a"/><path d="M3946 3531l29-23-31-20-29 23z" fill="#50eb2a"/><path d="M4007 3527l28-22-31-20-29 23z" fill="#55eb2a"/><path d="M4127 3524l28-21-32-20-28 21z" fill="#59eb2a"/><path d="M4067 3525l28-21-32-21-28 22z" fill="#58eb2a"/><path d="M3374 3634l32-30-29-19-31 31z" fill="#2aeb93"/><path d="M3434 3621l32-29-29-19-31 31z" fill="#2aeb80"/><path d="M3495 3610l31-29-29-19-31 30z" fill="#2aeb6e"/><path d="M3555 3599l31-28-30-19-30 29z" fill="#2aeb5d"/><path d="M3615 3589l31-28-30-18-30 28z" fill="#2aeb4e"/><path d="M3222 3695l33-32-28-18-32 33z" fill="#2aebe3"/><path d="M3676 3580l30-27-30-19-30 27z" fill="#2aeb41"/><path d="M3736 3572l30-26-30-19-30 26z" fill="#2aeb35"/><path d="M3283 3680l31-32-28-18-31 33z" fill="#2aebcb"/><path d="M3796 3565l30-25-31-19-29 25z" fill="#2aeb2b"/><path d="M3857 3559l29-24-31-20-29 25z" fill="#32eb2a"/><path d="M3917 3554l29-23-31-20-29 24z" fill="#3aeb2a"/><path d="M3343 3665l31-31-28-18-32 32z" fill="#2aebb5"/><path d="M3978 3550l29-23-32-19-29 23z" fill="#3feb2a"/><path d="M4159 3543l28-20-32-20-28 21z" fill="#48eb2a"/><path d="M4038 3547l29-22-32-20-28 22z" fill="#44eb2a"/><path d="M4099 3544l28-20-32-20-28 21z" fill="#47eb2a"/><path d="M3403 3652l31-31-28-17-32 30z" fill="#2aeba0"/><path d="M3463 3639l32-29-29-18-32 29z" fill="#2aeb8d"/><path d="M3524 3627l31-28-29-18-31 29z" fill="#2aeb7c"/><path d="M3190 3728l32-33-27-17-32 34z" fill="#2aceeb"/><path d="M3584 3616l31-27-29-18-31 28z" fill="#2aeb6c"/><path d="M3645 3607l31-27-30-19-31 28z" fill="#2aeb5d"/><path d="M3250 3712l33-32-28-17-33 32z" fill="#2ae7eb"/><path d="M3706 3598l30-26-30-19-30 27z" fill="#2aeb50"/><path d="M3767 3590l29-25-30-19-30 26z" fill="#2aeb44"/><path d="M3311 3696l32-31-29-17-31 32z" fill="#2aebd7"/><path d="M3827 3583l30-24-31-19-30 25z" fill="#2aeb3a"/><path d="M3888 3577l29-23-31-19-29 24z" fill="#2aeb31"/><path d="M3949 3572l29-22-32-19-29 23z" fill="#2aeb2a"/><path d="M4010 3568l28-21-31-20-29 23z" fill="#30eb2a"/><path d="M4192 3562l28-19-33-20-28 20z" fill="#37eb2a"/><path d="M4071 3565l28-21-32-19-29 22z" fill="#34eb2a"/><path d="M4131 3563l28-20-32-19-28 20z" fill="#36eb2a"/><path d="M3371 3682l32-30-29-18-31 31z" fill="#2aebc1"/><path d="M3432 3668l31-29-29-18-31 31z" fill="#2aebad"/><path d="M3493 3656l31-29-29-17-32 29z" fill="#2aeb9a"/><path d="M3157 3762l33-34-27-16-33 34z" fill="#2aa9eb"/><path d="M3553 3644l31-28-29-17-31 28z" fill="#2aeb89"/><path d="M3218 3744l32-32-28-17-32 33z" fill="#2ac3eb"/><path d="M3614 3634l31-27-30-18-31 27z" fill="#2aeb79"/><path d="M3675 3624l31-26-30-18-31 27z" fill="#2aeb6a"/><path d="M3278 3728l33-32-28-16-33 32z" fill="#2adceb"/><path d="M3736 3615l31-25-31-18-30 26z" fill="#2aeb5d"/><path d="M3797 3607l30-24-31-18-29 25z" fill="#2aeb52"/><path d="M3859 3601l29-24-31-18-30 24z" fill="#2aeb48"/><path d="M3339 3713l32-31-28-17-32 31z" fill="#2aebe2"/><path d="M3920 3595l29-23-32-18-29 23z" fill="#2aeb40"/><path d="M3981 3590l29-22-32-18-29 22z" fill="#2aeb39"/><path d="M4042 3586l29-21-33-18-28 21z" fill="#2aeb34"/><path d="M4225 3581l28-19-33-19-28 19z" fill="#2aeb2d"/><path d="M4103 3584l28-21-32-19-28 21z" fill="#2aeb30"/><path d="M4164 3582l28-20-33-19-28 20z" fill="#2aeb2e"/><path d="M3400 3698l32-30-29-16-32 30z" fill="#2aebcc"/><path d="M3124 3795l33-33-27-16-33 34z" fill="#2a84eb"/><path d="M3461 3685l32-29-30-17-31 29z" fill="#2aebb8"/><path d="M3522 3672l31-28-29-17-31 29z" fill="#2aeba6"/><path d="M3185 3777l33-33-28-16-33 34z" fill="#2aa0eb"/><path d="M3583 3661l31-27-30-18-31 28z" fill="#2aeb94"/><path d="M3645 3650l30-26-30-17-31 27z" fill="#2aeb85"/><path d="M3246 3760l32-32-28-16-32 32z" fill="#2abaeb"/><path d="M3706 3641l30-26-30-17-31 26z" fill="#2aeb77"/><path d="M3767 3632l30-25-30-17-31 25z" fill="#2aeb6a"/><path d="M3307 3744l32-31-28-17-33 32z" fill="#2ad2eb"/><path d="M3829 3624l30-23-32-18-30 24z" fill="#2aeb5f"/><path d="M3890 3618l30-23-32-18-29 24z" fill="#2aeb55"/><path d="M3368 3728l32-30-29-16-32 31z" fill="#2ae9eb"/><path d="M3952 3612l29-22-32-18-29 23z" fill="#2aeb4d"/><path d="M4013 3608l29-22-32-18-29 22z" fill="#2aeb47"/><path d="M4259 3599l27-18-33-19-28 19z" fill="#2aeb3c"/><path d="M4074 3604l29-20-32-19-29 21z" fill="#2aeb42"/><path d="M4197 3600l28-19-33-19-28 20z" fill="#2aeb3c"/><path d="M4136 3601l28-19-33-19-28 21z" fill="#2aeb3e"/><path d="M3429 3714l32-29-29-17-32 30z" fill="#2aebd6"/><path d="M3152 3810l33-33-28-15-33 33z" fill="#2a7deb"/><path d="M3491 3701l31-29-29-16-32 29z" fill="#2aebc3"/><path d="M3552 3688l31-27-30-17-31 28z" fill="#2aebb0"/><path d="M3213 3792l33-32-28-16-33 33z" fill="#2a98eb"/><path d="M3614 3677l31-27-31-16-31 27z" fill="#2aeb9f"/><path d="M3675 3666l31-25-31-17-30 26z" fill="#2aeb90"/><path d="M3274 3775l33-31-29-16-32 32z" fill="#2ab2eb"/><path d="M3737 3657l30-25-31-17-30 26z" fill="#2aeb82"/><path d="M3798 3649l31-25-32-17-30 25z" fill="#2aeb76"/><path d="M3336 3759l32-31-29-15-32 31z" fill="#2acaeb"/><path d="M3860 3641l30-23-31-17-30 23z" fill="#2aeb6b"/><path d="M3922 3635l30-23-32-17-30 23z" fill="#2aeb61"/><path d="M3984 3629l29-21-32-18-29 22z" fill="#2aeb5a"/><path d="M3397 3743l32-29-29-16-32 30z" fill="#2ae0eb"/><path d="M4046 3625l28-21-32-18-29 22z" fill="#2aeb53"/><path d="M4293 3617l27-18-34-18-27 18z" fill="#2aeb49"/><path d="M4107 3621l29-20-33-17-29 20z" fill="#2aeb4e"/><path d="M4231 3617l28-18-34-18-28 19z" fill="#2aeb49"/><path d="M4169 3619l28-19-33-18-28 19z" fill="#2aeb4b"/><path d="M3459 3729l32-28-30-16-32 29z" fill="#2aebe0"/><path d="M3520 3716l32-28-30-16-31 29z" fill="#2aebcc"/><path d="M3180 3824l33-32-28-15-33 33z" fill="#2a76eb"/><path d="M3582 3704l32-27-31-16-31 27z" fill="#2aebba"/><path d="M3241 3806l33-31-28-15-33 32z" fill="#2a91eb"/><path d="M3644 3692l31-26-30-16-31 27z" fill="#2aeba9"/><path d="M3706 3682l31-25-31-16-31 25z" fill="#2aeb9a"/><path d="M3303 3789l33-30-29-15-33 31z" fill="#2aaaeb"/><path d="M3768 3673l30-24-31-17-30 25z" fill="#2aeb8c"/><path d="M3830 3664l30-23-31-17-31 25z" fill="#2aeb80"/><path d="M3365 3773l32-30-29-15-32 31z" fill="#2ac2eb"/><path d="M3892 3657l30-22-32-17-30 23z" fill="#2aeb76"/><path d="M3954 3651l30-22-32-17-30 23z" fill="#2aeb6d"/><path d="M4016 3645l30-20-33-17-29 21z" fill="#2aeb65"/><path d="M4079 3641l28-20-33-17-28 21z" fill="#2aeb5f"/><path d="M3426 3758l33-29-30-15-32 29z" fill="#2ad9eb"/><path d="M4141 3638l28-19-33-18-29 20z" fill="#2aeb5a"/><path d="M4265 3634l28-17-34-18-28 18z" fill="#2aeb56"/><path d="M4203 3635l28-18-34-17-28 19z" fill="#2aeb57"/><path d="M3488 3744l32-28-29-15-32 28z" fill="#2aebe8"/><path d="M3551 3731l31-27-30-16-32 28z" fill="#2aebd4"/><path d="M3208 3838l33-32-28-14-33 32z" fill="#2a70eb"/><path d="M3613 3719l31-27-30-15-32 27z" fill="#2aebc2"/><path d="M3270 3820l33-31-29-14-33 31z" fill="#2a8beb"/><path d="M3675 3708l31-26-31-16-31 26z" fill="#2aebb2"/><path d="M3737 3697l31-24-31-16-31 25z" fill="#2aeba3"/><path d="M3332 3803l33-30-29-14-33 30z" fill="#2aa4eb"/><path d="M3800 3688l30-24-32-15-30 24z" fill="#2aeb96"/><path d="M3862 3680l30-23-32-16-30 23z" fill="#2aeb8a"/><path d="M3924 3673l30-22-32-16-30 22z" fill="#2aeb7f"/><path d="M3394 3787l32-29-29-15-32 30z" fill="#2abceb"/><path d="M3987 3667l29-22-32-16-30 22z" fill="#2aeb77"/><path d="M4049 3661l30-20-33-16-30 20z" fill="#2aeb6f"/><path d="M4112 3657l29-19-34-17-28 20z" fill="#2aeb69"/><path d="M4174 3654l29-19-34-16-28 19z" fill="#2aeb65"/><path d="M4237 3652l28-18-34-17-28 18z" fill="#2aeb62"/><path d="M3456 3772l32-28-29-15-33 29z" fill="#2ad2eb"/><path d="M3519 3758l32-27-31-15-32 28z" fill="#2ae7eb"/><path d="M3581 3745l32-26-31-15-31 27z" fill="#2aebdc"/><path d="M3237 3851l33-31-29-14-33 32z" fill="#2a6beb"/><path d="M3643 3733l32-25-31-16-31 27z" fill="#2aebca"/><path d="M3706 3722l31-25-31-15-31 26z" fill="#2aebba"/><path d="M3299 3834l33-31-29-14-33 31z" fill="#2a86eb"/><path d="M3769 3712l31-24-32-15-31 24z" fill="#2aebab"/><path d="M3831 3703l31-23-32-16-30 24z" fill="#2aeb9e"/><path d="M3361 3817l33-30-29-14-33 30z" fill="#2a9feb"/><path d="M3894 3695l30-22-32-16-30 23z" fill="#2aeb92"/><path d="M3957 3688l30-21-33-16-30 22z" fill="#2aeb88"/><path d="M3424 3801l32-29-30-14-32 29z" fill="#2ab6eb"/><path d="M4020 3682l29-21-33-16-29 22z" fill="#2aeb80"/><path d="M4083 3677l29-20-33-16-30 20z" fill="#2aeb79"/><path d="M4146 3673l28-19-33-16-29 19z" fill="#2aeb73"/><path d="M4208 3670l29-18-34-17-29 19z" fill="#2aeb6f"/><path d="M3486 3786l33-28-31-14-32 28z" fill="#2acceb"/><path d="M3549 3772l32-27-30-14-32 27z" fill="#2ae0eb"/><path d="M3612 3759l31-26-30-14-32 26z" fill="#2aebe2"/><path d="M3266 3864l33-30-29-14-33 31z" fill="#2a67eb"/><path d="M3675 3747l31-25-31-14-32 25z" fill="#2aebd0"/><path d="M3738 3736l31-24-32-15-31 25z" fill="#2aebc1"/><path d="M3328 3846l33-29-29-14-33 31z" fill="#2a82eb"/><path d="M3801 3726l30-23-31-15-31 24z" fill="#2aebb2"/><path d="M3864 3717l30-22-32-15-31 23z" fill="#2aeba5"/><path d="M3391 3830l33-29-30-14-33 30z" fill="#2a9aeb"/><path d="M3927 3709l30-21-33-15-30 22z" fill="#2aeb9a"/><path d="M3990 3702l30-20-33-15-30 21z" fill="#2aeb90"/><path d="M4053 3697l30-20-34-16-29 21z" fill="#2aeb88"/><path d="M3454 3814l32-28-30-14-32 29z" fill="#2ab2eb"/><path d="M4116 3692l30-19-34-16-29 20z" fill="#2aeb81"/><path d="M4180 3688l28-18-34-16-28 19z" fill="#2aeb7c"/><path d="M3517 3799l32-27-30-14-33 28z" fill="#2ac7eb"/><path d="M3580 3785l32-26-31-14-32 27z" fill="#2adbeb"/><path d="M3643 3772l32-25-32-14-31 26z" fill="#2aebe7"/><path d="M3295 3876l33-30-29-12-33 30z" fill="#2a65eb"/><path d="M3706 3761l32-25-32-14-31 25z" fill="#2aebd6"/><path d="M3770 3750l31-24-32-14-31 24z" fill="#2aebc6"/><path d="M3358 3859l33-29-30-13-33 29z" fill="#2a7feb"/><path d="M3833 3740l31-23-33-14-30 23z" fill="#2aebb8"/><path d="M3896 3731l31-22-33-14-30 22z" fill="#2aebac"/><path d="M3421 3842l33-28-30-13-33 29z" fill="#2a97eb"/><path d="M3960 3723l30-21-33-14-30 21z" fill="#2aeba0"/><path d="M4024 3717l29-20-33-15-30 20z" fill="#2aeb97"/><path d="M4087 3711l29-19-33-15-30 20z" fill="#2aeb8f"/><path d="M4151 3706l29-18-34-15-30 19z" fill="#2aeb88"/><path d="M3484 3826l33-27-31-13-32 28z" fill="#2aaeeb"/><path d="M3547 3812l33-27-31-13-32 27z" fill="#2ac3eb"/><path d="M3611 3798l32-26-31-13-32 26z" fill="#2ad7eb"/><path d="M3674 3785l32-24-31-14-32 25z" fill="#2aeaeb"/><path d="M3324 3888l34-29-30-13-33 30z" fill="#2a63eb"/><path d="M3738 3774l32-24-32-14-32 25z" fill="#2aebdb"/><path d="M3802 3763l31-23-32-14-31 24z" fill="#2aebcb"/><path d="M3388 3871l33-29-30-12-33 29z" fill="#2a7deb"/><path d="M3866 3753l30-22-32-14-31 23z" fill="#2aebbd"/><path d="M3930 3744l30-21-33-14-31 22z" fill="#2aebb1"/><path d="M3993 3737l31-20-34-15-30 21z" fill="#2aeba6"/><path d="M3451 3854l33-28-30-12-33 28z" fill="#2a95eb"/><path d="M4057 3730l30-19-34-14-29 20z" fill="#2aeb9d"/><path d="M4121 3724l30-18-35-14-29 19z" fill="#2aeb95"/><path d="M3515 3838l32-26-30-13-33 27z" fill="#2aabeb"/><path d="M3579 3824l32-26-31-13-33 27z" fill="#2ac1eb"/><path d="M3642 3810l32-25-31-13-32 26z" fill="#2ad4eb"/><path d="M3706 3798l32-24-32-13-32 24z" fill="#2ae7eb"/><path d="M3770 3786l32-23-32-13-32 24z" fill="#2aebde"/><path d="M3354 3899l34-28-30-12-34 29z" fill="#2a62eb"/><path d="M3835 3775l31-22-33-13-31 23z" fill="#2aebcf"/><path d="M3899 3766l31-22-34-13-30 22z" fill="#2aebc1"/><path d="M3418 3882l33-28-30-12-33 29z" fill="#2a7ceb"/><path d="M3963 3757l30-20-33-14-30 21z" fill="#2aebb5"/><path d="M4027 3750l30-20-33-13-31 20z" fill="#2aebab"/><path d="M3482 3865l33-27-31-12-33 28z" fill="#2a93eb"/><path d="M4092 3743l29-19-34-13-30 19z" fill="#2aeba1"/><path d="M3546 3850l33-26-32-12-32 26z" fill="#2aaaeb"/><path d="M3610 3835l32-25-31-12-32 26z" fill="#2abfeb"/><path d="M3674 3822l32-24-32-13-32 25z" fill="#2ad2eb"/><path d="M3739 3809l31-23-32-12-32 24z" fill="#2ae4eb"/><path d="M3803 3798l32-23-33-12-32 23z" fill="#2aebe1"/><path d="M3384 3910l34-28-30-11-34 28z" fill="#2a62eb"/><path d="M3868 3787l31-21-33-13-31 22z" fill="#2aebd2"/><path d="M3932 3778l31-21-33-13-31 22z" fill="#2aebc4"/><path d="M3448 3893l34-28-31-11-33 28z" fill="#2a7ceb"/><path d="M3997 3769l30-19-34-13-30 20z" fill="#2aebb8"/><path d="M4062 3762l30-19-35-13-30 20z" fill="#2aebae"/><path d="M3513 3876l33-26-31-12-33 27z" fill="#2a93eb"/><path d="M3577 3861l33-26-31-11-33 26z" fill="#2aa9eb"/><path d="M3642 3846l32-24-32-12-32 25z" fill="#2abeeb"/><path d="M3707 3833l32-24-33-11-32 24z" fill="#2ad1eb"/><path d="M3771 3821l32-23-33-12-31 23z" fill="#2ae3eb"/><path d="M3836 3809l32-22-33-12-32 23z" fill="#2aebe2"/><path d="M3415 3920l33-27-30-11-34 28z" fill="#2a64eb"/><path d="M3901 3799l31-21-33-12-31 21z" fill="#2aebd3"/><path d="M3966 3789l31-20-34-12-31 21z" fill="#2aebc6"/><path d="M3479 3903l34-27-31-11-34 28z" fill="#2a7deb"/><path d="M4031 3781l31-19-35-12-30 19z" fill="#2aebbb"/><path d="M3544 3887l33-26-31-11-33 26z" fill="#2a94eb"/><path d="M3609 3871l33-25-32-11-33 26z" fill="#2aaaeb"/><path d="M3674 3857l33-24-33-11-32 24z" fill="#2abeeb"/><path d="M3739 3844l32-23-32-12-32 24z" fill="#2ad1eb"/><path d="M3804 3831l32-22-33-11-32 23z" fill="#2ae3eb"/><path d="M3870 3820l31-21-33-12-32 22z" fill="#2aebe3"/><path d="M3446 3930l33-27-31-10-33 27z" fill="#2a66eb"/><path d="M3935 3810l31-21-34-11-31 21z" fill="#2aebd4"/><path d="M4001 3800l30-19-34-12-31 20z" fill="#2aebc7"/><path d="M3511 3913l33-26-31-11-34 27z" fill="#2a7feb"/><path d="M3576 3896l33-25-32-10-33 26z" fill="#2a96eb"/><path d="M3641 3881l33-24-32-11-33 25z" fill="#2aabeb"/><path d="M3707 3867l32-23-32-11-33 24z" fill="#2ac0eb"/><path d="M3772 3854l32-23-33-10-32 23z" fill="#2ad2eb"/><path d="M3838 3841l32-21-34-11-32 22z" fill="#2ae3eb"/><path d="M3904 3830l31-20-34-11-31 21z" fill="#2aebe2"/><path d="M3970 3820l31-20-35-11-31 21z" fill="#2aebd4"/><path d="M3477 3939l34-26-32-10-33 27z" fill="#2a69eb"/><path d="M3542 3922l34-26-32-9-33 26z" fill="#2a82eb"/><path d="M3608 3905l33-24-32-10-33 25z" fill="#2a99eb"/><path d="M3674 3890l33-23-33-10-33 24z" fill="#2aaeeb"/><path d="M3740 3876l32-22-33-10-32 23z" fill="#2ac2eb"/><path d="M3806 3863l32-22-34-10-32 23z" fill="#2ad4eb"/><path d="M3872 3851l32-21-34-10-32 21z" fill="#2ae5eb"/><path d="M3938 3840l32-20-35-10-31 20z" fill="#2aebe1"/><path d="M3509 3947l33-25-31-9-34 26z" fill="#2a6deb"/><path d="M3575 3930l33-25-32-9-34 26z" fill="#2a86eb"/><path d="M3641 3914l33-24-33-9-33 24z" fill="#2a9ceb"/><path d="M3707 3899l33-23-33-9-33 23z" fill="#2ab2eb"/><path d="M3773 3885l33-22-34-9-32 22z" fill="#2ac5eb"/><path d="M3840 3872l32-21-34-10-32 22z" fill="#2ad7eb"/><path d="M3906 3860l32-20-34-10-32 21z" fill="#2ae8eb"/><path d="M3541 3955l34-25-33-8-33 25z" fill="#2a73eb"/><path d="M3607 3938l34-24-33-9-33 25z" fill="#2a8beb"/><path d="M3674 3922l33-23-33-9-33 24z" fill="#2aa1eb"/><path d="M3740 3907l33-22-33-9-33 23z" fill="#2ab6eb"/><path d="M3807 3893l33-21-34-9-33 22z" fill="#2ac9eb"/><path d="M3874 3880l32-20-34-9-32 21z" fill="#2adbeb"/><path d="M3573 3962l34-24-32-8-34 25z" fill="#2a79eb"/><path d="M3640 3945l34-23-33-8-34 24z" fill="#2a91eb"/><path d="M3707 3929l33-22-33-8-33 23z" fill="#2aa7eb"/><path d="M3774 3914l33-21-34-8-33 22z" fill="#2abceb"/><path d="M3842 3900l32-20-34-8-33 21z" fill="#2acfeb"/><path d="M3606 3969l34-24-33-7-34 24z" fill="#2a80eb"/><path d="M3674 3952l33-23-33-7-34 23z" fill="#2a98eb"/><path d="M3741 3936l33-22-34-7-33 22z" fill="#2aaeeb"/><path d="M3809 3921l33-21-35-7-33 21z" fill="#2ac2eb"/><path d="M3640 3975l34-23-34-7-34 24z" fill="#2a89eb"/><path d="M3707 3958l34-22-34-7-33 23z" fill="#2aa0eb"/><path d="M3775 3942l34-21-35-7-33 22z" fill="#2ab6eb"/><path d="M3673 3980l34-22-33-6-34 23z" fill="#2a92eb"/><path d="M3742 3963l33-21-34-6-34 22z" fill="#2aa9eb"/><path d="M3708 3985l34-22-35-5-34 22z" fill="#2a9ceb"/></g><text x="309.6" y="413.1" font-size="2.90" fill="#333" text-anchor="end" stroke="#333" stroke-width=".12">8</text>
<text x="318.6" y="417.2" font-size="2.90" fill="#333" text-anchor="end" stroke="#333" stroke-width=".12">7</text>
<text x="328.0" y="421.4" font-size="2.90" fill="#333" text-anchor="end" stroke="#333" stroke-width=".12">6</text>
<text x="337.7" y="425.7" font-size="2.90" fill="#333" text-anchor="end" stroke="#333" stroke-width=".12">5</text>
<text x="347.8" y="430.3" font-size="2.90" fill="#333" text-anchor="end" stroke="#333" stroke-width=".12">4</text>
<text x="358.4" y="435.0" font-size="2.90" fill="#333" text-anchor="end" stroke="#333" stroke-width=".12">3</text>
<text x="369.3" y="439.9" font-size="2.90" fill="#333" text-anchor="end" stroke="#333" stroke-width=".12">2</text>
<text x="371.5" y="439.5" font-size="2.90" fill="#333" stroke="#333" stroke-width=".12">30</text>
<text x="387.7" y="432.2" font-size="2.90" fill="#333" stroke="#333" stroke-width=".12">35</text>
<text x="402.9" y="425.3" font-size="2.90" fill="#333" stroke="#333" stroke-width=".12">40</text>
<text x="417.2" y="418.8" font-size="2.90" fill="#333" stroke="#333" stroke-width=".12">45</text>
<text x="430.7" y="412.7" font-size="2.90" fill="#333" stroke="#333" stroke-width=".12">50</text>
<circle cx="310.8" cy="410.5" r=".55" fill="#222"/>
<circle cx="319.8" cy="414.6" r=".55" fill="#222"/>
<circle cx="329.2" cy="418.8" r=".55" fill="#222"/>
<circle cx="338.9" cy="423.1" r=".55" fill="#222"/>
<circle cx="349.0" cy="427.7" r=".55" fill="#222"/>
<circle cx="359.6" cy="432.4" r=".55" fill="#222"/>
<circle cx="370.5" cy="437.3" r=".55" fill="#222"/>
<circle cx="370.5" cy="437.3" r=".55" fill="#222"/>
<circle cx="386.7" cy="430.0" r=".55" fill="#222"/>
<circle cx="401.9" cy="423.1" r=".55" fill="#222"/>
<circle cx="416.2" cy="416.6" r=".55" fill="#222"/>
<circle cx="429.7" cy="410.5" r=".55" fill="#222"/>
<text x="318.0" y="436.0" font-size="3.00" fill="#333" text-anchor="middle" stroke="#333" stroke-width=".12">C: C (min)</text>
<text x="420.0" y="436.0" font-size="3.00" fill="#333" text-anchor="middle" stroke="#333" stroke-width=".12">A: A (mg)</text>
<text x="308.8" y="391.9" font-size="2.90" fill="#333" text-anchor="end" stroke="#333" stroke-width=".12">-75</text>
<circle cx="310.2" cy="390.9" r=".6" fill="#222"/>
<text x="308.1" y="371.6" font-size="2.90" fill="#333" text-anchor="end" stroke="#333" stroke-width=".12">-70</text>
<circle cx="309.5" cy="370.6" r=".6" fill="#222"/>
<text x="307.4" y="350.9" font-size="2.90" fill="#333" text-anchor="end" stroke="#333" stroke-width=".12">-65</text>
<circle cx="308.8" cy="349.9" r=".6" fill="#222"/>
<text x="306.6" y="329.6" font-size="2.90" fill="#333" text-anchor="end" stroke="#333" stroke-width=".12">-60</text>
<circle cx="308.0" cy="328.6" r=".6" fill="#222"/>
<text x="289.5" y="365.0" font-size="2.9" fill="#555" text-anchor="middle" transform="rotate(-90 289.5 365.0)">Zeta potential (mV)</text><line x1="336.0" y1="330.1" x2="336.0" y2="395.0" stroke="#111" stroke-width=".75"/>
<rect x="327.0" y="326.5" width="9.6" height="3.8" fill="#f2f2f2" stroke="#6a6a6a" stroke-width=".45"/>
<text x="331.8" y="329.5" font-size="2.30" fill="#777" text-anchor="middle" textLength="7.6" lengthAdjust="spacingAndGlyphs">0.00000</text>
<ellipse cx="341.5" cy="343.5" rx="1.3" ry="1.9" fill="#a00000"/>
<line x1="399.5" y1="342.7" x2="399.5" y2="345.7" stroke="#333" stroke-width=".5"/>
<ellipse cx="399.5" cy="342.7" rx="1.3" ry="1.9" fill="#a00000"/>
<line x1="403.2" y1="366.3" x2="403.2" y2="372.3" stroke="#333" stroke-width=".5"/>
<ellipse cx="403.2" cy="366.3" rx="1.3" ry="1.9" fill="#a00000"/>
<ellipse cx="336.0" cy="398.0" rx="1.3" ry="1.9" fill="#a00000"/>
<ellipse cx="336.0" cy="401.5" rx="1.2" ry="1.5" fill="#fde" stroke="#d07070" stroke-width=".5"/>
<ellipse cx="403.2" cy="384.0" rx="1.2" ry="1.5" fill="#fde" stroke="#d07070" stroke-width=".5"/>
<ellipse cx="403.2" cy="391.0" rx="1.2" ry="1.5" fill="#fde" stroke="#d07070" stroke-width=".5"/></g>
<text x="219.6" y="299.4" font-size="3.26" fill="#000" font-weight="bold" textLength="29.5" lengthAdjust="spacingAndGlyphs" stroke-width=".14" stroke="#000">Zeta potential (mV)</text>
<text x="219.6" y="304.5" font-size="3.26" fill="#666" textLength="19.5" lengthAdjust="spacingAndGlyphs" stroke-width=".14" stroke="#666">Design Points</text>
<ellipse cx="222.40" cy="308.46" rx="1.90" ry="1.93" fill="#a00000"/>
<text x="226.8" y="309.6" font-size="3.26" fill="#c02020" textLength="21.0" lengthAdjust="spacingAndGlyphs" stroke-width=".14" stroke="#c02020">Above Surface</text>
<ellipse cx="222.40" cy="313.55" rx="1.50" ry="1.53" fill="#fff" stroke="#d06060" stroke-width=".7"/>
<text x="226.8" y="314.7" font-size="3.26" fill="#c02020" textLength="20.5" lengthAdjust="spacingAndGlyphs" stroke-width=".14" stroke="#c02020">Below Surface</text>
<text x="219.6" y="319.8" font-size="3.26" fill="#3030ff" textLength="7.2" lengthAdjust="spacingAndGlyphs" stroke-width=".14" stroke="#3030ff">-74.7</text>
<defs><linearGradient id="grh"><stop offset="0" stop-color="#0010c0"/><stop offset=".3" stop-color="#00c020"/><stop offset=".55" stop-color="#00f000"/><stop offset=".72" stop-color="#20a000"/><stop offset=".85" stop-color="#d02000"/><stop offset="1" stop-color="#c01000"/></linearGradient></defs>
<rect x="228.20" y="316.40" width="11.50" height="4.48" rx="0.60" fill="url(#grh)"/>
<text x="241.1" y="319.8" font-size="3.26" fill="#ff3030" textLength="7.4" lengthAdjust="spacingAndGlyphs" stroke-width=".14" stroke="#ff3030">-62.9</text>
<text x="219.6" y="330.4" font-size="3.26" fill="#222" textLength="9.8" lengthAdjust="spacingAndGlyphs" stroke-width=".14" stroke="#222">X1 = A</text>
<text x="219.6" y="335.5" font-size="3.26" fill="#222" textLength="9.8" lengthAdjust="spacingAndGlyphs" stroke-width=".14" stroke="#222">X2 = C</text>
<text x="219.6" y="345.7" font-size="3.26" fill="#000" font-weight="bold" textLength="19.5" lengthAdjust="spacingAndGlyphs" stroke-width=".14" stroke="#000">Actual Factor</text>
<text x="219.6" y="350.8" font-size="3.26" fill="#222" textLength="15.5" lengthAdjust="spacingAndGlyphs" stroke-width=".14" stroke="#222">B = 21000</text>
<g transform="translate(254.50 354.98) scale(0.620)" stroke="#1a1a1a" stroke-width="2.1" fill="none"><path d="M4 1.2H1.2V8.8H8.8V6"/><path d="M3.8 6.2L7.6 2.4"/><path d="M5.2 0.6H9.4V4.8Z" fill="#1a1a1a" stroke-width=".6"/></g>
<g><g stroke="#747474" stroke-width=".65" fill="none"><line x1="544.1" y1="407.4" x2="540.6" y2="326.6"/><line x1="558.1" y1="402.6" x2="555.4" y2="323.7"/><line x1="571.3" y1="398.0" x2="569.3" y2="321.0"/><line x1="583.9" y1="393.6" x2="582.6" y2="318.4"/><line x1="595.9" y1="389.5" x2="595.2" y2="316.0"/><line x1="607.3" y1="385.6" x2="607.2" y2="313.6"/><line x1="670.6" y1="407.3" x2="673.8" y2="326.6"/><line x1="659.0" y1="403.3" x2="661.4" y2="324.2"/><line x1="647.8" y1="399.5" x2="649.6" y2="321.9"/><line x1="637.0" y1="395.8" x2="638.3" y2="319.7"/><line x1="626.7" y1="392.2" x2="627.5" y2="317.6"/><line x1="616.8" y1="388.8" x2="617.1" y2="315.6"/><line x1="607.3" y1="385.6" x2="607.2" y2="313.6"/><line x1="543.3" y1="388.0" x2="607.3" y2="368.2"/><line x1="607.3" y1="368.2" x2="671.4" y2="387.9"/><line x1="542.4" y1="368.0" x2="607.2" y2="350.4"/><line x1="607.2" y1="350.4" x2="672.2" y2="368.0"/><line x1="541.5" y1="347.6" x2="607.2" y2="332.2"/><line x1="607.2" y1="332.2" x2="673.0" y2="347.6"/><line x1="540.6" y1="326.6" x2="607.2" y2="313.6"/><line x1="607.2" y1="313.6" x2="673.8" y2="326.6"/></g>
<polyline points="544.1,407.4 540.6,326.6 607.2,313.6 673.8,326.6 670.6,407.3" stroke="#555" stroke-width=".7" fill="none"/>
<line x1="607.3" y1="385.6" x2="607.2" y2="313.6" stroke="#555" stroke-width=".7"/>
<polygon points="544.1,407.4 607.6,435.8 670.6,407.3 607.3,385.6" fill="#646464"/>
<polyline points="544.1,407.4 607.6,435.8 670.6,407.3" stroke="#2a2a2a" stroke-width=".8" fill="none"/>
<polyline points="644.5,398.4 643.8,398.8 643.0,399.2 642.2,399.6 641.3,400.0 640.4,400.4 639.8,400.6 638.9,401.0 637.9,401.4 636.9,401.7 635.8,402.1 634.8,402.4 633.6,402.8 633.1,402.9 631.9,403.3 630.8,403.6 630.0,403.8 629.0,404.1 627.7,404.4 627.1,404.5 625.9,404.8 624.7,405.1 623.9,405.3 622.6,405.6 622.0,405.7 620.6,406.0 620.0,406.1 618.6,406.4 617.9,406.5 616.5,406.8 615.8,406.9 614.4,407.2 613.7,407.3 612.2,407.6 611.5,407.7 610.2,407.9 609.3,408.1 608.4,408.2 607.0,408.5 606.3,408.6 604.9,408.8 603.9,408.9 603.2,409.0 601.6,409.3 600.8,409.4 599.9,409.5 598.4,409.7 597.6,409.8 596.7,409.9 595.2,410.1 594.3,410.2 593.4,410.3 592.1,410.4 590.9,410.6 590.1,410.6 589.2,410.7 587.7,410.9 586.6,411.0 585.7,411.1 584.8,411.1 583.5,411.3 582.1,411.4 581.2,411.4 580.3,411.5 579.4,411.6 578.1,411.7 576.8,411.8 575.6,411.8 574.7,411.9 573.7,411.9 572.7,412.0 571.8,412.0 570.6,412.1 569.4,412.1 568.2,412.2 567.0,412.2 565.9,412.2 564.7,412.2 563.6,412.2 562.5,412.3 561.5,412.3 560.4,412.2 559.3,412.2 558.3,412.2 557.3,412.2 556.3,412.2 555.3,412.1 554.6,412.1" stroke="#0a38cc" stroke-width="1.25" stroke-linejoin="round" fill="none"/>
<polyline points="583.4,393.8 584.1,393.7 585.0,393.6 586.3,393.4 587.0,393.3 588.1,393.2 589.2,393.1 590.0,393.0 591.0,392.9 592.2,392.7 592.9,392.6 593.9,392.5 595.2,392.4 596.0,392.3 596.7,392.3 598.0,392.1 599.0,392.0 599.8,392.0 600.6,391.9 601.8,391.8 603.0,391.7 603.8,391.6 604.6,391.6 605.5,391.5 606.7,391.4 607.8,391.4 608.6,391.3 609.4,391.3 610.3,391.2 611.3,391.2 612.4,391.1 613.5,391.1 614.5,391.0 615.4,391.0 616.3,391.0 617.2,390.9 618.1,390.9 619.0,390.9 619.9,390.9 620.8,390.9 621.8,390.8 622.7,390.8" stroke="#0a38cc" stroke-width="1.25" stroke-linejoin="round" fill="none"/>
<polyline points="661.8,404.3 660.7,404.6 659.5,405.0 658.8,405.2 657.8,405.5 656.7,405.8 655.8,406.0 654.9,406.3 653.7,406.6 653.0,406.8 651.9,407.1 650.7,407.4 650.1,407.5 648.8,407.8 647.9,408.1 647.0,408.3 645.7,408.6 645.0,408.8 643.7,409.1 643.1,409.2 641.7,409.5 640.9,409.7 639.7,410.0 638.8,410.2 637.7,410.4 636.6,410.6 635.6,410.8 634.6,411.0 633.5,411.2 632.5,411.4 631.4,411.7 630.5,411.8 629.2,412.1 628.5,412.2 627.1,412.5 626.3,412.6 624.8,412.9 624.1,413.0 622.8,413.2 621.9,413.4 621.0,413.6 619.6,413.8 618.8,413.9 617.4,414.2 616.5,414.3 615.6,414.5 614.1,414.7 613.3,414.8 612.0,415.0 611.0,415.2 610.2,415.3 608.6,415.5 607.7,415.6 606.9,415.8 605.3,416.0 604.5,416.1 603.5,416.2 602.0,416.5 601.1,416.6 600.2,416.7 598.6,416.9 597.8,417.0 596.9,417.1 595.4,417.3 594.3,417.4 593.5,417.5 592.2,417.7 590.8,417.8 590.0,417.9 589.1,418.0 587.6,418.2 586.4,418.3 585.5,418.4 584.5,418.5 583.0,418.7 581.9,418.8 581.0,418.9 580.0,419.0 578.5,419.1 577.3,419.2 576.3,419.3 575.4,419.4 574.2,419.5 572.7,419.6 571.6,419.7 571.6,419.7" stroke="#0abccc" stroke-width="1.25" stroke-linejoin="round" fill="none"/>
<polyline points="606.5,385.8 607.7,385.7 607.8,385.7" stroke="#0abccc" stroke-width="1.25" stroke-linejoin="round" fill="none"/>
<polyline points="664.2,410.2 663.5,410.4 662.2,410.7 661.6,410.9 660.3,411.2 659.5,411.4 658.4,411.7 657.3,411.9 656.4,412.1 655.1,412.4 654.4,412.6 653.1,412.9 652.4,413.0 651.0,413.3 650.3,413.5 649.0,413.8 648.3,413.9 646.9,414.2 646.2,414.4 644.7,414.6 644.0,414.8 642.6,415.1 641.9,415.2 640.5,415.5 639.7,415.6 638.6,415.9 637.5,416.1 636.6,416.2 635.3,416.5 634.5,416.6 633.0,416.9 632.3,417.0 630.9,417.3 630.0,417.4 629.0,417.6 627.7,417.8 626.9,418.0 625.3,418.2 624.5,418.4 623.5,418.6 622.2,418.8 621.4,418.9 619.9,419.1 619.0,419.3 618.1,419.4 616.5,419.7 615.7,419.8 614.6,420.0 613.3,420.2 612.4,420.3 611.1,420.5 609.9,420.7 609.1,420.8 607.7,421.0 606.6,421.2 605.7,421.3 604.3,421.5 603.1,421.6 602.3,421.7 600.9,421.9 599.7,422.1 598.8,422.2 597.6,422.4 596.2,422.5 595.3,422.7 594.3,422.8 592.7,423.0 591.7,423.1 590.8,423.2 589.4,423.4 588.1,423.5 587.2,423.6 586.3,423.7 584.7,423.9 583.5,424.0 582.6,424.1 581.7,424.2" stroke="#0acc59" stroke-width="1.25" stroke-linejoin="round" fill="none"/>
<polyline points="643.4,419.6 641.9,419.9 641.2,420.1 639.6,420.3 638.9,420.5 637.7,420.7 636.5,420.9 635.8,421.0 634.2,421.3 633.4,421.5 632.0,421.7 631.0,421.9 630.2,422.0 628.6,422.3 627.8,422.4 626.5,422.6 625.4,422.8 624.6,423.0 623.0,423.2 622.1,423.4 621.1,423.5 619.7,423.7 618.8,423.9 617.5,424.1 616.3,424.3 615.5,424.4 614.0,424.6 612.9,424.8 612.1,424.9 610.5,425.1 609.5,425.3 608.6,425.4 607.0,425.6 606.0,425.8 605.1,425.9 603.6,426.1 602.5,426.3 601.6,426.4 600.2,426.6 598.9,426.7 598.1,426.9 596.8,427.0 595.3,427.2 594.4,427.3 593.5,427.5 591.8,427.7 590.8,427.8 589.9,427.9 589.9,427.9" stroke="#3fcc0a" stroke-width="1.25" stroke-linejoin="round" fill="none"/>
<polyline points="628.3,426.5 626.8,426.7 626.0,426.8 624.6,427.1 623.5,427.2 622.6,427.4 621.0,427.6 620.1,427.8 619.2,427.9 617.5,428.2 616.6,428.3 615.7,428.5 614.0,428.7 613.2,428.8 612.1,429.0 610.5,429.2 609.7,429.4 608.6,429.5 607.0,429.7 606.1,429.9 605.1,430.0 603.4,430.2 602.5,430.4 601.6,430.5 599.9,430.7 598.9,430.9 598.0,431.0 597.0,431.1" stroke="#c2cc0a" stroke-width="1.25" stroke-linejoin="round" fill="none"/>
<g transform="scale(.1)" stroke="#000" stroke-opacity=".26" stroke-width="5.5" stroke-linejoin="round"><path d="M6073 3619l28-20-28-27-29 21z" fill="#0cbfeb"/><path d="M6102 3644l28-19-29-26-28 20z" fill="#0c9aeb"/><path d="M6044 3638l29-19-29-26-29 19z" fill="#0ca7eb"/><path d="M6131 3666l28-18-29-23-28 19z" fill="#0c7aeb"/><path d="M6073 3662l29-18-29-25-29 19z" fill="#0c84eb"/><path d="M6015 3657l29-19-29-26-29 20z" fill="#0c90eb"/><path d="M6160 3687l29-18-30-21-28 18z" fill="#0c5eeb"/><path d="M6102 3684l29-18-29-22-29 18z" fill="#0c65eb"/><path d="M6044 3680l29-18-29-24-29 19z" fill="#0c6feb"/><path d="M5985 3675l30-18-29-25-29 18z" fill="#0c7ceb"/><path d="M6190 3705l29-17-30-19-29 18z" fill="#0c48eb"/><path d="M6132 3704l28-17-29-21-29 18z" fill="#0c4ceb"/><path d="M6073 3701l29-17-29-22-29 18z" fill="#0c53eb"/><path d="M6014 3697l30-17-29-23-30 18z" fill="#0c5deb"/><path d="M5955 3692l30-17-28-25-30 18z" fill="#0c69eb"/><path d="M6221 3721l28-16-30-17-29 17z" fill="#0c36eb"/><path d="M6162 3721l28-16-30-18-28 17z" fill="#0c38eb"/><path d="M6103 3720l29-16-30-20-29 17z" fill="#0c3beb"/><path d="M6044 3717l29-16-29-21-30 17z" fill="#0c42eb"/><path d="M5984 3714l30-17-29-22-30 17z" fill="#0c4ceb"/><path d="M5925 3708l30-16-28-24-30 17z" fill="#0c58eb"/><path d="M6251 3735l29-16-31-14-28 16z" fill="#0c2aeb"/><path d="M6192 3737l29-16-31-16-28 16z" fill="#0c28eb"/><path d="M6133 3737l29-16-30-17-29 16z" fill="#0c29eb"/><path d="M6073 3736l30-16-30-19-29 16z" fill="#0c2deb"/><path d="M6014 3733l30-16-30-20-30 17z" fill="#0c33eb"/><path d="M5954 3729l30-15-29-22-30 16z" fill="#0c3deb"/><path d="M5895 3724l30-16-28-23-31 16z" fill="#0c49eb"/><path d="M6222 3750l29-15-30-14-29 16z" fill="#0c1deb"/><path d="M6163 3752l29-15-30-16-29 16z" fill="#0c1beb"/><path d="M6282 3747l29-15-31-13-29 16z" fill="#0c22eb"/><path d="M6103 3752l30-15-30-17-30 16z" fill="#0c1ceb"/><path d="M6043 3751l30-15-29-19-30 16z" fill="#0c20eb"/><path d="M5984 3748l30-15-30-19-30 15z" fill="#0c26eb"/><path d="M5924 3744l30-15-29-21-30 16z" fill="#0c30eb"/><path d="M5864 3739l31-15-29-23-31 16z" fill="#0c3ceb"/><path d="M6193 3764l29-14-30-13-29 15z" fill="#0c12eb"/><path d="M6133 3766l30-14-30-15-30 15z" fill="#0c10eb"/><path d="M6254 3761l28-14-31-12-29 15z" fill="#0c17eb"/><path d="M6073 3766l30-14-30-16-30 15z" fill="#0c11eb"/><path d="M6314 3756l28-14-31-10-29 15z" fill="#0c1feb"/><path d="M6013 3765l30-14-29-18-30 15z" fill="#0c15eb"/><path d="M5953 3763l31-15-30-19-30 15z" fill="#0c1beb"/><path d="M5893 3759l31-15-29-20-31 15z" fill="#0c25eb"/><path d="M5833 3753l31-14-29-22-31 15z" fill="#0c31eb"/><path d="M6104 3779l29-13-30-14-30 14z" fill="#0c0ceb"/><path d="M6164 3777l29-13-30-12-30 14z" fill="#0c0ceb"/><path d="M6043 3780l30-14-30-15-30 14z" fill="#0c0ceb"/><path d="M6224 3774l30-13-32-11-29 14z" fill="#0c0eeb"/><path d="M5983 3779l30-14-29-17-31 15z" fill="#0c0ceb"/><path d="M6285 3770l29-14-32-9-28 14z" fill="#0c16eb"/><path d="M5922 3776l31-13-29-19-31 15z" fill="#0c12eb"/><path d="M6345 3764l29-14-32-8-28 14z" fill="#0c21eb"/><path d="M5862 3772l31-13-29-20-31 14z" fill="#0c1beb"/><path d="M5801 3767l32-14-29-21-32 15z" fill="#0c27eb"/><path d="M6073 3792l31-13-31-13-30 14z" fill="#0c0ceb"/><path d="M6134 3790l30-13-31-11-29 13z" fill="#0c0ceb"/><path d="M6013 3792l30-12-30-15-30 14z" fill="#0c0ceb"/><path d="M6195 3787l29-13-31-10-29 13z" fill="#0c0ceb"/><path d="M5952 3791l31-12-30-16-31 13z" fill="#0c0ceb"/><path d="M6256 3782l29-12-31-9-30 13z" fill="#0c0feb"/><path d="M5891 3789l31-13-29-17-31 13z" fill="#0c0ceb"/><path d="M6317 3776l28-12-31-8-29 14z" fill="#0c19eb"/><path d="M5830 3785l32-13-29-19-32 14z" fill="#0c13eb"/><path d="M6378 3768l28-12-32-6-29 14z" fill="#0c27eb"/><path d="M5769 3780l32-13-29-20-32 13z" fill="#0c20eb"/><path d="M6043 3804l30-12-30-12-30 12z" fill="#0c0ceb"/><path d="M6104 3802l30-12-30-11-31 13z" fill="#0c0ceb"/><path d="M5982 3804l31-12-30-13-31 12z" fill="#0c0ceb"/><path d="M6165 3799l30-12-31-10-30 13z" fill="#0c0ceb"/><path d="M5920 3803l32-12-30-15-31 13z" fill="#0c0ceb"/><path d="M6226 3794l30-12-32-8-29 13z" fill="#0c0ceb"/><path d="M5859 3801l32-12-29-17-32 13z" fill="#0c0ceb"/><path d="M6288 3788l29-12-32-6-29 12z" fill="#0c14eb"/><path d="M5798 3797l32-12-29-18-32 13z" fill="#0c0eeb"/><path d="M6349 3780l29-12-33-4-28 12z" fill="#0c22eb"/><path d="M5736 3792l33-12-29-20-32 13z" fill="#0c1aeb"/><path d="M6411 3771l28-12-33-3-28 12z" fill="#0c33eb"/><path d="M6012 3815l31-11-30-12-31 12z" fill="#0c0ceb"/><path d="M6073 3813l31-11-31-10-30 12z" fill="#0c0ceb"/><path d="M5950 3816l32-12-30-13-32 12z" fill="#0c0ceb"/><path d="M6135 3810l30-11-31-9-30 12z" fill="#0c0ceb"/><path d="M5889 3815l31-12-29-14-32 12z" fill="#0c0ceb"/><path d="M6197 3805l29-11-31-7-30 12z" fill="#0c0ceb"/><path d="M5827 3812l32-11-29-16-32 12z" fill="#0c0ceb"/><path d="M6258 3799l30-11-32-6-30 12z" fill="#0c11eb"/><path d="M5765 3809l33-12-29-17-33 12z" fill="#0c0ceb"/><path d="M6320 3791l29-11-32-4-29 12z" fill="#0c1feb"/><path d="M5703 3803l33-11-28-19-33 12z" fill="#0c16eb"/><path d="M6382 3782l29-11-33-3-29 12z" fill="#0c2feb"/><path d="M6444 3771l28-11-33-1-28 12z" fill="#0c43eb"/><path d="M5981 3826l31-11-30-11-32 12z" fill="#0c0ceb"/><path d="M6043 3824l30-11-30-9-31 11z" fill="#0c0ceb"/><path d="M5919 3826l31-10-30-13-31 12z" fill="#0c0ceb"/><path d="M6105 3820l30-10-31-8-31 11z" fill="#0c0ceb"/><path d="M5857 3825l32-10-30-14-32 11z" fill="#0c0ceb"/><path d="M6167 3815l30-10-32-6-30 11z" fill="#0c0ceb"/><path d="M5794 3823l33-11-29-15-33 12z" fill="#0c0ceb"/><path d="M6229 3809l29-10-32-5-29 11z" fill="#0c0feb"/><path d="M5732 3819l33-10-29-17-33 11z" fill="#0c0ceb"/><path d="M6291 3801l29-10-32-3-30 11z" fill="#0c1deb"/><path d="M5670 3814l33-11-28-18-33 12z" fill="#0c13eb"/><path d="M6353 3792l29-10-33-2-29 11z" fill="#0c2eeb"/><path d="M6415 3781l29-10-33 0-29 11z" fill="#0c42eb"/><path d="M6478 3769l28-10-34 1-28 11z" fill="#0c58eb"/><path d="M5949 3835l32-9-31-10-31 10z" fill="#0c0ceb"/><path d="M6011 3833l32-9-31-9-31 11z" fill="#0c0ceb"/><path d="M5886 3836l33-10-30-11-32 10z" fill="#0c0ceb"/><path d="M6074 3830l31-10-32-7-30 11z" fill="#0c0ceb"/><path d="M5824 3835l33-10-30-13-33 11z" fill="#0c0ceb"/><path d="M6136 3825l31-10-32-5-30 10z" fill="#0c0ceb"/><path d="M5761 3833l33-10-29-14-33 10z" fill="#0c0ceb"/><path d="M6198 3818l31-9-32-4-30 10z" fill="#0c0feb"/><path d="M5699 3829l33-10-29-16-33 11z" fill="#0c0ceb"/><path d="M6261 3811l30-10-33-2-29 10z" fill="#0c1deb"/><path d="M5636 3824l34-10-28-17-34 10z" fill="#0c13eb"/><path d="M6324 3801l29-9-33-1-29 10z" fill="#0c2eeb"/><path d="M6386 3790l29-9-33 1-29 10z" fill="#0c42eb"/><path d="M6449 3778l29-9-34 2-29 10z" fill="#0c59eb"/><path d="M6512 3764l28-9-34 4-28 10z" fill="#0c72eb"/><path d="M5917 3844l32-9-30-9-33 10z" fill="#0c0ceb"/><path d="M5979 3842l32-9-30-7-32 9z" fill="#0c0ceb"/><path d="M5854 3845l32-9-29-11-33 10z" fill="#0c0ceb"/><path d="M6042 3839l32-9-31-6-32 9z" fill="#0c0ceb"/><path d="M5791 3844l33-9-30-12-33 10z" fill="#0c0ceb"/><path d="M6105 3834l31-9-31-5-31 10z" fill="#0c0ceb"/><path d="M5728 3842l33-9-29-14-33 10z" fill="#0c0ceb"/><path d="M6168 3827l30-9-31-3-31 10z" fill="#0c11eb"/><path d="M5665 3838l34-9-29-15-34 10z" fill="#0c0ceb"/><path d="M6231 3819l30-8-32-2-31 9z" fill="#0c1feb"/><path d="M5602 3833l34-9-28-17-34 10z" fill="#0c14eb"/><path d="M6294 3810l30-9-33 0-30 10z" fill="#0c30eb"/><path d="M6357 3799l29-9-33 2-29 9z" fill="#0c44eb"/><path d="M6420 3786l29-8-34 3-29 9z" fill="#0c5beb"/><path d="M6483 3772l29-8-34 5-29 9z" fill="#0c74eb"/><path d="M6547 3757l28-8-35 6-28 9z" fill="#0c91eb"/><path d="M5884 3852l33-8-31-8-32 9z" fill="#0c0ceb"/><path d="M5947 3850l32-8-30-7-32 9z" fill="#0c0ceb"/><path d="M5821 3853l33-8-30-10-33 9z" fill="#0c0ceb"/><path d="M6010 3847l32-8-31-6-32 9z" fill="#0c0ceb"/><path d="M5757 3852l34-8-30-11-33 9z" fill="#0c0ceb"/><path d="M6074 3841l31-7-31-4-32 9z" fill="#0c0ceb"/><path d="M5694 3850l34-8-29-13-34 9z" fill="#0c0ceb"/><path d="M6137 3835l31-8-32-2-31 9z" fill="#0c15eb"/><path d="M5631 3846l34-8-29-14-34 9z" fill="#0c0ceb"/><path d="M6200 3827l31-8-33-1-30 9z" fill="#0c23eb"/><path d="M5567 3841l35-8-28-16-35 9z" fill="#0c17eb"/><path d="M6264 3817l30-7-33 1-30 8z" fill="#0c34eb"/><path d="M6327 3806l30-7-33 2-30 9z" fill="#0c48eb"/><path d="M6391 3794l29-8-34 4-29 9z" fill="#0c5feb"/><path d="M6455 3779l28-7-34 6-29 8z" fill="#0c79eb"/><path d="M6518 3764l29-7-35 7-29 8z" fill="#0c95eb"/><path d="M6583 3747l28-7-36 9-28 8z" fill="#0cb4eb"/><path d="M5851 3860l33-8-30-7-33 8z" fill="#0c0ceb"/><path d="M5915 3857l32-7-30-6-33 8z" fill="#0c0ceb"/><path d="M5787 3860l34-7-30-9-34 8z" fill="#0c0ceb"/><path d="M5978 3854l32-7-31-5-32 8z" fill="#0c0ceb"/><path d="M5723 3860l34-8-29-10-34 8z" fill="#0c0ceb"/><path d="M6042 3849l32-8-32-2-32 8z" fill="#0c0feb"/><path d="M5660 3857l34-7-29-12-34 8z" fill="#0c0ceb"/><path d="M6106 3842l31-7-32-1-31 7z" fill="#0c1beb"/><path d="M5596 3854l35-8-29-13-35 8z" fill="#0c11eb"/><path d="M6169 3834l31-7-32 0-31 8z" fill="#0c29eb"/><path d="M5532 3848l35-7-28-15-36 8z" fill="#0c1ceb"/><path d="M6233 3824l31-7-33 2-31 8z" fill="#0c3aeb"/><path d="M6297 3813l30-7-33 4-30 7z" fill="#0c4eeb"/><path d="M6361 3800l30-6-34 5-30 7z" fill="#0c65eb"/><path d="M6425 3786l30-7-35 7-29 8z" fill="#0c7feb"/><path d="M6490 3770l28-6-35 8-28 7z" fill="#0c9beb"/><path d="M6554 3753l29-6-36 10-29 7z" fill="#0cbbeb"/><path d="M6619 3734l28-6-36 12-28 7z" fill="#0cddeb"/><path d="M5817 3866l34-6-30-7-34 7z" fill="#0c0ceb"/><path d="M5881 3864l34-7-31-5-33 8z" fill="#0c0ceb"/><path d="M5753 3867l34-7-30-8-34 8z" fill="#0c0ceb"/><path d="M5945 3860l33-6-31-4-32 7z" fill="#0c0eeb"/><path d="M5689 3866l34-6-29-10-34 7z" fill="#0c0ceb"/><path d="M6010 3855l32-6-32-2-32 7z" fill="#0c17eb"/><path d="M5625 3864l35-7-29-11-35 8z" fill="#0c0feb"/><path d="M6074 3848l32-6-32-1-32 8z" fill="#0c22eb"/><path d="M5560 3860l36-6-29-13-35 7z" fill="#0c17eb"/><path d="M6138 3840l31-6-32 1-31 7z" fill="#0c31eb"/><path d="M5496 3855l36-7-29-14-35 8z" fill="#0c23eb"/><path d="M6202 3830l31-6-33 3-31 7z" fill="#0c42eb"/><path d="M6267 3819l30-6-33 4-31 7z" fill="#0c56eb"/><path d="M6331 3806l30-6-34 6-30 7z" fill="#0c6deb"/><path d="M6396 3791l29-5-34 8-30 6z" fill="#0c86eb"/><path d="M6460 3776l30-6-35 9-30 7z" fill="#0ca3eb"/><path d="M6525 3758l29-5-36 11-28 6z" fill="#0cc3eb"/><path d="M6590 3739l29-5-36 13-29 6z" fill="#0ce5eb"/><path d="M5783 3872l34-6-30-6-34 7z" fill="#0c0feb"/><path d="M5848 3869l33-5-30-4-34 6z" fill="#0c12eb"/><path d="M5719 3872l34-5-30-7-34 6z" fill="#0c0feb"/><path d="M5912 3865l33-5-30-3-34 7z" fill="#0c17eb"/><path d="M5654 3872l35-6-29-9-35 7z" fill="#0c12eb"/><path d="M5977 3860l33-5-32-1-33 6z" fill="#0c20eb"/><path d="M5589 3869l36-5-29-10-36 6z" fill="#0c17eb"/><path d="M6041 3853l33-5-32 1-32 6z" fill="#0c2ceb"/><path d="M6656 3719l28-5-37 14-28 6z" fill="#0cebcb"/><path d="M5524 3866l36-6-28-12-36 7z" fill="#0c20eb"/><path d="M6106 3845l32-5-32 2-32 6z" fill="#0c3aeb"/><path d="M5460 3860l36-5-28-13-37 6z" fill="#0c2ceb"/><path d="M6171 3835l31-5-33 4-31 6z" fill="#0c4beb"/><path d="M6236 3824l31-5-34 5-31 6z" fill="#0c5feb"/><path d="M6301 3811l30-5-34 7-30 6z" fill="#0c76eb"/><path d="M6366 3796l30-5-35 9-30 6z" fill="#0c90eb"/><path d="M6431 3780l29-4-35 10-29 5z" fill="#0cadeb"/><path d="M6496 3762l29-4-35 12-30 6z" fill="#0ccceb"/><path d="M6562 3743l28-4-36 14-29 5z" fill="#0cebe6"/><path d="M5749 3876l34-4-30-5-34 5z" fill="#0c1aeb"/><path d="M5814 3874l34-5-31-3-34 6z" fill="#0c1deb"/><path d="M5683 3877l36-5-30-6-35 6z" fill="#0c19eb"/><path d="M5879 3870l33-5-31-1-33 5z" fill="#0c22eb"/><path d="M5618 3876l36-4-29-8-36 5z" fill="#0c1ceb"/><path d="M5944 3865l33-5-32 0-33 5z" fill="#0c2beb"/><path d="M5553 3874l36-5-29-9-36 6z" fill="#0c22eb"/><path d="M6009 3858l32-5-31 2-33 5z" fill="#0c37eb"/><path d="M6627 3723l29-4-37 15-29 5z" fill="#0cebc1"/><path d="M5488 3870l36-4-28-11-36 5z" fill="#0c2aeb"/><path d="M6074 3849l32-4-32 3-33 5z" fill="#0c45eb"/><path d="M6139 3839l32-4-33 5-32 5z" fill="#0c56eb"/><path d="M6693 3700l28-4-37 18-28 5z" fill="#0ceb99"/><path d="M6204 3828l32-4-34 6-31 5z" fill="#0c6aeb"/><path d="M6270 3814l31-3-34 8-31 5z" fill="#0c82eb"/><path d="M6335 3800l31-4-35 10-30 5z" fill="#0c9beb"/><path d="M6401 3784l30-4-35 11-30 5z" fill="#0cb8eb"/><path d="M6466 3766l30-4-36 14-29 4z" fill="#0cd8eb"/><path d="M6532 3747l30-4-37 15-29 4z" fill="#0cebdb"/><path d="M5713 3880l36-4-30-4-36 5z" fill="#0c26eb"/><path d="M5779 3878l35-4-31-2-34 4z" fill="#0c29eb"/><path d="M5648 3881l35-4-29-5-36 4z" fill="#0c26eb"/><path d="M5844 3874l35-4-31-1-34 5z" fill="#0c2feb"/><path d="M5582 3880l36-4-29-7-36 5z" fill="#0c29eb"/><path d="M5910 3868l34-3-32 0-33 5z" fill="#0c38eb"/><path d="M5517 3878l36-4-29-8-36 4z" fill="#0c2eeb"/><path d="M5975 3861l34-3-32 2-33 5z" fill="#0c43eb"/><path d="M6599 3726l28-3-37 16-28 4z" fill="#0cebb5"/><path d="M6041 3852l33-3-33 4-32 5z" fill="#0c52eb"/><path d="M6107 3842l32-3-33 6-32 4z" fill="#0c63eb"/><path d="M6665 3703l28-3-37 19-29 4z" fill="#0ceb8d"/><path d="M6172 3831l32-3-33 7-32 4z" fill="#0c78eb"/><path d="M6238 3817l32-3-34 10-32 4z" fill="#0c8feb"/><path d="M6304 3803l31-3-34 11-31 3z" fill="#0ca9eb"/><path d="M6370 3786l31-2-35 12-31 4z" fill="#0cc6eb"/><path d="M6436 3768l30-2-35 14-30 4z" fill="#0ce5eb"/><path d="M6503 3749l29-2-36 15-30 4z" fill="#0cebcd"/><path d="M5678 3883l35-3-30-3-35 4z" fill="#0c35eb"/><path d="M5744 3880l35-2-30-2-36 4z" fill="#0c38eb"/><path d="M5612 3884l36-3-30-5-36 4z" fill="#0c34eb"/><path d="M5810 3876l34-2-30 0-35 4z" fill="#0c3eeb"/><path d="M5546 3883l36-3-29-6-36 4z" fill="#0c37eb"/><path d="M5876 3871l34-3-31 2-35 4z" fill="#0c46eb"/><path d="M5942 3864l33-3-31 4-34 3z" fill="#0c52eb"/><path d="M6570 3728l29-2-37 17-30 4z" fill="#0ceba8"/><path d="M6008 3855l33-3-32 6-34 3z" fill="#0c61eb"/><path d="M6074 3845l33-3-33 7-33 3z" fill="#0c72eb"/><path d="M6636 3705l29-2-38 20-28 3z" fill="#0ceb7f"/><path d="M6140 3833l32-2-33 8-32 3z" fill="#0c87eb"/><path d="M6206 3820l32-3-34 11-32 3z" fill="#0c9eeb"/><path d="M6273 3805l31-2-34 11-32 3z" fill="#0cb8eb"/><path d="M6339 3788l31-2-35 14-31 3z" fill="#0cd5eb"/><path d="M6406 3770l30-2-35 16-31 2z" fill="#0cebe1"/><path d="M6473 3750l30-1-37 17-30 2z" fill="#0cebbe"/><path d="M5642 3885l36-2-30-2-36 3z" fill="#0c45eb"/><path d="M5708 3882l36-2-31 0-35 3z" fill="#0c48eb"/><path d="M5575 3886l37-2-30-4-36 3z" fill="#0c44eb"/><path d="M5774 3878l36-2-31 2-35 2z" fill="#0c4eeb"/><path d="M5841 3872l35-1-32 3-34 2z" fill="#0c57eb"/><path d="M6540 3729l30-1-38 19-29 2z" fill="#0ceb98"/><path d="M5907 3865l35-1-32 4-34 3z" fill="#0c63eb"/><path d="M5974 3856l34-1-33 6-33 3z" fill="#0c71eb"/><path d="M6041 3846l33-1-33 7-33 3z" fill="#0c83eb"/><path d="M6607 3706l29-1-37 21-29 2z" fill="#0ceb70"/><path d="M6107 3834l33-1-33 9-33 3z" fill="#0c97eb"/><path d="M6174 3821l32-1-34 11-32 2z" fill="#0cafeb"/><path d="M6241 3806l32-1-35 12-32 3z" fill="#0cc9eb"/><path d="M6308 3789l31-1-35 15-31 2z" fill="#0ce6eb"/><path d="M6375 3771l31-1-36 16-31 2z" fill="#0cebd0"/><path d="M6442 3751l31-1-37 18-30 2z" fill="#0cebad"/><path d="M5605 3886l37-1-30-1-37 2z" fill="#0c57eb"/><path d="M5672 3883l36-1-30 1-36 2z" fill="#0c5aeb"/><path d="M5739 3879l35-1-30 2-36 2z" fill="#0c60eb"/><path d="M5806 3873l35-1-31 4-36 2z" fill="#0c69eb"/><path d="M6510 3729l30 0-37 20-30 1z" fill="#0ceb87"/><path d="M5873 3866l34-1-31 6-35 1z" fill="#0c75eb"/><path d="M5940 3857l34-1-32 8-35 1z" fill="#0c84eb"/><path d="M6007 3846l34 0-33 9-34 1z" fill="#0c95eb"/><path d="M6578 3706l29 0-37 22-30 1z" fill="#0ceb5f"/><path d="M6074 3834l33 0-33 11-33 1z" fill="#0caaeb"/><path d="M6141 3821l33 0-34 12-33 1z" fill="#0cc1eb"/><path d="M6209 3805l32 1-35 14-32 1z" fill="#0cdbeb"/><path d="M6276 3789l32 0-35 16-32 1z" fill="#0cebdd"/><path d="M6344 3770l31 1-36 17-31 1z" fill="#0cebbd"/><path d="M6412 3750l30 1-36 19-31 1z" fill="#0ceb9a"/><path d="M5635 3883l37 0-30 2-37 1z" fill="#0c6eeb"/><path d="M5702 3879l37 0-31 3-36 1z" fill="#0c74eb"/><path d="M5770 3873l36 0-32 5-35 1z" fill="#0c7deb"/><path d="M6480 3728l30 1-37 21-31 1z" fill="#0ceb74"/><path d="M5837 3865l36 1-32 6-35 1z" fill="#0c89eb"/><path d="M5905 3856l35 1-33 8-34 1z" fill="#0c98eb"/><path d="M5972 3846l35 0-33 10-34 1z" fill="#0caaeb"/><path d="M6548 3705l30 1-38 23-30 0z" fill="#0ceb4c"/><path d="M6040 3834l34 0-33 12-34 0z" fill="#0cbeeb"/><path d="M6108 3820l33 1-34 13-33 0z" fill="#0cd6eb"/><path d="M6176 3804l33 1-35 16-33 0z" fill="#0cebe5"/><path d="M6244 3787l32 2-35 17-32-1z" fill="#0cebc8"/><path d="M6312 3769l32 1-36 19-32 0z" fill="#0ceba8"/><path d="M6380 3748l32 2-37 21-31-1z" fill="#0ceb85"/><path d="M5665 3878l37 1-30 4-37 0z" fill="#0c8aeb"/><path d="M5733 3872l37 1-31 6-37 0z" fill="#0c93eb"/><path d="M6449 3726l31 2-38 23-30-1z" fill="#0ceb5f"/><path d="M5801 3864l36 1-31 8-36 0z" fill="#0c9feb"/><path d="M5869 3855l36 1-32 10-36-1z" fill="#0caeeb"/><path d="M5937 3844l35 2-32 11-35-1z" fill="#0cc0eb"/><path d="M6518 3703l30 2-38 24-30-1z" fill="#0ceb37"/><path d="M6006 3832l34 2-33 12-35 0z" fill="#0cd4eb"/><path d="M6074 3818l34 2-34 14-34 0z" fill="#0cebe9"/><path d="M6142 3802l34 2-35 17-33-1z" fill="#0cebcf"/><path d="M6211 3785l33 2-35 18-33-1z" fill="#0cebb2"/><path d="M6280 3766l32 3-36 20-32-2z" fill="#0ceb92"/><path d="M6348 3746l32 2-36 22-32-1z" fill="#0ceb6f"/><path d="M5696 3869l37 3-31 7-37-1z" fill="#0cabeb"/><path d="M6418 3724l31 2-37 24-32-2z" fill="#0ceb49"/><path d="M5765 3862l36 2-31 9-37-1z" fill="#0cb7eb"/><path d="M5833 3852l36 3-32 10-36-1z" fill="#0cc6eb"/><path d="M5902 3842l35 2-32 12-36-1z" fill="#0cd8eb"/><path d="M6487 3700l31 3-38 25-31-2z" fill="#0ceb20"/><path d="M5971 3829l35 3-34 14-35-2z" fill="#0cebe9"/><path d="M6040 3815l34 3-34 16-34-2z" fill="#0cebd1"/><path d="M6108 3799l34 3-34 18-34-2z" fill="#0cebb7"/><path d="M6178 3782l33 3-35 19-34-2z" fill="#0ceb9a"/><path d="M6247 3763l33 3-36 21-33-2z" fill="#0ceb79"/><path d="M6316 3742l32 4-36 23-32-3z" fill="#0ceb56"/><path d="M6386 3720l32 4-38 24-32-2z" fill="#0ceb30"/><path d="M5728 3858l37 4-32 10-37-3z" fill="#0cd0eb"/><path d="M5797 3849l36 3-32 12-36-2z" fill="#0cdfeb"/><path d="M5866 3838l36 4-33 13-36-3z" fill="#0cebe4"/><path d="M6456 3696l31 4-38 26-31-2z" fill="#10eb0c"/><path d="M5935 3825l36 4-34 15-35-2z" fill="#0cebcf"/><path d="M6005 3811l35 4-34 17-35-3z" fill="#0cebb7"/><path d="M6074 3795l34 4-34 19-34-3z" fill="#0ceb9d"/><path d="M6144 3777l34 5-36 20-34-3z" fill="#0ceb80"/><path d="M6213 3758l34 5-36 22-33-3z" fill="#0ceb5f"/><path d="M6283 3737l33 5-36 24-33-3z" fill="#0ceb3c"/><path d="M6353 3715l33 5-38 26-32-4z" fill="#0ceb16"/><path d="M5759 3844l38 5-32 13-37-4z" fill="#0cebda"/><path d="M5829 3833l37 5-33 14-36-3z" fill="#0cebc8"/><path d="M6424 3690l32 6-38 28-32-4z" fill="#2aeb0c"/><path d="M5899 3820l36 5-33 17-36-4z" fill="#0cebb3"/><path d="M5969 3806l36 5-34 18-36-4z" fill="#0ceb9c"/><path d="M6039 3790l35 5-34 20-35-4z" fill="#0ceb81"/><path d="M6109 3772l35 5-36 22-34-4z" fill="#0ceb64"/><path d="M6179 3752l34 6-35 24-34-5z" fill="#0ceb43"/><path d="M6250 3731l33 6-36 26-34-5z" fill="#0ceb20"/><path d="M6321 3708l32 7-37 27-33-5z" fill="#1deb0c"/><path d="M5792 3827l37 6-32 16-38-5z" fill="#0cebab"/><path d="M6391 3684l33 6-38 30-33-5z" fill="#46eb0c"/><path d="M5862 3814l37 6-33 18-37-5z" fill="#0ceb96"/><path d="M5933 3800l36 6-34 19-36-5z" fill="#0ceb7e"/><path d="M6003 3783l36 7-34 21-36-5z" fill="#0ceb64"/><path d="M6074 3765l35 7-35 23-35-5z" fill="#0ceb46"/><path d="M6145 3746l34 6-35 25-35-5z" fill="#0ceb26"/><path d="M6216 3724l34 7-37 27-34-6z" fill="#15eb0c"/><path d="M6287 3701l34 7-38 29-33-6z" fill="#3beb0c"/><path d="M6359 3676l32 8-38 31-32-7z" fill="#64eb0c"/><path d="M5825 3807l37 7-33 19-37-6z" fill="#0ceb77"/><path d="M5896 3792l37 8-34 20-37-6z" fill="#0ceb5f"/><path d="M5967 3776l36 7-34 23-36-6z" fill="#0ceb44"/><path d="M6038 3757l36 8-35 25-36-7z" fill="#0ceb27"/><path d="M6110 3737l35 9-36 26-35-7z" fill="#11eb0c"/><path d="M6181 3716l35 8-37 28-34-6z" fill="#35eb0c"/><path d="M6253 3692l34 9-37 30-34-7z" fill="#5beb0c"/><path d="M6325 3667l34 9-38 32-34-7z" fill="#84eb0c"/><path d="M5858 3783l38 9-34 22-37-7z" fill="#0ceb3e"/><path d="M5930 3767l37 9-34 24-37-8z" fill="#0ceb23"/><path d="M6002 3748l36 9-35 26-36-7z" fill="#12eb0c"/><path d="M6074 3728l36 9-36 28-36-8z" fill="#33eb0c"/><path d="M6146 3706l35 10-36 30-35-9z" fill="#56eb0c"/><path d="M6219 3683l34 9-37 32-35-8z" fill="#7ceb0c"/><path d="M6291 3657l34 10-38 34-34-9z" fill="#a6eb0c"/><path d="M5892 3757l38 10-34 25-38-9z" fill="#17eb0c"/><path d="M5965 3738l37 10-35 28-37-9z" fill="#35eb0c"/><path d="M6038 3718l36 10-36 29-36-9z" fill="#56eb0c"/><path d="M6110 3695l36 11-36 31-36-9z" fill="#79eb0c"/><path d="M6183 3672l36 11-38 33-35-10z" fill="#a0eb0c"/><path d="M6257 3646l34 11-38 35-34-9z" fill="#c9eb0c"/><path d="M5927 3726l38 12-35 29-38-10z" fill="#5aeb0c"/><path d="M6001 3706l37 12-36 30-37-10z" fill="#7beb0c"/><path d="M6074 3683l36 12-36 33-36-10z" fill="#9eeb0c"/><path d="M6148 3659l35 13-37 34-36-11z" fill="#c5eb0c"/><path d="M6222 3633l35 13-38 37-36-11z" fill="#ebe70c"/><path d="M5963 3693l38 13-36 32-38-12z" fill="#a2eb0c"/><path d="M6037 3670l37 13-36 35-37-12z" fill="#c5eb0c"/><path d="M6111 3645l37 14-38 36-36-12z" fill="#ebe90c"/><path d="M6186 3619l36 14-39 39-35-13z" fill="#ebc00c"/><path d="M5999 3655l38 15-36 36-38-13z" fill="#ebe70c"/><path d="M6074 3630l37 15-37 38-37-13z" fill="#ebc10c"/><path d="M6149 3604l37 15-38 40-37-14z" fill="#eb970c"/><path d="M6036 3614l38 16-37 40-38-15z" fill="#eb960c"/><path d="M6112 3587l37 17-38 41-37-15z" fill="#eb6c0c"/><path d="M6074 3568l38 19-38 43-38-16z" fill="#eb400c"/></g><text x="542.9" y="410.0" font-size="2.90" fill="#333" text-anchor="end" stroke="#333" stroke-width=".12">8</text>
<text x="552.3" y="414.2" font-size="2.90" fill="#333" text-anchor="end" stroke="#333" stroke-width=".12">7</text>
<text x="562.1" y="418.6" font-size="2.90" fill="#333" text-anchor="end" stroke="#333" stroke-width=".12">6</text>
<text x="572.4" y="423.2" font-size="2.90" fill="#333" text-anchor="end" stroke="#333" stroke-width=".12">5</text>
<text x="583.2" y="428.0" font-size="2.90" fill="#333" text-anchor="end" stroke="#333" stroke-width=".12">4</text>
<text x="594.5" y="433.1" font-size="2.90" fill="#333" text-anchor="end" stroke="#333" stroke-width=".12">3</text>
<text x="606.4" y="438.4" font-size="2.90" fill="#333" text-anchor="end" stroke="#333" stroke-width=".12">2</text>
<text x="608.6" y="438.0" font-size="2.90" fill="#333" stroke="#333" stroke-width=".12">6500</text>
<text x="622.7" y="431.7" font-size="2.90" fill="#333" stroke="#333" stroke-width=".12">9400</text>
<text x="636.0" y="425.6" font-size="2.90" fill="#333" stroke="#333" stroke-width=".12">12300</text>
<text x="648.5" y="420.0" font-size="2.90" fill="#333" stroke="#333" stroke-width=".12">15200</text>
<text x="660.4" y="414.6" font-size="2.90" fill="#333" stroke="#333" stroke-width=".12">18100</text>
<text x="671.6" y="409.5" font-size="2.90" fill="#333" stroke="#333" stroke-width=".12">21000</text>
<circle cx="544.1" cy="407.4" r=".55" fill="#222"/>
<circle cx="553.5" cy="411.6" r=".55" fill="#222"/>
<circle cx="563.3" cy="416.0" r=".55" fill="#222"/>
<circle cx="573.6" cy="420.6" r=".55" fill="#222"/>
<circle cx="584.4" cy="425.4" r=".55" fill="#222"/>
<circle cx="595.7" cy="430.5" r=".55" fill="#222"/>
<circle cx="607.6" cy="435.8" r=".55" fill="#222"/>
<circle cx="607.6" cy="435.8" r=".55" fill="#222"/>
<circle cx="621.7" cy="429.5" r=".55" fill="#222"/>
<circle cx="635.0" cy="423.4" r=".55" fill="#222"/>
<circle cx="647.5" cy="417.8" r=".55" fill="#222"/>
<circle cx="659.4" cy="412.4" r=".55" fill="#222"/>
<circle cx="670.6" cy="407.3" r=".55" fill="#222"/>
<text x="548.0" y="433.0" font-size="3.00" fill="#333" text-anchor="middle" stroke="#333" stroke-width=".12">C: C (min)</text>
<text x="664.0" y="433.0" font-size="3.00" fill="#333" text-anchor="middle" stroke="#333" stroke-width=".12">B: B (rpm)</text>
<text x="541.9" y="389.0" font-size="2.90" fill="#333" text-anchor="end" stroke="#333" stroke-width=".12">-75</text>
<circle cx="543.3" cy="388.0" r=".6" fill="#222"/>
<text x="541.0" y="369.0" font-size="2.90" fill="#333" text-anchor="end" stroke="#333" stroke-width=".12">-70</text>
<circle cx="542.4" cy="368.0" r=".6" fill="#222"/>
<text x="540.1" y="348.6" font-size="2.90" fill="#333" text-anchor="end" stroke="#333" stroke-width=".12">-65</text>
<circle cx="541.5" cy="347.6" r=".6" fill="#222"/>
<text x="539.2" y="327.6" font-size="2.90" fill="#333" text-anchor="end" stroke="#333" stroke-width=".12">-60</text>
<circle cx="540.6" cy="326.6" r=".6" fill="#222"/>
<text x="521.0" y="365.0" font-size="2.9" fill="#555" text-anchor="middle" transform="rotate(-90 521.0 365.0)">Zeta potential (mV)</text><line x1="637.5" y1="313.1" x2="637.5" y2="352.0" stroke="#111" stroke-width=".75"/>
<rect x="629.0" y="309.5" width="9.6" height="3.8" fill="#f2f2f2" stroke="#6a6a6a" stroke-width=".45"/>
<text x="633.8" y="312.5" font-size="2.30" fill="#777" text-anchor="middle" textLength="7.6" lengthAdjust="spacingAndGlyphs">0.00000</text>
<line x1="576.8" y1="363.5" x2="576.8" y2="369.5" stroke="#333" stroke-width=".5"/>
<ellipse cx="576.8" cy="363.5" rx="1.3" ry="1.9" fill="#a00000"/>
<line x1="642.4" y1="357.5" x2="642.4" y2="361.5" stroke="#333" stroke-width=".5"/>
<ellipse cx="642.4" cy="357.5" rx="1.3" ry="1.9" fill="#a00000"/>
<ellipse cx="642.4" cy="361.0" rx="1.3" ry="1.9" fill="#a00000"/>
<ellipse cx="573.0" cy="387.0" rx="1.2" ry="1.5" fill="#fde" stroke="#d07070" stroke-width=".5"/>
<ellipse cx="573.0" cy="391.0" rx="1.2" ry="1.5" fill="#fde" stroke="#d07070" stroke-width=".5"/></g>
<text x="445.0" y="297.8" font-size="3.20" fill="#000" font-weight="bold" textLength="31.9" lengthAdjust="spacingAndGlyphs" stroke-width=".14" stroke="#000">Zeta potential (mV)</text>
<text x="445.0" y="302.8" font-size="3.20" fill="#666" textLength="21.1" lengthAdjust="spacingAndGlyphs" stroke-width=".14" stroke="#666">Design Points</text>
<ellipse cx="448.02" cy="306.70" rx="2.05" ry="1.90" fill="#a00000"/>
<text x="452.8" y="307.8" font-size="3.20" fill="#c02020" textLength="22.7" lengthAdjust="spacingAndGlyphs" stroke-width=".14" stroke="#c02020">Above Surface</text>
<ellipse cx="448.02" cy="311.70" rx="1.62" ry="1.50" fill="#fff" stroke="#d06060" stroke-width=".7"/>
<text x="452.8" y="312.8" font-size="3.20" fill="#c02020" textLength="22.1" lengthAdjust="spacingAndGlyphs" stroke-width=".14" stroke="#c02020">Below Surface</text>
<text x="445.0" y="317.8" font-size="3.20" fill="#3030ff" textLength="7.8" lengthAdjust="spacingAndGlyphs" stroke-width=".14" stroke="#3030ff">-74.7</text>
<defs><linearGradient id="gri"><stop offset="0" stop-color="#0010c0"/><stop offset=".3" stop-color="#00c020"/><stop offset=".55" stop-color="#00f000"/><stop offset=".72" stop-color="#20a000"/><stop offset=".85" stop-color="#d02000"/><stop offset="1" stop-color="#c01000"/></linearGradient></defs>
<rect x="454.29" y="314.50" width="12.42" height="4.40" rx="0.60" fill="url(#gri)"/>
<text x="468.2" y="317.8" font-size="3.20" fill="#ff3030" textLength="8.0" lengthAdjust="spacingAndGlyphs" stroke-width=".14" stroke="#ff3030">-62.9</text>
<text x="445.0" y="328.3" font-size="3.20" fill="#222" textLength="10.6" lengthAdjust="spacingAndGlyphs" stroke-width=".14" stroke="#222">X1 = B</text>
<text x="445.0" y="333.3" font-size="3.20" fill="#222" textLength="10.6" lengthAdjust="spacingAndGlyphs" stroke-width=".14" stroke="#222">X2 = C</text>
<text x="445.0" y="343.3" font-size="3.20" fill="#000" font-weight="bold" textLength="21.1" lengthAdjust="spacingAndGlyphs" stroke-width=".14" stroke="#000">Actual Factor</text>
<text x="445.0" y="348.3" font-size="3.20" fill="#222" textLength="20.0" lengthAdjust="spacingAndGlyphs" stroke-width=".14" stroke="#222">A = 30.0001</text>
<g transform="translate(482.69 352.40) scale(0.620)" stroke="#1a1a1a" stroke-width="2.1" fill="none"><path d="M4 1.2H1.2V8.8H8.8V6"/><path d="M3.8 6.2L7.6 2.4"/><path d="M5.2 0.6H9.4V4.8Z" fill="#1a1a1a" stroke-width=".6"/></g>
<line x1="0.6" y1="0" x2="0.6" y2="445.5" stroke="#a0a0a0" stroke-width="1.3"/>
<line x1="213.8" y1="0" x2="213.8" y2="445.5" stroke="#b4b4b4" stroke-width="1.3"/>
<line x1="218.7" y1="0" x2="218.7" y2="445.5" stroke="#a8a8a8" stroke-width="1.3"/>
<line x1="439.6" y1="0" x2="439.6" y2="445.5" stroke="#8c8c8c" stroke-width="1.3"/>
<line x1="443.9" y1="0" x2="443.9" y2="445.5" stroke="#a0a0a0" stroke-width="1.3"/>
<line x1="684.3" y1="0" x2="684.3" y2="445.5" stroke="#909090" stroke-width="1.3"/>
<line x1="0.0" y1="0.5" x2="214.5" y2="0.5" stroke="#6a6a6a" stroke-width="1.3"/>
<line x1="218.0" y1="0.5" x2="440.3" y2="0.5" stroke="#6a6a6a" stroke-width="1.3"/>
<line x1="443.2" y1="0.5" x2="685.0" y2="0.5" stroke="#6a6a6a" stroke-width="1.3"/>
<line x1="0.0" y1="148.6" x2="214.5" y2="148.6" stroke="#a6a6a6" stroke-width="1.3"/>
<line x1="218.0" y1="148.6" x2="440.3" y2="148.6" stroke="#a6a6a6" stroke-width="1.3"/>
<line x1="443.2" y1="148.6" x2="685.0" y2="148.6" stroke="#a6a6a6" stroke-width="1.3"/>
<line x1="0.0" y1="292.6" x2="214.5" y2="292.6" stroke="#505050" stroke-width="1.3"/>
<line x1="218.0" y1="292.6" x2="440.3" y2="292.6" stroke="#505050" stroke-width="1.3"/>
<line x1="443.2" y1="291.8" x2="685.0" y2="291.8" stroke="#a8a8a8" stroke-width="1.3"/>
<line x1="0.0" y1="444.9" x2="214.5" y2="444.9" stroke="#b8b8b8" stroke-width="1.3"/>
<line x1="218.0" y1="444.9" x2="440.3" y2="444.9" stroke="#b8b8b8" stroke-width="1.3"/>
<line x1="443.2" y1="444.9" x2="685.0" y2="444.9" stroke="#b8b8b8" stroke-width="1.3"/>
<text x="8.3" y="139.7" font-size="19.5" font-family="Liberation Sans, sans-serif" fill="#111">a</text>
<text x="226.2" y="139.3" font-size="20.0" font-family="Liberation Sans, sans-serif" fill="#111">b</text>
<text x="451.0" y="139.3" font-size="21.0" font-family="Liberation Sans, sans-serif" fill="#111">c</text>
<text x="9.3" y="283.9" font-size="20.0" font-family="Liberation Sans, sans-serif" fill="#111">d</text>
<text x="226.2" y="283.9" font-size="19.5" font-family="Liberation Sans, sans-serif" fill="#111">e</text>
<text x="449.3" y="282.7" font-size="19.0" font-family="Liberation Sans, sans-serif" fill="#111">f</text>
<text x="3.7" y="434.3" font-size="21.5" font-family="Liberation Serif, serif" fill="#111">g</text>
<text x="222.0" y="436.7" font-size="19.8" font-family="Liberation Sans, sans-serif" fill="#111">h</text>
<text x="450.0" y="441.6" font-size="18.0" font-family="Liberation Sans, sans-serif" fill="#111">i</text></svg>
</body></html>
